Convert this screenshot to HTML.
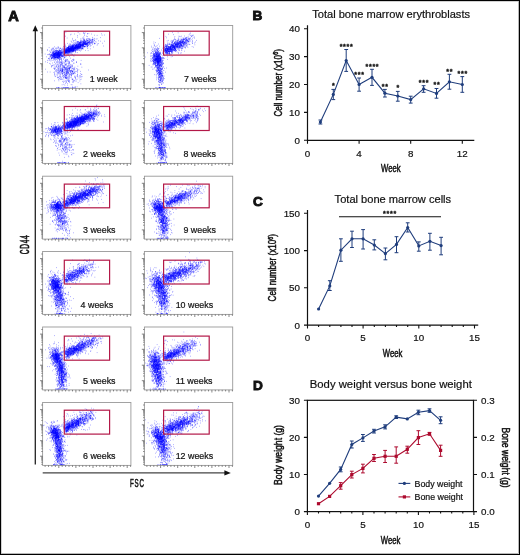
<!DOCTYPE html>
<html><head><meta charset="utf-8"><style>
html,body{margin:0;padding:0;background:#fff;}
svg{display:block;}
text{font-family:"Liberation Sans", sans-serif;fill:#111;stroke:#111;stroke-width:0.2px;}
</style></head><body>
<svg width="520" height="555" viewBox="0 0 520 555" style="will-change:transform">
<rect x="0" y="0" width="520" height="555" fill="#fff"/>
<g transform="scale(0.2)" fill="none" stroke="#0000ff" stroke-width="2.5"><path d="M264 288h3m39-26h3m-37 15h3m6-7h3m0 1h3m-11 17h3m-18-21h3m33 4h3m-8 1h3m-43 0h3m65-34h3m-21 34h3m-38-32h3m27 11h3m-23 16h3m5 9h3m12 2h3m-37 6h3m27-8h3m9-13h3m-1 18h3m-33-12h3m20 12h3m-52-31h3m24 10h3m8 3h3m-32 12h3m13-32h3m34 32h3m12 0h3m-34 3h3m-5-16h3m-29 28h3m-11-22h3m-3 17h3m27-16h3m1-1h3m-27 3h3m-12 3h3m24 9h3m-1 4h3m-11 1h3m19-10h3m-26 1h3m-3-3h3m-17 18h3m13-29h3m17-5h3m-23 11h3m-7-20h3m6 16h3m-5 2h3m-1-12h3m-2 6h3m1 14h3m-28-7h3m16 1h3m-33 16h3m25-24h3m-30-2h3m19 10h3m7 3h3m-22-23h3m10 27h3m-33-6h3m9-3h3m22-10h3m-32 13h3m29 8h3m-38 1h3m6 2h3m-8-13h3m19 19h3m5-5h3m-32-10h3m6-33h3m33 26h3m-30 37h3m-17-31h3m15-15h3m-8 33h3m-15-25h3m-19 16h3m41-5h3m-31-21h3m10 16h3m-19 16h3m33-25h3m-10 13h3m0-8h3m-19 15h3m8 8h3m-2-35h3m1 9h3m-14 10h3m-11-11h3m-8-2h3m-9 7h3m-6 2h3m18-9h3m-11 13h3m-31 11h3m27-6h3m18-4h3m-25 10h3m-34-25h3m28 9h3m13 1h3m-12 5h3m-18-22h3m42 33h3m-8-32h3m-34 19h3m14 3h3m-10 5h3m0-21h3m9-1h3m-12 13h3m-15 5h3m-15 5h3m-7-10h3m9-10h3m15-11h3m-11 38h3m-13-35h3m4 23h3m-7-4h3m6 4h3m-30 7h3m-17 7h3m20-20h3m-14 7h3m38-35h3m-28 28h3m-7-11h3m-22 13h3m30 11h3m-21-11h3m28 6h3m-10-14h3m-29 12h3m15-13h3m-59-15h3m35 15h3m30-1h3m-10 7h3m-14 0h3m-6-1h3m-24 16h3m-3-4h3m21-16h3m26 10h3m-75-21h3m47 11h3m-3 2h3m6 15h3m-37-16h3m1-11h3m10 17h3m-18 21h3m-10-22h3m3 1h3m10-4h3m5 2h3m-7 15h3m0 8h3m-19-15h3m-5-7h3m32 17h3m-26-17h3m-4 0h3m13-8h3m2 0h3m-1 6h3m-18-3h3m-9 9h3m2-5h3m-4 6h3m15-14h3m-21 5h3m4 4h3m-15 0h3m21-4h3m-58 23h3m33-33h3m1-11h3m-29 36h3m50-21h3m-38 25h3m-6-16h3m-21-10h3m37 33h3m-18-19h3m-18-7h3m10-6h3m7 14h3m3-16h3m-17 15h3m-21 12h3m-2-30h3m-29 17h3m24 5h3m24 9h3m-9-7h3m-15-15h3m-3 23h3m25-27h3m-24 6h3m8 5h3m-14-16h3m-12 52h3m30-29h3m-52-3h3m-4-9h3m9-9h3m-5 19h3m1 3h3m-6-13h3m24-2h3m-17 11h3m0-8h3m-39-15h3m15 27h3m28-10h3m-40 12h3m34-24h3m-43-9h3m21 6h3m-19 21h3m18 17h3m-21 7h3m4-26h3m25-26h3m-34 19h3m38 2h3m-44 7h3m-16-1h3m20 10h3m-15-24h3m30-21h3m-15 17h3m2-4h3m-5 41h3m22-33h3m-33-10h3m-3 25h3m-25 8h3m-6-11h3m15-1h3m12 7h3m-2-6h3m-40-8h3m25 10h3m-8 5h3m-26-3h3m25 2h3m-50 4h3m37-16h3m34-6h3m-59 19h3m12-16h3m-32 25h3m16-3h3m16-42h3m-29 28h3m12-11h3m-8 3h3m-1 9h3m5-5h3m4 7h3m9-5h3m-10 2h3m-28-9h3m30-1h3m-2 21h3m-57-37h3m42 42h3m-5-27h3m3 20h3m-18-43h3m-29 31h3m17 12h3m-35-3h3m31 4h3m29-28h3m-24 8h3m-1-2h3m-23 17h3m-11 1h3m-6-6h3m17-5h3m-18 2h3m0 4h3m25-17h3m-48 18h3m2-2h3m10-7h3m4-1h3m0 23h3m-28-20h3m26 7h3m-7 12h3m4-8h3m-28-5h3m21 8h3m-9-28h3m-17 5h3m6 8h3m-8 3h3m29-4h3m-74 36h3m25-7h3m-11-19h3m20-1h3m-11-12h3m4 13h3m13-23h3m-37 39h3m6-25h3m10 11h3m-23-19h3m28 27h3m-5-9h3m-17 19h3m-25-19h3m50-29h3m-20 13h3m-5-6h3m-3 34h3m-9-25h3m11-4h3m-15 18h3m-13-2h3m19-1h3m-16-10h3m-19-15h3m-4 8h3m29-16h3m-4 42h3m18-8h3m-47-8h3m-5 12h3m17-2h3m13-4h3m-16 1h3m-6 5h3m20-14h3m-51-18h3m-13-5h3m14 45h3m2-9h3m3-38h3m13 29h3m-16-10h3m17 0h3m-47-17h3m50 31h3m-50-2h3m32 5h3m-38 9h3m19-1h3m-7 5h3m2-17h3m0-2h3m-20-7h3m1 13h3m1-9h3m-31-7h3m12 26h3m-19-3h3m17-44h3m36 3h3m-25 23h3m-32-8h3m5 29h3m23-17h3m-26 9h3m-21 8h3m7 3h3m-7-19h3m0 10h3m24-9h3m-12 8h3m-29 2h3m14 7h3m-14-8h3m-7-12h3m-6 8h3m48-24h3m-34 23h3m14 11h3m-2-25h3m-26-9h3m15 16h3m-4-5h3m-7 7h3m28-13h3m-33 13h3m-13-11h3m16 27h3m13-24h3m-15 11h3m-27 7h3m-11-9h3m-3 7h3m0-9h3m14-5h3m5 1h3m-53 18h3m31-27h3m-21 7h3m27-4h3m2 2h3m-28 25h3m0-15h3m-12-2h3m20 2h3m-34 16h3m1-22h3m8 19h3m22-44h3m20 13h3m-38 34h3m-24 5h3m16-20h3m-20-4h3m22 11h3m-32-10h3m14 20h3m2-5h3m5-6h3m-16-17h3m23 17h3m-25-11h3m-35 6h3m42-10h3m-22 7h3m-9 8h3m34-2h3m-44 7h3m20 27h3m-24-41h3m34 11h3m-35-16h3m8 4h3m-32-7h3m49 20h3m-47-4h3m30-7h3m0-4h3m1 12h3m4-18h3m-51 19h3m27 20h3m-12-30h3m0-7h3m8-6h3m-16 24h3m-20-6h3m8-12h3m24-5h3m-47 18h3m16-16h3m-14 39h3m27-33h3m-49 9h3m19-3h3m-3-21h3m2 4h3m36 6h3m-16 6h3m-48-6h3m56 24h3m-61-4h3m-26 21h3m6-3h3m34-31h3m13 44h3m-77-28h3m56-46h3m-22-4h3m28 35h3m-27 20h3m26-19h3m-6 29h3m-52-27h3m64 4h3m-33 8h3m4-32h3m14 20h3m-57 11h3m21 8h3m-21 6h3m-6-4h3m21-35h3m3 25h3m22 2h3m-4-18h3m-36 18h3m-22 4h3m96-10h3m-32-15h3m-56 17h3m-24-1h3m9-5h3m12-14h3m18 1h3m-9-13h3m-13 18h3m-17 18h3m7-3h3m-15 4h3m4-16h3m-3 26h3m7-34h3m-58 31h3m34-12h3m-6-20h3m-23 4h3m25 21h3m-27-9h3m7 3h3m15 45h3m-10-42h3m-12-6h3m40 3h3m-29-19h3m1 7h3m-3 11h3m-29-18h3m-6 15h3m39-10h3m-32 10h3m-43-26h3m-3 62h3m51-42h3m-25 15h3m9-30h3m-16-2h3m5 21h3m2-6h3m-27 21h3m23-32h3m21-6h3m-6 24h3m-62 17h3m8 2h3m-6-16h3m24 0h3m21-23h3m-9 38h3m-55 6h3m41-8h3m8-49h3m-27 47h3m50-37h3m-62 31h3m42-9h3m28 9h3m-96-8h3m20-7h3m17-15h3m60-15h3m-119 52h3m50-36h3m-5 28h3m-24-14h3m-13-2h3m9 25h3m2-3h3m-32-27h3m69 1h3m-68 15h3m15 8h3m-13-23h3m4 5h3m11 3h3m-22 17h3m11 1h3m40-33h3m-12 42h3m-40-17h3m22-25h3m-46-6h3m25 14h3m-49-25h3m11 42h3m5 5h3m51 3h3m-30-9h3m-2-38h3m-8 25h3m5 16h3m-11-49h3m10 22h3m-14 27h3m-31-5h3m-6-36h3m51 17h3m3 8h3m-18 39h3m-64-34h3m74-21h3m-30 25h3m-12 3h3m0 3h3m-10 17h3m44-35h3m-8-22h3m-66 36h3m18-4h3m12 14h3m20-6h3m-98-11h3m84 11h3m15 1h3m-55-12h3m7 18h3m26-19h3m-24 4h3m-46 2h3m4 16h3m7 34h3m-21-43h3m28-30h3m-13 18h3m10-8h3m16 12h3m22-12h3m-34 52h3m-59-21h3m80 4h3m-48-36h3m135-43h3m-76 29h3m-11 7h3m131-36h3m-67-7h3m-62 53h3m-4-10h3m45-2h3m-57-4h3m112-39h3m-99 33h3m-7 7h3m5-15h3m-12 5h3m-9 7h3m-7 9h3m57-42h3m44-10h3m-98 36h3m18 0h3m-43 20h3m31-34h3m-32 17h3m75-27h3m-96 33h3m31 6h3m-27 11h3m121-54h3m-135 48h3m27-25h3m71-30h3m-61 37h3m-8 11h3m42-35h3m-25 15h3m24 2h3m-25 10h3m-13-22h3m18 4h3m-93 39h3m27-32h3m37-6h3m-73 33h3m87-42h3m-15 15h3m-34 4h3m-31 1h3m-14 8h3m17-16h3m-10 10h3m0 14h3m22-12h3m-17 7h3m92-29h3m-131 29h3m58-20h3m20-4h3m-31 25h3m-15-7h3m-25 5h3m42-14h3m-69 17h3m144-75h3m-154 87h3m66-36h3m-47 26h3m-13-9h3m45-19h3m17 8h3m-68 21h3m13-1h3m35-29h3m-48 25h3m65-21h3m-29 12h3m18-17h3m18-6h3m-101 36h3m15-8h3m54-22h3m-57 26h3m4-18h3m-40 26h3m52-31h3m5 6h3m-31 9h3m-31 15h3m17-12h3m-2 1h3m19-20h3m103-15h3m-142 29h3m59-32h3m42 4h3m-49 20h3m-82 26h3m51-24h3m12-14h3m-39 40h3m48-53h3m-58 59h3m-19-26h3m30-9h3m50-15h3m-94 36h3m19-2h3m27-24h3m48-16h3m-16-7h3m-62 50h3m-36 1h3m26-16h3m30-7h3m-8 10h3m-30 6h3m36-26h3m-69 35h3m97-38h3m-64 25h3m-40 9h3m66-19h3m-29-6h3m-19 17h3m-15-2h3m20-2h3m2-8h3m21 2h3m57-35h3m-50 35h3m4-24h3m-6 21h3m10-24h3m-16-11h3m-19 22h3m-12 21h3m-31 5h3m-34 14h3m25-18h3m48-14h3m-65 14h3m-3 22h3m69-28h3m-67 15h3m-41 7h3m44-21h3m65-15h3m-101 36h3m13-17h3m3 12h3m-26 9h3m48-22h3m-18 5h3m-23 6h3m8-6h3m-32 10h3m-8-1h3m35 0h3m47-46h3m-47 34h3m90-29h3m-94 47h3m-26-13h3m-8 16h3m36-15h3m9-8h3m36-5h3m-95 4h3m-10 24h3m-17-3h3m110-40h3m-37 8h3m-24 2h3m-35 6h3m-31 29h3m35-20h3m-7-7h3m88-27h3m-87 25h3m-44 20h3m112-38h3m-44 21h3m-3-25h3m-62 41h3m48-14h3m-30-6h3m37-8h3m-13 10h3m-19 12h3m-27-9h3m-22 5h3m83-28h3m-96 39h3m47-16h3m-46 18h3m26-29h3m-18 29h3m82-57h3m-12 23h3m-13 6h3m-28 9h3m-19 5h3m-2 0h3m-40 6h3m48-22h3m22 18h3m15-12h3m-77 25h3m41-21h3m-77 10h3m39 11h3m31-31h3m-80 33h3m2 4h3m22-22h3m-15 21h3m-5-29h3m69 2h3m-23 1h3m20-23h3m-31 28h3m-56 23h3m33-17h3m76-29h3m-105 29h3m8 7h3m28-12h3m9-3h3m24-16h3m-63 3h3m38 4h3m-23-10h3m8 0h3m-54 27h3m-8 5h3m-19 2h3m-6 6h3m39-15h3m6-6h3m79-34h3m-122 50h3m24-8h3m-43 3h3m72-38h3m32 12h3m-93 26h3m39-40h3m-45 48h3m113-44h3m-119 20h3m-14 10h3m48-16h3m-41 10h3m-6 6h3m71-26h3m-31 22h3m-13-29h3m-50 43h3m59-15h3m-81 2h3m17 14h3m44-23h3m-25 5h3m9 7h3m57-17h3m-94 32h3m10 3h3m57-49h3m-39 3h3m-35 28h3m75-26h3m27-1h3m-52 12h3m-81 22h3m0 14h3m19-16h3m-11 2h3m56-28h3m63-20h3m-146 58h3m15-12h3m24-33h3m-57 37h3m69-18h3m-36 22h3m53-24h3m-37 12h3m30-6h3m-86 22h3m57-17h3m-34 8h3m35-21h3m-21-3h3m-12-3h3m-11 21h3m-42 3h3m86-27h3m-84 39h3m18-20h3m88-21h3m-121 38h3m112-56h3m-90 49h3m19-7h3m93-51h3m-29 22h3m-88 19h3m51-11h3m-77 31h3m88-49h3m-77 41h3m26 1h3m-46-1h3m47-26h3m49-26h3m-105 50h3m22-13h3m-11-2h3m82-18h3m-74 30h3m85-49h3m-62 35h3m36-6h3m-117 39h3m50-23h3m14-2h3m-71 16h3m23 2h3m69-17h3m-84 8h3m-15-5h3m21 0h3m-5-2h3m78-22h3m-51 28h3m-64 18h3m102-28h3m-83 18h3m33-18h3m14-27h3m-88 57h3m101-52h3m-30 13h3m-49 21h3m19 8h3m38-22h3m-76 21h3m-19-5h3m55-17h3m37-14h3m-65 35h3m-29 7h3m0-1h3m36-29h3m11 12h3m-62 36h3m22-43h3m41-16h3m-22 18h3m-31 19h3m37-22h3m-20 6h3m12 7h3m38-42h3m-61 15h3m-19 13h3m-12 23h3m8-3h3m-30-1h3m0-10h3m19-4h3m52-11h3m-19 12h3m-61 9h3m71-33h3m-88 35h3m61-24h3m-70 38h3m60-29h3m-32 13h3m54-25h3m-5 2h3m-54 7h3m20-8h3m-59 35h3m94-38h3m-81 37h3m87-46h3m-1-10h3m-112 52h3m40-18h3m-24 15h3m-4-5h3m59-19h3m-18 7h3m19-9h3m-36 14h3m-27-5h3m-27 28h3m22-5h3m27-18h3m-21 13h3m24-20h3m-59 13h3m43-9h3m-20 2h3m-6 0h3m53-4h3m-42-9h3m-37 31h3m-28-4h3m2-12h3m-5 21h3m38-21h3m-19 7h3m-15 6h3m10 1h3m-46 11h3m33-19h3m27-11h3m-58 27h3m0-9h3m27-4h3m68-53h3m-57 41h3m-11 4h3m50-13h3m-70 10h3m-10 10h3m38-10h3m2 20h3m0-26h3m-62 27h3m64-37h3m77-1h3m-93 8h3m-53 20h3m-27 13h3m80-47h3m-21 11h3m-22 13h3m18-13h3m35 3h3m-87 19h3m97-12h3m-76 8h3m-8-7h3m8 3h3m-6 6h3m-18 0h3m-13 7h3m30-18h3m-40 10h3m41-12h3m74-11h3m-109 20h3m19-6h3m30-28h3m-67 35h3m-9 11h3m27-18h3m27 2h3m-21 5h3m-59 10h3m99-38h3m-49 25h3m-70 24h3m-6-4h3m-8-10h3m86-9h3m6-16h3m-74 29h3m-28 4h3m48-3h3m-17-8h3m58-21h3m-30-10h3m33 0h3m15-4h3m-78 34h3m-24 11h3m19-16h3m44-7h3m-31 0h3m-44 16h3m9-4h3m-14-9h3m40-24h3m56 16h3m-123 16h3m53-15h3m0 10h3m54-36h3m-105 57h3m59-53h3m-10 24h3m-18 10h3m-48 29h3m22-15h3m8-23h3m5 11h3m-56 16h3m79-47h3m-63 32h3m10 8h3m3-14h3m51-29h3m-40 19h3m-54 16h3m2-5h3m6 12h3m48-19h3m-69 30h3m24-32h3m16-4h3m-1 13h3m-54 17h3m14-9h3m28-22h3m31-6h3m-53 11h3m52 5h3m-26 1h3m-38-1h3m0 18h3m17-28h3m-28 24h3m-26 6h3m7-9h3m20 6h3m65-57h3m-31 26h3m-94 37h3m91-53h3m-61 28h3m83-20h3m-33 13h3m29-26h3m-42 32h3m-35 11h3m57-20h3m-95 27h3m50-20h3m-9 9h3m-72 18h3m70-33h3m-1-4h3m-27 25h3m-41 20h3m-14-18h3m19 3h3m55-15h3m-6 8h3m-59 11h3m77-42h3m-104 54h3m75-15h3m-75 11h3m64-24h3m-29 19h3m9-32h3m-29 30h3m104-34h3m-66 19h3m-49 11h3m7-9h3m2-3h3m-6-5h3m-17 12h3m-8-3h3m136-47h3m-117 44h3m71-33h3m-52 21h3m-8 7h3m-31 0h3m51-5h3m-39 9h3m46-15h3m-53 11h3m-30 13h3m70-27h3m10-5h3m-4-5h3m-21 8h3m-80 30h3m81-33h3m-89 32h3m71-31h3m32-17h3m-26 33h3m-54 1h3m-15 10h3m-27 3h3m35-6h3m-27 17h3m-26-5h3m-13 10h3m34-16h3m12 2h3m-19-2h3m22-10h3m0-3h3m-23-6h3m17 17h3m-43 20h3m-28-8h3m31-1h3m-7-5h3m44-6h3m-43-1h3m-15 12h3m15 0h3m-8-4h3m-9 0h3m-14 2h3m-12 0h3m54-17h3m-27 0h3m-14 25h3m16-16h3m11-11h3m-3-11h3m-5 22h3m-55 22h3m65-33h3m-16 9h3m-45 16h3m75-38h3m-89 32h3m77-28h3m25 0h3m-122 31h3m32-23h3m99-27h3m-102 40h3m13-9h3m31-11h3m-69 16h3m50-20h3m-4 5h3m-36 16h3m39-12h3m-19 8h3m20-14h3m3-5h3m-19-1h3m-57 27h3m-33 4h3m20-4h3m64-17h3m-6 2h3m27-27h3m-72 47h3m-45-10h3m84-12h3m-87 28h3m69-30h3m-80 35h3m60-31h3m-44 36h3m9-25h3m-13 5h3m11-1h3m-22-10h3m58-10h3m-48 8h3m78-8h3m-111 26h3m2 1h3m11-19h3m80-2h3m-35-20h3m8-2h3m-1 5h3m-2-14h3m14 1h3m-35 22h3m-40 27h3m12-5h3m-36-5h3m2 2h3m20 1h3m-20 10h3m41-34h3m46-15h3m-67 29h3m-53 21h3m23-14h3m-6 18h3m10-22h3m69-15h3m-62 17h3m-37 36h3m-14-12h3m-8-23h3m23 9h3m29-36h3m71 3h3m-68 9h3m13-24h3m-80 43h3m-8 7h3m81-17h3m-81 18h3m8-1h3m-8-7h3m11-5h3m-44 10h3m143-52h3m-122 49h3m10-3h3m7-11h3m-13 9h3m58-27h3m-103 46h3m26-18h3m-35 13h3m112-51h3m-44 19h3m-46 22h3m20-16h3m53-2h3m-57 19h3m-7-4h3m-42 18h3m-4-14h3m64-24h3m-74 31h3m109-40h3m-44 22h3m50-20h3m-68 5h3m53-11h3m-100 48h3m-20-3h3m53-17h3m-35-4h3m27 1h3m-14 2h3m-8-12h3m25 12h3m-32 16h3m5-8h3m-15-4h3m-23 10h3m11-10h3m64-16h3m-44 15h3m-61 29h3m49-31h3m-33 19h3m-18-2h3m62-31h3m29-7h3m-109 36h3m101-44h3m-66 40h3m36-15h3m-65 13h3m33-17h3m-39 21h3m-2-5h3m52-10h3m31-23h3m-33 3h3m-63 30h3m60-15h3m-38 27h3m28-25h3m-7-15h3m52-20h3m-16 17h3m-82 29h3m41-16h3m3 15h3m-33-15h3m10-5h3m66-20h3m-60 24h3m-56 23h3m-13 8h3m109-51h3m-38 24h3m-63 16h3m82-32h3m-80 13h3m-27 17h3m1 2h3m16 1h3m-48 8h3m55-27h3m47-19h3m-27 32h3m-21-21h3m-10 18h3m-44 15h3m24 0h3m-6-4h3m-6-8h3m35-5h3m-77 32h3m82-47h3m-35 2h3m36-13h3m-71 39h3m-17-2h3m55-15h3m-59 30h3m62-32h3m6 14h3m54-44h3m-35 2h3m-40 29h3m39-9h3m-53-2h3m-12 20h3m16 3h3m-61 10h3m44-5h3m39-47h3m-68 46h3m15-27h3m-68 28h3m88-37h3m-83 53h3m33-20h3m15 3h3m27-32h3m-47 11h3m55-1h3m-9-12h3m-65 19h3m29 6h3m-64 25h3m29-26h3m-24 16h3m5 0h3m64-41h3m-40 17h3m-8 12h3m-46 27h3m61-47h3m-17 21h3m-61 21h3m10-8h3m4-6h3m41-23h3m-28 23h3m13-13h3m-33-7h3m59-2h3m-58 13h3m33-9h3m16 12h3m-39-1h3m41-42h3m-30 28h3m4-10h3m1 18h3m6-45h3m-67 63h3m4-7h3m-28 7h3m21-4h3m105-28h3m-122 15h3m-9 13h3m55-20h3m30-12h3m-48 15h3m-61 29h3m64-29h3m0-6h3m-63 13h3m43 2h3m-17 12h3m-26 7h3m83-40h3m-97 43h3m58-48h3m-30 32h3m90-40h3m14-12h3m-131 62h3m74-42h3m-13 2h3m-61 19h3m-25 2h3m72-20h3m-36 33h3m-17 6h3m-6-19h3m14-1h3m57-9h3m-62-2h3m-27 15h3m38-26h3m-62 50h3m6-22h3m67-26h3m-78 33h3m8-11h3m48 11h3m-58 7h3m54-12h3m-57-16h3m20 15h3m15-15h3m-57 14h3m56-14h3m-37 27h3m12-9h3m-27-6h3m91 3h3m-125 22h3m58-41h3m-51 20h3m117-48h3m-107 48h3m-15 1h3m20-10h3m-49 31h3m44-32h3m25-4h3m-56 15h3m6 0h3m-3 11h3m-17-4h3m23-4h3m12-13h3m-34 22h3m22-19h3m11 5h3m-39-7h3m9 16h3m67-33h3m-119 35h3m3-1h3m8-15h3m64-14h3m-63 28h3m41-23h3m-29 24h3m-44-10h3m27 3h3m-16-3h3m54-18h3m-45 29h3m35-23h3m46-4h3m-94 19h3m-3-3h3m48-18h3m-71 19h3m34-11h3m62-19h3m-79 38h3m62-44h3m-81 34h3m14-13h3m121-53h3m-47 34h3m-5 2h3m-68 28h3m-36 8h3m59-6h3m-77-10h3m90-15h3m-43 26h3m-19-8h3m-6 13h3m-33 3h3m18-11h3m-16 12h3m-20-3h3m74-23h3m-6 11h3m-35-12h3m-11 28h3m-12 10h3m84-23h3m-36-19h3m-31 33h3m-24-34h3m2 4h3m-16 26h3m54-42h3m-68 31h3m-12 3h3m15 2h3m-8-3h3m70-36h3m-31 26h3m-67 20h3m86-29h3m-66 29h3m-4 4h3m99-52h3m-122 46h3m87-38h3m-101 33h3m52-2h3m-50 11h3m76-14h3m-73 15h3m-10-7h3m-11 20h3m14-21h3m69-26h3m-64 31h3m50-23h3m-68 12h3m45 1h3m-4-4h3m-12-2h3m79-37h3m-21 15h3m-80 5h3m-5 41h3m-10-50h3m42 1h3m15-8h3m28 10h3m-127 44h3m79-28h3m-59 0h3m3 31h3m77-34h3m-93-7h3m19 22h3m-29-18h3m32 4h3m74-14h3m-105 32h3m-11-14h3m16 1h3m-28 32h3m67-39h3m-37 21h3m-5-34h3m54 10h3m-84 27h3m57-42h3m-50 53h3m5-22h3m30 0h3m-32-9h3m24 3h3m-28 11h3m-36 5h3m67-25h3m-66 27h3m27-17h3m3-20h3m-50 42h3m29-19h3m80-27h3m-60 6h3m-7 36h3m-1-9h3m-8 8h3m-16 12h3m-21-6h3m-33-5h3m7-16h3m-8 32h3m5-14h3m14 1h3m45-10h3m-40-8h3m26-23h3m-74 48h3m4-14h3m104-52h3m5 18h3m-28-1h3m-86 44h3m10-26h3m62-13h3m-93 35h3m29-10h3m24-20h3m-50 36h3m-6-26h3m-13 29h3m46-10h3m-3-16h3m48-19h3m-39 2h3m-55 36h3m21-7h3m6-8h3m59-21h3m-98 39h3m22-14h3m-19-21h3m-12 14h3m5 10h3m7 25h3m29-25h3m-33-4h3m3-5h3m7-7h3m5 11h3m-11-10h3m29-7h3m-60 10h3m-5 7h3m1-9h3m56-23h3m40-11h3m-48 42h3m12-18h3m40-5h3m-80 6h3m67-17h3m-122 36h3m88-32h3m-68 27h3m-33-7h3m50 0h3m-42-1h3m-15 27h3m34-30h3m35-31h3m12-1h3m-14 10h3m-38 48h3m-3-38h3m-44 30h3m7 3h3m19-13h3m-28 11h3m81-22h3m-77 9h3m12 28h3m-5-5h3m-57 6h3m130-34h3m-127 30h3m18-16h3m68-42h3m-6 9h3m-79 49h3m79-35h3m-90 49h3m72-26h3m-51 7h3m21-19h3m46 7h3m-40-14h3m-79 1h3m50 5h3m-58 31h3m83-31h3m-63 22h3m37-12h3m43-73h3m-95 109h3m17-29h3m-31 5h3m94-73h3m-62 68h3m47-49h3m-63 14h3m15 29h3m-14 3h3m-50 10h3m35-26h3m-8 20h3m67-33h3m-70 30h3m36-14h3m-58-3h3m16 18h3m-19-17h3m60-2h3m-88 23h3m70-32h3m-60 50h3m-14-13h3m113-46h3m-59 31h3m-7 21h3m-64-42h3m43 24h3m14-13h3m37 1h3m-98 21h3m123-52h3m-95 46h3m-9-6h3m-23-3h3m20 3h3m-9 26h3m-28-7h3m-20-28h3m39 9h3m-5-10h3m17 18h3m-39-13h3m67-16h3m20 1h3m-91 38h3m61-46h3m15 6h3m-2 32h3m-26-38h3m-42 27h3m-40 4h3m13 2h3m23-1h3m-15-1h3m37-7h3m-23-21h3m20 12h3m-56 15h3m69-73h3m-47 81h3m13-20h3m-60 13h3m17 14h3m-37 6h3m49-62h3m-38 55h3m32 13h3m67-56h3m-81 38h3m-42-18h3m71-32h3m-73 34h3m15 25h3m70-29h3m-57-29h3m-44 64h3m-6-36h3m35-9h3m36 3h3m22-21h3m-26 20h3m31-9h3m-76 42h3m-7-22h3m11-8h3m-15 5h3m-1 41h3m20-24h3m-44 15h3m39-24h3m-36 8h3m58-5h3m-27-14h3m-5-22h3m-7 1h3m51 44h3m-47-40h3m-67 33h3m27-5h3m-28 26h3m20-39h3m0 11h3m1 7h3m34-41h3m8 18h3m-55 34h3m33-25h3m23-13h3m-96 42h3m1-9h3m10-10h3m3-4h3m-15 23h3m24-46h3m-1 6h3m-46 45h3m77-24h3m-34-5h3m21-24h3m-19-5h3m11 28h3m11-12h3m-75 31h3m79-31h3m-32-12h3m4 2h3m-49 29h3m-30 10h3m-95 107h3m33-17h3m54-6h3m11 66h3m15 31h3m-17-92h3m-36 4h3m28 0h3m-10-4h3m-39-10h3m-64-59h3m99 69h3m-37-6h3m34-9h3m-46-3h3m8 22h3m20 1h3m-20-57h3m-1 30h3m9 54h3m-10 15h3m-66-64h3m60 66h3m-4 26h3m16-62h3m-31 30h3m25-44h3m-44 53h3m-10-35h3m77 7h3m-67-1h3m-44-30h3m80 16h3m-15 30h3m-25-2h3m-56-17h3m81-4h3m-129-49h3m158 67h3m-35-25h3m-101-19h3m1-17h3m135 83h3m-98-12h3m-8-42h3m29 20h3m-8-22h3m39-42h3m-37 60h3m-21 17h3m-19-52h3m17 48h3m10-17h3m-60-3h3m124-30h3m-75 51h3m-16-64h3m46 91h3m-42-23h3m9 30h3m-50-59h3m-3 14h3m52-26h3m-41 4h3m49-34h3m-80 16h3m120 50h3m-91 12h3m33 4h3m17 2h3m-41-52h3m32 66h3m-96-122h3m61 33h3m-41 30h3m33-11h3m-56-3h3m74 24h3m29 23h3m-109 19h3m36-20h3m-84-58h3m60 8h3m21 33h3m-30-27h3m-15 61h3m4-41h3m26 8h3m-44-46h3m43 50h3m1 41h3m-2-37h3m32 36h3m-82-31h3m28 17h3m-54-57h3m32 78h3m24-49h3m-3-38h3m40 25h3m-88-28h3m14 28h3m-3 28h3m9-77h3m-4 2h3m25 70h3m-35-35h3m1-38h3m-12 36h3m-22 14h3m10-22h3m-23 75h3m-8-65h3m15-39h3m24 49h3m16-25h3m-37 98h3m-21-108h3m16 18h3m18 58h3m0-36h3m-20-29h3m-20 4h3m14 58h3m-21-18h3m21-64h3m12 4h3m-41 40h3m45 19h3m-87-89h3m18 76h3m52 33h3m-57-89h3m11 55h3m50 3h3m-61-49h3m-28 63h3m28-47h3m8 40h3m-9-35h3m-12-11h3m40 13h3m1 3h3m-25 67h3m-58-20h3m31-23h3m-12-12h3m61 23h3m-11 10h3m-82-21h3m-56-12h3m133 65h3m-92-99h3m-13 16h3m44 12h3m74 43h3m-20-21h3m-48-23h3m23 21h3m12-58h3m18 43h3m-89 9h3m44 54h3m-25-28h3m-12-48h3m-23-37h3m56 83h3m-25-9h3m-25-52h3m-31 31h3m40-23h3m31-27h3m-55 60h3m-3 8h3m17-19h3m-39 8h3m59 68h3m9-127h3m-68 46h3m57-1h3m-73 0h3m37 25h3m-21 3h3m39 2h3m-46-56h3m-42-6h3m33 115h3m0-70h3m72 20h3m-46-6h3m-29-33h3m-11 48h3m-19-59h3m10-3h3m12 33h3m16-13h3m-69-23h3m87 32h3m-21 5h3m-3 26h3m-35-91h3m47 51h3m-43-19h3m-41 45h3m46 26h3m-13-39h3m-8 30h3m7 6h3m31-22h3m-44-59h3m-47 42h3m64-2h3m-23 29h3m7-72h3m-2 55h3m-13-52h3m-24 50h3m0 6h3m12 1h3m1 19h3m-3-49h3m-8 30h3m-30-21h3m62 12h3m-34 23h3m-23-32h3m53 63h3m-38-61h3m-11-1h3m-16 7h3m24 13h3m-17 3h3m14-55h3m-19 70h3m43-19h3m-27 45h3m22-68h3m-39-5h3m-29 6h3m26 34h3m30 1h3m29 15h3m-92-32h3m-30-11h3m36-33h3m34 26h3m-7 18h3m-45-25h3m16-41h3m-34-4h3m29 94h3m-31-82h3m48 50h3m-65 25h3m-39-52h3m6 31h3m79 20h3m-24-26h3m-4-11h3m52 15h3m-22-42h3m-37 41h3m10-13h3m-30 25h3m15 31h3m4-85h3m34 42h3m-23 40h3m-74-28h3m18 27h3m-1-81h3m13 44h3m-1 53h3m31-47h3m-31-37h3m-23 67h3m33-40h3m-3-18h3m-54 52h3m78 7h3m-114-111h3m27 68h3m16 53h3m-14-38h3m18 1h3m-7 3h3m-16-13h3m5 3h3m16-56h3m-23 56h3m46-12h3m-8 17h3m-31 5h3m-17-24h3m-15 6h3m-28-39h3m24 46h3m-46 6h3m57-48h3m-35 49h3m-7 24h3m41-41h3m-7-1h3m-35-23h3m2 27h3m46 5h3m-28-12h3m3 18h3m-13-7h3m6 60h3m37-31h3m-6 46h3m-73-71h3m37 18h3m-53-52h3m63 31h3m-11-4h3m-43 0h3m44 42h3m-25-41h3m-70-14h3m88 54h3m-34-35h3m18 13h3m-61-12h3m4-12h3m-9-16h3m29-26h3m-14 98h3m49-61h3m-88-20h3m65 11h3m5-7h3m8-49h3m-39 86h3m-31-24h3m51 30h3m-31-33h3m24-6h3m-115-63h3m73 67h3m31-12h3m-38 3h3m4 12h3m-6-32h3m0 84h3m-5-90h3m-45 77h3m53 27h3m20-36h3m-70 10h3m-24-39h3m-21-13h3m73 36h3m13-26h3m6-34h3m-47 45h3m62 50h3m-24-38h3m-72 28h3m20-34h3m31-40h3m-12 41h3m-29-2h3m38-23h3m-43 14h3m36 18h3m6-33h3m-71 2h3m89 102h3m-6-123h3m-76 38h3m-3-37h3m24 35h3m5-41h3m40 68h3m-82 23h3m-10-46h3m-16-45h3m55 67h3m-46-77h3m36 65h3m2-22h3m-93-49h3m82 35h3m19 70h3m-75-50h3m-16-54h3m1 23h3m35 41h3m21-6h3m26-3h3m-63 32h3m-14-48h3m16 5h3m-26 34h3m37-36h3m-36-21h3m47 42h3m14 5h3m-49-13h3m13-2h3m-75 3h3m71-2h3m-63 10h3m34-41h3m28 51h3m-26-9h3m-1-32h3m-60 0h3m61 18h3m38 38h3m-60-7h3m21-29h3m-4 50h3m11 30h3m-35-43h3m-3 23h3m10-53h3m-26 37h3m29-33h3m33-4h3m-68-12h3m-22 58h3m50-54h3m-63 41h3m43-70h3m-11 76h3m-24-36h3m-15-46h3m86 23h3m-109 0h3m51 54h3m-80-83h3m50 70h3m73 12h3m-103 2h3m50 14h3m-10-69h3m-66 45h3m48-28h3m19 39h3m-1 15h3m56-18h3m-22-20h3m-55-13h3m-48-98h3m16 70h3m-9-56h3m40 108h3m13-19h3m-117-39h3m123 19h3m-31-25h3m-7 46h3m-72 47h3m73-83h3m-8-47h3m-62-20h3m88 182h3m-104-90h3m45-4h3m-15 4h3m44-41h3m-67 31h3m59 32h3m-11-33h3m-64 27h3m-8-3h3m78-1h3m-73-33h3m107-5h3m2 52h3m-75 54h3m44-83h3m-89-75h3m29 142h3m73-108h3m-6 83h3m-111-31h3m33-29h3m77 58h3m-80-86h3m35 105h3m-2-61h3m-138-68h3m82 61h3m-8 3h3m-64-2h3m19-62h3m80 58h3m-68-15h3m3 20h3m-2-22h3m63-15h3m-39 91h3m73-54h3m-8-17h3m-113 47h3m-11 22h3m72-21h3m36 10h3m-111 11h3m26-116h3m20 92h3m24-2h3m-75-9h3m65 53h3m-35-90h3m-36 68h3m21 4h3m61 25h3m-96-109h3m53 68h3m38-23h3m-64-5h3m40 41h3m-86-40h3m-2-38h3m0-9h3m-1 38h3m-36 5h3m65 47h3m-2-36h3m-48-62h3m47 74h3m-40-102h3m-48 31h3m120 17h3m11 80h3m-96-30h3m66 26h3m25 19h3m-64-4h3m-53-27h3m18-93h3m25 19h3m59 84h3m-40-59h3m-83 6h3m11 28h3m27-15h3m72 24h3m-52-77h3m49 128h3m-46-77h3m-31 37h3m-12-100h3m34 76h3m-12-2h3m-24 55h3m-49-59h3m39 26h3m-61-72h3m4 32h3m186 57h3m-178-31h3m16-42h3m12 107h3m-27-54h3m48-33h3m-49 21h3m56 45h3m-21-64h3m10-69h3m-51 135h3m29-12h3m-57-83h3m-19 60h3m10-32h3m-35-35h3m97 48h3m-46-78h3m2 7h3m15 87h3m2-36h3m60 24h3m-28 37h3m3-83h3m-136 49h3m125-3h3m-57-54h3m-52 80h3m91-67h3m70 34h3m-20-186h3m-62 41h3m54-27h3m-27-8h3m21 42h3m-71-41h3m51 24h3m-18 38h3m-32-1h3m90-62h3m27 50h3m-64 0h3m-15 16h3m-15-8h3m-78-47h3m92-14h3m91 63h3m-85-11h3m-50-41h3m-19-8h3m92 65h3m-32-52h3m-48 26h3m127-34h3m-51 33h3m-7-6h3m-145-39h3m47 41h3m126-35h3m-95-2h3m-17 28h3m56-8h3m-88 11h3m122 8h3m-41-9h3m56 9h3m-138-20h3m-28 6h3m16 32h3m-31-50h3m62 11h3m0 35h3m-8-1h3m4-4h3m-6-24h3m53 27h3m-55 5h3m10-55h3m-98 68h3m45-73h3m21 46h3m27-41h3m-25 64h3m2-25h3m62-3h3m-158 13h3m36 16h3m67-16h3m-94-11h3m101 7h3m23 13h3m-92 7h3m-64-43h3m80-27h3m-58 36h3m144-23h3m-82 44h3m0-2h3m65-30h3m6 28h3m-179 223h3m-54 0h3m63 0h3m-11 0h3m-40 0h3m5 0h3m46 0h3m-32 0h3m-19 0h3m-30 0h3m49 0h3m-18 0h3m-39 0h3m76 0h3m1 0h3m-13 0h3m-73 0h3m27 0h3m-5 0h3m-35 0h3m-8 0h3m48 0h3m-17 0h3m-28 0h3m64 0h3m-58 0h3m21 0h3m-9 0h3m-39 0h3m81 0h3m-42 0h3m-2 0h3m4 0h3m-31 0h3m46 0h3m-51 0h3m11 0h3m21 0h3m-31 0h3m-47 0h3"/><path d="M792 346h3m0-49h3m-8 8h3m-4-12h3m11-6h3m-25-17h3m16 34h3m-25-5h3m-27-21h3m1 16h3m-2 41h3m29-38h3m-4-5h3m-19-13h3m16-2h3m-17 27h3m13 5h3m-17-13h3m9 14h3m-34-33h3m4 8h3m4 16h3m25 13h3m-39-30h3m22 27h3m1-45h3m-15 50h3m-12 5h3m22-39h3m-28 19h3m11 6h3m-9-30h3m-10 7h3m7-2h3m4 20h3m-23 12h3m34-47h3m-45 11h3m30 25h3m-38-22h3m28 4h3m-31 27h3m32-23h3m-42 29h3m14-23h3m0-6h3m-4-13h3m-25-29h3m19 37h3m-18-29h3m12 54h3m12-3h3m-38 0h3m22 10h3m-5 22h3m-17-82h3m6 33h3m-20 24h3m9-25h3m6 1h3m-3 27h3m0-13h3m-1-43h3m-19 66h3m14-53h3m-26 27h3m12 5h3m-20-47h3m20 71h3m-4-23h3m-36 0h3m31 2h3m0-23h3m-16 23h3m-15 1h3m19-66h3m-8 23h3m-12 48h3m-11-42h3m7 33h3m6-17h3m-7 20h3m-1-55h3m-10 43h3m2-3h3m-6 6h3m3-2h3m-14-2h3m6 5h3m7 1h3m-33-18h3m18 40h3m-2-31h3m-6-13h3m-19 31h3m7-48h3m3 54h3m6-33h3m-8 9h3m0-1h3m2 9h3m-4-24h3m-11 5h3m11 15h3m-29-17h3m-3 13h3m17-6h3m-20-2h3m10-10h3m-16-1h3m-3 9h3m20-21h3m6 0h3m-23 87h3m-13-56h3m6 18h3m1-15h3m1 9h3m17-16h3m-47 27h3m38-25h3m-33 7h3m-3-32h3m-1 47h3m11-28h3m-7 5h3m-16 11h3m15-6h3m-19-3h3m19 23h3m-29-41h3m-10-23h3m8 34h3m-16-39h3m25 40h3m-5 31h3m-4 7h3m-34-52h3m26 27h3m-16-32h3m-11 35h3m13 19h3m-19-40h3m28 41h3m-31-22h3m17 48h3m-21-67h3m-6-5h3m36 41h3m-40-3h3m14-9h3m-27-25h3m18 16h3m-12-13h3m26 40h3m-11-18h3m-34-23h3m19-7h3m-18-11h3m4 18h3m11 9h3m-12 12h3m-1 14h3m-18-31h3m16 34h3m-13-69h3m-20 45h3m-1 15h3m9-27h3m13 14h3m-18 15h3m3-31h3m-23 20h3m17 16h3m-4-50h3m2 50h3m0-28h3m-19-26h3m19 36h3m-20 10h3m-14-17h3m3 10h3m15 1h3m-20-6h3m6-1h3m12 13h3m-19 2h3m-17-15h3m-2-40h3m6 11h3m4 18h3m-5 34h3m-11-13h3m5 26h3m-20-25h3m1-2h3m-8-15h3m18 30h3m-21-53h3m8 35h3m-9-9h3m-3-9h3m-23 36h3m38-13h3m-22-3h3m4-17h3m-17-22h3m-1 2h3m-23-22h3m21 21h3m10 34h3m-11 25h3m-12-53h3m34 44h3m-48 23h3m27-23h3m-29 18h3m-6-37h3m-7-9h3m14 13h3m11 13h3m-5-10h3m-28-2h3m20 9h3m-20-33h3m12 33h3m-11-58h3m-8 75h3m19-5h3m-8 22h3m-14-69h3m-7 8h3m-1-10h3m6-11h3m-14-17h3m8 66h3m-34-17h3m11-1h3m2-37h3m1 42h3m9 39h3m-33-35h3m21 10h3m-1-44h3m-53 58h3m49-34h3m-5 4h3m3 4h3m-22-10h3m14 18h3m-5-17h3m-25-3h3m-11-13h3m10-4h3m21 40h3m-21 8h3m6-28h3m-14 1h3m-5-9h3m18 13h3m-23 31h3m3-26h3m-5-17h3m15 31h3m-28-2h3m7-57h3m-8 29h3m17 35h3m-4-19h3m-4-9h3m3 9h3m-23-31h3m-24 3h3m4 22h3m21 1h3m2 32h3m-37-32h3m7 8h3m11 25h3m-6-47h3m-2 7h3m21 3h3m-22 8h3m-36 3h3m5 11h3m12-45h3m-16 0h3m4 26h3m5-36h3m13 68h3m-16-50h3m-11 6h3m-12 27h3m9-8h3m0 5h3m-2-13h3m-25-25h3m-4 26h3m12-14h3m-1-23h3m-5 31h3m-1 27h3m-17-39h3m0 3h3m17-4h3m-5 34h3m-10-61h3m-6 56h3m16-11h3m5-6h3m-28-14h3m6 13h3m5 47h3m-14-36h3m4-15h3m-10 28h3m4-47h3m6 51h3m-27-23h3m16 54h3m-20-3h3m0-36h3m8-6h3m-8-17h3m6 20h3m-14 5h3m-17-44h3m3-4h3m2 44h3m6-26h3m-26 20h3m5-2h3m-8 2h3m21-13h3m-11 20h3m6 16h3m-29 9h3m10-46h3m-29 15h3m17-4h3m3-36h3m-24 2h3m-3 32h3m21 8h3m3 6h3m-15-30h3m15 26h3m-7-16h3m9-10h3m-16 34h3m-5-59h3m-22-10h3m11 91h3m-19-41h3m9 16h3m0-19h3m-23-10h3m18-14h3m11-17h3m-4 44h3m-19-24h3m-10 22h3m-7 9h3m19-11h3m-27 7h3m10 28h3m-10-25h3m16-4h3m-14-7h3m25 30h3m-29 2h3m-5-41h3m-11 23h3m-10-11h3m19-10h3m-26-6h3m6 58h3m7-30h3m-37-52h3m39 62h3m7 14h3m-26-32h3m-23 0h3m12 2h3m26 12h3m-23-29h3m-20 23h3m13-44h3m0 58h3m-1-51h3m-35 22h3m3 16h3m34 7h3m-4-38h3m-30 6h3m6 46h3m-6-46h3m-5-4h3m3 6h3m-12 27h3m-3 1h3m-7 7h3m0-13h3m10-21h3m-1 19h3m-4 7h3m-14-40h3m8 10h3m1 12h3m-3 36h3m-8-41h3m-6 8h3m-23 3h3m2 7h3m19 2h3m-16-34h3m-6-40h3m18 76h3m-30-58h3m35 46h3m-28 6h3m5 6h3m1-40h3m-18 33h3m-7 8h3m5-1h3m-3 13h3m4-51h3m-16 13h3m-14 7h3m28 0h3m-38 29h3m43-12h3m-37-10h3m20 32h3m-16-22h3m-7-38h3m6 52h3m-25-53h3m12-2h3m-5 19h3m-15 0h3m14 5h3m21-1h3m-25-14h3m-2 1h3m6 29h3m-22-5h3m1-12h3m5-14h3m-2 18h3m3-23h3m-15-5h3m-22 54h3m37-14h3m-49-14h3m27 37h3m-7-37h3m4 16h3m4-5h3m-26-4h3m8-2h3m7 30h3m-13-12h3m-32-56h3m30 48h3m-17-59h3m-17 28h3m31 27h3m-31-29h3m-13 53h3m20-39h3m20 17h3m-35-1h3m14 8h3m-21 15h3m-4-61h3m5 29h3m12 3h3m-24 23h3m4-12h3m-6-18h3m-8-23h3m-4-5h3m3 14h3m4 23h3m15-4h3m-10 29h3m-10-23h3m-19 13h3m-10-46h3m27 30h3m-12-15h3m-2-2h3m-7 41h3m-7-27h3m-7-1h3m12 0h3m-12-29h3m-32 0h3m47 68h3m-40-34h3m5-3h3m-5 6h3m4-16h3m-1 3h3m-14-11h3m12 24h3m-6-10h3m4 24h3m-9 13h3m-7-57h3m7 37h3m-18-22h3m11 54h3m7-44h3m-14 19h3m-26-29h3m15 36h3m-23-41h3m32-17h3m-31-21h3m33 46h3m-34-3h3m14 10h3m-13-22h3m-7 20h3m12-3h3m-8-22h3m4 65h3m-15 8h3m-17-40h3m23 2h3m-1 2h3m-14 3h3m6-35h3m3 23h3m-19 36h3m4-45h3m-38 4h3m35-28h3m-41 22h3m-8-55h3m35 62h3m-6 36h3m42-32h3m-54 4h3m0-4h3m12-2h3m-47-28h3m57-38h3m-35 127h3m0-44h3m-20-84h3m47 114h3m-51-58h3m25 40h3m-21-32h3m-19-14h3m36 41h3m24-43h3m-69-57h3m16 95h3m1-22h3m4-1h3m0-8h3m-17 26h3m-5 36h3m12-19h3m-37-17h3m22-11h3m-23-24h3m25 77h3m-27-116h3m-14 32h3m6 26h3m-10 11h3m-1 4h3m11-25h3m-2 75h3m-3-21h3m-20-98h3m-3 30h3m6-15h3m12 87h3m-20-57h3m16-40h3m-26 46h3m-12-32h3m57 34h3m-47 28h3m11-62h3m7 43h3m-28 7h3m18-37h3m-15 41h3m6-38h3m14 40h3m-59-16h3m39-18h3m15 57h3m-20-10h3m-47-35h3m40-100h3m-31 116h3m24-30h3m-14 31h3m0-13h3m-24-6h3m27-8h3m-38 64h3m36-4h3m14-9h3m-44-73h3m-10 26h3m2 17h3m-19-66h3m33 91h3m-43-64h3m19 64h3m18-54h3m-6 32h3m-10-69h3m-15-24h3m-2 57h3m5-22h3m-7 2h3m-14 29h3m-1 25h3m-10 18h3m65-69h3m-48-11h3m5 44h3m-11-31h3m2-6h3m2 24h3m-22 55h3m-18-25h3m24-83h3m-11 134h3m28-113h3m-41 55h3m-28-27h3m20 54h3m24-23h3m2 25h3m-18-29h3m-32-7h3m20 41h3m-18-100h3m-4 21h3m23-10h3m23 37h3m-32-5h3m-6-12h3m-8 53h3m0-7h3m-63-22h3m55-41h3m19 113h3m-47-52h3m15-32h3m-32 29h3m-1 6h3m10-34h3m6 44h3m33-27h3m-56-10h3m26 48h3m-20-48h3m1 56h3m5-39h3m14-16h3m-3 47h3m-3-51h3m-31 36h3m18 22h3m-15-54h3m6-9h3m-2 45h3m16 4h3m-42-98h3m33 83h3m-23 24h3m-4-55h3m-6 51h3m-21-40h3m5-12h3m5 10h3m-10 35h3m15-39h3m-12-4h3m-8 19h3m33 19h3m-32-88h3m-33 108h3m31 5h3m-16-79h3m-5 32h3m13 14h3m0-11h3m4 56h3m-36-51h3m-17-20h3m36-2h3m-7 25h3m-18-33h3m25 0h3m-24 6h3m-7 74h3m-11-33h3m-35-54h3m54 45h3m-27-99h3m-3 87h3m10 18h3m-19-6h3m18 3h3m0 11h3m0 27h3m-6-26h3m20 53h3m-19 34h3m3-21h3m-8-31h3m2-46h3m-9 60h3m-7-20h3m0 0h3m-2 20h3m2-14h3m-10-9h3m1-21h3m2 70h3m-13-56h3m-9-27h3m-6 41h3m4 23h3m2-47h3m7 35h3m-17-47h3m16 85h3m-9-72h3m7 32h3m-31-24h3m-1 12h3m17 24h3m-15-26h3m-4 15h3m-9 39h3m16-12h3m-15-23h3m13 5h3m-19-43h3m-4 5h3m0-1h3m8 45h3m-11-16h3m-24-5h3m27 79h3m-15-71h3m-8 26h3m-3-11h3m6-13h3m-17 15h3m-9-60h3m12 47h3m-2 28h3m3 19h3m-14-56h3m4 48h3m-12-16h3m17-38h3m-28-35h3m11 56h3m-19-27h3m4 54h3m7-24h3m-9-56h3m3 30h3m4 25h3m-8 28h3m-21-114h3m14 90h3m1-55h3m-11 33h3m4-20h3m-7 55h3m-10-18h3m-2 43h3m-6-14h3m9-61h3m7-46h3m-19 60h3m-2-9h3m-9 21h3m-5-26h3m6 2h3m-3 42h3m-11-14h3m8-29h3m12 31h3m-27-37h3m1 27h3m5 28h3m-22-42h3m6-27h3m6 44h3m-12-15h3m-10 66h3m16-59h3m-21-15h3m14-18h3m-23-30h3m11 41h3m-1 27h3m-15-29h3m-15 44h3m34 9h3m-16-5h3m-2-41h3m-20-2h3m11 48h3m1-46h3m-18 2h3m-1 2h3m8 57h3m-19-96h3m9 89h3m-9-6h3m16 19h3m-20-32h3m-1 54h3m8-46h3m-44-46h3m12-18h3m12 43h3m5 12h3m-6-4h3m-3 21h3m-7 4h3m3-109h3m1 73h3m-23 2h3m21 16h3m-35-39h3m20 57h3m5-34h3m-4 39h3m-30-57h3m11 14h3m4-37h3m-21 13h3m5 18h3m6-8h3m3 26h3m1 3h3m-17-12h3m-7 1h3m-15-33h3m-1 20h3m2 6h3m16-17h3m-6 45h3m-13-5h3m0-42h3m-6 11h3m3 11h3m-6 5h3m-8 43h3m-3-52h3m12-13h3m-9 29h3m4 8h3m2 17h3m-30-64h3m7 21h3m-23 15h3m12-2h3m-6-52h3m11 58h3m1 31h3m-18-24h3m6-24h3m-23-25h3m2 1h3m0 29h3m2-23h3m6 0h3m-23-25h3m17 61h3m-7 12h3m-12-27h3m9 19h3m-4-14h3m9 45h3m-29-51h3m-8 3h3m16-37h3m-17 36h3m-11-10h3m-2-3h3m9 59h3m9-23h3m4 7h3m-11-21h3m-16-36h3m-9 30h3m1 29h3m4-57h3m-6 21h3m5 4h3m11 30h3m-15-28h3m-16 22h3m-1-3h3m0-28h3m-1 15h3m-26-43h3m15 22h3m6 31h3m6-5h3m-10-1h3m-12-8h3m7 23h3m-12-5h3m4-17h3m-35-48h3m22 116h3m3-95h3m-5 71h3m-13-52h3m7 43h3m8-63h3m-28 28h3m2-14h3m18 45h3m-7 8h3m-20-33h3m6-108h3m-12 106h3m16-53h3m-10 118h3m-19-90h3m6-74h3m-2 89h3m-11-52h3m-9 79h3m-7-75h3m16 71h3m-12-90h3m16 123h3m-7-54h3m1 34h3m-5-42h3m-7 1h3m8 37h3m-6-34h3m-7 60h3m-20-118h3m9-7h3m11 92h3m-23-54h3m-14-11h3m28 62h3m-13-21h3m6-111h3m-47 119h3m38-33h3m-3-23h3m-14 82h3m4-8h3m-14 37h3m10-87h3m-17-17h3m-1 80h3m-20-5h3m14-73h3m9 18h3m-14 57h3m-4-170h3m-17 76h3m12 70h3m-10-97h3m28 113h3m-7-41h3m-20-66h3m-4 76h3m23-1h3m-23-3h3m-10 30h3m-1-97h3m-18 48h3m10 45h3m-21-9h3m25-4h3m20-31h3m-27-6h3m-20 57h3m10-39h3m3 51h3m1-50h3m-35-19h3m14 17h3m-3 52h3m-2-37h3m42-95h3m83-82h3m-57 53h3m-38-4h3m-20 26h3m91-65h3m-32 5h3m-62 66h3m77-57h3m-45 40h3m40-47h3m-40 16h3m-31 37h3m-4-20h3m37-11h3m-53 13h3m22-5h3m-45-1h3m22 7h3m1 1h3m12 5h3m37-17h3m-20-6h3m-46 23h3m23-14h3m8 20h3m10-39h3m-8 21h3m13-16h3m21-29h3m-77 57h3m50-17h3m19-20h3m-104 31h3m112-34h3m-50 22h3m0-14h3m-61 42h3m-15-21h3m64-29h3m-27 22h3m24-9h3m28-3h3m-60 26h3m-43 0h3m8 14h3m10 0h3m71-42h3m-100 34h3m37-20h3m52-34h3m12-22h3m-34 30h3m-78 30h3m4 15h3m23-13h3m-15 8h3m40-21h3m-2 2h3m-13-8h3m-22 12h3m-28 20h3m44-10h3m6-43h3m-25 19h3m47-14h3m-87 32h3m-29 18h3m60-25h3m-13-4h3m27 5h3m-57 23h3m23-12h3m-24 7h3m92-40h3m-56-21h3m33 30h3m-93 22h3m26 21h3m-43-13h3m71-24h3m-2-23h3m8-1h3m1 15h3m-11 6h3m17 5h3m-39 8h3m-10 8h3m80-28h3m-103 4h3m-3 34h3m10-32h3m-36 29h3m16-14h3m-5 12h3m26-14h3m-48 18h3m-7-9h3m-39 2h3m40 0h3m-31 13h3m35-18h3m21-5h3m-53 38h3m66-40h3m-18-1h3m-23-2h3m8-14h3m-20 40h3m-36 6h3m95-53h3m-1-22h3m-38 33h3m-60 38h3m53-28h3m-15-5h3m-44 27h3m-7-3h3m21-14h3m2 18h3m-1-8h3m20-16h3m-63 20h3m-9 23h3m22-42h3m9 12h3m-48 7h3m19-22h3m85-25h3m-52 5h3m15 12h3m-56 13h3m-32 29h3m28-20h3m34-31h3m-32 27h3m-5-3h3m-9 28h3m58-27h3m-12-4h3m24-11h3m-9 21h3m24-38h3m-39 16h3m-56 40h3m22-22h3m-19-10h3m63-1h3m17-27h3m-50 37h3m4-1h3m-89 18h3m88-39h3m-93 48h3m78-60h3m46-21h3m-33 29h3m-10 2h3m-82 27h3m18-1h3m-7 7h3m-6-10h3m90-47h3m-97 53h3m-16-4h3m-1 1h3m11-1h3m23-32h3m5 13h3m-56 34h3m-1-14h3m-3 24h3m65-41h3m-84 49h3m1-17h3m99-40h3m-9-6h3m-37 4h3m35 2h3m-64 13h3m-37 31h3m31-34h3m11 6h3m-18 3h3m10 12h3m19-29h3m-79 52h3m55-33h3m84-27h3m-98 20h3m-19 23h3m29-15h3m39-22h3m-94 37h3m7 8h3m8-37h3m38 6h3m-95 29h3m11 5h3m32-13h3m-12-1h3m-39 10h3m88-52h3m-104 44h3m14 0h3m102-37h3m-77 12h3m57 21h3m-77 2h3m37-27h3m-7 23h3m35-16h3m-39 8h3m8-19h3m-75 44h3m76-24h3m-22 4h3m-15-27h3m-15 38h3m57-16h3m-77 6h3m10-20h3m7 8h3m-2 9h3m3-6h3m30-16h3m-18-29h3m-56 56h3m10-7h3m7 3h3m-6 15h3m-38-5h3m52-5h3m-10 6h3m33-20h3m-35-4h3m47 0h3m-34-7h3m3-1h3m-27-4h3m-21 16h3m-47 22h3m18 14h3m42-32h3m29-16h3m-103 41h3m42-23h3m-42 13h3m71-29h3m22 10h3m-88 21h3m32 9h3m47-40h3m-67 19h3m-26 29h3m52-41h3m-53 36h3m-19-9h3m18 11h3m36-29h3m-10 1h3m-32 22h3m89-62h3m-102 31h3m12 7h3m-1 19h3m29-8h3m-20-26h3m-6 23h3m-42 19h3m22-33h3m-40 14h3m51 13h3m21-27h3m-33 6h3m44-12h3m-2-28h3m-91 67h3m108-59h3m-60 25h3m-36 32h3m-9-10h3m124-60h3m-91 36h3m72-41h3m-45 29h3m-8 22h3m-67-10h3m78-31h3m-81 45h3m36-5h3m-5-14h3m39-5h3m-74 2h3m-18 20h3m-20 28h3m4-38h3m7 25h3m5 8h3m58-36h3m-78 36h3m42-40h3m-39 21h3m30 2h3m-15-2h3m-36 31h3m-6-13h3m17-12h3m94-48h3m-56 43h3m-27 5h3m2-19h3m21 1h3m-62 12h3m-3 19h3m-7-11h3m12 12h3m-19 8h3m32-23h3m-45-7h3m7 7h3m28-6h3m-47 21h3m24-12h3m52-18h3m-77 16h3m88-53h3m-57 26h3m5 25h3m14-10h3m-19-9h3m6 1h3m-61 42h3m60-48h3m-43 31h3m-18 8h3m39-26h3m-24 17h3m-7 5h3m52-44h3m-60 13h3m51-8h3m-46 4h3m-37 15h3m42 6h3m-36-4h3m0 5h3m86-36h3m-76 22h3m19 8h3m46-6h3m-11-32h3m-86 50h3m18-40h3m-12 24h3m-1 29h3m105-72h3m-136 60h3m51-15h3m-35 6h3m67-12h3m-83 19h3m-18 1h3m44-19h3m-11-23h3m2 33h3m48-22h3m-92 15h3m-12-5h3m56-6h3m25-4h3m-4 17h3m-17-23h3m60-30h3m-52 33h3m-61 44h3m27-41h3m-60 35h3m38-24h3m36 1h3m-54 30h3m-3 7h3m37-23h3m-43 10h3m91-63h3m-49 36h3m-39 26h3m23-18h3m30-37h3m-64 38h3m1-4h3m22 5h3m-63 20h3m19-18h3m-13 17h3m6-7h3m-2-13h3m-7 22h3m-11-8h3m80-42h3m5-15h3m-71 47h3m-15 10h3m-32-17h3m50-9h3m22-8h3m-46 31h3m-24-10h3m103-11h3m-99 17h3m40-29h3m-45 30h3m-21 19h3m0-11h3m-6-6h3m34-7h3m49-24h3m-81 35h3m112-70h3m-66 48h3m-39 58h3m-10-44h3m20-6h3m-47-5h3m-10 27h3m65-29h3m7-14h3m-62 32h3m16-20h3m40 2h3m-45 10h3m17-24h3m25-4h3m-82 46h3m-2-1h3m75-9h3m-83 6h3m56-26h3m-63 18h3m21 5h3m-33-2h3m19 4h3m11-19h3m-29 11h3m27-15h3m94-9h3m-33-29h3m-105 76h3m4-14h3m32-33h3m22 0h3m21-18h3m-51 37h3m-35 24h3m11 3h3m-30-15h3m-6 1h3m68-36h3m-71 41h3m125-72h3m-127 89h3m110-74h3m-70 30h3m-10-30h3m-12 43h3m64-48h3m-9 47h3m-3-22h3m-10-10h3m-32 25h3m-44 35h3m3-20h3m-16 11h3m-14-25h3m69-23h3m-36 11h3m35 1h3m-37-7h3m-3-3h3m40-5h3m-7 5h3m-83 47h3m44-10h3m63-34h3m-89 26h3m-10 5h3m-27-12h3m5 30h3m5-27h3m53-22h3m-80 41h3m8-16h3m33-9h3m0 13h3m-18 12h3m73-27h3m-39 3h3m-80 20h3m50-14h3m-60 10h3m42-39h3m-14 40h3m21-23h3m-37 16h3m31-24h3m-16 42h3m3-24h3m-22 22h3m-22-4h3m113-53h3m-37 15h3m-43 35h3m-44-19h3m46-7h3m-19 4h3m1 11h3m-46 9h3m76-31h3m-74 27h3m73-42h3m5 13h3m-45 28h3m-16-3h3m-1-21h3m36-13h3m-24 30h3m-8-12h3m-27 26h3m35-27h3m21 7h3m-17-25h3m-72 48h3m74-28h3m8-10h3m-50 0h3m43-17h3m-12 10h3m-86 33h3m47-18h3m-25 10h3m11-5h3m-28 12h3m19-15h3m-25 29h3m70-31h3m21-27h3m-55 43h3m-65 28h3m55-46h3m18 17h3m-4-3h3m2-10h3m-22-6h3m42-13h3m-21-3h3m8 12h3m-94 31h3m16-20h3m60-32h3m-87 49h3m23-17h3m18 7h3m-35 18h3m-15-1h3m52-33h3m-57 28h3m91-50h3m-55 22h3m40-4h3m-2-14h3m-48 35h3m-40 0h3m31-20h3m-29 31h3m-7 29h3m-22-21h3m58-40h3m-28 40h3m47-41h3m-49 17h3m-40 9h3m90-22h3m-103 33h3m61-36h3m41-15h3m-17 26h3m4-8h3m-26-13h3m18-23h3m-96 88h3m30-31h3m95-20h3m-70 9h3m-30 14h3m17-16h3m-22 10h3m0 1h3m32-19h3m-5 20h3m-53 2h3m57-31h3m-72 51h3m-24-13h3m107-47h3m-5 5h3m-113 36h3m35 3h3m-11-2h3m-25 21h3m17-16h3m3-21h3m-20 6h3m19-3h3m44-17h3m-60 29h3m60-32h3m-63 39h3m1-23h3m13 0h3m-24 34h3m96-65h3m-67 31h3m-19 17h3m46-49h3m23 9h3m-20 2h3m-9-5h3m-7 14h3m-29 28h3m-11-10h3m-10-3h3m28 7h3m-82 25h3m47-7h3m18-17h3m-52 9h3m-4-8h3m-26 15h3m14 7h3m62-60h3m-50 67h3m26-74h3m-52 61h3m14-1h3m39-44h3m-16-11h3m-31 35h3m18-9h3m10 10h3m27-27h3m2 2h3m-81 32h3m21 8h3m-36-7h3m42-18h3m-38 22h3m1 28h3m-22-60h3m-22 20h3m66-16h3m26-19h3m-15 17h3m-68 42h3m74-38h3m-84 28h3m66-39h3m38-13h3m-50 15h3m-11 38h3m68-41h3m-70 14h3m-26 21h3m10-21h3m-21 15h3m11-5h3m11-23h3m-59 42h3m36-27h3m-43 32h3m21-29h3m12-2h3m-11 18h3m-25 21h3m3-14h3m67-33h3m-61-8h3m28 2h3m-41 33h3m0-5h3m1 1h3m-27 31h3m46-17h3m8-44h3m-83 34h3m36-36h3m58 6h3m4 8h3m-26 24h3m44-66h3m-120 64h3m49-33h3m14 55h3m66-39h3m-122 8h3m-16 20h3m71-57h3m-30 22h3m30 39h3m6-57h3m-94 45h3m59-25h3m-44-8h3m42-30h3m-37 9h3m29 49h3m-71-4h3m-5 5h3m1 26h3m53-67h3m-78 50h3m19-17h3m38 4h3m18-24h3m-80 10h3m48 29h3m44-15h3m-41-3h3m9-19h3m-65 34h3m46-46h3m-35 33h3m-10 30h3m36-33h3m-9-32h3m-45 22h3m53-6h3m19 23h3m-91 23h3m42-30h3m22 6h3m-45-12h3m75-15h3m-106 35h3m28-32h3m2 32h3m-7-35h3m-13 30h3m47-1h3m-89-4h3m88 7h3m-51 23h3m-3-12h3m46-44h3m-71 33h3m25-13h3m51-21h3m-95 27h3m49-2h3m-35 37h3m-9-51h3m92 17h3m-63-30h3m-45 26h3m17-2h3m-13 12h3m45-17h3m8 25h3m-4-22h3m-61 39h3m41-54h3m-15 26h3m-14-41h3m9 6h3m21 62h3m-70-19h3m82-25h3m-78 38h3m18-12h3m-41-23h3m80-9h3m-61 67h3m3-26h3m78-68h3m-82 48h3m-40 8h3m54-15h3m9-7h3m-42 16h3m15-24h3m-23-10h3m-27 55h3m-2-5h3m29-9h3m83-25h3m-63-2h3m-52 51h3m89-70h3m-19 32h3m-2-7h3m-64 0h3m19 25h3m-20-2h3m19-18h3m12-12h3m-63 32h3m74-54h3m-80 29h3m-15 29h3m44-5h3m-48 2h3m47-6h3m-23-36h3m48 41h3m-37-14h3m-40 8h3m100-43h3m-73 39h3m64-37h3m-113 57h3m28-46h3m27 23h3m34-34h3m-97 28h3m25 24h3m13-24h3m19 21h3m-38-27h3m12 32h3m-23-6h3m-37-9h3m46 9h3m20-18h3m-59 33h3m64-62h3m-36-22h3m17 32h3m-60 38h3m34-2h3m4 2h3m12-4h3m64-44h3m-99 35h3m-13-7h3m-15 24h3m-8-16h3m-13 18h3m32-29h3m-31 34h3m76-59h3m-9-2h3m-65 32h3m-18 28h3m52-47h3m21 26h3m-27-37h3m-2 27h3m-8-10h3m-50 6h3m43-1h3m-29 22h3m7 0h3m17-28h3m-5-16h3m-58 35h3m79-37h3m-78 81h3m-10-53h3m69-14h3m-13 51h3m6-72h3m-19 64h3m-27 6h3m96-55h3m-68 23h3m-62-16h3m60 0h3m14-10h3m-81 65h3m7-6h3m98-98h3m-117 35h3m36 13h3m16 45h3m-53-13h3m-2-2h3m24 1h3m25-33h3m-15 18h3m18-34h3m-56 27h3m64-4h3m48-31h3m-115 62h3m-41 5h3m61-12h3m-57 14h3m107-52h3m-86 52h3m6-22h3m-39-7h3m45-19h3m-17 20h3m42 5h3m-62-5h3m89-39h3m-14 39h3m-83 39h3m-12-51h3m2 2h3m47-5h3m1 4h3m-47 8h3m27-65h3m80 51h3m-8 21h3m-96-30h3m-29 10h3m31 7h3m25-9h3m-81-25h3m27-26h3m8 34h3m17-16h3m55-16h3m-33 52h3m-53-3h3m60 16h3m-111 1h3m29-29h3m98 31h3m-94-7h3m38-36h3m-19 6h3m-56 6h3m65-4h3m-69-27h3m39 40h3m-21-38h3m-41 9h3m74 45h3m-31-30h3m-25 23h3m-56 219h3m6 0h3m6 0h3m-46 0h3m-1 0h3m18 0h3m-5 0h3m16 0h3m1 0h3m-30 0h3m6 0h3m12 0h3m-9 0h3m-21 0h3m8 0h3m5 0h3m11 0h3m-19 0h3m-19 0h3m-14 0h3m9 0h3m19 0h3m-14 0h3m-17 0h3m2 0h3m-22 0h3m41 0h3m-32 0h3m25 0h3m0 0h3"/><path d="M273 651h3m29 1h3m-33-26h3m0 30h3m10-13h3m-18 17h3m11-2h3m-23-4h3m-15-2h3m25-5h3m8 23h3m-21-23h3m15 6h3m-25 10h3m44-3h3m-52-24h3m14 15h3m-16-13h3m-3 10h3m-14 14h3m33-36h3m-27 28h3m-12-2h3m31 5h3m-6-9h3m-34 8h3m21-10h3m8 14h3m-20-1h3m-31 0h3m12-45h3m-7 47h3m-15-13h3m26 10h3m4-5h3m-55 12h3m29-17h3m-11 8h3m19-8h3m-23-12h3m-14 24h3m45-22h3m-30 15h3m27 5h3m-23 7h3m-25-5h3m-13-1h3m-4-3h3m16-13h3m8 13h3m18-5h3m-51-2h3m23 8h3m6-21h3m11 15h3m-12-10h3m-10-1h3m-2 0h3m-38 10h3m22-10h3m-26 16h3m59-10h3m-18 36h3m-33-50h3m-4 16h3m0 13h3m15 5h3m-23-13h3m2 9h3m-19-12h3m26 9h3m-4-16h3m-35-3h3m30 11h3m-18-2h3m16-1h3m-2-5h3m-32-7h3m19 8h3m6-3h3m-46 0h3m20 0h3m-21 12h3m27-4h3m-46-3h3m43-11h3m-25 9h3m15-5h3m24 2h3m-37 28h3m-24-20h3m-9-17h3m37 33h3m-43-11h3m-7-4h3m32 4h3m13-14h3m-17 28h3m22-25h3m-14 3h3m-12-3h3m-8 10h3m-5-7h3m-3-2h3m9 1h3m-21-5h3m-29 24h3m-7 7h3m5-29h3m17 3h3m-29 15h3m17-24h3m7 5h3m15 11h3m-41 2h3m-3 3h3m-14-24h3m5 34h3m9-14h3m31-9h3m-85 38h3m54-20h3m-4-29h3m24 35h3m-9-28h3m-20 8h3m-42-5h3m18 28h3m3-19h3m-10 8h3m26 1h3m-28-7h3m-18-22h3m23 38h3m9-24h3m-30-9h3m-9 14h3m1 0h3m13-4h3m2 3h3m-20 9h3m-2 17h3m23-16h3m22-13h3m9 22h3m-12-23h3m-53 36h3m8-30h3m-11-19h3m-4 37h3m-7-18h3m6-3h3m7 0h3m12 0h3m-1 6h3m-34-3h3m-5-14h3m22 16h3m-7 2h3m-26-6h3m8 6h3m-36 9h3m30-34h3m-30 2h3m26 9h3m-57 30h3m45-38h3m-21 35h3m6-22h3m11 10h3m-19-9h3m38-8h3m-14 5h3m-29-1h3m35-10h3m-34 9h3m2 3h3m26-5h3m-3-12h3m-35 17h3m11 0h3m-17 13h3m17-4h3m-27-1h3m23-4h3m-57-7h3m35 2h3m15 12h3m-22-1h3m-35 19h3m33 1h3m-28 1h3m3-31h3m7-2h3m28-2h3m-34 26h3m-24-8h3m49-17h3m-42-3h3m-7 13h3m3-3h3m0 18h3m27 9h3m-73-34h3m20-6h3m31 23h3m-15 0h3m-10-14h3m-34 17h3m47-9h3m-32-12h3m36 15h3m-72-3h3m46 0h3m3 12h3m12-30h3m-27 26h3m-17 2h3m15 7h3m-19-27h3m9 13h3m-46-16h3m36 12h3m3 16h3m-1 6h3m-9-14h3m27-26h3m-1-8h3m-15 27h3m-23-9h3m24 8h3m-27 0h3m-12 1h3m-3 20h3m-1-38h3m28 10h3m-4 12h3m-3 9h3m-23-28h3m-21 1h3m15 5h3m-12-13h3m-13 8h3m33 25h3m-55-18h3m0-7h3m2 10h3m9 5h3m3-12h3m15 6h3m1 11h3m-27 2h3m-7-12h3m12 16h3m15 1h3m-16-10h3m-4-30h3m8 33h3m-15-13h3m-7 16h3m-44-12h3m25-6h3m-17 3h3m6 0h3m10 24h3m10-30h3m4 0h3m-35 14h3m19-20h3m0 6h3m-49 3h3m41 16h3m-14-27h3m-32 21h3m33-2h3m9 10h3m-2-5h3m-27-2h3m17-19h3m10 39h3m-13-11h3m-42-4h3m35-30h3m-27 16h3m-4-8h3m29-7h3m2 4h3m-3-9h3m-83 16h3m76-4h3m-66 13h3m42-28h3m-32 26h3m28 17h3m7-24h3m-6-4h3m-26 4h3m-40 41h3m31-23h3m-2 0h3m7-5h3m13-9h3m-31 28h3m21-30h3m-37-18h3m8 31h3m16 1h3m3-8h3m0 3h3m-30 4h3m19-5h3m-31 26h3m55-17h3m-32-6h3m-14-3h3m-22-4h3m-3-15h3m16-6h3m-26 5h3m21 13h3m-30 4h3m5 15h3m42-17h3m-62-28h3m12 2h3m-14 21h3m47 48h3m-53-44h3m17 14h3m6-7h3m-15-11h3m25 17h3m-20-47h3m-2 19h3m-24-7h3m11 33h3m-14 32h3m-8-44h3m-12-11h3m62-12h3m-15 22h3m-56 7h3m25 4h3m20-22h3m-30 4h3m51 23h3m-79 16h3m30-16h3m-68-17h3m94 22h3m-48 43h3m7-76h3m24 27h3m-36-12h3m-10 12h3m-9-1h3m54-4h3m-3-22h3m-55 23h3m44-22h3m-53 25h3m-49 4h3m37-21h3m-5 11h3m25-12h3m2 13h3m-35 4h3m-3 2h3m5-47h3m-58 46h3m76-23h3m8 0h3m-24 30h3m-42 5h3m28-18h3m-17 27h3m1-4h3m55-26h3m-52 20h3m-12 16h3m24-55h3m-58 6h3m80-10h3m-36 16h3m-6 7h3m4 22h3m-56-24h3m56 27h3m-5-2h3m-15 3h3m-30-19h3m14-18h3m44 29h3m-63-4h3m25-17h3m13 17h3m-60 1h3m14-23h3m21 18h3m21-10h3m-29-2h3m-26 15h3m9-24h3m-47 23h3m55-21h3m-14 25h3m-10-10h3m5-7h3m3 18h3m-40-20h3m80-17h3m-82 46h3m23-40h3m1 41h3m-49 1h3m30-30h3m-24-2h3m-5 49h3m-21-32h3m42-15h3m24-8h3m-9-6h3m149-61h3m6-9h3m-108 81h3m100-81h3m-83 62h3m-8-18h3m36 3h3m5-10h3m40-11h3m-96 30h3m59-23h3m-8-11h3m-3-9h3m-3 30h3m-38 18h3m-34 1h3m24 3h3m47-56h3m28-4h3m-67 24h3m22 2h3m-108 31h3m27-1h3m83-34h3m47-13h3m-78 19h3m53-2h3m-61-11h3m6 13h3m-9 17h3m-54-10h3m39-7h3m-86 41h3m22 0h3m30-20h3m-22-10h3m46-18h3m-69 33h3m-3 13h3m111-44h3m10-24h3m-76 23h3m-25 7h3m15 12h3m-50 27h3m33-34h3m58-36h3m6-3h3m-94 55h3m-41-1h3m21-1h3m-2 6h3m33-35h3m-42 40h3m1-14h3m24 6h3m0-32h3m-35 46h3m103-77h3m-88 58h3m-20 14h3m64-42h3m-16 13h3m11-9h3m-17 4h3m-3 16h3m-31-13h3m-35 34h3m18 0h3m62-38h3m-69 13h3m17 4h3m15-6h3m32-14h3m-29-18h3m-48 21h3m21 25h3m-11-5h3m16-12h3m38-25h3m-27 23h3m-44 25h3m41-27h3m-59 10h3m33-6h3m38 1h3m-26-13h3m-15-3h3m-3 21h3m-40 0h3m8 1h3m-11 21h3m98-50h3m-90 16h3m107-30h3m-161 73h3m47-19h3m25-27h3m-49 22h3m-24 26h3m66-68h3m-40 25h3m-25 12h3m50-7h3m-28 11h3m-45 12h3m84-30h3m-50 5h3m-30 10h3m76-31h3m-104 31h3m61-26h3m28 3h3m-111 45h3m57-33h3m25 6h3m16-14h3m-17 1h3m-10 3h3m-57 35h3m-26 22h3m73-67h3m-79 43h3m13-11h3m136-54h3m-136 45h3m9 4h3m1 16h3m26-32h3m0-10h3m-19 24h3m-53 25h3m31-29h3m25 7h3m29-27h3m-27 23h3m-46 14h3m0-9h3m-18 3h3m-7 13h3m67-49h3m-7-4h3m-28 45h3m-14-26h3m-32 22h3m49-24h3m23-8h3m-47 7h3m12-4h3m10 12h3m-14 1h3m-70 10h3m61-3h3m20-13h3m-110 41h3m74-48h3m45 10h3m-75 41h3m18-41h3m-37 2h3m145-21h3m-116 26h3m76-32h3m-94 41h3m18-24h3m-12 10h3m-36 14h3m53-18h3m-4-7h3m-52 40h3m64-46h3m-60 41h3m-5-25h3m-18 21h3m8-4h3m46-34h3m-5 15h3m-3-6h3m32 4h3m-95 36h3m76-47h3m-46 13h3m79-32h3m-79 48h3m22-22h3m-39 11h3m-29 10h3m53-43h3m-49 53h3m94-63h3m-88 48h3m-14 8h3m48-36h3m38-14h3m-105 54h3m61-17h3m-49 4h3m-4 0h3m29-14h3m-75 30h3m21 2h3m-30-7h3m63-21h3m22-11h3m-74 42h3m102-51h3m-91 28h3m21-9h3m-5-8h3m-47 32h3m100-48h3m-76 20h3m35 0h3m-29 34h3m32-37h3m14-17h3m-116 52h3m32 3h3m-19-6h3m6-10h3m6-14h3m43 5h3m-75 1h3m34 8h3m-65 18h3m40-1h3m-24-3h3m85-46h3m-67 48h3m5-29h3m38 3h3m-49 20h3m-45-10h3m17 3h3m91-45h3m-4 6h3m7 2h3m-37 12h3m8 5h3m-98 32h3m36-29h3m78-50h3m-11 18h3m-85 44h3m-29 11h3m134-49h3m-27 4h3m-32-5h3m-62 38h3m66-29h3m-78 65h3m28-32h3m-53 14h3m43-14h3m1 4h3m-16-16h3m-10 32h3m-25-15h3m-15 22h3m106-39h3m-71 13h3m-13 10h3m44-39h3m-66 53h3m28-17h3m12 4h3m-50 10h3m108-68h3m17-12h3m-48 21h3m-121 57h3m24 7h3m-4-28h3m-14 8h3m80-36h3m32-25h3m-57 33h3m-48 41h3m22-26h3m-35 22h3m58-34h3m-25 19h3m7 2h3m-35 8h3m21-14h3m-41 8h3m95-53h3m-81 54h3m32-13h3m13-4h3m56-34h3m-75 22h3m-28 12h3m29 0h3m12-19h3m-85 34h3m31-22h3m-31 20h3m83-23h3m-32 11h3m-39 27h3m30-26h3m26-15h3m36-8h3m-82 36h3m45-38h3m-55-3h3m-2 27h3m-24 4h3m98-24h3m-133 47h3m16-18h3m-6-6h3m132-42h3m-114 57h3m-53-3h3m52-8h3m-19-3h3m43-11h3m-25 30h3m18-48h3m-5 22h3m-51 35h3m-23-10h3m13-19h3m119-78h3m-146 91h3m81-27h3m-63 14h3m12 18h3m-55-13h3m9 3h3m91-24h3m-97 38h3m107-44h3m-70 28h3m48-37h3m-53 27h3m-12 24h3m78-49h3m-76 43h3m29-23h3m-16 15h3m29-22h3m-45 10h3m-55 16h3m25 10h3m-32-2h3m44-35h3m29 18h3m-26-1h3m94-46h3m-71 15h3m-80 57h3m92-53h3m-68 18h3m-45 28h3m130-70h3m-55 55h3m-9-19h3m8 4h3m-10 13h3m-48 27h3m51-51h3m-41 12h3m45 0h3m-28 10h3m-73 47h3m26-40h3m59-7h3m-80 29h3m73-45h3m-117 22h3m72-4h3m-40 13h3m-7-16h3m28 14h3m51-42h3m-37 13h3m67-24h3m-60 42h3m-53 30h3m-16-3h3m6-9h3m10-8h3m-31-6h3m94-42h3m-61 38h3m42-20h3m-37 9h3m60-2h3m20-14h3m-145 42h3m109-32h3m6-14h3m-40 43h3m-66 13h3m13-10h3m-18 4h3m51-19h3m25-24h3m-79 54h3m18-30h3m-37 0h3m-31 29h3m135-54h3m-98 19h3m52-29h3m49-8h3m-33 31h3m-37 9h3m-30-25h3m-30 49h3m61-41h3m-35 11h3m43-12h3m-85 61h3m26-51h3m36-7h3m-53 2h3m88-12h3m-73 30h3m54-27h3m-36 17h3m38-39h3m-54 37h3m33-18h3m-33 6h3m-3 19h3m-30 11h3m53-44h3m-64 41h3m32-13h3m6-6h3m0 2h3m45-28h3m-72 28h3m-76 24h3m39-15h3m40-11h3m-78 35h3m48-38h3m73-24h3m-15 14h3m-4 10h3m-122 45h3m35-23h3m-16 15h3m-22-16h3m76-18h3m-1-13h3m-50 49h3m23-43h3m-8 23h3m49-9h3m-73 5h3m1-4h3m4 3h3m-27 8h3m37-26h3m61-27h3m-76 51h3m-5-1h3m-33-3h3m-14 4h3m9 7h3m-15 8h3m67-35h3m-90 41h3m-15 22h3m47-29h3m48-28h3m35-33h3m-44 46h3m-35-6h3m97-42h3m-175 53h3m52 8h3m71-64h3m7 8h3m-67 49h3m-47 6h3m82-46h3m-82 53h3m50-20h3m-8-7h3m-63 32h3m62-48h3m-39 29h3m-44 13h3m28-30h3m60-6h3m-104 39h3m20-9h3m58-24h3m-41 14h3m86-29h3m-33-2h3m-46 33h3m-16-7h3m-4 12h3m21-17h3m15 1h3m29 4h3m-75 7h3m7 2h3m-14-12h3m12-2h3m-15 13h3m57-17h3m-76 8h3m-15 16h3m68-17h3m-75 2h3m44 1h3m-11-4h3m-13 26h3m52-47h3m-71 24h3m50 2h3m47-22h3m-118 40h3m-24 23h3m25-34h3m50-20h3m-62 19h3m42-23h3m-36 28h3m-12-2h3m29 6h3m23-38h3m-38 26h3m60-57h3m-97 71h3m-24 3h3m20-11h3m3 4h3m4-8h3m58-38h3m-58 45h3m-26 5h3m-11-3h3m21 10h3m53-42h3m8 5h3m-81 35h3m35-30h3m56-20h3m-35 10h3m-31 5h3m9 0h3m-11 26h3m-39-1h3m26 4h3m4-13h3m-53 0h3m47-10h3m68-22h3m-102 38h3m54-23h3m42-21h3m-62 15h3m-76 51h3m167-64h3m-101 16h3m-43 21h3m113-48h3m-78 41h3m-54 12h3m-28 24h3m51-38h3m-36 12h3m22-25h3m-25 35h3m96-40h3m-121 36h3m19-1h3m57-38h3m-24 10h3m64-3h3m-57 17h3m5-37h3m-69 61h3m93-49h3m-115 65h3m35-31h3m25-14h3m-1-12h3m65-26h3m-129 58h3m88-57h3m-61 53h3m-36 2h3m-5 8h3m138-59h3m-123 28h3m32-2h3m18-15h3m6-2h3m-11-4h3m-43 34h3m21-28h3m-57 35h3m52-26h3m15-9h3m-29 16h3m-51 24h3m96-42h3m12 14h3m-138 33h3m115-52h3m-132 57h3m57-4h3m-11-33h3m30-9h3m-67 51h3m40-25h3m-49 4h3m26 12h3m-52 2h3m102-51h3m37 9h3m-122 52h3m68-35h3m42-29h3m-66 35h3m-44 3h3m75-6h3m-19-35h3m-7 29h3m30-6h3m-27-16h3m26-6h3m8 3h3m-94 56h3m78-44h3m-74 34h3m-29-1h3m19-4h3m59-28h3m-107 56h3m22-40h3m-39 33h3m77-40h3m-37 12h3m-12 28h3m-19-19h3m93-31h3m-43 15h3m23-8h3m-36 0h3m-65 26h3m33 16h3m-23-1h3m128-74h3m0-8h3m-115 62h3m90-45h3m-83 34h3m-49 32h3m113-57h3m-84 33h3m90-39h3m-117 43h3m42-8h3m23-14h3m17-37h3m-121 84h3m69-44h3m-30 16h3m54-17h3m10-14h3m-43 23h3m7-24h3m-48 47h3m24-27h3m25 3h3m-39 6h3m8-4h3m95-34h3m-78 29h3m-54 16h3m-43 23h3m87-24h3m-60 4h3m33-20h3m-40 27h3m-48 2h3m62-14h3m-44 13h3m-15 11h3m52-53h3m-12 38h3m11-14h3m91-55h3m-41 38h3m-20-9h3m-60 18h3m-48 23h3m113-45h3m6-7h3m-71 36h3m-6-3h3m58-18h3m-95 45h3m15-25h3m111-29h3m-51-2h3m-48 38h3m33-14h3m44-33h3m-95 39h3m-6-5h3m58 6h3m-38-23h3m-64 43h3m87-41h3m28 0h3m-36 10h3m10-17h3m23-18h3m-72 63h3m15-33h3m4-10h3m-25 37h3m-8-18h3m75-48h3m-128 78h3m98-57h3m-65 9h3m47-3h3m5 4h3m-69 10h3m-53 38h3m82-24h3m29-33h3m-54 16h3m7-2h3m-16 24h3m27-28h3m-59 36h3m64-37h3m-97 37h3m60-11h3m-47 28h3m31-45h3m59-13h3m-126 57h3m108-52h3m-75 32h3m56-11h3m-53 32h3m-42-6h3m24-15h3m41-10h3m-12-13h3m-28 11h3m23 2h3m3 3h3m-58 16h3m127-56h3m-90 9h3m-51 37h3m9 3h3m29-6h3m-45 0h3m-8 18h3m133-68h3m-27 18h3m-75 24h3m-51 36h3m33-34h3m44 2h3m43-43h3m-85 48h3m67-51h3m-106 54h3m-15 16h3m69-62h3m23 14h3m-51 22h3m96-6h3m-137 22h3m82-19h3m35-39h3m-117 48h3m11 12h3m-28 4h3m-32 24h3m73-64h3m43-25h3m16 22h3m-78 35h3m-13 3h3m-54 11h3m141-52h3m-54 10h3m-27 5h3m-34 19h3m-36-1h3m12 19h3m67-31h3m-18-11h3m37-28h3m36 5h3m-84 45h3m5-42h3m-46 43h3m-11 0h3m6 17h3m30-13h3m0-34h3m-62 36h3m34-31h3m0 19h3m-62 30h3m86-31h3m-57-9h3m32-15h3m-20 30h3m92-44h3m-34 3h3m15 0h3m-69 35h3m-15-1h3m84-18h3m-83 36h3m81-52h3m-137 54h3m62-42h3m14 2h3m23-13h3m-87 11h3m11 24h3m37-13h3m-50 18h3m-26-6h3m33-16h3m-17 27h3m-14 9h3m92-63h3m3-11h3m5 7h3m-36 24h3m-43 39h3m-59 13h3m17-14h3m-10-6h3m-33 19h3m118-68h3m-114 73h3m43-29h3m3-14h3m83-28h3m-71 49h3m-41-9h3m-15 2h3m5 4h3m6-1h3m-2 3h3m68-37h3m-27 21h3m-93 33h3m82-35h3m30 1h3m-55-10h3m-3 2h3m-62 40h3m82-52h3m-20 12h3m-14 38h3m42-58h3m-72 34h3m72-19h3m12-12h3m-84 18h3m47-1h3m-65 39h3m-1-17h3m42-14h3m-38 10h3m-57 17h3m72-35h3m19 6h3m-83 35h3m13-30h3m107-22h3m-28 4h3m-105 49h3m1 2h3m52-54h3m50-10h3m-24 6h3m-38 16h3m-28 18h3m-49 28h3m97-53h3m46 4h3m-96 7h3m-26 50h3m-13-21h3m37-1h3m68-47h3m-129 45h3m104-44h3m-14 1h3m55-11h3m-31 7h3m-94 26h3m-8 39h3m119-68h3m-154 41h3m31-9h3m-17 12h3m2 3h3m138-65h3m-56 18h3m-47 44h3m-9-33h3m47 0h3m-19 3h3m-75 45h3m-14-12h3m8-2h3m41 2h3m-50 3h3m29-18h3m22-13h3m-78 33h3m33-28h3m115-57h3m-33 25h3m-20 14h3m-14 14h3m-30-1h3m-16 6h3m-1 3h3m-43 12h3m53-20h3m-52 35h3m-6-19h3m72-41h3m-44 28h3m-68 36h3m26-24h3m-1 17h3m60-13h3m31-27h3m27-8h3m-26 12h3m-36 6h3m13-15h3m-18 8h3m-83 18h3m71-33h3m-9 10h3m-66 25h3m24-9h3m43-8h3m-79 29h3m51-27h3m4 22h3m-47-7h3m46-19h3m-53 35h3m54-40h3m-77 49h3m29-35h3m-59 48h3m153-81h3m-133 38h3m21 5h3m97-38h3m-132 49h3m9 3h3m88-52h3m-77 46h3m-40 9h3m68-19h3m67-38h3m-108 53h3m2-3h3m-32-1h3m101-46h3m-120 60h3m13 1h3m12-13h3m-47 2h3m17 16h3m22-20h3m49-13h3m-67 5h3m-33 18h3m54-28h3m-1-7h3m56 2h3m-15-13h3m-33 7h3m17-15h3m6 3h3m10 11h3m4 2h3m39-26h3m-128 46h3m17-4h3m24-34h3m-92 47h3m10 6h3m50-19h3m-12-1h3m-3 4h3m-15-3h3m46-20h3m-46 24h3m-6-4h3m-57 24h3m86-39h3m-15 26h3m-69 4h3m125-24h3m-93 7h3m27 5h3m-72 33h3m73-31h3m-54 5h3m48-51h3m-9 24h3m-54 36h3m86-17h3m-78 4h3m23-4h3m-65 29h3m53-11h3m-3-11h3m14 3h3m-18-19h3m-15-4h3m-50 38h3m42-30h3m7 13h3m31-24h3m-60 36h3m114-76h3m-64 34h3m65-30h3m-91 58h3m-27-4h3m90-41h3m-12 23h3m-48-4h3m-14 7h3m63-6h3m-98-1h3m22 26h3m-74 18h3m46-22h3m-37 18h3m89-40h3m-2-4h3m-93 56h3m106-90h3m-70 32h3m43 6h3m-117 36h3m93-34h3m-31 11h3m-10 6h3m-4 8h3m-24-21h3m56-13h3m-25 38h3m-71 9h3m66-33h3m51 12h3m-49-6h3m-27-2h3m23 4h3m-24 10h3m46-43h3m-28 34h3m21-23h3m-67 12h3m24 17h3m-52 22h3m-13 2h3m136-64h3m-139 51h3m91-42h3m-88 35h3m51-5h3m-52 17h3m52-11h3m-46 5h3m-24 0h3m-28 10h3m71-38h3m-54 25h3m19 28h3m40-71h3m3 6h3m-79 32h3m33 9h3m32-23h3m33-22h3m-64 41h3m18-24h3m56-18h3m-95 56h3m10-25h3m57-29h3m-104 54h3m148-65h3m-96 42h3m-58 14h3m62-23h3m-59 22h3m117-43h3m-57 9h3m-54 24h3m-39 9h3m41-15h3m-29 10h3m11 4h3m47-13h3m-74 15h3m55-1h3m26-38h3m-13 22h3m-31 5h3m-19-5h3m18-4h3m6-21h3m26 10h3m-60 40h3m-3-17h3m-21 24h3m-25-8h3m25-16h3m-5 5h3m55-32h3m14 0h3m-27 28h3m44-41h3m-3-8h3m-51 29h3m-36 25h3m9-17h3m71-55h3m-25 22h3m-55 52h3m70-52h3m-103 60h3m30-29h3m-30 5h3m39-9h3m-64 36h3m69-47h3m-71 21h3m21-1h3m-20 5h3m64-11h3m-87 16h3m113-57h3m-120 52h3m47-8h3m-33 8h3m65-30h3m-97 52h3m140-73h3m-16 38h3m-70 21h3m-41-9h3m37 9h3m-28-7h3m45-19h3m-89 25h3m68-17h3m-45 25h3m37-22h3m-29 9h3m-14 11h3m67-35h3m-54-1h3m38-4h3m38-11h3m-34 1h3m-62 57h3m94-60h3m-106 40h3m37-15h3m-97 45h3m90-52h3m-31 10h3m-46 10h3m10 21h3m95-52h3m-18-11h3m-68 56h3m32-26h3m-63 22h3m71-40h3m56 7h3m-88 27h3m-12-1h3m61-29h3m-24 3h3m-20 7h3m-41 36h3m1-25h3m17-11h3m41-1h3m-73 1h3m-6 15h3m31-18h3m-14 12h3m26-28h3m-44 30h3m14-8h3m-42 24h3m113-45h3m-90 45h3m97-58h3m-147 59h3m-30 11h3m121-56h3m-79 62h3m2-8h3m63-33h3m-38 11h3m26-33h3m-44 43h3m23-26h3m-42 9h3m-44 19h3m110-38h3m-28 0h3m-7 28h3m-27 7h3m-68 23h3m37-20h3m92-39h3m-136 30h3m48-18h3m8 11h3m47-28h3m-15-16h3m6 25h3m-24 0h3m-80 31h3m102-28h3m-65 31h3m5-24h3m-33 21h3m-13 8h3m107-57h3m-141 69h3m22-26h3m10-3h3m63-17h3m-64 24h3m35 4h3m-12-23h3m-63 31h3m112-47h3m-105 49h3m29-17h3m-21 19h3m-6-9h3m60-21h3m-1-18h3m8 12h3m-28 5h3m-57-4h3m45 23h3m41-23h3m-61-7h3m23 10h3m-74 49h3m10-31h3m-11 30h3m51-52h3m50 5h3m-108 27h3m-8-50h3m53 22h3m52-32h3m-112 62h3m61-46h3m36 15h3m-38 0h3m-43 13h3m47-26h3m-60 27h3m-52 12h3m49-7h3m65-55h3m-101 53h3m32-26h3m60 14h3m-114 50h3m59-63h3m-23 15h3m-31-5h3m1-3h3m79-2h3m-3 32h3m10-61h3m42 9h3m-19-39h3m-45 83h3m-9 13h3m-51-19h3m-2 5h3m52 5h3m-40-12h3m-86 10h3m36 8h3m-39-13h3m77 3h3m-38 8h3m46-8h3m-46 5h3m28-10h3m3-19h3m43-5h3m-110 36h3m60-35h3m-13 60h3m44-108h3m-72 74h3m4-18h3m-44 22h3m-1 8h3m100-46h3m-32 31h3m-91-9h3m68 5h3m-32 2h3m-16 27h3m27-51h3m-68 10h3m103-12h3m-34 8h3m-36 9h3m11-2h3m31 11h3m-50-2h3m93-14h3m-94 29h3m32-44h3m-55-1h3m81 16h3m-74-2h3m-59 27h3m45 8h3m15 2h3m-15 6h3m54-54h3m4 0h3m-3-18h3m20 10h3m-124 61h3m27 13h3m9-39h3m9-21h3m53 11h3m-65-5h3m-25 4h3m43 1h3m-66 29h3m54-29h3m-55 5h3m43-6h3m-70 15h3m64-41h3m6 35h3m62-13h3m-57 6h3m-75 48h3m13-19h3m23 16h3m2-52h3m-7 10h3m18-9h3m42-6h3m-50 26h3m-14-22h3m-62 18h3m142-85h3m-83 38h3m-32 63h3m-6-31h3m-15 42h3m-18-15h3m70-14h3m4-2h3m-41 16h3m15-3h3m-29-13h3m-12 21h3m-52 6h3m12-16h3m34-5h3m27-3h3m22-32h3m-70 65h3m14-49h3m43-27h3m-17 15h3m-58 58h3m7-26h3m100-35h3m-128 58h3m17-42h3m-4 22h3m2 16h3m33-18h3m-68 16h3m10 3h3m21-16h3m-24 18h3m-45-19h3m1 6h3m149-28h3m-133 35h3m88-64h3m-56 53h3m-25 8h3m70-57h3m-48 42h3m30-21h3m0 16h3m-64 14h3m11-2h3m-20 18h3m100-56h3m11-24h3m-89 32h3m20-6h3m72-35h3m-130 71h3m70-36h3m-105 47h3m123-68h3m-44 58h3m31-42h3m-112 31h3m86-18h3m-61 42h3m94-61h3m-64 35h3m-39-6h3m81-7h3m-20 5h3m-29 20h3m-48 7h3m3 26h3m29-30h3m-3 2h3m23-10h3m-90-1h3m2 27h3m-10 7h3m110-49h3m-110 25h3m33-28h3m-35 21h3m-22-2h3m119-29h3m-84 18h3m44-7h3m18-11h3m-42 13h3m38-30h3m-80 39h3m86-5h3m-70-20h3m76-5h3m-135 41h3m117-54h3m-102 56h3m-6 38h3m11-32h3m120-50h3m-155 68h3m75-29h3m10-18h3m-27 30h3m-5-20h3m10-20h3m-41 27h3m87-42h3m-71 60h3m-27-44h3m-43 33h3m68-21h3m-12 5h3m-77 30h3m98-61h3m-105 64h3m52-20h3m10-34h3m-15 25h3m-41 21h3m88-42h3m21 20h3m-94-11h3m56 3h3m-43 17h3m-51-7h3m48 14h3m-72 0h3m106-30h3m65-52h3m-111 60h3m53-7h3m-74 39h3m82-55h3m-62 29h3m1-8h3m-40 36h3m12-14h3m-35-31h3m-12 69h3m22-53h3m-6-15h3m14 5h3m4 9h3m2-6h3m43-41h3m-37 52h3m28-34h3m-74 45h3m105-18h3m-62-2h3m27-61h3m-105 71h3m40-11h3m45-5h3m-51 33h3m-28-19h3m-13 12h3m39-10h3m-27 17h3m11 1h3m86-38h3m-106 10h3m38 9h3m-72 6h3m15 7h3m1 9h3m78-37h3m-103 34h3m71-48h3m46 8h3m-94 35h3m-17-38h3m103 11h3m26-18h3m-134 10h3m104 8h3m-15-7h3m-37 11h3m-37-13h3m9 0h3m-66 46h3m97-35h3m-2-6h3m-10 25h3m-98 7h3m-15-11h3m106-45h3m-82 65h3m94-41h3m-74 37h3m68-39h3m-69 34h3m54-37h3m-68 37h3m-34 19h3m71-37h3m9-30h3m8-15h3m-83 56h3m26 31h3m38-56h3m-24-13h3m1 0h3m-79 39h3m93-17h3m-38 19h3m-48-20h3m45-13h3m0-1h3m-79 8h3m142-32h3m-145 66h3m32-9h3m-30-6h3m-29 20h3m40-8h3m-15-4h3m34 6h3m48-22h3m5-24h3m-4 4h3m-38 11h3m-64 66h3m66-80h3m-17-5h3m-24 1h3m-12 10h3m33 12h3m46-30h3m-44 18h3m-54-22h3m73 42h3m-78 17h3m61-77h3m32 28h3m-119 32h3m39 39h3m-41-20h3m13-25h3m104-66h3m-86 90h3m-43-17h3m21-9h3m-4 12h3m-56 21h3m34-38h3m27 24h3m13-28h3m16 22h3m-81 12h3m17 3h3m22 3h3m-39 0h3m118-72h3m-26-10h3m-60 50h3m-28-10h3m20 5h3m-39 18h3m93-38h3m-29 31h3m-27 7h3m-69 28h3m9-17h3m34-15h3m-12-16h3m35 26h3m23-44h3m-96 58h3m35-20h3m-34-16h3m23 26h3m-22-11h3m48-4h3m-17 22h3m40-55h3m-90 54h3m49-41h3m-34 29h3m-46 18h3m15-17h3m2 5h3m1 7h3m82-42h3m-68 35h3m5-10h3m-70 19h3m49-40h3m-25 39h3m89-47h3m-34 30h3m-7-19h3m-4 11h3m2-12h3m-54 12h3m27-11h3m22-64h3m23 53h3m-39-3h3m27 13h3m-93 47h3m41-47h3m18-8h3m-6 14h3m-42 19h3m13 4h3m14-41h3m39-4h3m-62 60h3m-41-11h3m118-23h3m-140 121h3m-36-22h3m11 41h3m14-4h3m-24-45h3m58 72h3m-28-19h3m-18 4h3m-39-74h3m29 6h3m-48 19h3m33 6h3m11 25h3m18 5h3m-29 8h3m2-56h3m1 82h3m-15-76h3m-22 5h3m38-3h3m-9 61h3m-69-108h3m61 99h3m-37-42h3m10-15h3m-59-35h3m57 50h3m7-19h3m16 2h3m-71 7h3m47 5h3m-45-14h3m48 19h3m6 30h3m-28 48h3m4-92h3m-2 68h3m13-38h3m11 23h3m-57-68h3m0-13h3m16 26h3m-13 38h3m32-6h3m-80-70h3m41 70h3m43 24h3m-62-39h3m19 36h3m-60-38h3m36 25h3m-16-34h3m-13 19h3m38-62h3m23 79h3m5 31h3m-33-76h3m-24 37h3m-8-23h3m-34 24h3m60-14h3m-6 0h3m-30 7h3m6 4h3m2 15h3m32 34h3m-44-31h3m2-7h3m-8-41h3m-24 10h3m50 1h3m-46 16h3m-16 14h3m25-41h3m-42 37h3m15-17h3m25 2h3m-32 7h3m45 0h3m-4 2h3m-27-23h3m0 46h3m11-26h3m12 30h3m-50-102h3m-27 64h3m14-8h3m61 43h3m-20-29h3m-26 16h3m-27-4h3m16-26h3m-31 16h3m14 3h3m-1-69h3m13 41h3m-30 3h3m5 20h3m12-19h3m-20-18h3m21 4h3m-43-5h3m2 25h3m34 35h3m-37-38h3m18 64h3m-12-98h3m-5 82h3m11-54h3m-8 51h3m-17-57h3m20 41h3m5 31h3m-58-53h3m51 26h3m-13 15h3m-47-62h3m19 41h3m7-16h3m-3-31h3m0 54h3m8-6h3m1-9h3m-38-19h3m-4 22h3m11-9h3m15 6h3m11 14h3m-46-26h3m1-8h3m26 56h3m-2-28h3m-24-52h3m45 57h3m-34 25h3m17-9h3m6-24h3m-33-36h3m9 2h3m9 25h3m-41 22h3m2-40h3m19 23h3m-7-1h3m-13-52h3m6 26h3m6 82h3m-30-91h3m9 31h3m9-44h3m-9 26h3m-33 25h3m8-35h3m3 48h3m25 10h3m-39-7h3m-32-71h3m17 50h3m4-12h3m19 2h3m4 33h3m-36-60h3m22 50h3m-12-38h3m15 29h3m-17-8h3m-1 0h3m-15 31h3m16 8h3m-71-60h3m40 29h3m-9-79h3m10 56h3m3 55h3m-53-56h3m47-4h3m-14-2h3m-11 4h3m18 40h3m32-16h3m-72-32h3m-3-18h3m-14 55h3m55 15h3m-56 7h3m37 19h3m-12-22h3m-4-38h3m36 13h3m-6-70h3m1 110h3m4-87h3m-58 19h3m32-7h3m25 34h3m-96-5h3m-26-55h3m56 144h3m8-111h3m-25-56h3m-23 0h3m24 73h3m-52-51h3m45 27h3m-11-42h3m11 51h3m39 7h3m-85-50h3m80 119h3m-105-74h3m77 18h3m6 67h3m1-50h3m-41 22h3m-70-80h3m-17 2h3m98 33h3m-45 30h3m19 19h3m-18-12h3m14-29h3m-12-10h3m-1-4h3m30-3h3m-52-38h3m-26 48h3m81-6h3m-49 40h3m28-49h3m-9 50h3m-38 18h3m62-32h3m-74 10h3m62-64h3m-59 97h3m44-40h3m174-162h3m-167 33h3m55-15h3m-30-11h3m34-32h3m-43 17h3m87 24h3m2-41h3m-140 64h3m178-30h3m-192-8h3m48 19h3m-14-10h3m-43 11h3m178 15h3m-117-62h3m72 9h3m-9 49h3m-126-33h3m40 16h3m80-47h3m-80 33h3m-22-34h3m5 9h3m-28 0h3m103 57h3m2-24h3m-31-22h3m22-12h3m-72 5h3m-14 38h3m59-14h3m-87 0h3m-33 46h3m19-20h3m-5 6h3m4 12h3m18-35h3m93 9h3m-135-8h3m-31 226h3m-2 0h3m-35 0h3m34 0h3m-41 0h3m35 0h3m-33 0h3m30 0h3m-39 0h3m2 0h3m21 0h3m-26 0h3m1 0h3m13 0h3m-9 0h3m24 0h3m-40 0h3m22 0h3m-44 0h3m3 0h3m18 0h3m-28 0h3m47 0h3m-23 0h3m-2 0h3m-16 0h3m32 0h3m-48 0h3m12 0h3m-1 0h3"/><path d="M791 634h3m-28 16h3m41-3h3m-33 13h3m-9 42h3m26-85h3m0 42h3m-26 1h3m-12-36h3m9 75h3m8-21h3m-31-64h3m9 87h3m29-79h3m-13 44h3m-10 26h3m-5-44h3m0 29h3m-24-49h3m26 6h3m-24 5h3m-26 19h3m20 40h3m6-3h3m-14-66h3m-23-6h3m9 37h3m-8-25h3m20-11h3m-6 26h3m-1 15h3m-4-18h3m-12 1h3m-6-3h3m-7 28h3m19 7h3m3-21h3m-30-18h3m13 19h3m-3-14h3m-1-23h3m9 29h3m-18 8h3m12 11h3m-13 1h3m-16-23h3m-24-6h3m25 22h3m5 20h3m-20-23h3m-15 6h3m17-37h3m-16-7h3m-6 33h3m21-21h3m-6-40h3m-16 66h3m22 13h3m12 19h3m-30-56h3m-22 0h3m1 11h3m16-14h3m-25 51h3m16-20h3m-23-34h3m26 36h3m-31-11h3m-22 9h3m29-47h3m1-22h3m-4 68h3m-15-22h3m-11 15h3m13 2h3m-10-10h3m9 43h3m8-26h3m-48-61h3m24 47h3m-27 19h3m34-11h3m-8-2h3m-22-19h3m-4 16h3m-10 2h3m-1 19h3m0-17h3m30-11h3m-56 19h3m22-21h3m20 30h3m-23-28h3m24 46h3m-45-45h3m13 17h3m-7-12h3m13 26h3m-21-4h3m-4-38h3m25 60h3m-13-8h3m-13-16h3m17-22h3m-42-21h3m30 45h3m-21-27h3m0 19h3m12-61h3m-19 41h3m28 34h3m-28 3h3m8-21h3m-16 17h3m7-42h3m15 59h3m-37-47h3m30-18h3m-20 12h3m-5 25h3m-15 9h3m-12-47h3m14 39h3m10 8h3m1 4h3m-2-26h3m-23 13h3m24-49h3m-24 4h3m-12 81h3m-8-40h3m-15-8h3m10 36h3m13-38h3m-17-2h3m46 15h3m-37 14h3m-26-70h3m15-1h3m-5 66h3m-15 4h3m8-57h3m-17 37h3m26 23h3m-32-4h3m4-15h3m29 27h3m-27-50h3m-11 21h3m24-4h3m-22-16h3m-42 9h3m35 23h3m-28-1h3m42-11h3m-9-48h3m-12 76h3m0-26h3m-26 1h3m45-13h3m-28 30h3m-18-36h3m-7 10h3m-1-11h3m20 40h3m-15 4h3m-3-41h3m10 59h3m-27-66h3m9 11h3m6 8h3m-13-24h3m-11 18h3m-19-18h3m8 6h3m27 15h3m-8 22h3m-50-38h3m21-28h3m-10 20h3m3-11h3m24 25h3m-15 21h3m6 5h3m-31-48h3m14 76h3m10-77h3m-20 30h3m-4 4h3m-7-24h3m-8 40h3m-6-37h3m-13 18h3m40-27h3m-38 11h3m-14 20h3m27-16h3m-16 5h3m10 14h3m10-38h3m-39 27h3m19-37h3m-5 56h3m-2-21h3m2 23h3m0-29h3m9 5h3m-34 2h3m3-8h3m-23-3h3m31 44h3m-30-19h3m17-14h3m28 4h3m-38-2h3m-3 49h3m0-16h3m-27-27h3m9-22h3m20 56h3m0-77h3m-2 36h3m-25 19h3m22 0h3m-26-46h3m-12 31h3m-11-15h3m-2 16h3m18-26h3m-13 30h3m-14-17h3m20 14h3m-5-28h3m-1 8h3m-10-7h3m13 46h3m-54-21h3m38 7h3m-20-30h3m16 30h3m-22-17h3m-29 27h3m26-28h3m-34-35h3m35 62h3m-17-62h3m4 58h3m-15-7h3m32 34h3m-11-59h3m-7 63h3m-14-12h3m13-21h3m-7 28h3m-16-50h3m-8 0h3m4-9h3m34 21h3m-42-19h3m2 70h3m19-25h3m-30 8h3m7-46h3m-9-12h3m14-12h3m-48 16h3m-4 49h3m27-36h3m24 11h3m-11-14h3m-17-26h3m4 65h3m-8-45h3m-18 19h3m17-5h3m-14-9h3m-4 22h3m-12-35h3m27 47h3m-33-13h3m29-17h3m-28 4h3m18-12h3m-10 24h3m-11 26h3m6-10h3m-34-23h3m33-11h3m12 38h3m-10-16h3m-36 11h3m27 1h3m-43-15h3m27 5h3m8-36h3m-10 5h3m-17 21h3m4-31h3m7 4h3m-22 31h3m-14-21h3m21 0h3m2 51h3m-35-62h3m13 37h3m6 2h3m-8 6h3m-21 15h3m3-9h3m4-8h3m20-53h3m-25 15h3m13 31h3m-20-65h3m-16 77h3m14-3h3m14 13h3m-35-41h3m44 26h3m-67-51h3m24 12h3m-9 19h3m11 36h3m-29-42h3m29 14h3m-4 9h3m9-46h3m-1 13h3m-40-25h3m35 95h3m-35-25h3m23-36h3m-18-7h3m28 14h3m-34 45h3m4-74h3m-14 12h3m-24-18h3m13 55h3m-12 3h3m0-34h3m2-10h3m23 31h3m-10 22h3m-21-8h3m13-17h3m-13-4h3m12 28h3m-42-45h3m20 21h3m10 6h3m-34 5h3m21-22h3m-19-4h3m-24 28h3m11-4h3m22-26h3m5 3h3m-18 12h3m-2 8h3m1-10h3m-16 8h3m-3-30h3m3 22h3m17-20h3m1 35h3m-31 27h3m15-53h3m-44 67h3m32-71h3m-12 15h3m-14-7h3m-13 6h3m11 10h3m0 11h3m30-16h3m-15-8h3m-15 32h3m7-21h3m-28 3h3m17-3h3m-2 29h3m-18-33h3m-12-5h3m24-1h3m-4 17h3m23 13h3m-21 5h3m-34-74h3m8 59h3m-16-14h3m23 5h3m-15 9h3m24-62h3m-18 48h3m-36-17h3m58 56h3m-26-51h3m-16-2h3m7-9h3m5 13h3m-22 39h3m3-28h3m-24 20h3m8-24h3m3 26h3m-4-52h3m-11 47h3m10-25h3m2 53h3m-26-58h3m16 28h3m-41-45h3m47 21h3m-22-2h3m-33-11h3m0-6h3m14 13h3m-17-6h3m26-13h3m-2 56h3m14-51h3m-29-12h3m-8 21h3m-4 39h3m15-61h3m-29 53h3m-4-72h3m10 51h3m14-10h3m-17 18h3m13 13h3m-22-8h3m-25-51h3m24 47h3m9-22h3m-18 12h3m-3-13h3m-16 7h3m10 34h3m-20-2h3m45-32h3m-35-21h3m3 12h3m-5 18h3m21-14h3m-37 41h3m7-37h3m8-12h3m-15 35h3m-16-12h3m0-42h3m1 35h3m10 13h3m-35 25h3m27-80h3m-13 51h3m9-13h3m-6 4h3m-27-15h3m19 32h3m-16-5h3m9-34h3m-8 15h3m-7 67h3m13-85h3m8-9h3m-27 32h3m7 31h3m-24-13h3m8-22h3m27 21h3m-27-15h3m22 11h3m-20 27h3m-5-58h3m-10 29h3m6-34h3m-31-4h3m5 13h3m18 40h3m-5 33h3m-15-5h3m14-56h3m7 30h3m-50-7h3m44 23h3m-10-30h3m-3-9h3m-6 15h3m-26 21h3m-18-42h3m8 27h3m-5-35h3m24 59h3m-31-56h3m15 14h3m-8 24h3m12-2h3m-10-28h3m-22 12h3m7-29h3m-18-46h3m8 24h3m15 44h3m-32 17h3m4-66h3m12 34h3m-21 8h3m-16-33h3m16 38h3m26 5h3m-26 14h3m2-14h3m2-14h3m1 41h3m-20-39h3m-6-13h3m12 18h3m-14-7h3m28 19h3m-10-14h3m-26 52h3m-13-18h3m18-34h3m-6 1h3m-10-7h3m4 25h3m-2-10h3m3 13h3m-14-22h3m-11 15h3m13-3h3m-14-27h3m5 71h3m-10-52h3m8 3h3m-24 8h3m20-37h3m-1 58h3m-23-36h3m5 27h3m2 9h3m-2-30h3m-13 28h3m-9-8h3m-35-27h3m58 27h3m-17-29h3m-22 33h3m1-38h3m2 20h3m-17-21h3m1 36h3m12-5h3m-5-15h3m12-28h3m-36-18h3m8 79h3m-6-36h3m15-29h3m12 28h3m-36 5h3m19 7h3m-13-56h3m-28 48h3m23 16h3m5 11h3m-26-14h3m10-13h3m-22 29h3m-25-18h3m29-72h3m30 64h3m-39-42h3m-12 112h3m-20-54h3m11 27h3m10 4h3m-16-67h3m32-4h3m34 47h3m-55-13h3m7-38h3m-9-1h3m20 51h3m-34 38h3m37-59h3m-22-15h3m-42 12h3m21-57h3m7 69h3m-16 17h3m-1-73h3m-15 57h3m-8 9h3m12 4h3m-11-19h3m6-20h3m12 45h3m2-63h3m-44 72h3m5-41h3m48 8h3m-45 15h3m-1-31h3m-16 52h3m-4-76h3m13 50h3m-3-52h3m20 75h3m-48-49h3m17 41h3m-22-78h3m22 95h3m-25-102h3m15-14h3m2 2h3m1 80h3m-12-12h3m-8-19h3m6-19h3m-3 37h3m-30 39h3m67-52h3m-30-41h3m-30 103h3m40-39h3m-62 14h3m-10-48h3m40-14h3m-6 43h3m-21-42h3m28 69h3m-44-42h3m19 67h3m38-37h3m-18-35h3m-46 49h3m41 4h3m-42-97h3m18 88h3m-11-14h3m-7-95h3m-13 60h3m-23 20h3m36 39h3m-15-41h3m-3-19h3m-12-38h3m6 37h3m-15 24h3m22-36h3m15 3h3m-58 52h3m28-13h3m-13 5h3m-8-13h3m-7 33h3m36-84h3m-20-11h3m3 143h3m-15-55h3m0-72h3m-32-21h3m62 127h3m-15-83h3m-9 26h3m-10 101h3m-72-121h3m47-53h3m14 95h3m7-57h3m-39 128h3m20-124h3m-19 14h3m-27 4h3m51 2h3m-6-11h3m-37-7h3m8 29h3m2-51h3m-28-1h3m31 36h3m-2-9h3m17 50h3m-1 8h3m-9 19h3m-32 28h3m-9-117h3m11 18h3m7 41h3m15 0h3m-26 35h3m-20-72h3m-22-12h3m53 57h3m-57-2h3m13-64h3m3 33h3m-6-29h3m40 47h3m-52-8h3m-1-14h3m18-36h3m4-2h3m-26 55h3m-2-71h3m24 8h3m-13 71h3m-8 9h3m20-23h3m-44-34h3m-23-15h3m37 45h3m-16-16h3m10-15h3m9 44h3m-44 5h3m21-106h3m-24 191h3m25-100h3m-7-16h3m21-2h3m-14 53h3m-33-19h3m5-28h3m-12-5h3m-11 36h3m36 44h3m-25-44h3m-44 22h3m55-36h3m-37 25h3m47-18h3m-30 31h3m-22-1h3m33-86h3m-24-1h3m32 40h3m-51-48h3m29 57h3m-34-25h3m-21-13h3m25-29h3m9 14h3m-34 3h3m72 105h3m-46-44h3m11 21h3m11-44h3m-58 13h3m19-19h3m10 33h3m-17-20h3m7-18h3m2-20h3m-29-22h3m-4 5h3m6 78h3m5 49h3m8-27h3m-8 81h3m18-43h3m-16 14h3m-22-82h3m-23 40h3m14-3h3m8 50h3m-13-49h3m1-12h3m8 12h3m-9-30h3m1 20h3m-24 31h3m18 29h3m-13-90h3m9 55h3m4 22h3m-34-49h3m21 28h3m-4 6h3m-3 12h3m15-36h3m-9-12h3m-11 19h3m8 25h3m-37-45h3m30-2h3m-30-8h3m21 2h3m-5 77h3m0-49h3m-4 15h3m-6 57h3m12-34h3m-27 2h3m-17-21h3m4 9h3m-7-7h3m11 24h3m-15 19h3m-2-46h3m-24 4h3m48 7h3m-30 4h3m10 26h3m-4 3h3m9-48h3m-23-1h3m-13-21h3m-4 10h3m3 46h3m32-8h3m-45-111h3m3 89h3m-13-19h3m10 25h3m-11 29h3m3-66h3m-11-18h3m31 47h3m-19-5h3m5 40h3m-17-54h3m-19-12h3m19 13h3m-17-23h3m19 27h3m-16 31h3m1-37h3m-5-49h3m-6 34h3m7 62h3m2 12h3m0-1h3m-29-40h3m-2-34h3m-13 39h3m29 23h3m-11-16h3m-22-38h3m19 45h3m11 4h3m-41-101h3m-17 44h3m41 64h3m-1-12h3m-23-7h3m10 14h3m-1-32h3m-12-4h3m-2 37h3m-21-72h3m-3 20h3m33 99h3m-30-78h3m-6 48h3m-21-1h3m26-9h3m-4-17h3m-25-101h3m16 125h3m2-23h3m5 16h3m-2 5h3m-2-73h3m-10 49h3m-8-33h3m5 58h3m-15-11h3m0-19h3m22-70h3m-29 61h3m-19-20h3m-1-5h3m34-4h3m-43 12h3m12 30h3m7-66h3m-20 49h3m9-5h3m-9-33h3m-5 25h3m23 8h3m-24-15h3m5-40h3m-24 69h3m48-23h3m-34 19h3m-8-65h3m0 99h3m-18-76h3m-2 53h3m11-28h3m-16-35h3m15 30h3m-11 78h3m-16-21h3m29 1h3m-7-31h3m-14 8h3m-26-68h3m19 101h3m19-9h3m-13-49h3m-21 12h3m-26-16h3m37 33h3m-6 10h3m8 33h3m-19-47h3m-23-3h3m20 14h3m15-35h3m-21 8h3m5 10h3m-17 46h3m-7-2h3m9-39h3m-3 29h3m-29-25h3m-1-29h3m5-25h3m25 54h3m-27-10h3m-4-3h3m-6-16h3m23 22h3m1-48h3m-38 61h3m-27-24h3m51-2h3m-24 8h3m-18-84h3m11 84h3m-8-48h3m-6 81h3m22-65h3m-8 64h3m-33-56h3m31-2h3m-26-18h3m26 74h3m-30-20h3m-4-98h3m20 74h3m-33-5h3m31-14h3m-20 52h3m-10-36h3m6 17h3m-2 1h3m-1 7h3m-8-15h3m18 68h3m-25-132h3m-20 11h3m13 12h3m-21 37h3m19 56h3m3-34h3m-12-2h3m17 15h3m-19 5h3m3-59h3m-24 28h3m-16-6h3m21 12h3m3 0h3m-9-8h3m3 22h3m-24-93h3m5 110h3m-8-74h3m-8-16h3m19 102h3m14-30h3m-22-21h3m-7-10h3m2 6h3m11-39h3m-14-10h3m-30 0h3m20 20h3m-23-12h3m13 68h3m-10-40h3m0 39h3m-15-49h3m10-46h3m-2 51h3m-1 28h3m-22-52h3m25-4h3m-24 59h3m1 7h3m-11-42h3m22 22h3m-30 7h3m1 24h3m16-78h3m-19 73h3m7-3h3m10 11h3m-16 9h3m-5-68h3m2 46h3m13-25h3m7 55h3m-16-63h3m-17-23h3m-5 25h3m7-28h3m-1 52h3m-35-44h3m9 25h3m4 30h3m13-45h3m-16 2h3m-1-5h3m-6 33h3m-11-65h3m2 106h3m-11-63h3m10-18h3m8 91h3m-26-67h3m23 38h3m-27 2h3m-21-33h3m24-30h3m-19 27h3m36-22h3m-37 53h3m13-56h3m5 8h3m1 11h3m-13-27h3m10 99h3m-39-96h3m0 12h3m24 44h3m3 35h3m-9-102h3m-17 63h3m-13-32h3m-2 32h3m15 17h3m13-36h3m-20 22h3m-27-54h3m22 19h3m-10 51h3m-22-5h3m15 16h3m-8-18h3m-6-19h3m0 8h3m2-65h3m-30 47h3m28-19h3m-13 78h3m-9-109h3m0 27h3m3 0h3m-15-11h3m8 0h3m0 6h3m3 25h3m-8 24h3m5-19h3m-10-23h3m-1-5h3m-18 5h3m-11 63h3m42 9h3m-34-93h3m-5 12h3m-5-7h3m27 20h3m-36-4h3m6 87h3m10-43h3m-43-51h3m13 104h3m-9-126h3m28 81h3m-9-47h3m-13 26h3m-3-21h3m20 25h3m-19 41h3m-22-91h3m16 0h3m-17 12h3m-6 0h3m0 51h3m7-20h3m1 28h3m-30-89h3m19 72h3m-14-98h3m12 84h3m-3-27h3m14 6h3m-36-32h3m14 101h3m9-63h3m10 83h3m-36-113h3m-14 14h3m32 91h3m-41-70h3m20 18h3m-31-45h3m12 11h3m-5 26h3m10-33h3m-9 37h3m11 30h3m-17-55h3m-11 15h3m-5 30h3m28-7h3m-26-35h3m5 49h3m-13-2h3m-16-85h3m19 36h3m10 34h3m-25-60h3m-19 20h3m14 15h3m-9-11h3m14 18h3m-20 74h3m19-72h3m-17-11h3m-1-24h3m17 77h3m-23-9h3m-13-68h3m13 35h3m-21-50h3m-5 41h3m14 24h3m9-48h3m-28 35h3m18-14h3m4 55h3m-6-8h3m-7-27h3m-13 10h3m20 21h3m-39-89h3m30 66h3m-35-13h3m38-22h3m-22 12h3m-13-16h3m2 13h3m23 39h3m-20-45h3m-18-53h3m-5 63h3m1 30h3m-12-29h3m-21-103h3m5 30h3m25 127h3m-39-49h3m2-10h3m23-43h3m16 72h3m-24 37h3m-21-63h3m57 3h3m-52 36h3m8-12h3m-8-9h3m-11 50h3m6-151h3m-8 49h3m12-5h3m-26-41h3m31 77h3m-14 63h3m-20-115h3m-12 72h3m15 22h3m-36-109h3m34 54h3m-55-19h3m45 99h3m10-72h3m-1 29h3m-39 36h3m10-62h3m13-2h3m-4-15h3m-19-8h3m-31 10h3m32-72h3m-36 22h3m10 41h3m40 78h3m-36-80h3m-23-46h3m20 75h3m4 33h3m9-40h3m-88-63h3m34 32h3m1 60h3m34 22h3m-33-73h3m10-9h3m24 45h3m-16-1h3m6-17h3m9 43h3m-21-17h3m-29-69h3m-2 20h3m11 36h3m-11-86h3m33 103h3m-54-49h3m18 21h3m3-19h3m-4 38h3m21 46h3m-35-35h3m15-78h3m9 55h3m-7-35h3m-20 34h3m-6 1h3m1-16h3m9 74h3m-17-95h3m-7 17h3m16 56h3m-12 40h3m-6-89h3m25 21h3m-21-20h3m19 2h3m-21 31h3m-34-45h3m-51 15h3m59 72h3m9-96h3m-18 45h3m7 33h3m13-41h3m-57-67h3m38 121h3m-10-41h3m25 34h3m-24-130h3m-14 0h3m21 70h3m-15-21h3m18 88h3m-29-70h3m16 46h3m-60-2h3m75-17h3m-33 51h3m-19-107h3m7 85h3m4-72h3m-23-11h3m-11 72h3m20-28h3m-18-4h3m2 36h3m26 16h3m-17-7h3m-37-132h3m-8 71h3m17-11h3m-22 23h3m41 41h3m1-50h3m-26 66h3m-9-67h3m-35-24h3m23 61h3m12 7h3m-4-28h3m0 53h3m151-209h3m-100 52h3m-28-17h3m53 0h3m16-15h3m-28 2h3m-23 30h3m46-14h3m-13-10h3m-98 20h3m76-10h3m-2-6h3m-58 23h3m84-48h3m-61 35h3m2-8h3m-45 43h3m70-32h3m-69-13h3m-1 30h3m63-44h3m24-9h3m-96 37h3m9-4h3m111-30h3m-37-15h3m-33 30h3m83-11h3m-166 22h3m16 4h3m39-14h3m-1 10h3m-1 7h3m-65 22h3m43-33h3m-11 6h3m49-15h3m8-14h3m-21 11h3m-44 2h3m-32 25h3m-4 28h3m69-42h3m2-11h3m-65 39h3m95-62h3m-15-16h3m-61 51h3m-17 5h3m-7-23h3m31 11h3m120-52h3m-172 99h3m102-72h3m-12 21h3m-115 50h3m-4-6h3m89-58h3m-4 15h3m-4-3h3m47-48h3m-82 54h3m-64 7h3m137-67h3m-77 52h3m-25 7h3m-47 23h3m95-40h3m-8 7h3m-60 6h3m-49 30h3m68-14h3m-45 20h3m-23 12h3m17-3h3m67-70h3m-7 13h3m-87 39h3m119-63h3m-101 52h3m4 0h3m-28-12h3m-17 26h3m62-39h3m-35 8h3m-16 4h3m2 39h3m1-30h3m148-61h3m-165 80h3m22-27h3m26-2h3m-14 0h3m15-14h3m-59 30h3m2-2h3m-25 20h3m55-32h3m-5 0h3m-46 36h3m1-1h3m83-52h3m-21-5h3m-21 34h3m-61 15h3m72-37h3m0-17h3m-13 19h3m-10-6h3m-1 19h3m30-34h3m-70 45h3m-35 26h3m28-44h3m25-26h3m81-4h3m-145 49h3m8-9h3m46-31h3m-42 23h3m49-24h3m-64 39h3m16-26h3m-7 5h3m-21 28h3m128-61h3m-101 34h3m85-15h3m-96 32h3m-29 1h3m80-44h3m-39 24h3m7-9h3m10-16h3m-23 46h3m-56 17h3m61-30h3m-46 13h3m-29 8h3m-12-2h3m-4 5h3m78-42h3m-48 21h3m-5 12h3m-13-2h3m61-36h3m-109 43h3m12 6h3m-6-21h3m13 17h3m21-2h3m-1 18h3m87-78h3m-16 13h3m-111 46h3m32-12h3m-32-3h3m53-10h3m-2 5h3m-13 2h3m-25-3h3m89-24h3m-87 27h3m-11 6h3m-44 18h3m32 6h3m-23-9h3m6-3h3m63-22h3m-40 1h3m45-12h3m-100 30h3m10-6h3m19 0h3m21-14h3m-31 4h3m91-31h3m-119 53h3m5-24h3m58-3h3m64-30h3m-84 47h3m-70-2h3m50-4h3m-34 18h3m1-26h3m100-38h3m-56 26h3m47-32h3m-108 76h3m2-1h3m99-53h3m-47-12h3m12 7h3m20 13h3m-16-2h3m-67-8h3m26 37h3m-75 19h3m130-73h3m-126 60h3m21-16h3m27-5h3m76-30h3m-76 39h3m-38 10h3m31-6h3m69-57h3m-98 80h3m16-28h3m-41 9h3m11-7h3m101-34h3m-135 36h3m-11 21h3m94-69h3m-100 80h3m138-64h3m-71 4h3m-25 36h3m-13-13h3m-27 3h3m33 10h3m13-33h3m-28 34h3m46-19h3m-71 6h3m26-21h3m38-9h3m4-18h3m-38 32h3m14-1h3m-93 38h3m28-16h3m67-40h3m-22 17h3m-55 36h3m-30 10h3m59-30h3m-60 3h3m-2 25h3m40-47h3m31 13h3m2-11h3m50-32h3m-48 14h3m45 3h3m-117 29h3m38-12h3m-10 14h3m-83 26h3m54-13h3m-33 2h3m1 9h3m-26 9h3m115-59h3m-54 23h3m34 5h3m-66 0h3m-30 5h3m22 15h3m3-22h3m20-18h3m-19 24h3m32-5h3m-59 25h3m31-21h3m25-11h3m7-23h3m-65 44h3m-22 6h3m-15 2h3m36-9h3m83-71h3m-103 56h3m39-29h3m-22 50h3m23-23h3m-21 1h3m-12 11h3m-20-5h3m10-4h3m40-31h3m92-31h3m-126 50h3m36-1h3m-62 11h3m-17 14h3m-32 9h3m82-34h3m-32 6h3m-36 4h3m41 8h3m-4-5h3m27-5h3m-74 27h3m45-16h3m56-28h3m-27 0h3m-80 51h3m-24-8h3m-19-9h3m32-13h3m73-17h3m-78 38h3m92-58h3m-30 6h3m-100 55h3m60-18h3m41-34h3m-25 5h3m-18 24h3m107-48h3m-122 59h3m-20-17h3m4 22h3m-24 9h3m-18 5h3m48-36h3m-41 21h3m13-24h3m92-18h3m-87 45h3m-34-7h3m51-39h3m-45 54h3m-32-1h3m-10 8h3m55-27h3m-49 5h3m125-47h3m-38 6h3m-72 33h3m56-4h3m-38-14h3m47 1h3m-92 29h3m48-23h3m67-22h3m-49 5h3m-9 1h3m2-5h3m-91 55h3m18-9h3m125-71h3m-59 31h3m-27 26h3m77-62h3m-98 56h3m-22-2h3m10-3h3m-19 9h3m52-18h3m-54 25h3m37-28h3m-66 47h3m128-72h3m-137 56h3m-23 15h3m10-23h3m62-24h3m-42 32h3m90-24h3m-68 36h3m-16-14h3m98-56h3m-117 58h3m77-34h3m-11 6h3m-106 58h3m-8-36h3m88-29h3m-77 41h3m6-18h3m4 15h3m118-72h3m-85 57h3m60-46h3m-75 13h3m5 33h3m-59 16h3m-29 12h3m68-37h3m-23 26h3m32-21h3m-56 23h3m47-16h3m-86 3h3m8 31h3m36-54h3m7 24h3m-23 11h3m-35 20h3m40-16h3m-12-10h3m27-26h3m-23 36h3m63-32h3m-117 47h3m167-101h3m-94 71h3m48-35h3m2 0h3m-69 23h3m-66 28h3m108-40h3m-14 1h3m27-25h3m-89 47h3m54-21h3m-73 32h3m35-25h3m11-16h3m-93 57h3m109-63h3m-91 47h3m3 3h3m7-6h3m27-16h3m-69 25h3m124-35h3m-101 27h3m0 7h3m33-32h3m-61 38h3m51-35h3m-47 32h3m53-39h3m-36 26h3m27-19h3m-28 35h3m31-15h3m-35-3h3m21-3h3m-23-9h3m4-26h3m32 7h3m-93 41h3m-7 10h3m64-35h3m-46 23h3m-11-2h3m15 16h3m-36 7h3m132-63h3m-126 43h3m17-22h3m10 6h3m-1 1h3m-48 26h3m48-22h3m-44 33h3m-16-8h3m12-13h3m6-10h3m37-18h3m34-17h3m-47 21h3m24-6h3m-90 23h3m70-6h3m-54-9h3m77-1h3m18-32h3m-31 16h3m23-3h3m-96 56h3m8-44h3m31-12h3m-6 14h3m-70 42h3m14-13h3m121-73h3m-67 58h3m-68 29h3m-20-6h3m-15-13h3m109-34h3m-98 52h3m8 2h3m25-11h3m-33-13h3m-20 13h3m42-25h3m-5 20h3m-9-2h3m1 1h3m-26 9h3m44-24h3m3-22h3m-55 38h3m8-11h3m4 6h3m50-20h3m55-36h3m-148 51h3m54-2h3m-51 35h3m98-69h3m-87 34h3m53-11h3m24-12h3m-54 28h3m14 9h3m-67 5h3m25-10h3m-21 15h3m50-33h3m-16 19h3m49-48h3m-54 13h3m1 12h3m-48 13h3m4 14h3m-11 24h3m24-18h3m-17-8h3m68-39h3m-49 51h3m-60-10h3m70-29h3m21 2h3m-31-1h3m-53 30h3m103-57h3m-13 20h3m30-3h3m-4-25h3m-121 46h3m29-9h3m32-4h3m-32 27h3m-5-24h3m-71 22h3m-2 7h3m98-27h3m-36 7h3m-21 7h3m-30-13h3m76-14h3m-117 35h3m103-10h3m-98 34h3m153-68h3m-44 20h3m18-25h3m-100 40h3m-15 12h3m66-32h3m-53 7h3m-1-9h3m47-5h3m34-8h3m-33 25h3m-79 27h3m95-29h3m-120 33h3m-1-16h3m41 2h3m-27-2h3m118-33h3m-112 34h3m97-50h3m-114 32h3m86 6h3m-124 42h3m23-37h3m-31 15h3m92-42h3m-65 52h3m95-93h3m-109 63h3m76-25h3m-58 11h3m-17 25h3m-26 11h3m40-23h3m-9 7h3m57-28h3m-83 33h3m106-34h3m-139 37h3m64-40h3m86-4h3m-153 65h3m136-47h3m-156 36h3m12-11h3m5 12h3m105-50h3m-40 29h3m76-42h3m-126 41h3m-14-24h3m15 21h3m31 7h3m-53 1h3m-39 18h3m13-13h3m137-50h3m-69 33h3m-42 1h3m11 4h3m46-50h3m-98 75h3m12-12h3m36-20h3m17-58h3m-86 101h3m29-39h3m53-12h3m26-3h3m-35 26h3m3-24h3m-93 25h3m32 1h3m108-40h3m-138 65h3m78-50h3m-31 18h3m-46 3h3m10 11h3m36-4h3m-24-15h3m2 7h3m-56 13h3m7-17h3m62-21h3m-80 25h3m13 9h3m43-21h3m13 7h3m13-2h3m-108 30h3m97-42h3m-70 12h3m47 10h3m-89 8h3m106-46h3m-102 49h3m42-14h3m8 5h3m22-30h3m-25 32h3m87-55h3m-63 22h3m-102 41h3m88-23h3m-10-3h3m-61 22h3m71-37h3m9 1h3m-86 57h3m54-42h3m-62 29h3m39-22h3m-46 12h3m94-42h3m-49 34h3m79-57h3m-124 56h3m20-4h3m27-7h3m-80-2h3m69-1h3m11 21h3m36-35h3m-146 50h3m64-60h3m4 12h3m-9 14h3m73-27h3m-101 38h3m-23 22h3m25 31h3m94-65h3m-79 17h3m7-26h3m-54 20h3m-19 14h3m90-19h3m-111 32h3m95 0h3m-100-16h3m46-36h3m10 16h3m-44 30h3m75-54h3m-70 52h3m-14 2h3m90-76h3m-16 44h3m-79 10h3m8 24h3m37 2h3m79-58h3m-172 31h3m25-15h3m65 19h3m-42 5h3m-29 0h3m22-27h3m74 24h3m-114-5h3m93-26h3m9 5h3m-118 26h3m33 22h3m45-33h3m-67 29h3m-13 3h3m17-24h3m-3-19h3m16 33h3m-6-2h3m39-27h3m-25 41h3m-67 7h3m28-31h3m64-55h3m-95 64h3m111-48h3m33 18h3m-95 33h3m-58 18h3m85-52h3m-81 13h3m44 15h3m-11 2h3m75-68h3m-89 55h3m-31 24h3m113-69h3m-84 36h3m15 2h3m-52 28h3m134-83h3m-103 57h3m-14-20h3m36-25h3m60 42h3m-100 1h3m11-11h3m6 6h3m-10 12h3m78-6h3m-81 9h3m-11 13h3m-45 0h3m80-45h3m-115 50h3m6 4h3m36-13h3m21-14h3m35-35h3m-79 52h3m-22-8h3m4 26h3m45-47h3m7 7h3m-18-7h3m48-36h3m33 26h3m5 12h3m9-22h3m-102 22h3m-53 39h3m27-5h3m-57-24h3m156-20h3m-152 21h3m-7 8h3m36-15h3m-25 23h3m51-34h3m19 3h3m49 12h3m-136-1h3m98-17h3m-30-15h3m-74 86h3m75-77h3m-60 54h3m7-28h3m66-39h3m-37 59h3m9-51h3m-81 34h3m97-21h3m-73 24h3m-39 23h3m37-55h3m91 8h3m-122 26h3m108-38h3m-51-15h3m-107 62h3m27 9h3m-18-32h3m43-2h3m-25 28h3m8-41h3m-45 32h3m60-35h3m-28 28h3m-8 33h3m123-116h3m-45 64h3m32-38h3m-141 52h3m91-39h3m9 9h3m51-34h3m-128 45h3m-32 16h3m50 23h3m2 5h3m6-25h3m55-47h3m-46 36h3m-18 23h3m-83 24h3m8 12h3m-13-29h3m11-9h3m3 2h3m82-29h3m-29 41h3m-25-14h3m82-77h3m-40 74h3m-41-8h3m8 2h3m59-17h3m-112 43h3m-45-43h3m86 17h3m27-32h3m-84 42h3m78-23h3m-85 44h3m21-58h3m-28 45h3m-20-4h3m-7 27h3m-17-54h3m99-6h3m6 7h3m-66-9h3m-16 31h3m24-4h3m4-48h3m-30 97h3m52-76h3m-80 56h3m69-62h3m-88 44h3m90-27h3m-46-34h3m-59 54h3m55-8h3m64-12h3m-76 51h3m-36-78h3m51 28h3m-7-5h3m35-5h3m-101 36h3m68 4h3m-34-31h3m115-15h3m-69 16h3m-57 16h3m89-28h3m-130 16h3m12 50h3m-5-35h3m6-44h3m-1 50h3m-34-45h3m105-1h3m-70 9h3m-16-7h3m127 15h3m-151 3h3m2 13h3m38-33h3m64-36h3m-17 52h3m-43-16h3m15-18h3m-44-6h3m-42 26h3m75 41h3m47-3h3m-73 3h3m70-39h3m-102 10h3m47-55h3m-49 37h3m104 9h3m-1 29h3m2-20h3m-79 6h3m-82 28h3m93-75h3m39 11h3m-151 251h3m-10 0h3m-4 0h3m15 0h3m-20 0h3m4 0h3m-25 0h3m9 0h3m8 0h3m-10 0h3m0 0h3m7 0h3m-12 0h3m-14 0h3m13 0h3m4 0h3m-19 0h3m-7 0h3m-12 0h3m-1 0h3m-11 0h3m9 0h3m-7 0h3m-24 0h3m18 0h3m-17 0h3m7 0h3m-6 0h3m31 0h3m-42 0h3"/><path d="M285 1040h3m9-10h3m-5-24h3m19 39h3m-57-14h3m25 4h3m0-11h3m-4 7h3m-19 14h3m-28 9h3m-2-13h3m71 2h3m-6-25h3m-65 12h3m23-33h3m-8 43h3m12-7h3m-5-12h3m-15-3h3m14 6h3m-36 32h3m7-18h3m22 13h3m11-18h3m-66-1h3m32-4h3m-9 20h3m5-12h3m16-9h3m-28 26h3m-24-49h3m21 33h3m-27-3h3m42 27h3m-43-38h3m8 14h3m-1-2h3m11-2h3m-3-24h3m2 37h3m-15-7h3m-12 2h3m6 8h3m12-2h3m-23-28h3m-2 12h3m5 15h3m2-18h3m-23 21h3m6-25h3m15 31h3m-58-9h3m51-8h3m-7-11h3m-27 5h3m-1-1h3m10 3h3m-14 0h3m28-4h3m-15-3h3m-47 3h3m55 0h3m-32 8h3m10-16h3m-43 14h3m39-18h3m-20 21h3m4 17h3m-1-32h3m-6 32h3m-27-7h3m6-21h3m44 2h3m-62 9h3m6 9h3m-11-25h3m25 12h3m-10 13h3m-4-20h3m-26 6h3m63-13h3m-29-8h3m-22 6h3m10 7h3m-10 23h3m-10 5h3m30-28h3m-16 2h3m-25 8h3m10-3h3m-8-5h3m-2 10h3m-21-8h3m21 13h3m-23-22h3m36 5h3m-1 27h3m-14-21h3m-22-10h3m-11 10h3m-11 8h3m28-1h3m-15-3h3m-1 15h3m-18-26h3m30 15h3m-54-10h3m33 0h3m-20 19h3m13-15h3m-39-20h3m50 13h3m-58 22h3m27-25h3m3 3h3m10-1h3m-7 13h3m-8-9h3m-9-12h3m27 12h3m-64-13h3m54 27h3m-28-20h3m14 21h3m-28 10h3m46-27h3m-71-16h3m42 25h3m-36 10h3m24-19h3m0-1h3m-18 6h3m-1-2h3m-12 4h3m-7-4h3m0 1h3m5-5h3m1 16h3m-19-7h3m28-16h3m-26-19h3m6 21h3m-4 21h3m-8-19h3m-10 5h3m10-1h3m-4 22h3m-15-27h3m20-10h3m-20 4h3m-10-4h3m13 29h3m-24-26h3m3 23h3m3-7h3m-5-3h3m-14 11h3m39-28h3m-45 24h3m7-9h3m23 1h3m-7-12h3m5 8h3m-15-5h3m-37 12h3m5 9h3m28-5h3m-13-10h3m-14-1h3m-28 20h3m31 3h3m-10-6h3m-1-24h3m-4 9h3m-3 6h3m8 5h3m-12 12h3m-5-27h3m-16 12h3m22 9h3m-35-16h3m33 14h3m1-22h3m-18 17h3m-16-8h3m17-15h3m-23 8h3m7 16h3m4-22h3m-21-14h3m27 27h3m-23 4h3m-5-12h3m-39 46h3m48-26h3m-43-4h3m23-21h3m-10 8h3m-2-5h3m-32 6h3m29 10h3m6-5h3m-16 8h3m-2-15h3m30 27h3m-62-24h3m45-5h3m-33 6h3m6 2h3m22 24h3m-22-21h3m-10-11h3m49 16h3m-23-25h3m-17 43h3m-7-27h3m-25 0h3m8-9h3m11 8h3m-8 12h3m-7 3h3m1-15h3m-20-21h3m12 34h3m27-3h3m-68 3h3m12-16h3m9 28h3m14-21h3m-22 1h3m6 5h3m-9 9h3m30 1h3m-40-23h3m-7-1h3m12-1h3m-16 4h3m6 24h3m-34-11h3m17 4h3m7-31h3m-18 49h3m13-44h3m-9 25h3m16 6h3m31-34h3m-46-6h3m11 26h3m-20-19h3m-1 14h3m-10 1h3m-10 17h3m-6-4h3m17-11h3m-25 12h3m15-6h3m15 0h3m-32 3h3m-10-17h3m14-6h3m5 23h3m-63-5h3m14-12h3m29-1h3m-15 24h3m8-34h3m16 19h3m13-10h3m-43-6h3m2 19h3m-4-4h3m34-9h3m-11-5h3m-51 20h3m3-1h3m-12 5h3m14-17h3m-28 18h3m44-1h3m-2-11h3m-9-9h3m-25-11h3m8 40h3m16-10h3m-18 2h3m-17-7h3m9-2h3m-21 11h3m14-5h3m41 3h3m-81-21h3m38 10h3m-7-9h3m9 22h3m-11-7h3m-17-6h3m3 8h3m0-14h3m-28 13h3m12-10h3m-33-11h3m28 13h3m-4 30h3m-10-35h3m12-12h3m11 30h3m-24-11h3m37-9h3m-58 11h3m20-10h3m31 19h3m-42-4h3m3-16h3m24 37h3m-32-32h3m-25-15h3m21 36h3m7-18h3m-20 6h3m-10-13h3m-2 2h3m15 13h3m-16 20h3m33-22h3m-43 6h3m10-24h3m16 27h3m-18-12h3m-41-1h3m33 2h3m-15-8h3m0-7h3m-16-15h3m13 31h3m1 4h3m-26-16h3m-9 25h3m31-25h3m-1 0h3m4-12h3m-18 25h3m-12 8h3m-13-7h3m31-16h3m-7 0h3m17-1h3m-43 34h3m1 5h3m26-24h3m-49-5h3m-10 10h3m17 3h3m21 8h3m1-35h3m-31 17h3m3-2h3m-28-19h3m57 15h3m-3-16h3m-31 30h3m-17-7h3m19 3h3m-2-4h3m-27-6h3m-16-14h3m3-1h3m55 23h3m-61 34h3m5-35h3m11 4h3m-13 3h3m-4 1h3m11-1h3m-6-1h3m16-13h3m-35 0h3m11 12h3m4 0h3m-14-24h3m-7 48h3m-3-49h3m-36 21h3m40-15h3m-1 31h3m-12-26h3m23 9h3m-65 0h3m36 1h3m-20 2h3m19 4h3m-44-15h3m21 16h3m22-17h3m-16 6h3m-6-4h3m7 15h3m-1-15h3m-10-4h3m-25 13h3m-7 4h3m38-2h3m8-8h3m8-3h3m-31-14h3m-17 35h3m12-17h3m-22-9h3m28 17h3m-13-13h3m-64 10h3m51 5h3m-10-11h3m-37-6h3m6 10h3m11-3h3m7-19h3m-10 22h3m13 5h3m-49-13h3m28 9h3m2 2h3m7 0h3m-19-5h3m-28-42h3m45 43h3m-31 10h3m15-5h3m-26-26h3m9 35h3m-23 3h3m-1-40h3m-2 2h3m23 12h3m14 10h3m-2-6h3m-24 14h3m-7-3h3m-51 12h3m51 2h3m-11-27h3m4 15h3m-19-18h3m18 9h3m20-24h3m-34 45h3m43-25h3m-22-2h3m-1 24h3m-25-20h3m-63-6h3m51-32h3m-6 22h3m27 47h3m-28-50h3m-2 42h3m-53-29h3m41 33h3m11-21h3m-14-14h3m36-2h3m-49 18h3m4-14h3m-5 29h3m4-1h3m-34-65h3m31 50h3m-14 3h3m10 8h3m9-22h3m-23 18h3m23-27h3m-58 5h3m40-3h3m-53 2h3m42 26h3m-14 6h3m-12 12h3m-35-26h3m53-18h3m11-17h3m-52 54h3m17-16h3m-20-4h3m8 62h3m42-66h3m-27 1h3m-21-5h3m-15-14h3m5 48h3m39-27h3m-19 5h3m-1 5h3m-15-48h3m13 22h3m-86 5h3m63 34h3m-40-33h3m29-17h3m14 11h3m-43 14h3m-16-8h3m0 27h3m88 1h3m-98-20h3m41-29h3m30 38h3m-68-46h3m25 4h3m-74 39h3m42 13h3m12-3h3m-19-22h3m24 16h3m32-41h3m-46 8h3m-12 30h3m1-23h3m17-7h3m-25 19h3m22 31h3m-12-17h3m-66 21h3m42-35h3m-34 2h3m7 20h3m-14-51h3m14 40h3m19-55h3m-19 40h3m43 8h3m-50 0h3m-12 13h3m-14-7h3m12-33h3m10 3h3m46 69h3m-51-74h3m10 18h3m-38 6h3m46 4h3m2 10h3m-15-47h3m5 29h3m-11 40h3m9-8h3m-46-17h3m-28 16h3m21-2h3m24-45h3m43 25h3m-39-26h3m15 38h3m-56 30h3m3-38h3m-30-13h3m44 31h3m1-50h3m-5 18h3m-40-15h3m20 42h3m18-18h3m-19 48h3m17-27h3m-32-44h3m2 17h3m18-5h3m-22 50h3m17-44h3m-21-20h3m1 12h3m9 9h3m-24-9h3m-21 15h3m-36-27h3m39 41h3m-11-9h3m24 1h3m16 17h3m-27-14h3m39-30h3m-48 18h3m22 8h3m-21-24h3m0 23h3m-10-1h3m-54 2h3m30-19h3m29-8h3m-62 35h3m49-41h3m-10 31h3m128-76h3m40-7h3m-5-13h3m31-8h3m-124 65h3m101-45h3m-131 65h3m13-17h3m18-17h3m61-32h3m-47 31h3m33-31h3m-6 13h3m-33 23h3m58-31h3m-55 18h3m-61 27h3m56-36h3m6 19h3m-27 6h3m-25-20h3m-18 37h3m52-45h3m-66 25h3m92-23h3m-27 25h3m-81 15h3m87-56h3m-87 37h3m65-24h3m-25 18h3m-52 34h3m54-38h3m2-13h3m-48 36h3m6-35h3m57 13h3m-75 21h3m90-41h3m-140 73h3m60-34h3m75-50h3m-120 54h3m20-6h3m2 6h3m-4-20h3m-14 16h3m-2 19h3m-17-9h3m48-32h3m-10 2h3m12 4h3m-32 3h3m71-11h3m-86 26h3m19-26h3m-38 20h3m9 13h3m125-74h3m-184 78h3m94-41h3m-60 18h3m-18 32h3m90-36h3m-66 12h3m-10-6h3m-24 3h3m44-24h3m11 15h3m45-18h3m-121 71h3m53-50h3m68-21h3m-90 42h3m-29-12h3m100-24h3m-51 8h3m112-41h3m-90 16h3m-95 38h3m41 10h3m-4-15h3m34-5h3m82-30h3m-145 45h3m53-19h3m32-24h3m-19 24h3m-45 15h3m-42 18h3m116-51h3m-123 52h3m122-85h3m-70 48h3m-77 23h3m-21 23h3m50-22h3m-5-31h3m55-17h3m52 18h3m-91 23h3m2-25h3m-76 51h3m61-35h3m27-3h3m-15 17h3m-23-30h3m-64 48h3m25-24h3m7-26h3m51 3h3m-75 40h3m-22-4h3m0-5h3m44-28h3m-19 11h3m-10 33h3m-25-3h3m58-7h3m66-35h3m20-30h3m-15 15h3m-91 24h3m-62 16h3m18 4h3m21-12h3m67-12h3m-55 16h3m-20-2h3m96-26h3m-133 50h3m85-38h3m53-29h3m-70 20h3m-52 14h3m47-6h3m-26 10h3m48-16h3m9-20h3m-95 17h3m98-27h3m-25 25h3m4-6h3m-148 52h3m21 8h3m40-28h3m63-39h3m-95 16h3m97-10h3m37-12h3m-49 12h3m-69 34h3m-58 33h3m40-23h3m-13-18h3m87-26h3m-9 7h3m56-50h3m-115 69h3m-72 32h3m19-31h3m161-27h3m-41 0h3m-85 45h3m-59 26h3m0-25h3m82-40h3m24-3h3m-2-6h3m-37 29h3m-18 11h3m-15-8h3m36-5h3m-104 38h3m66-7h3m1-44h3m78-1h3m-125 34h3m102-53h3m-73 38h3m7 2h3m-42-9h3m86-27h3m61-22h3m-93 27h3m-47 55h3m-30 12h3m97-63h3m-76 38h3m15-17h3m-50 14h3m146-47h3m-175 77h3m64-57h3m28 9h3m10-16h3m-13-6h3m-66 59h3m37-35h3m-26 20h3m29-6h3m-10-14h3m43-61h3m-32 43h3m10 10h3m-84 36h3m-1-42h3m10 32h3m70-32h3m-124 58h3m58-8h3m30-27h3m-58 17h3m-1 21h3m15-17h3m-8-15h3m12-41h3m92-20h3m-37 26h3m-90 42h3m4-7h3m87-57h3m-28 39h3m52-25h3m-165 54h3m92-33h3m23-21h3m-141 55h3m58 1h3m-7-5h3m26-26h3m77-43h3m-35 29h3m10-11h3m-84 41h3m52-24h3m-37 3h3m7 8h3m51-36h3m-79 39h3m64-32h3m-105 37h3m72-55h3m-106 75h3m163-67h3m-151 72h3m100-58h3m-86 44h3m53-40h3m-19 30h3m112-58h3m-146 47h3m19-2h3m64-18h3m-87 34h3m72-50h3m-20 5h3m-7 30h3m-6-20h3m-13 14h3m-65 36h3m68-54h3m27 14h3m-84-3h3m-42 42h3m81-48h3m-60 33h3m59-44h3m-70 40h3m41-17h3m-42 31h3m106-36h3m-23-6h3m-71 24h3m60-37h3m-84 76h3m-59-25h3m15 27h3m57-40h3m-25 16h3m-13 1h3m48-25h3m-82 24h3m75-54h3m-59 49h3m-32 10h3m15 22h3m5-37h3m40-2h3m47-35h3m-49 28h3m-77 41h3m99-45h3m-45 22h3m38-34h3m21 6h3m-22 25h3m-56-4h3m-14-3h3m-24 25h3m12 4h3m19-49h3m6 35h3m-33-4h3m7-18h3m85-44h3m-76 67h3m-41-19h3m22 16h3m85-58h3m-19 4h3m-77 53h3m124-50h3m-92 30h3m-43 7h3m33-17h3m59-37h3m-15 16h3m-93 43h3m73-34h3m-26 9h3m45-18h3m-103 43h3m16-3h3m20-10h3m54-21h3m-148 46h3m15-12h3m77-14h3m-22-17h3m11 6h3m-72 47h3m103-58h3m-93 27h3m61-18h3m-70 31h3m50-20h3m56-45h3m-142 86h3m140-45h3m-112 36h3m-34-22h3m38-4h3m-14 12h3m9 12h3m-27 5h3m70-53h3m-65 37h3m5-4h3m1-6h3m-17 13h3m87-60h3m-59 37h3m82-13h3m-69-3h3m33-4h3m17-18h3m-115 74h3m21-19h3m-11-5h3m23-20h3m20 12h3m-46 21h3m2-38h3m-55 31h3m59-12h3m-47 32h3m79-21h3m-104 29h3m50-50h3m78 5h3m-26-18h3m-1 3h3m-56 21h3m58-34h3m-29 23h3m40-37h3m-14 41h3m-45-12h3m-51 45h3m-18-2h3m-11 13h3m125-63h3m-53 24h3m-98 34h3m180-47h3m-148 41h3m-32 14h3m39-47h3m59-11h3m-65 6h3m-22 24h3m74-33h3m6-6h3m-105 43h3m27-16h3m27 4h3m29-13h3m-104 18h3m139-71h3m-24 24h3m-28 26h3m-72 36h3m48 1h3m-82 6h3m112-58h3m-95 44h3m57-35h3m-52 24h3m33-3h3m16-13h3m-67 8h3m39 3h3m-57 28h3m37-55h3m91-1h3m-54 20h3m-61 29h3m-13-26h3m8 49h3m-22-24h3m14-24h3m-28 30h3m117-63h3m-94 40h3m-19-5h3m-38 43h3m3-31h3m35 22h3m60-37h3m-5-32h3m-3 23h3m-58 10h3m-34 29h3m129-73h3m-145 104h3m31-21h3m109-56h3m-146 43h3m58-40h3m23 7h3m-27 0h3m14-39h3m-103 96h3m13-37h3m129-52h3m-69 36h3m-23 12h3m43-37h3m15 28h3m15-36h3m8 11h3m-108 34h3m62-20h3m-101 40h3m75-30h3m9 18h3m-95 19h3m148-75h3m-119 49h3m-3 20h3m-5-20h3m-40 23h3m167-63h3m-68 18h3m-26 21h3m39-47h3m-98 64h3m-16 28h3m28-58h3m76-6h3m-130 38h3m37-3h3m34 0h3m47-30h3m-33-24h3m7 5h3m-5 1h3m55 3h3m-121 36h3m23-14h3m0-9h3m44-11h3m-124 54h3m41-21h3m90-73h3m32 7h3m-80 29h3m-27 14h3m-25 39h3m-7-2h3m9-26h3m-22 16h3m-12 12h3m65-24h3m-56 5h3m-12-7h3m-16 23h3m7-15h3m90-56h3m-78 35h3m-26 20h3m-30 14h3m19 15h3m75-73h3m-79 46h3m-21 29h3m22-58h3m89 0h3m-94 46h3m146-66h3m-63 5h3m-27 17h3m63-5h3m-160 54h3m145-83h3m-44 30h3m25-21h3m-94 69h3m14-29h3m-41 24h3m81-35h3m17-49h3m-82 66h3m54-42h3m45 12h3m-75 37h3m68-60h3m-84 34h3m-14 7h3m30 16h3m-38-10h3m82-22h3m-87 31h3m-66 13h3m52 0h3m-22 7h3m22-33h3m34-1h3m-84 35h3m85-44h3m-107 36h3m51 4h3m-78-17h3m44 1h3m44-13h3m69-10h3m-104 11h3m2 7h3m30-12h3m-58 18h3m126-53h3m-44 23h3m6 8h3m-107 36h3m-11 4h3m10-1h3m47-45h3m-15 34h3m17-29h3m-44 24h3m95-43h3m-62 28h3m12-17h3m36-20h3m-66 52h3m-67 25h3m61-73h3m45 8h3m46-21h3m-126 64h3m-51 22h3m120-39h3m-64 7h3m23 2h3m46-50h3m-96 41h3m-21 31h3m1-21h3m-37 28h3m17-35h3m-6 4h3m7 40h3m17-40h3m47-24h3m-14 7h3m-62 31h3m2 2h3m30-1h3m17-33h3m-22 33h3m-47 17h3m112-75h3m-111 43h3m37 0h3m-41 15h3m124-47h3m-166 73h3m96-55h3m-78 26h3m8 8h3m15-20h3m36-13h3m53-20h3m35-26h3m-67 33h3m-78 34h3m-30 8h3m48-16h3m-8 8h3m-63 9h3m119-50h3m-65 56h3m50-27h3m-68 12h3m-15 11h3m8-4h3m-13-16h3m-41 20h3m72 2h3m-61 4h3m66-17h3m-95 27h3m107-30h3m-37 13h3m16-37h3m-57 69h3m19-37h3m70-63h3m-57 53h3m-49 7h3m60-20h3m-14 11h3m-19-11h3m53-3h3m-103 14h3m39 13h3m-16 11h3m85-56h3m-127 63h3m84-42h3m54-10h3m-127 24h3m127-56h3m-99 67h3m6-4h3m-8-33h3m-32 24h3m72-20h3m-25-2h3m-56 6h3m25-14h3m11 17h3m9-9h3m-28 10h3m37-18h3m-20 27h3m-14-12h3m-55 50h3m11-41h3m-52 43h3m23-16h3m24-25h3m79-24h3m16-10h3m-106 38h3m94-48h3m-93 35h3m-21 42h3m16-25h3m-60 30h3m27-9h3m-16-11h3m49-38h3m18-1h3m3 3h3m-35 27h3m-64 41h3m132-59h3m20-27h3m-9 2h3m-117 29h3m82-17h3m-106 44h3m120-72h3m-118 69h3m59-65h3m-25 53h3m-42 8h3m141-35h3m-34-7h3m-119 51h3m-1 7h3m-38 1h3m30-19h3m69-48h3m-117 57h3m18 7h3m101-22h3m-27 3h3m19-16h3m-24-10h3m-72 31h3m0 5h3m108-55h3m-128 68h3m9-21h3m57-7h3m-76 48h3m44-46h3m-62 28h3m127-63h3m-56 30h3m-14 11h3m1-9h3m60-31h3m-32 18h3m-72 27h3m110-55h3m-41 8h3m-63 28h3m-26-7h3m-2 36h3m99-76h3m-32 28h3m-30 9h3m5-1h3m-60 26h3m29-16h3m25 11h3m25-25h3m-23 9h3m-91 48h3m144-84h3m-48 28h3m-60 12h3m-9 7h3m57-8h3m-98 27h3m-6 8h3m134-66h3m5 2h3m-121 64h3m36-31h3m-68 28h3m36-14h3m-19-8h3m38-24h3m43 8h3m-68 27h3m52-60h3m-33 31h3m-8 25h3m45-25h3m-6-7h3m6-13h3m-24 32h3m-69 23h3m1-1h3m-24 9h3m67-31h3m0-17h3m43-29h3m-83 47h3m-5-11h3m-47 41h3m96-46h3m12-27h3m-82 61h3m21-16h3m68-39h3m-77 55h3m101-57h3m-73 5h3m-66 56h3m42-12h3m32-42h3m-80 39h3m34-10h3m41-21h3m35-15h3m2-27h3m-99 67h3m29-10h3m-58 30h3m104-59h3m-149 73h3m61-41h3m95-48h3m-6 10h3m-12 5h3m-122 38h3m44 1h3m-41 12h3m31-44h3m-54 23h3m-6 32h3m-4-10h3m154-50h3m-157 55h3m110-44h3m-80 47h3m-38-6h3m27-18h3m-2 32h3m-24-20h3m20-12h3m17-20h3m-6 17h3m26-11h3m10-19h3m9-7h3m-121 52h3m-16 42h3m126-76h3m-41 26h3m-87 29h3m32-13h3m9-6h3m-22-4h3m70-21h3m-4-2h3m-17-4h3m-32 31h3m-12-1h3m35-24h3m39-8h3m-142 44h3m151-49h3m-120 46h3m-16-8h3m98-22h3m-67 27h3m-25-19h3m132-37h3m-142 60h3m59-25h3m-88 33h3m-1 18h3m53-30h3m82-82h3m-155 92h3m76-26h3m-33-8h3m97-32h3m-88 49h3m33-26h3m-67 4h3m-40 40h3m50-20h3m-3-7h3m-1 18h3m-19 11h3m47-54h3m12-10h3m-80 48h3m2 14h3m-22 2h3m56-25h3m-48 12h3m82-54h3m-94 55h3m28-3h3m-8 5h3m-15-6h3m112-56h3m-68 32h3m-74 48h3m109-66h3m-65 28h3m59-43h3m-36 57h3m38-39h3m-21-1h3m11-18h3m-42 3h3m25 8h3m17 4h3m-111 60h3m-16 0h3m33-18h3m-43 14h3m-7 5h3m111-69h3m20 22h3m-126 35h3m18-28h3m28-22h3m-20 28h3m-40 26h3m74-45h3m-3 13h3m21-26h3m-92 39h3m-23 17h3m90-35h3m-14 17h3m15-25h3m-81 40h3m34-32h3m70-13h3m-42-8h3m-89 65h3m52-47h3m38-19h3m-8-8h3m-23 34h3m15-2h3m72-63h3m-100 67h3m-65 31h3m21-17h3m12 2h3m86-44h3m-166 64h3m97-54h3m-59 25h3m-9 15h3m23-5h3m34-12h3m9-10h3m-66 29h3m-9-4h3m-30 15h3m63-27h3m20-26h3m-67 49h3m25-22h3m2-13h3m-43 42h3m67-60h3m-20 14h3m-49 21h3m2 26h3m42-38h3m80-40h3m-62 16h3m-47 55h3m47-46h3m2-28h3m-103 67h3m114-51h3m14-4h3m-64 15h3m56-12h3m-20 7h3m-52 22h3m-41 14h3m59-44h3m-110 91h3m71-68h3m-10 37h3m-17-13h3m-14 8h3m-10 2h3m-37 15h3m75-38h3m-21-25h3m31 11h3m-52 16h3m110-35h3m-28-3h3m-52 26h3m-22 1h3m-27 27h3m-5-5h3m50-33h3m-26 21h3m-41 35h3m11-36h3m7 9h3m15-32h3m-35 51h3m-35 13h3m80-61h3m41-12h3m5-18h3m-80 49h3m5 9h3m3 8h3m30-48h3m-24 17h3m-56 13h3m-21 27h3m-6 11h3m46-19h3m-5-14h3m-9 14h3m17-23h3m23-14h3m-103 62h3m112-81h3m16-22h3m-71 50h3m-63 25h3m85-27h3m15-13h3m-8 11h3m-59 3h3m30 12h3m-76 23h3m170-65h3m-150 62h3m3-21h3m44-27h3m-87 54h3m99-29h3m-9-6h3m27-24h3m52-30h3m-135 64h3m-21 32h3m0-40h3m-15 0h3m80-12h3m-68 21h3m12-24h3m-51 43h3m-6-7h3m88-27h3m-38-1h3m-90 43h3m179-85h3m-101 50h3m-18 15h3m-58 34h3m81-54h3m-84 31h3m0 24h3m41-5h3m31-20h3m49-36h3m50-42h3m-131 64h3m-52 35h3m87-49h3m23-12h3m-12-9h3m-114 52h3m50-12h3m63-45h3m-152 44h3m57 9h3m-22 11h3m33 0h3m7-22h3m70-72h3m-104 88h3m-25 14h3m-28-21h3m147-48h3m-121 49h3m75-48h3m-57 54h3m8 2h3m-1-6h3m30-20h3m-72 30h3m61-55h3m-38 28h3m0-3h3m22-21h3m64-36h3m-109 71h3m-8 8h3m93-39h3m-10-23h3m-15 16h3m-35 13h3m-15 16h3m7-25h3m-23 25h3m-26 20h3m42-39h3m59-24h3m-93 46h3m53-38h3m-19 21h3m-47 17h3m2 21h3m-33-13h3m-27 0h3m73-20h3m-56 27h3m36 11h3m-13-25h3m69-34h3m7-12h3m-97 64h3m42-34h3m-64 40h3m80-56h3m-24 39h3m16-34h3m-5 21h3m-25-5h3m24-28h3m-56 28h3m35-5h3m-78-12h3m81 12h3m26-18h3m-108 58h3m-14-39h3m78-9h3m-51 30h3m43-42h3m-4-4h3m-71 37h3m13 14h3m23-14h3m56-18h3m-73 32h3m23-16h3m-12-20h3m-19 36h3m30-4h3m21-70h3m3 47h3m5-18h3m-72 44h3m-1-18h3m116-49h3m-69 29h3m12-33h3m-46 41h3m-4-17h3m-49 26h3m111-45h3m-22 12h3m-21 21h3m4-25h3m-71 58h3m43-12h3m3-3h3m-49-13h3m96-27h3m-80 18h3m-6-9h3m-19 47h3m-7-14h3m76-41h3m-82 29h3m8 0h3m-42 62h3m-15-16h3m32-2h3m-16-31h3m89-38h3m-121 49h3m66-23h3m-85 38h3m105-55h3m-59 8h3m19 16h3m-3-18h3m-59 12h3m91-14h3m-73 11h3m13 33h3m73-32h3m-120 16h3m3 6h3m98-23h3m-47 7h3m17-49h3m-101 77h3m-1 18h3m56-42h3m-60-11h3m84 1h3m-25 23h3m-72-19h3m126-31h3m-17 17h3m-46-7h3m-8 55h3m-55-46h3m18 32h3m87-19h3m-36-77h3m-91 77h3m116-5h3m-122 5h3m-5 2h3m108-10h3m-120 49h3m83-43h3m-50 58h3m-7-29h3m92-14h3m-52-6h3m8 11h3m28-30h3m-100 40h3m17-17h3m64 7h3m-66-8h3m49-21h3m-23-24h3m12-16h3m3 39h3m-77 41h3m77-63h3m-74 31h3m-19 20h3m38 5h3m-54-15h3m78 9h3m15-25h3m5 0h3m-95 10h3m29-6h3m-16-19h3m-1 41h3m14 34h3m8-53h3m-3 20h3m-28 17h3m13-79h3m-6-3h3m21 56h3m-89-24h3m55 23h3m67-3h3m22-36h3m-121 61h3m-14-10h3m45-26h3m31 3h3m34-21h3m-82 24h3m52 4h3m-80 11h3m-19 40h3m88-52h3m-118 43h3m35-47h3m-21 10h3m-8-4h3m131-4h3m-114 42h3m13-41h3m50 15h3m-37 11h3m6-43h3m-99 40h3m44 0h3m113-29h3m-102-24h3m-25 48h3m77-57h3m-10 24h3m-66 74h3m-17-32h3m13-29h3m-41 26h3m-10-15h3m77-6h3m28-49h3m-71 71h3m38-34h3m9 8h3m-75 36h3m116-47h3m-79-14h3m-39 40h3m22-8h3m-23-1h3m70-38h3m-30 23h3m71-86h3m-94 81h3m32-3h3m3 11h3m-90 23h3m58-8h3m-48 50h3m36-45h3m91-58h3m-28-8h3m-113 87h3m7-53h3m35 7h3m35-3h3m-133 38h3m53-22h3m71-31h3m-88 53h3m61-19h3m-77 26h3m48-51h3m34-1h3m-121 63h3m38-17h3m61-42h3m-10 0h3m68-15h3m-89 60h3m-42-29h3m32 6h3m-47 14h3m31-49h3m-7 41h3m85-59h3m-8 40h3m-73 15h3m-38-2h3m90-1h3m-52 16h3m24 2h3m-61-29h3m-24 13h3m39-21h3m21 7h3m47-75h3m-92 68h3m21-13h3m15 32h3m-37-2h3m44-12h3m-52 35h3m-68 10h3m78-22h3m-1-5h3m10-18h3m-78 2h3m92-13h3m35-17h3m-62 29h3m-106 25h3m122-62h3m-88 41h3m20 7h3m-27 5h3m-20 22h3m138-62h3m-152 47h3m1 14h3m73-61h3m-80 83h3m48-18h3m61-41h3m57-75h3m-179 90h3m94-11h3m-12-39h3m-85 88h3m58-31h3m25-3h3m-56 12h3m-40 20h3m19-5h3m107-76h3m-51 47h3m-6 6h3m90-75h3m-135 46h3m-19 50h3m-2-51h3m-37 45h3m74-40h3m-56 30h3m32-34h3m-34 58h3m43-37h3m-42 20h3m75-46h3m16-4h3m-89 17h3m5 13h3m-42 28h3m-10-23h3m49 24h3m15-16h3m22 8h3m51 6h3m-29-38h3m-87 9h3m-63 0h3m140-57h3m16 27h3m-67 8h3m58-26h3m-38 85h3m-63-5h3m-30-25h3m23 19h3m-5-33h3m102-45h3m-103 51h3m-1 10h3m-14-10h3m-30-3h3m57 11h3m54-40h3m-22 8h3m-124 55h3m38 2h3m106-70h3m-93 39h3m-25 14h3m60-62h3m22 25h3m-27 22h3m-115-14h3m25 51h3m45-48h3m3 32h3m-29-34h3m70-40h3m-107 62h3m62-31h3m-20 60h3m44-33h3m-94 7h3m183-22h3m-27-43h3m-36 16h3m-109 22h3m40 40h3m31-36h3m-9 22h3m-59-9h3m-23 30h3m-22-61h3m-14 76h3m35-64h3m4 29h3m-9 16h3m85-29h3m-66-19h3m-77 54h3m90-31h3m57-26h3m-40 11h3m-100 7h3m77-11h3m17 36h3m-40-14h3m25-15h3m-105 43h3m69-73h3m-63 94h3m156-59h3m-55-14h3m-127 63h3m87-40h3m23-40h3m-102 65h3m59-65h3m-16 54h3m-22-54h3m45 14h3m-121 23h3m107 7h3m76-32h3m-121 32h3m-12 18h3m5-12h3m2 27h3m49-52h3m-49 21h3m-11 0h3m64-7h3m-7-29h3m31-69h3m-133 82h3m100-44h3m-100 90h3m142-60h3m-103 47h3m-10-16h3m-37-34h3m16 44h3m12-38h3m-29 37h3m61-33h3m1 25h3m-41 49h3m22-70h3m17 19h3m-20-36h3m42-34h3m18 35h3m-137 45h3m150-45h3m-110 61h3m4-8h3m11-45h3m-67 39h3m-8 11h3m-1-21h3m47-10h3m-32-21h3m71-49h3m-26 59h3m31 6h3m-29-7h3m78-3h3m-146 34h3m79-66h3m56 26h3m-52-12h3m-4 32h3m-30-7h3m2-10h3m-117 40h3m21-4h3m46-23h3m-36-3h3m116-26h3m-106 15h3m56 1h3m-119 67h3m22-6h3m36-41h3m94-67h3m4 28h3m-77 13h3m26 26h3m-154 119h3m3-54h3m-18 37h3m35-52h3m-40 28h3m-11 34h3m8-6h3m21 2h3m-17-16h3m-19-28h3m65 61h3m-55-14h3m35-22h3m-19-24h3m-17 31h3m-43-16h3m52 48h3m-34-29h3m-8 12h3m-4 4h3m27 18h3m11 44h3m-33-55h3m-23-68h3m42 101h3m-49-73h3m49 80h3m-72-82h3m32 43h3m14-18h3m-30 12h3m39-12h3m-21 34h3m-15 6h3m-5-51h3m11 7h3m-15 24h3m17-7h3m-25-53h3m21 66h3m-4-2h3m-44-14h3m28 15h3m6 19h3m-15-106h3m2 117h3m6-58h3m1 21h3m-41-14h3m20-41h3m-5 72h3m-4-60h3m-31 18h3m64 82h3m-87-89h3m37-14h3m35 45h3m-56-42h3m27 70h3m-35-79h3m23 89h3m-4-24h3m6-13h3m5-17h3m-12-12h3m-29 51h3m30 22h3m-31-61h3m-22 30h3m5-36h3m2 63h3m12-70h3m-3-23h3m7 10h3m-45 60h3m8-45h3m5 23h3m-10-31h3m27 10h3m-2 13h3m-28 16h3m-2-18h3m24-27h3m-9-31h3m-11 89h3m-28-78h3m5 46h3m31 36h3m-32-97h3m36 75h3m-49-14h3m19 44h3m3-27h3m24-11h3m-34 12h3m14 16h3m-29 4h3m-19-61h3m50 70h3m-26-9h3m-9-44h3m-45-9h3m9 72h3m20-62h3m-30 16h3m14-17h3m15 30h3m-26-37h3m3 27h3m-2-28h3m7 32h3m-17-17h3m14 26h3m11 22h3m-10-68h3m-23 55h3m5-29h3m22 90h3m-58-111h3m1-45h3m32 18h3m-22 6h3m2 78h3m-4-52h3m27 74h3m-32-57h3m-8-15h3m-10-5h3m24 28h3m-29 40h3m0-132h3m-30 30h3m8 48h3m47-13h3m-1 37h3m-9 7h3m-20-35h3m-9-1h3m11-49h3m-40 37h3m11 19h3m24 13h3m-29 0h3m31 27h3m-15-58h3m-41 62h3m25-60h3m-2 67h3m10-119h3m-9 139h3m-12-61h3m-43-1h3m28 30h3m-26-98h3m65 83h3m-20-10h3m-24-10h3m18-9h3m11 33h3m-18-24h3m-23-24h3m-9 68h3m16-27h3m-21-51h3m9 30h3m-21 28h3m46 30h3m-30-67h3m-14-32h3m-7 21h3m4 22h3m-14-19h3m16 55h3m20-45h3m-30 12h3m-26-43h3m25 66h3m25-36h3m-21-17h3m-26 35h3m13 0h3m1-66h3m-22 101h3m6-30h3m-2-22h3m4-2h3m-12-12h3m0 45h3m-14 25h3m-10-89h3m16 51h3m-15-49h3m5 6h3m-10 47h3m19-27h3m-60-45h3m37 69h3m-5-102h3m-19 57h3m24 12h3m-5 17h3m-53 14h3m56 14h3m-27-48h3m-10 14h3m36 4h3m-12 0h3m-62-8h3m27 25h3m3-43h3m-6 62h3m-12 19h3m28 8h3m-25-72h3m28-21h3m-23-5h3m-20-38h3m-9 39h3m0 22h3m31 64h3m-19-25h3m21-7h3m-17-63h3m-28 23h3m43 14h3m-44 3h3m36-30h3m11 96h3m-17-7h3m-61-24h3m-1-80h3m26 48h3m-41-42h3m18 30h3m-6-52h3m7 66h3m8 2h3m11 26h3m-16-29h3m-8-22h3m-1 34h3m-7-57h3m21 64h3m-34 22h3m21-86h3m-7 71h3m-29 7h3m3-82h3m6 47h3m-12 36h3m7-72h3m-24 59h3m-14-11h3m5-52h3m24 96h3m9-30h3m-15-50h3m22 86h3m-58-76h3m2 16h3m-35-51h3m86 93h3m-16-56h3m16 76h3m-32-73h3m-42-9h3m28 33h3m8-63h3m-48 28h3m48 14h3m12 87h3m-54-98h3m-7 23h3m57-44h3m-66 56h3m10 15h3m-4-4h3m25 58h3m-37-138h3m41 14h3m-24 67h3m-13-77h3m3 95h3m14-54h3m-29-49h3m-20 84h3m19-74h3m-21 40h3m17-41h3m-2 87h3m15-34h3m-9-25h3m-10 71h3m16-32h3m-13-1h3m-34 15h3m11-23h3m19-62h3m6 63h3m-34 10h3m9 12h3m20 54h3m-24-87h3m-16 1h3m-13 19h3m-36-5h3m41-13h3m-7-31h3m1 22h3m-1-17h3m-19 27h3m21 24h3m-26-82h3m35 45h3m-24 9h3m-14-14h3m-22-49h3m16 125h3m19-45h3m-13 37h3m-20-40h3m-23-91h3m30 73h3m-44 19h3m37-2h3m9 11h3m-8 5h3m-3-16h3m-6-26h3m14-9h3m-49 86h3m62 26h3m-67-118h3m69 45h3m-66-77h3m39 79h3m19 20h3m-31 19h3m-78-61h3m33 40h3m38 23h3m-30-77h3m-48-17h3m83 69h3m-68-39h3m14 11h3m-29-22h3m34 1h3m16 27h3m-8-58h3m31 144h3m-64-101h3m11 3h3m25 20h3m-3 2h3m-57-82h3m29 49h3m20 41h3m-58-60h3m-43 0h3m15-18h3m41 54h3m17-30h3m-64-19h3m63 65h3m-11-10h3m25 65h3m-30-102h3m-22 18h3m8-12h3m-24-76h3m-17 26h3m33-24h3m-39 6h3m33 105h3m10-43h3m34-49h3m-16 129h3m-78-90h3m70 38h3m-30-18h3m42 88h3m-46-171h3m-32 133h3m5-54h3m19 30h3m-41 57h3m15-26h3m-15-6h3m-24-28h3m24-14h3m-16 27h3m-15-37h3m27 66h3m5-49h3m11-8h3m-31 20h3m-22-32h3m-31 49h3m20-99h3m8-40h3m-2 163h3m45-39h3m-42 2h3m1-16h3m15-28h3m-60-62h3m53 148h3m11-114h3m5 79h3m-21-89h3m-55 87h3m5-76h3m28 6h3m38 114h3m-30-80h3m-13 28h3m2 10h3m15 25h3m-10-36h3m-13-32h3m-15 3h3m-17 2h3m8 46h3m-36-114h3m42 86h3m20 73h3m-48-109h3m1 38h3m5-26h3m-36-64h3m0 184h3m230-216h3m-74-47h3m-72 43h3m117-34h3m-3 64h3m-139 12h3m63-80h3m-40 5h3m41-16h3m66 61h3m3-50h3m14 80h3m-6-65h3m-67 5h3m-37 3h3m6 20h3m25 10h3m-68 23h3m75-18h3m-52-34h3m3-11h3m-66 56h3m146-5h3m-41-40h3m-105-8h3m55 29h3m3-49h3m49 66h3m27-48h3m-60-2h3m15 13h3m-97 7h3m79 36h3m-52-39h3m39-5h3m-105 19h3m-21-23h3m172-17h3m-160 75h3m-23-21h3m-36 202h3m-21 0h3m-9 0h3m3 0h3m8 0h3m-15 0h3m52 0h3m-50 0h3m-10 0h3m50 0h3m-12 0h3m-68 0h3m34 0h3m-41 0h3m0 0h3m47 0h3m0 0h3m-48 0h3m-7 0h3m23 0h3m13 0h3m7 0h3m-52 0h3m33 0h3m29 0h3m-28 0h3m22 0h3m-30 0h3m16 0h3m-22 0h3m-12 0h3m11 0h3m-39 0h3m10 0h3m22 0h3"/><path d="M793 1022h3m-18-1h3m6 8h3m-14 23h3m19 1h3m-10-16h3m4 6h3m-2 19h3m-13-18h3m24-27h3m-57 34h3m30-11h3m-2 29h3m3-29h3m-31 4h3m59 9h3m-71-56h3m38 63h3m-7-22h3m-12-4h3m0 21h3m-17-11h3m-2-38h3m29 39h3m-26-15h3m-14 30h3m35-15h3m-60-9h3m53 55h3m6-34h3m-43-9h3m2 0h3m-30-10h3m29 23h3m-18-16h3m0-26h3m2 49h3m2-96h3m-22 52h3m18 14h3m7-17h3m-41 15h3m17-5h3m-6 5h3m-13 6h3m-3 0h3m0 6h3m19-2h3m-31-43h3m34 30h3m-17-1h3m10 22h3m-14 11h3m-19-14h3m5-13h3m17-1h3m-20 3h3m-14 13h3m10 5h3m-6-24h3m-22-8h3m41 22h3m-43-10h3m29 17h3m-19-33h3m-22 17h3m19 25h3m-12-65h3m-7 15h3m6 38h3m-20-2h3m-16-35h3m23 8h3m7 14h3m-40 1h3m30 6h3m9-13h3m-23 5h3m-2 5h3m6-2h3m13 6h3m-7-18h3m-45 16h3m32-12h3m-45 1h3m6-23h3m10 41h3m5-30h3m-21 22h3m35-27h3m-42 14h3m14-1h3m20 29h3m-55-43h3m44-1h3m10 23h3m-44 4h3m17 23h3m-30-46h3m28-9h3m-13 52h3m-3-40h3m8 17h3m-30 26h3m2-32h3m4-13h3m-39 2h3m24-13h3m21 31h3m-14 24h3m-36-15h3m40-3h3m-11-12h3m-13 8h3m4 10h3m-9 10h3m16 17h3m-6-20h3m-39-36h3m34 35h3m-17-18h3m21-23h3m-20 26h3m1 24h3m1-23h3m4-13h3m-18 24h3m-26-26h3m34 10h3m-12-1h3m-8-11h3m1 16h3m-32-27h3m16-3h3m-5 25h3m-32-2h3m22-8h3m19 48h3m-7-26h3m-3-20h3m-10 1h3m-23-7h3m46 31h3m-44 10h3m-5-24h3m13 46h3m-38-62h3m31 29h3m-26-3h3m17-9h3m-3-33h3m-23 58h3m5-23h3m16-12h3m-1 28h3m-33-23h3m-11 24h3m35-34h3m17 16h3m-68-10h3m29 25h3m-11 4h3m-6 8h3m-9-50h3m46 47h3m-27-38h3m4 11h3m-9-7h3m-13-2h3m-7-20h3m18 21h3m15 12h3m-11-23h3m-72-13h3m32 49h3m8-5h3m-14-14h3m21-6h3m-1 19h3m-12-19h3m-8 17h3m9 9h3m-15 26h3m-21-47h3m14 13h3m-8-10h3m31-8h3m-55 7h3m42 7h3m-33-15h3m12-5h3m-29 35h3m19-9h3m-23-7h3m18-20h3m-4 23h3m-22-16h3m21 1h3m-9 0h3m-23 11h3m27 10h3m-12-2h3m3-1h3m6 8h3m-38-15h3m10-4h3m38-9h3m-50 5h3m-8 8h3m16-16h3m3 10h3m-6 9h3m12-5h3m-27 11h3m14-6h3m7-10h3m-15 7h3m-52-26h3m44 1h3m-11 14h3m4 30h3m-63-33h3m46 12h3m16 10h3m4-14h3m-13 27h3m-16-25h3m5 26h3m-21-58h3m14 36h3m-8-27h3m-1 25h3m-6 17h3m-9-24h3m-8-3h3m23 33h3m-15-25h3m-7-11h3m-13-27h3m-18 8h3m36 41h3m-24-7h3m20-24h3m-21 7h3m-13 8h3m-23 14h3m45-31h3m-35 32h3m-15 36h3m28-63h3m23 18h3m-58-11h3m20 20h3m-15-14h3m-10-10h3m21 11h3m2-7h3m8 45h3m-12-28h3m1-29h3m-5 33h3m-27-26h3m10 20h3m-12 11h3m1-5h3m-3-40h3m-3-6h3m10 38h3m-6 33h3m8-28h3m-4-6h3m-10 1h3m-28 0h3m29 7h3m-37-34h3m-8 39h3m3-41h3m-10 12h3m4 28h3m17 7h3m-16-25h3m7 11h3m3 5h3m13 6h3m-14 4h3m-33-18h3m-6-2h3m-23 19h3m27-18h3m-1-11h3m10 13h3m-18-12h3m9 13h3m-1 21h3m-2-23h3m5-20h3m-24 6h3m-2 6h3m10 15h3m-17-5h3m-1-4h3m-33 8h3m14-68h3m12 14h3m-17 39h3m-3-32h3m16 32h3m34 15h3m-63-17h3m17-23h3m18 7h3m-34 19h3m19 8h3m8-23h3m-24 30h3m6 0h3m35 0h3m-61-40h3m0 24h3m-24-24h3m12 30h3m13-14h3m9 28h3m-12-31h3m19 11h3m-49 0h3m0-31h3m3 25h3m2 10h3m-5 20h3m20-28h3m-25 52h3m16-39h3m-18 15h3m7 11h3m-4-8h3m-1-44h3m4 33h3m-50-45h3m36 56h3m-19-43h3m-6 22h3m10-17h3m-10 1h3m-21 5h3m33 1h3m-30 10h3m2-2h3m9 19h3m-4-7h3m6 0h3m-10-23h3m-24 11h3m24 16h3m-12-20h3m26 12h3m-78-45h3m62 44h3m-14-4h3m11-11h3m-1 28h3m-86-36h3m69 16h3m-38-14h3m14-24h3m12 34h3m-30 2h3m22 19h3m-3-45h3m-21 19h3m25 11h3m-46-23h3m-4 19h3m0 14h3m19-6h3m-17 7h3m-2-30h3m10 19h3m16-5h3m-10-6h3m-5-11h3m7 8h3m-24 17h3m-1-3h3m-4 22h3m-26-9h3m9-10h3m6-33h3m-23 60h3m0 1h3m33-31h3m2-29h3m-43 5h3m-24 5h3m27 22h3m8 15h3m-17-1h3m-11-19h3m16-18h3m3 7h3m-20 62h3m-1-52h3m3 38h3m31-40h3m-38-15h3m25 5h3m-26-3h3m-10 8h3m7-10h3m-15 26h3m22 32h3m-26-59h3m-14 24h3m31-45h3m-24 50h3m-3 2h3m-14-19h3m35 2h3m-48 16h3m17-6h3m-5 10h3m-5-36h3m-12 8h3m11 26h3m6-13h3m-18-3h3m25 37h3m-7-24h3m-22-46h3m7 41h3m-9-21h3m-14-16h3m15 40h3m-5-7h3m-11 28h3m-17-47h3m0 16h3m13 5h3m-5-28h3m1 13h3m3 21h3m-33-23h3m16 48h3m-34-91h3m25 66h3m3-10h3m22 25h3m-2-20h3m-35-37h3m17 47h3m-32-21h3m29 5h3m-38-16h3m6 43h3m9-31h3m4 0h3m-1 19h3m-23-17h3m6 20h3m-28-19h3m6-16h3m32 20h3m-44 16h3m20-19h3m20-36h3m-7 46h3m-32 7h3m19-8h3m-19 10h3m21-8h3m-15-12h3m-7 0h3m-21-22h3m19 24h3m-26-1h3m21-25h3m-31 11h3m10 21h3m-3 13h3m28 3h3m-25-11h3m2 15h3m-10-43h3m5 17h3m-9-38h3m-14 32h3m21 14h3m-25 23h3m3-5h3m-6 8h3m-5-14h3m-6-18h3m12 36h3m-32-59h3m44 40h3m-53-16h3m7-25h3m27 21h3m-2-3h3m-19 25h3m-30-33h3m20 13h3m11 15h3m-19-26h3m0-14h3m-4 7h3m12 37h3m1-18h3m-19 5h3m45 19h3m-26 18h3m-24-40h3m4 19h3m-22-2h3m6-50h3m21 30h3m-35-42h3m-17 57h3m49-46h3m-49 1h3m-8 77h3m26-1h3m-34-36h3m-11-7h3m26 23h3m1-67h3m-11 98h3m-24-24h3m23 10h3m-3-45h3m-13-39h3m1 13h3m-29 7h3m13 14h3m10 18h3m25-82h3m0 99h3m-56-24h3m-15 31h3m-1-57h3m28 2h3m-9 22h3m-36-16h3m13 15h3m14-6h3m-29 25h3m10-25h3m-17-47h3m10 23h3m61-34h3m-69 70h3m-2-22h3m33-6h3m-3 49h3m7-38h3m-34 20h3m-22-24h3m31 71h3m-20-34h3m3 17h3m9-53h3m31 48h3m-53-37h3m-10-9h3m16-18h3m9 10h3m-41 2h3m31 25h3m-24-11h3m-14-17h3m60 19h3m-56 15h3m15-26h3m-27-3h3m7 20h3m26 9h3m8 15h3m-62-13h3m-8-36h3m49 47h3m27-46h3m-102 22h3m34 43h3m34-32h3m-74-42h3m60 27h3m-49 5h3m0 8h3m5-34h3m17 47h3m-38-61h3m33 45h3m-56 10h3m56 8h3m-53-48h3m47 18h3m-12 29h3m-4 4h3m1-17h3m30-57h3m-63 51h3m4 28h3m-9-32h3m25-21h3m-23 28h3m19-41h3m-18 1h3m22 38h3m-26 37h3m25-18h3m-27-24h3m-24 28h3m26-47h3m5 54h3m-2-40h3m-6 18h3m-28-13h3m-26-13h3m44 23h3m-43-29h3m2 4h3m33 0h3m-71-6h3m60 1h3m-21 10h3m-12-39h3m-8 18h3m25-1h3m-26 56h3m-13-38h3m22 26h3m7-4h3m-24-64h3m52 77h3m-22 50h3m-39-77h3m-28 57h3m13-19h3m19-92h3m-23 42h3m8 5h3m-16 44h3m57-27h3m-46-9h3m52-41h3m-67 52h3m25 0h3m-27-5h3m-22-10h3m29 23h3m-17-51h3m14-34h3m-17 77h3m9-53h3m-21 51h3m13-19h3m-41 0h3m41 31h3m-5 43h3m-3-48h3m-28-29h3m4 14h3m-9-39h3m34 59h3m-18-61h3m-9 71h3m-18-8h3m34-37h3m13 8h3m-39 36h3m70-2h3m-62 16h3m3-7h3m-2-57h3m-52-11h3m56 96h3m1-7h3m-3 16h3m-25 3h3m-2-9h3m-3-52h3m-16 51h3m16-6h3m-4-17h3m15 45h3m-19-31h3m2-11h3m-7 18h3m-19 24h3m29-6h3m-29-18h3m-15-42h3m33 95h3m-25-47h3m4-25h3m-25 6h3m30-5h3m-7 36h3m-23-7h3m14 8h3m7-17h3m-33-48h3m9 30h3m32 19h3m-15-12h3m-5 27h3m-35 15h3m17-76h3m23 65h3m-33-34h3m-10 32h3m-30-12h3m46-18h3m-4-9h3m-21 35h3m-7-78h3m12 81h3m-33 12h3m14-93h3m18 64h3m-24-45h3m-11 74h3m23-59h3m-20 19h3m16 56h3m-11-52h3m-28-6h3m28-20h3m-27 9h3m2 67h3m22-26h3m-25 11h3m11-11h3m-13-17h3m16 32h3m-20-50h3m-20 27h3m7-37h3m4-25h3m-13 16h3m13-3h3m2 32h3m-26 17h3m31-10h3m-26-40h3m20 43h3m-23-47h3m-12 46h3m11 14h3m9-5h3m-26-22h3m11-38h3m-23 60h3m-5 29h3m8-6h3m-4-34h3m21 4h3m-9 54h3m-5-25h3m1 16h3m-6-2h3m-16-63h3m-21 26h3m12 1h3m-12-22h3m30 34h3m-23 13h3m5-48h3m-11 26h3m11 29h3m-23-68h3m-6 6h3m-19-8h3m29 29h3m-28 34h3m0-44h3m5-10h3m-24 18h3m4-50h3m28 42h3m-5 73h3m-27-41h3m23-34h3m-36 56h3m21-57h3m-1 55h3m-9-50h3m-8 19h3m-3 10h3m-1-30h3m3 30h3m-9-43h3m-8 30h3m-7 15h3m12-43h3m-37-44h3m21 38h3m18 64h3m-36-41h3m22 31h3m-34-64h3m24 9h3m-6 34h3m-17 13h3m5-64h3m-20-4h3m20 71h3m3 19h3m-14-44h3m5 45h3m-32-61h3m23 15h3m15 23h3m-1-28h3m-23 60h3m1-18h3m-4 20h3m14-82h3m-9 15h3m-34-18h3m9 26h3m-11-31h3m22 32h3m-26 5h3m4-8h3m16-27h3m-9 85h3m-22-52h3m-3-17h3m-9-8h3m-12 31h3m16-41h3m22 62h3m-29-19h3m19-18h3m-29 40h3m-13-102h3m27 103h3m-24 6h3m-17-7h3m41 6h3m-59-34h3m32 65h3m-8-85h3m19 4h3m-30 54h3m19-9h3m-28-49h3m33 31h3m4-31h3m-11 6h3m-15 21h3m0-2h3m-4 16h3m-16-15h3m8 33h3m4-84h3m-27 70h3m-7-95h3m27 113h3m-16-59h3m-9-15h3m-2 80h3m-14 36h3m10-124h3m-11 48h3m-22-2h3m35 4h3m-1-3h3m-37 1h3m1-16h3m14 7h3m0-15h3m-16 19h3m-10-20h3m6 20h3m7 33h3m-3-39h3m35 28h3m-66-49h3m45 52h3m-18-24h3m-10-28h3m0 19h3m12 20h3m-46-24h3m27 32h3m-17-76h3m-19 4h3m-4-20h3m11 102h3m-7-63h3m26 54h3m-9-39h3m3 17h3m-21-34h3m-10 36h3m-9 4h3m13 28h3m-22-6h3m1-58h3m9 16h3m-7 26h3m2-35h3m-10-37h3m2 68h3m-23-40h3m12 22h3m25 28h3m-28-22h3m-5 6h3m-15-35h3m29 11h3m-7-5h3m5 11h3m-30 22h3m-21-31h3m37 52h3m-16-49h3m-4 20h3m-10-47h3m23 36h3m1 48h3m-26-14h3m21-26h3m-15 25h3m-29-15h3m0-43h3m2 39h3m1-17h3m-3-49h3m4 64h3m4 38h3m-14-11h3m-4-26h3m3 29h3m8-30h3m-10-22h3m-12 22h3m-21-10h3m14 21h3m-12-15h3m40 40h3m-58-38h3m20 28h3m-17-59h3m14 44h3m-6 3h3m-3 32h3m-15-59h3m12 75h3m-9-145h3m2 57h3m-9 14h3m-8 11h3m-18-39h3m32 50h3m-20 34h3m6-78h3m-16 24h3m-16-23h3m9 1h3m45 28h3m-49 4h3m21 1h3m-3 30h3m-61-70h3m37 9h3m-8 46h3m9 7h3m-19-1h3m13-48h3m-14 47h3m1-38h3m15 38h3m-15-40h3m-6 30h3m-5 17h3m1-19h3m-16-13h3m26-1h3m-28 43h3m15-29h3m-16-40h3m-1 25h3m-14-12h3m-14 30h3m-5-37h3m3 13h3m0 3h3m27-33h3m-23 28h3m16 51h3m-7-15h3m-15-9h3m1 33h3m17 16h3m-44-57h3m2 43h3m19-57h3m-17-7h3m12 45h3m-14 14h3m1-45h3m4 32h3m-17 15h3m27-56h3m-31 0h3m4-4h3m-6 68h3m-8 2h3m-15-64h3m11-8h3m-12-16h3m5 35h3m-6-1h3m8 70h3m-9-81h3m-2 24h3m-11-27h3m-3-42h3m4 22h3m-14 2h3m6 63h3m-9-60h3m-7 28h3m26-10h3m-25-30h3m3 77h3m-2-42h3m0 38h3m2-36h3m-20-37h3m3-12h3m4 24h3m-19 0h3m-13 36h3m14 17h3m2 5h3m-6-19h3m-7-17h3m-13-51h3m-19 39h3m17 12h3m-1-55h3m-7 63h3m10-4h3m-11-58h3m10 97h3m-4-32h3m-2-30h3m-28-68h3m30 83h3m4 30h3m12-56h3m-40 26h3m40 66h3m-28-112h3m-31 48h3m21 25h3m-22-87h3m-16 14h3m12 19h3m16 31h3m-7-54h3m-34 130h3m31-59h3m-42-84h3m-21 127h3m33-59h3m58-6h3m-87 35h3m42-74h3m-11 29h3m-24 18h3m13 59h3m-12-64h3m7 8h3m13-38h3m-23-2h3m19 85h3m-38 19h3m7-51h3m3-20h3m-4 6h3m8-21h3m11 40h3m-14-5h3m-8 14h3m5-27h3m-38-33h3m-18 33h3m34-142h3m0 145h3m-32 29h3m11 11h3m16-64h3m1 39h3m-10 28h3m14-72h3m5 38h3m-41 23h3m-4-63h3m-31-9h3m75 96h3m-61-79h3m17-25h3m2 55h3m-24-89h3m-15 114h3m20-43h3m28-32h3m-35 21h3m-27 58h3m18-25h3m-1 24h3m5-8h3m6-21h3m-57-66h3m2-4h3m2 70h3m23-33h3m0-13h3m-14-15h3m17 94h3m-33-55h3m57-23h3m-31 77h3m-4-189h3m5 129h3m13 61h3m-47-62h3m12-6h3m-6 47h3m48-2h3m-43-87h3m15 18h3m-27 42h3m-8 19h3m14 11h3m-21-62h3m-11-82h3m0 134h3m-9-43h3m48 77h3m-63-61h3m42 15h3m-32-53h3m16 77h3m-54 14h3m-4 23h3m52 15h3m-6-31h3m-14 17h3m-19-63h3m-32-43h3m38 22h3m1 6h3m12 24h3m-22 21h3m24-44h3m-55-20h3m21-24h3m29 29h3m-4 21h3m-46-46h3m48 66h3m-6 56h3m-45-46h3m2-83h3m-34 34h3m7-6h3m18 20h3m5-15h3m18 27h3m-9 49h3m-40-115h3m6 66h3m21-17h3m-57 12h3m26 36h3m7 30h3m-8 11h3m10-51h3m-10 35h3m8-16h3m-24 12h3m5-9h3m-17 27h3m4-11h3m19 26h3m-20-53h3m-1 43h3m-17-45h3m-14 23h3m15-27h3m18 23h3m-26-43h3m14 16h3m-18 43h3m20 17h3m-17-26h3m-8 25h3m-15-23h3m5-37h3m1 62h3m-3-33h3m-37-6h3m34-8h3m-4-4h3m-7 31h3m-11 13h3m22 4h3m-20-71h3m-3 50h3m-9 10h3m25-22h3m-28-26h3m6 38h3m-10-19h3m-8 5h3m-6-21h3m9 27h3m2-37h3m-20 62h3m5-29h3m-6-4h3m26-2h3m-18 14h3m15 1h3m-17-7h3m-33 24h3m26-20h3m-26-21h3m35 5h3m-50 24h3m30 15h3m-13-11h3m8 2h3m-9-28h3m-15-30h3m12-3h3m-17 51h3m-16-59h3m19 14h3m10 35h3m-7 38h3m-18-39h3m-2 7h3m4-4h3m-12-13h3m6 16h3m-23-6h3m-1-47h3m6 73h3m-8-26h3m10 33h3m6-32h3m-34 20h3m37 16h3m-20-70h3m-15 73h3m19-39h3m-22 1h3m0 3h3m-6 0h3m1 0h3m-7 3h3m26 34h3m-26-25h3m13-1h3m-29-5h3m11-49h3m0 52h3m-49 1h3m43 22h3m-40-55h3m49 9h3m-45 5h3m16-45h3m-13 47h3m1-16h3m1-28h3m-23 13h3m35 73h3m-42-93h3m36 65h3m-6 13h3m-31-67h3m18 31h3m-7 37h3m-45-69h3m37 6h3m15 78h3m-21-52h3m-33 28h3m34-33h3m56-153h3m-50 41h3m70-68h3m-40 58h3m51-54h3m-59 30h3m52-24h3m-10 9h3m-33 22h3m-7 10h3m40-16h3m-79 29h3m85-51h3m-59 50h3m63-45h3m-102 32h3m-13 4h3m77-41h3m-91 39h3m40-25h3m-15 15h3m-6-9h3m7 24h3m3-27h3m94-31h3m-66 27h3m-60 33h3m17-3h3m51-41h3m-6-9h3m-14 20h3m62-12h3m-107 58h3m4-15h3m-32 5h3m69-44h3m-20-4h3m10 9h3m-84 42h3m1-4h3m43-30h3m-61 29h3m53-5h3m-5 0h3m-26-6h3m-17 23h3m-3 9h3m78-31h3m-81 12h3m-21-5h3m21 21h3m30-33h3m109-31h3m-67 1h3m-31 1h3m-1 20h3m-60 18h3m43-11h3m-52 28h3m61-46h3m29-3h3m-128 33h3m75-44h3m-18 18h3m-43 41h3m66-30h3m-13-12h3m-32 6h3m43-12h3m-12 25h3m2-17h3m59-32h3m-114 53h3m30-22h3m-51 22h3m48-22h3m-87 25h3m53-4h3m25-42h3m-57 49h3m-18 34h3m74-60h3m-44 11h3m0-10h3m-1 0h3m57-12h3m11 13h3m-68 19h3m-21 0h3m22-15h3m98-34h3m-128 30h3m28 15h3m-62 20h3m-2-4h3m111-50h3m-93 40h3m30-17h3m41-13h3m-36-3h3m-45 19h3m24-6h3m-11 27h3m-28-3h3m54-19h3m-50 13h3m20-12h3m-34-13h3m91-27h3m-31 11h3m-21 5h3m18 8h3m-90 54h3m26-17h3m7 5h3m53-44h3m-110 42h3m47-30h3m16-3h3m-29 21h3m32-31h3m-64 36h3m72-44h3m-35 26h3m-47 13h3m72-37h3m-96 50h3m27-11h3m17-8h3m-34 18h3m33-30h3m58-10h3m-114 34h3m61-1h3m-73-1h3m138-57h3m-23 7h3m-48 13h3m26-11h3m-5 8h3m-2 21h3m-38-5h3m120-47h3m-144 38h3m12 24h3m-61 13h3m7 5h3m141-83h3m-145 76h3m71-27h3m-33 15h3m-59 34h3m-8-13h3m15-9h3m45-33h3m-1 11h3m9-12h3m-11 20h3m5-29h3m-25 26h3m106-65h3m-159 95h3m56-69h3m-22 49h3m-38-4h3m-17 33h3m59-56h3m-33 22h3m6-20h3m-35 29h3m96-52h3m-37 28h3m-33 16h3m1-6h3m-14-1h3m-19 22h3m28-3h3m22-17h3m48-30h3m-92 49h3m49-32h3m-12-4h3m21-20h3m42-16h3m-93 44h3m9-17h3m67-9h3m-84 29h3m-66 24h3m63-22h3m-1-11h3m-51 21h3m-14 0h3m100-33h3m-53 16h3m-64 31h3m58-33h3m-60 30h3m29-26h3m3 10h3m-9-5h3m21-1h3m68-21h3m-12 0h3m-95 38h3m-4-6h3m25-7h3m29-36h3m-38 26h3m-43 26h3m37-25h3m34-20h3m-47 22h3m-23 21h3m-13-1h3m39-27h3m-20 10h3m-29 31h3m31-37h3m129-26h3m-148 31h3m42-24h3m-45 34h3m1-13h3m-46 29h3m44-18h3m76-34h3m-75 12h3m4 17h3m-24 1h3m-2 29h3m39-31h3m-53 1h3m59-4h3m-109 16h3m82-22h3m-70 39h3m100-58h3m-5 12h3m-117 43h3m56-24h3m-51-2h3m8 7h3m104-65h3m16 6h3m-157 73h3m53-36h3m55-30h3m-57 40h3m-54 22h3m18 9h3m-1-8h3m40-10h3m37-46h3m-8 10h3m-54 3h3m-15 20h3m51-27h3m61-20h3m-48 25h3m-55 18h3m-20 3h3m4 14h3m-16 8h3m106-61h3m-124 65h3m44-17h3m10-24h3m-1 22h3m35-46h3m-84 57h3m-11 3h3m37-24h3m7-10h3m-32 29h3m-8-1h3m53-7h3m-81 24h3m-10-16h3m-25 14h3m77-32h3m-23-14h3m-19 34h3m-24-14h3m5 16h3m63-33h3m52-6h3m-87 14h3m-49 40h3m23-21h3m88-43h3m-140 68h3m103-46h3m15-2h3m-105 17h3m93-28h3m-65 34h3m-40 12h3m8-6h3m-1-1h3m43-35h3m-65 23h3m17 35h3m8-39h3m53-9h3m-52 14h3m-15-12h3m-34 34h3m60-25h3m-33-2h3m-13 10h3m94-9h3m-47-16h3m-35 9h3m56-32h3m-38 40h3m22-27h3m-55 28h3m-57 18h3m36-1h3m-9-26h3m-8 5h3m32-8h3m-5 9h3m4-23h3m3 21h3m62-36h3m-68 19h3m12 10h3m-27-4h3m49-18h3m-95 44h3m33-13h3m25-27h3m1-5h3m-95 61h3m69-19h3m-57 6h3m139-64h3m-91 46h3m20-42h3m-65 60h3m-44-2h3m87-28h3m51-6h3m-131 42h3m-3 4h3m83-52h3m-78 27h3m-15 22h3m78-43h3m-1 29h3m-22 3h3m-31-11h3m90-32h3m-6 1h3m-95 18h3m-37 36h3m72-43h3m-47 39h3m11-18h3m92-36h3m-79 40h3m-49 5h3m36-24h3m-21 5h3m-6 5h3m-42 27h3m55-18h3m52-37h3m-68 32h3m94-50h3m-120 67h3m-14-6h3m29-17h3m8 1h3m86-43h3m-2-2h3m-142 69h3m134-62h3m-162 43h3m70-22h3m-27 30h3m-16 1h3m52-28h3m9 12h3m-106 39h3m-4-26h3m1 30h3m56-37h3m-41 17h3m-2 1h3m29-3h3m-1-16h3m41-25h3m0 18h3m-108 35h3m4 7h3m53-49h3m27 1h3m-58 19h3m20-16h3m72-37h3m-111 53h3m-4 11h3m125-53h3m-112 57h3m16-39h3m83 7h3m-98 17h3m-20 29h3m-43 4h3m156-61h3m-64 9h3m-25 0h3m-24 27h3m-44 12h3m27-39h3m-27 43h3m127-50h3m-123 33h3m57-18h3m-25-18h3m33-6h3m-89 48h3m32-5h3m6-8h3m67-58h3m-111 59h3m37 15h3m2-23h3m-12 5h3m26-15h3m-36 22h3m-17-5h3m-5-14h3m-12 19h3m43-22h3m-47 21h3m8 5h3m28-18h3m12-6h3m-89 51h3m0-6h3m12-14h3m23-23h3m41-2h3m-22-18h3m66-4h3m-78 52h3m-30-22h3m81-8h3m-36 15h3m51-73h3m-112 80h3m22-34h3m57-13h3m-64 36h3m81-49h3m-91 38h3m4 2h3m-15-1h3m111-58h3m-80 57h3m17-16h3m-16-1h3m-2 8h3m8 3h3m11 5h3m51-43h3m-125 61h3m-25 1h3m-26 3h3m0 9h3m49-27h3m101-41h3m-118 43h3m-11 18h3m105-50h3m-114 43h3m85-41h3m-60 44h3m-29-4h3m75-30h3m-74 34h3m73-56h3m-67 32h3m17-14h3m-30 45h3m9-30h3m5-5h3m-21 0h3m85 5h3m-88 6h3m47 13h3m49-49h3m-89 15h3m10 21h3m-14 3h3m-36-6h3m26-3h3m-52 30h3m32-11h3m10-3h3m-57 12h3m16-9h3m81-20h3m-70 10h3m58-11h3m-9 19h3m44-70h3m-163 84h3m62-20h3m45-14h3m-19 12h3m-1-22h3m-39 17h3m-55 38h3m29-14h3m-39 5h3m85-27h3m85-21h3m-149 17h3m-28 23h3m60-28h3m-76 47h3m43-34h3m96-48h3m-79 48h3m33-7h3m-66 8h3m34 11h3m-12-6h3m0-17h3m14-22h3m-30 32h3m-2-10h3m94-19h3m-61-15h3m-74 57h3m42-17h3m38-35h3m-109 76h3m34-27h3m-55 6h3m59-11h3m-37 18h3m52-30h3m-12 26h3m0-40h3m27 5h3m-86 30h3m44-19h3m95-31h3m-47 19h3m-96 36h3m58-37h3m-62 25h3m0-1h3m39-16h3m64-39h3m-103 62h3m-11-3h3m106-32h3m-120 29h3m72-24h3m-88 34h3m56-17h3m40-17h3m-83 30h3m69-26h3m-69 8h3m29-5h3m-35 5h3m44-16h3m-25 23h3m-41-1h3m40 9h3m-31-14h3m-9 12h3m-28-1h3m79-13h3m-83 32h3m87-45h3m-112 47h3m27-10h3m33-9h3m-51-8h3m7 12h3m29-17h3m87-28h3m-97 31h3m-64 25h3m130-50h3m-22 15h3m6-8h3m-63 3h3m58-17h3m-105 75h3m42-49h3m-5-11h3m68 26h3m-21 1h3m-112-8h3m14 12h3m163-55h3m-160 38h3m46 7h3m7 7h3m70-39h3m-151 22h3m-3 45h3m-4-22h3m-4 20h3m18-23h3m3-19h3m-26 1h3m22 29h3m8 31h3m-7-44h3m13-17h3m-37 18h3m35-6h3m7-18h3m17 14h3m33-6h3m-72-7h3m14 7h3m-18-3h3m30-43h3m-79 51h3m10 29h3m-11-11h3m-30-8h3m36 14h3m106-110h3m-110 97h3m58-12h3m-121-12h3m15 35h3m28-18h3m-14 36h3m-12-34h3m46-53h3m-40 51h3m37 18h3m-55-12h3m84-23h3m-78 8h3m-9 19h3m67-15h3m23-24h3m-89 64h3m-5-27h3m49-12h3m-8-12h3m-10 25h3m-9-47h3m-6 33h3m-53 31h3m71-56h3m37 23h3m-113 47h3m25-35h3m13-17h3m-42 20h3m52-11h3m-54 28h3m45-48h3m21 8h3m22-41h3m53 24h3m-136 41h3m34-28h3m7 3h3m-33 10h3m47-6h3m7-26h3m-38 33h3m-38 14h3m-33 7h3m92-48h3m-14 33h3m73-70h3m-62 54h3m-113-8h3m105 19h3m52 1h3m-84 22h3m-63 9h3m-19-36h3m23 26h3m30-3h3m-11-32h3m123-47h3m-133 75h3m-34 2h3m35-22h3m6-14h3m-72 37h3m40-33h3m-14-14h3m68 57h3m-32-29h3m-49-14h3m1-24h3m27-16h3m-16 49h3m2-17h3m6 36h3m-33 3h3m132-74h3m-158 46h3m-9 18h3m23 8h3m-15 7h3m-35 5h3m73-16h3m-16 23h3m-43-64h3m97 9h3m-38 38h3m-15 3h3m-63 8h3m50-44h3m-72 57h3m23-2h3m-38-48h3m127-26h3m-91 78h3m32-36h3m-37 13h3m103-55h3m12-14h3m-111 34h3m15-6h3m-46 87h3m97-62h3m-94-21h3m15 0h3m-2 42h3m77-35h3m-83 29h3m-24-10h3m29-25h3m15 24h3m-7-24h3m-83 6h3m78 6h3m-79 16h3m-6 7h3m104-39h3m-86 17h3m-15 23h3m-4-5h3m65-15h3m-46 56h3m64-58h3m35-31h3m-67 59h3m-44 20h3m-23-19h3m156-59h3m-143 87h3m20-45h3m-28 16h3m69-26h3m-11-16h3m44 5h3m-11-39h3m-57 49h3m36-45h3m-81 52h3m-7 9h3m71-17h3m-71 18h3m-40 29h3m80-68h3m35-18h3m-125 64h3m-8-22h3m88-7h3m-28 40h3m-20-33h3m-4 53h3m-34-22h3m52-48h3m17 41h3m-16-15h3m-56 25h3m-30-17h3m-10-3h3m58-36h3m115-38h3m-146 66h3m27-32h3m48-38h3m-44 44h3m14-17h3m-78-23h3m10-6h3m55 0h3m27 85h3m-9-88h3m-7 45h3m-108 18h3m6-45h3m19 35h3m55-22h3m-75-13h3m126-10h3m1 7h3m-91 62h3m-30 15h3m126-90h3m-110 8h3m56 29h3m-33-5h3m-3 2h3m-55 6h3m-36-20h3m144-7h3m-32-11h3m-110 23h3m68 56h3m-118 186h3m-1 0h3m35 0h3m-28 0h3m-23 0h3m10 0h3m-15 0h3m21 0h3m-31 0h3m35 0h3m0 0h3m-10 0h3m-25 0h3m35 0h3m-24 0h3m-10 0h3m20 0h3m-25 0h3m-27 0h3m43 0h3m-25 0h3m2 0h3m21 0h3m-12 0h3m-23 0h3m-4 0h3m-6 0h3m-3 0h3m-16 0h3m-4 0h3"/><path d="M262 1408h3m16 27h3m0 12h3m-25-72h3m24 33h3m-15 8h3m35 19h3m-36-42h3m22 8h3m-33 4h3m-11 37h3m7-23h3m-23-16h3m9 2h3m17-7h3m-11 30h3m-2-25h3m-8 10h3m13 26h3m-1-17h3m-2 13h3m-36-8h3m11-17h3m-24 37h3m9-54h3m-1 59h3m-6 1h3m-5-47h3m14 38h3m-16-23h3m22-27h3m-42 41h3m17-9h3m-15 12h3m10-26h3m-13 24h3m6 41h3m11-58h3m-17 13h3m-21-34h3m31 22h3m-25-34h3m20 50h3m-32 11h3m27-7h3m-27-33h3m-24-12h3m7 49h3m30 28h3m-15-34h3m-29-19h3m44-14h3m-37-4h3m-26 20h3m27 19h3m10 14h3m-1-4h3m-19-44h3m7 16h3m-16 13h3m-8-46h3m25 35h3m-29 15h3m6-6h3m6-6h3m-5-25h3m-12 14h3m-18-13h3m9 10h3m0 24h3m-11-20h3m-3-35h3m16 94h3m8-36h3m-6 0h3m-13-8h3m-5-6h3m7-17h3m1 35h3m-21 8h3m4-37h3m13 12h3m-27-3h3m-16-22h3m18 33h3m-16-27h3m-15 14h3m8-4h3m17 5h3m-18-3h3m-23-12h3m9 9h3m-12-13h3m16-4h3m3 36h3m-29-28h3m7-2h3m21 44h3m-14-54h3m-24 5h3m-6 13h3m16-11h3m8 31h3m6-23h3m1 46h3m-47-51h3m35 3h3m-22 13h3m-6-15h3m8 16h3m-4 61h3m0-60h3m-11 15h3m-19-41h3m-9 12h3m9-3h3m19 34h3m-4-33h3m-13 2h3m-5-1h3m-4 19h3m16 14h3m-6 24h3m-40-48h3m14 24h3m12-34h3m-32 23h3m11 27h3m15-28h3m-17 9h3m-6 29h3m-7-18h3m17-28h3m-21 5h3m-1-14h3m-16 1h3m-5-29h3m16 41h3m-32-18h3m55 11h3m-22 21h3m-19-34h3m12-12h3m-44 23h3m38 17h3m-2-9h3m-13-48h3m-1 51h3m17 14h3m-12-15h3m-5-1h3m-2-23h3m14 25h3m-12 3h3m-36-36h3m10 17h3m-8 21h3m14-18h3m-9 7h3m1-7h3m-22 16h3m9 18h3m-9-27h3m-5 18h3m2-16h3m-17-37h3m15 49h3m-21 3h3m0-26h3m18 20h3m-16-12h3m3 9h3m1 10h3m-14-25h3m10 17h3m-13-4h3m15 7h3m-23-20h3m28-10h3m-46 11h3m10 14h3m-13 0h3m14-29h3m-2 8h3m3 45h3m-13-24h3m-18-25h3m16 36h3m-21-30h3m23 23h3m-8 0h3m-9 20h3m-1-23h3m1 5h3m14 19h3m-15-18h3m4-24h3m-4 6h3m-19-28h3m-8-14h3m1 43h3m-17 1h3m24 30h3m-41-45h3m24 45h3m-36-4h3m53-19h3m-18 28h3m-28-55h3m-3 2h3m23 28h3m-8 29h3m-29-37h3m20 11h3m-18-21h3m-8-13h3m24 45h3m-51 0h3m18-37h3m5 31h3m10-28h3m-9 23h3m-23 4h3m29-4h3m-4 6h3m-26 3h3m1-22h3m4-5h3m12 18h3m0 16h3m-22-22h3m-9-1h3m-6 32h3m6-25h3m-12-16h3m20 12h3m-38 3h3m38 38h3m-26-40h3m18 24h3m-16-45h3m-3 6h3m-12 22h3m-17-38h3m-14-11h3m37 25h3m-20 10h3m12 14h3m-7-26h3m13 32h3m-10-19h3m-21-39h3m-18 55h3m31-11h3m-3-23h3m-33 38h3m13-52h3m-3 31h3m-6-10h3m-22 12h3m20 9h3m27-12h3m-14-14h3m-26 17h3m15 12h3m-22-7h3m-2-7h3m14 34h3m-12-16h3m-2 4h3m-11-75h3m-26 16h3m26 42h3m-7-14h3m-8 30h3m17 7h3m-16-44h3m3 4h3m-33 23h3m10 3h3m13 30h3m-3-28h3m-24-20h3m22 15h3m11 2h3m-15-4h3m-2-20h3m14 26h3m-30-15h3m-13-15h3m-13 36h3m-21 3h3m34-26h3m-22-35h3m25 25h3m-3 38h3m-27-64h3m3 59h3m34-30h3m-37 4h3m25 27h3m-8 0h3m-20 2h3m-16-54h3m22 3h3m-24-1h3m22 48h3m-5-5h3m-7-14h3m14 10h3m-18 21h3m-11-30h3m7-19h3m-23 27h3m4-6h3m-7 9h3m-19-21h3m13-21h3m-14 35h3m-9-2h3m8 14h3m8-17h3m-9 14h3m-26-38h3m17 35h3m13-5h3m0-6h3m-24-19h3m0 5h3m0 39h3m8-41h3m-2 30h3m-15-38h3m13 4h3m-5 24h3m-27-28h3m13 28h3m0-13h3m18 5h3m-44 23h3m6-28h3m-4 1h3m-25 1h3m18-27h3m6 34h3m1-3h3m-4 32h3m17-36h3m-36 11h3m5 0h3m3 31h3m-4-23h3m6 27h3m-14-32h3m-18 10h3m23-2h3m-37-28h3m3 13h3m13-10h3m7 21h3m-32-11h3m35 12h3m-4 6h3m-42-7h3m-14-48h3m20 65h3m-31-65h3m43 19h3m-12 43h3m-8-5h3m-4-6h3m-15-19h3m28 16h3m-18-20h3m-1-28h3m17-21h3m-31 72h3m-15-27h3m11 29h3m8 23h3m-4-19h3m3 13h3m-12-49h3m-29-25h3m2 46h3m-1 13h3m12-17h3m11 25h3m-11-1h3m-27-20h3m33 21h3m-13-50h3m-19 33h3m-24-30h3m40 14h3m-2-14h3m-31 53h3m-6-30h3m-5-8h3m8 5h3m1 10h3m-17-5h3m29-24h3m-29-2h3m8 27h3m-7-6h3m14-32h3m5 45h3m-35-2h3m9 16h3m-27-32h3m29 3h3m-39 2h3m8-21h3m19 16h3m-32-12h3m33 44h3m-23-45h3m-3-4h3m-16-8h3m-2 42h3m43-2h3m-37 20h3m17-32h3m8 15h3m-29-9h3m-14-31h3m11 35h3m-3-40h3m7 41h3m-29-14h3m-1 18h3m-12 9h3m27-39h3m-13 27h3m3 1h3m-7-13h3m4 10h3m-7 0h3m-14 19h3m28-29h3m-34 32h3m-14-38h3m38 44h3m-10-59h3m-22 48h3m10-27h3m23 10h3m-15 2h3m-26-21h3m-1 17h3m-18 0h3m27 37h3m-24-52h3m10 43h3m-2-14h3m-31-37h3m-5 36h3m14-26h3m-12 26h3m15-26h3m-26 31h3m13-12h3m-11-32h3m-13 24h3m20-19h3m-12 5h3m12 18h3m-3-9h3m-26-24h3m18 22h3m-16-6h3m-11 15h3m10-12h3m-44-13h3m31 12h3m13 12h3m-15-33h3m-22-5h3m8 15h3m28-5h3m-15 28h3m-2-4h3m-4-26h3m-26-10h3m-2 28h3m20-12h3m7 30h3m-23-24h3m-19 25h3m-16-49h3m34 36h3m-12 17h3m6-16h3m-17-19h3m22 22h3m-17 6h3m-10 0h3m5-17h3m-10 15h3m-18-2h3m16-28h3m-1 49h3m-3-18h3m-12 1h3m2-9h3m11 32h3m-31-33h3m26-15h3m-21 41h3m10-11h3m-24-27h3m-2-30h3m-14 34h3m30-7h3m-30 17h3m-16-2h3m41 10h3m-14-21h3m-15 6h3m20 6h3m-8 4h3m-24 26h3m22-18h3m-22 6h3m-15-28h3m-8-16h3m16 45h3m16 16h3m-32-45h3m22 11h3m-10-15h3m-9 20h3m17-28h3m-24-1h3m0 19h3m-28 24h3m16 0h3m26 12h3m-47-30h3m3-6h3m6 7h3m11-15h3m-18 38h3m13-16h3m-9 3h3m-4-5h3m-8-11h3m-5 32h3m12-31h3m-20 5h3m-5-6h3m16 21h3m-27-45h3m-8 11h3m24 20h3m-11 17h3m2-18h3m-38-5h3m22-14h3m-32-5h3m15 14h3m0-2h3m-18-20h3m19 9h3m10 9h3m-1 8h3m8-19h3m-34 21h3m-2 2h3m-21 2h3m21-49h3m-3 62h3m-19-3h3m7 1h3m32-20h3m-29 20h3m4-11h3m-11-17h3m2 48h3m1-21h3m-16 7h3m1-5h3m-30-14h3m13 7h3m9 2h3m-4 8h3m-14-12h3m9-14h3m-17-10h3m16 32h3m28-10h3m-42-33h3m-23 38h3m20-8h3m-15 23h3m4-42h3m-31 9h3m27-32h3m-12 50h3m20 7h3m18-22h3m-11 39h3m-40-56h3m-14 22h3m21-1h3m-6-7h3m-21 47h3m-4-53h3m14-27h3m23 31h3m6-16h3m-46 20h3m-9 15h3m29-44h3m-8 58h3m-24-36h3m6 51h3m16-53h3m-47-49h3m32 45h3m-29-3h3m25 23h3m-50 14h3m74-53h3m-38 31h3m-17 62h3m22-79h3m-13 22h3m19 30h3m-37-76h3m-2 35h3m-10 5h3m47 42h3m-19-16h3m-23-32h3m-20-7h3m-16 17h3m60-23h3m-29-35h3m11 106h3m16-51h3m-39-17h3m-32 29h3m13 10h3m18-58h3m9 47h3m-21-25h3m-22 44h3m29-2h3m-17-43h3m-20 35h3m-4-51h3m5 70h3m25-53h3m-46 28h3m1-70h3m20 22h3m-2 34h3m-24-22h3m-27-21h3m37-35h3m16 113h3m-3-25h3m-32-47h3m-9 65h3m35 22h3m-65-23h3m27-5h3m-9-15h3m4-22h3m12 24h3m5-33h3m5 26h3m-20 36h3m-2 2h3m-17-26h3m-39-49h3m40 81h3m27-50h3m-43-39h3m-14 67h3m43-31h3m-8 10h3m-22 41h3m-3-23h3m-13-42h3m48 73h3m-68-44h3m-4-12h3m-1 3h3m26-24h3m-17 63h3m-8-40h3m-25 44h3m40-59h3m-5 72h3m-12-66h3m0-26h3m15 24h3m-11 23h3m-3 14h3m16-2h3m-44-4h3m23 3h3m-14-17h3m3 54h3m-5-21h3m-44-7h3m13-20h3m-1 22h3m-26-23h3m39-46h3m-43 11h3m-7 19h3m20 35h3m-36-8h3m57-4h3m-27 14h3m-5-26h3m-24 37h3m26-37h3m4-16h3m-10 59h3m21-59h3m-8-50h3m-32 32h3m62 86h3m-39-67h3m-30 56h3m11-8h3m-14-57h3m41 45h3m-39-9h3m23 65h3m-54-75h3m24-27h3m-43 57h3m25-66h3m-6 23h3m45-8h3m-8 29h3m0 12h3m-17-33h3m-23 76h3m-13-83h3m-5 60h3m20-47h3m0-49h3m-18 75h3m21 5h3m-35-43h3m-17-2h3m42 12h3m16-2h3m-42-15h3m-6-15h3m-12 62h3m-5-24h3m-7-23h3m-2 13h3m38 23h3m-24-22h3m-13-7h3m-12 74h3m40-51h3m-8-12h3m-4 48h3m1-23h3m-15-25h3m-41-55h3m56 77h3m-53-21h3m-18 7h3m34-29h3m8 65h3m-19-26h3m16-9h3m20 55h3m-71-13h3m-4-42h3m-2 37h3m12-28h3m-13-21h3m28 51h3m-23 38h3m33-65h3m-81-15h3m14-20h3m8-31h3m21 83h3m-12-88h3m-5 39h3m27 75h3m-36-44h3m21-40h3m-30 2h3m-18 34h3m38 52h3m-7-30h3m-20-53h3m38 93h3m-10-19h3m4 35h3m-21 5h3m12-36h3m11 16h3m-26 10h3m-32-31h3m77 28h3m-68-72h3m-9 66h3m16-31h3m0 60h3m-14-42h3m-7 12h3m8 41h3m-7-92h3m0 73h3m11-11h3m10 29h3m-25-22h3m-14-5h3m22-39h3m-23 55h3m-12-77h3m19-1h3m-27 84h3m21-90h3m-18 35h3m15 7h3m-25-28h3m12 73h3m-10 17h3m12 11h3m-25-54h3m-27-41h3m76 3h3m-70 61h3m-5-61h3m26 23h3m-1-8h3m-17 18h3m-17 32h3m11-66h3m-2 28h3m22 12h3m-35 16h3m13-25h3m6 34h3m-10-34h3m1 60h3m-2-105h3m-3 96h3m-16-60h3m8 33h3m-38-31h3m-8-20h3m31 3h3m-1 27h3m-26-8h3m22-24h3m-3 40h3m3 52h3m-25-51h3m16-10h3m-9-44h3m6 6h3m-5 32h3m6 30h3m-26-61h3m-28-2h3m56 81h3m-59-100h3m4 24h3m4 55h3m27-2h3m-41 5h3m-4 13h3m1 0h3m49-3h3m-35-55h3m-20 2h3m-14 8h3m7 18h3m19 5h3m-41-44h3m24 5h3m-5 63h3m1-60h3m23 41h3m-20 2h3m-4-36h3m-4 13h3m2 13h3m-4 17h3m-23 8h3m-7-66h3m9 7h3m-18 10h3m28-39h3m-7 102h3m-26-79h3m-3 15h3m14 83h3m-23-96h3m-4-8h3m17 16h3m1 31h3m-7 11h3m-9-29h3m7-49h3m13 73h3m-26-7h3m9-31h3m-2-11h3m-10-26h3m-5 41h3m-3-8h3m-13 15h3m-3 33h3m4 15h3m-19-11h3m30-24h3m-23-19h3m5 88h3m-12-94h3m-16 32h3m39 55h3m-46-112h3m9 89h3m5-39h3m-43 14h3m19-79h3m44 38h3m-52 30h3m40 55h3m-44-76h3m33 18h3m-49-23h3m21 33h3m3-10h3m-12 4h3m8 24h3m-8-84h3m-12-3h3m15 109h3m-34-58h3m-24-8h3m37 52h3m8 23h3m5-35h3m-1-14h3m-6-8h3m-20-25h3m3-26h3m-6 49h3m-35-29h3m20-7h3m-13 33h3m9 75h3m19-84h3m-22-17h3m3 20h3m3 10h3m-29-16h3m17-29h3m17 74h3m-42-14h3m18-35h3m13 43h3m-34-55h3m18-9h3m-6 19h3m3 24h3m8 20h3m-22-34h3m13 26h3m-34 6h3m17 12h3m7-62h3m0 54h3m-38-99h3m5 58h3m-21 19h3m-5 3h3m38 8h3m-37-78h3m42 59h3m7 25h3m-24-27h3m-7 36h3m-14 0h3m-14-55h3m-18-10h3m8 39h3m4-33h3m-13 37h3m-12 67h3m10-30h3m-11-44h3m-5-9h3m31-11h3m-7-12h3m9 30h3m-13 5h3m3-3h3m-23-58h3m18 108h3m-28-76h3m18 62h3m-37-13h3m28-22h3m-29-22h3m15-11h3m-1 33h3m-8-47h3m-11 54h3m6-38h3m-5 20h3m-7-2h3m10 31h3m5-2h3m2 5h3m-18-6h3m-16-22h3m-23 17h3m16 21h3m9-25h3m1 22h3m-12-104h3m-7 62h3m-9 24h3m25 29h3m-13-52h3m-35 1h3m13 26h3m-3 27h3m-2-47h3m-2 3h3m23 6h3m-27-35h3m-41 15h3m34 23h3m-8-18h3m0-57h3m-7 125h3m2-47h3m-18 12h3m28-25h3m-13-6h3m-36-13h3m49-24h3m-36 78h3m-6-32h3m17 21h3m10-40h3m-28 36h3m-6 13h3m23-6h3m-2-6h3m-10-40h3m2 46h3m-45-6h3m48-49h3m-7 34h3m-78-68h3m29 59h3m12-9h3m15-37h3m-11 59h3m12-34h3m-8 5h3m-14-9h3m-22-2h3m28 17h3m-33 33h3m14-37h3m9 3h3m-29-33h3m26 79h3m-11-47h3m-9 12h3m-16-61h3m34 14h3m-34 12h3m27 44h3m-15-24h3m-24-58h3m-2 72h3m-16-7h3m49 25h3m-33-24h3m4 1h3m14 50h3m-45-91h3m21 41h3m-28 14h3m4 67h3m1-88h3m-4-1h3m14 4h3m-31-13h3m15 9h3m-28-8h3m18 92h3m22-89h3m-40 27h3m12-47h3m-7 89h3m-2-39h3m3 4h3m2-33h3m33 49h3m-70-27h3m21-16h3m13 28h3m-7 19h3m-26-41h3m-6 46h3m41-4h3m1-86h3m-49 72h3m-36-31h3m31 48h3m-3-40h3m24-7h3m-19 9h3m-16 12h3m-5 20h3m25-30h3m-7-2h3m10-11h3m-13 27h3m-8-45h3m-47 21h3m44 36h3m-6-31h3m-18 31h3m7-41h3m-13 40h3m38-8h3m-30-17h3m-15 3h3m-11 1h3m3 1h3m32 1h3m-8 44h3m-11-52h3m5 51h3m-7-64h3m-8 45h3m1-58h3m-4 13h3m-17 7h3m-5-26h3m-15 68h3m27 8h3m-24-1h3m2-88h3m15 52h3m-6 8h3m-54-65h3m14 102h3m26 3h3m-10 11h3m7-69h3m43 15h3m-50-13h3m-24-31h3m9 32h3m-16-12h3m6-12h3m5 43h3m-14-21h3m0 16h3m31 4h3m-57-3h3m38 21h3m-22-6h3m-10-20h3m38-8h3m-17 7h3m-10 20h3m-3-34h3m-11 11h3m-17-11h3m11 10h3m-2-31h3m-27-18h3m-4-15h3m4 68h3m15 4h3m-24-14h3m40 43h3m-33-50h3m-18 7h3m18 77h3m-7-57h3m2 3h3m-6 2h3m8-40h3m-43 21h3m13 30h3m-6 3h3m26-28h3m-31-36h3m-12 19h3m46 31h3m-18-2h3m-36-65h3m14 35h3m17 11h3m-62-40h3m54 89h3m-49-48h3m64-3h3m-63-118h3m30 143h3m-31 28h3m40-3h3m-24-64h3m-6 22h3m-46-49h3m29 76h3m8-63h3m-8-36h3m-10 49h3m49 67h3m-43-45h3m41 49h3m-61-78h3m21-10h3m-44-56h3m18 36h3m-25 42h3m-11 49h3m83-56h3m-43-37h3m17 80h3m-35-34h3m64 58h3m-9 16h3m-100-91h3m58-22h3m-4 10h3m3 69h3m-48-64h3m24 68h3m19 24h3m-53-83h3m0 40h3m1 32h3m69-57h3m-57 10h3m-17-18h3m23-1h3m-29-55h3m-4 66h3m23-15h3m-23 66h3m45-34h3m-7 4h3m-53 53h3m18-75h3m4 16h3m53-7h3m-88 14h3m23 43h3m1-19h3m-14 13h3m-9-13h3m-21-80h3m0 7h3m-25 30h3m53-28h3m-12-33h3m-12 118h3m1-83h3m-19-47h3m23 100h3m-41-18h3m66 64h3m-70-65h3m-9-28h3m5 46h3m11 36h3m-5-44h3m18 4h3m-25-23h3m-5 70h3m3-53h3m-25 4h3m20-7h3m2 38h3m-3-14h3m-7-2h3m-15 2h3m36-23h3m-35-58h3m35 23h3m-45 19h3m54-22h3m-39 43h3m10 0h3m16 5h3m-28-27h3m-7 0h3m-37-113h3m25 78h3m-48-14h3m23 14h3m39 98h3m-72-125h3m65 117h3m-48-17h3m17-12h3m1-32h3m33 66h3m-38-55h3m-14-41h3m3-55h3m-62 84h3m66 55h3m26-60h3m-66-53h3m6 47h3m-4 23h3m39-20h3m-42-37h3m34 76h3m20 21h3m-73-120h3m5-8h3m41 156h3m-22-138h3m-16 71h3m-10-101h3m-1 23h3m-40-61h3m20 114h3m4 82h3m22-49h3m-36-50h3m107-54h3m-7-29h3m-55 43h3m-21-20h3m126-33h3m-117 33h3m65-47h3m37-10h3m-48 47h3m-14-11h3m44-17h3m-94 49h3m-4 6h3m3-18h3m0-2h3m19-8h3m56-36h3m-13 35h3m-78 12h3m44-24h3m10-13h3m56-33h3m-126 92h3m91-91h3m-98 56h3m78-29h3m-57 15h3m-24 32h3m62-33h3m-66 31h3m40-26h3m-55 37h3m-8-28h3m18 17h3m2-6h3m-35 3h3m20 2h3m7 1h3m86-39h3m-47-12h3m32 16h3m24-18h3m-116 40h3m-12-1h3m72-16h3m-34 18h3m-7-33h3m-33 25h3m43-36h3m-40 55h3m38-31h3m-73 35h3m44 0h3m33-33h3m-32-7h3m-41 29h3m-12-16h3m87-39h3m-49 43h3m-46 8h3m32-2h3m-41 6h3m-4-6h3m-12 28h3m69-65h3m-37 22h3m4 9h3m33-18h3m-59 23h3m13-24h3m-4 17h3m45-15h3m-47 42h3m-8-45h3m-44 58h3m89-79h3m-88 66h3m64-34h3m-35 15h3m-31 2h3m36-8h3m-30 25h3m53-10h3m-17-25h3m-25-10h3m13 25h3m27-36h3m-78 44h3m98-16h3m-30-22h3m-70 47h3m67-39h3m-80 25h3m66-31h3m-25 8h3m-61 42h3m0-30h3m21 16h3m4 14h3m55-42h3m-37 7h3m-81 13h3m53-6h3m-9 30h3m15-48h3m-23 46h3m3-20h3m-39 24h3m60-13h3m-64 25h3m12-36h3m-4-6h3m76-7h3m-96 30h3m96-62h3m-20 34h3m-94 30h3m75-38h3m-56 18h3m0 20h3m-17 0h3m-17-7h3m-2 7h3m85-33h3m20-6h3m-38-4h3m-49 19h3m15 1h3m-28-5h3m0 14h3m4 3h3m55-33h3m-16 15h3m11-20h3m-46 33h3m-4 7h3m17-38h3m-12 19h3m76-54h3m-48 60h3m-47 17h3m38-37h3m34-28h3m11-4h3m-44 7h3m-20 27h3m-33 26h3m-7-7h3m-29 17h3m107-71h3m-49 19h3m-48 31h3m-19-1h3m37 15h3m-34-8h3m33-6h3m-7-2h3m12 13h3m-52-19h3m37 4h3m-20 11h3m63-56h3m-54 52h3m12-22h3m-75 46h3m76-56h3m-54 40h3m35-10h3m13-23h3m-19-12h3m-29 41h3m36-46h3m15-5h3m-79 52h3m61-31h3m12-13h3m-42 7h3m-19 9h3m-20 19h3m-27 17h3m74-31h3m-5-5h3m-55 22h3m-1 26h3m28-36h3m-68 42h3m27-25h3m56-42h3m-80 55h3m89-50h3m-66 38h3m-16 3h3m38-29h3m-51 42h3m21-18h3m-46-5h3m39 18h3m26-37h3m43-34h3m-25 10h3m-85 59h3m83-43h3m-80 24h3m59-19h3m-6-7h3m-61 38h3m48-53h3m39 23h3m-61 24h3m17-5h3m-72-17h3m48 22h3m-62 18h3m25-24h3m-12 8h3m-24 7h3m36 6h3m6-8h3m-38 1h3m79-53h3m4-27h3m-79 60h3m24 19h3m29-45h3m-4 6h3m-19 43h3m-77 16h3m28-41h3m-18 21h3m58-23h3m-30-15h3m2 39h3m22-26h3m-89 37h3m5-1h3m31-6h3m41-57h3m-59 41h3m-12 32h3m42-38h3m25-16h3m-19 13h3m-39 19h3m31-31h3m-62 66h3m51-51h3m-40 3h3m7 11h3m78-17h3m-116 41h3m-6 3h3m43-54h3m28-5h3m7 6h3m-11-4h3m-10 4h3m-26 5h3m-42 14h3m53 5h3m-30 6h3m-48 5h3m126-71h3m-47 22h3m14-5h3m-69 24h3m93-11h3m-70 33h3m-7-29h3m-66 43h3m93-35h3m-76 31h3m17-16h3m-16 8h3m46-36h3m4 3h3m-37 19h3m6-7h3m-20 18h3m13-27h3m58-14h3m-104 49h3m135-54h3m-148 42h3m84-13h3m-23-11h3m-75 25h3m95-39h3m-109 60h3m59 1h3m-47-24h3m26-13h3m-6 34h3m26-48h3m19-9h3m-85 38h3m57 0h3m-10-39h3m-2 14h3m-31 3h3m101-24h3m-71 33h3m-60 18h3m123-32h3m-140 47h3m126-75h3m-25 10h3m11-9h3m-81 56h3m5-10h3m-50 7h3m73-22h3m-26 0h3m-50 16h3m12 11h3m-3 8h3m62-52h3m-43 35h3m34 5h3m19-30h3m-59 39h3m-68 5h3m57-24h3m28-2h3m53-34h3m-57 41h3m18-24h3m-84 29h3m-7 22h3m79-51h3m-71 50h3m-42-21h3m41 14h3m3-31h3m11-6h3m-62 42h3m49-17h3m-48 22h3m-12-2h3m31-8h3m20-17h3m-41 16h3m-16 7h3m26 1h3m24-31h3m-43 12h3m23-5h3m-5 3h3m-30-13h3m9 12h3m-24 22h3m23-17h3m100-62h3m-31 53h3m-74 6h3m90-45h3m-64 19h3m-27 17h3m-12 13h3m-1-1h3m-42 4h3m52-16h3m19-3h3m15-9h3m-66 10h3m3 32h3m35-40h3m-20-1h3m-18 31h3m32-22h3m-37 8h3m22-14h3m1-12h3m-5-1h3m48-49h3m2 37h3m-101 48h3m26-15h3m-27-12h3m86-40h3m-75 61h3m34-22h3m-50 3h3m13 13h3m49-21h3m-19-10h3m-81 48h3m16-13h3m-2-2h3m-11-9h3m-18 41h3m-3-4h3m37-52h3m40 6h3m-65 15h3m99-43h3m-108 41h3m84-57h3m-107 74h3m7 3h3m27-25h3m-4 22h3m-19 1h3m33-35h3m8-6h3m-42 52h3m23-40h3m16-19h3m-33 45h3m79-76h3m-80 43h3m52 3h3m-85 34h3m-32-5h3m24-11h3m56-20h3m-79 39h3m72-39h3m-95 43h3m78-34h3m-67 7h3m118-49h3m-89 51h3m-11 4h3m-19 19h3m39-48h3m-27 36h3m81-38h3m-108 20h3m48-8h3m36-16h3m-56 41h3m-47 16h3m43-36h3m-37 46h3m3-37h3m-6 0h3m31-25h3m-13 32h3m-65 21h3m25 2h3m-20-8h3m11-10h3m59-23h3m-9-14h3m-8 23h3m14-30h3m-47 42h3m-19-7h3m23-25h3m14-13h3m-33 10h3m14 39h3m-3-25h3m21 0h3m10 5h3m5-19h3m-45 31h3m53-23h3m-35-8h3m32-50h3m-117 106h3m50-36h3m2 1h3m-55 33h3m-19-3h3m81-30h3m-35 17h3m6-11h3m-7-1h3m37-27h3m-66 31h3m-14 7h3m70-49h3m-94 63h3m19-18h3m15-21h3m26-13h3m11-15h3m-66 34h3m40-7h3m-77 21h3m6 11h3m32-31h3m-33 25h3m69-26h3m-1-8h3m-44 25h3m1-34h3m16 26h3m7 14h3m32-43h3m-93 35h3m87-34h3m-36 14h3m17-27h3m-91 43h3m2 30h3m31-13h3m30-32h3m-46 8h3m-21 12h3m9 22h3m-12-11h3m7-10h3m16 24h3m11-34h3m-40 36h3m11-17h3m5 4h3m27-16h3m-6-21h3m41 2h3m-36 4h3m-69 24h3m-27 22h3m13-2h3m27-15h3m25-44h3m93-7h3m-125 29h3m-26 35h3m126-78h3m-136 74h3m50-39h3m-18 0h3m-19 33h3m28-29h3m16 1h3m-83 18h3m63-37h3m-46 54h3m-28 5h3m12-9h3m70-34h3m-1 11h3m-81 28h3m42-59h3m-5 39h3m-16-16h3m-26 10h3m28 8h3m30-20h3m-56 10h3m21 11h3m42-12h3m-61 2h3m3-2h3m50-22h3m-21 9h3m-22 3h3m-67 50h3m20-2h3m12-24h3m29-39h3m-21 37h3m-39-27h3m9 31h3m-38-5h3m31-24h3m73-50h3m-17 77h3m-58-17h3m50-18h3m-70 47h3m28 4h3m9-24h3m-44 4h3m45 11h3m-33-39h3m-27 30h3m-1-21h3m13 29h3m49-25h3m-98 17h3m98-65h3m-73 88h3m36-35h3m-27-4h3m37-40h3m7 27h3m31-15h3m-87 42h3m-37-9h3m61 40h3m27-80h3m-80 33h3m22-13h3m-57 46h3m47-14h3m46-27h3m-31-2h3m-6 38h3m-5 8h3m-21-46h3m84 27h3m-36-81h3m-34 82h3m40-26h3m-98 20h3m29-11h3m-18 44h3m45-50h3m-35 13h3m19-43h3m76 25h3m-142 48h3m47-33h3m8-1h3m-6 7h3m-83 0h3m73-13h3m-13 59h3m-5-63h3m-46 26h3m24 30h3m-21-20h3m11-13h3m-40-8h3m82 6h3m12-42h3m-59 67h3m36-67h3m-14 22h3m-62 47h3m81-101h3m-31 19h3m-4 19h3m-6-16h3m-68 79h3m10 16h3m68-56h3m26 2h3m0-15h3m-89 2h3m-6 41h3m0-1h3m17-31h3m-33 28h3m63-23h3m-49 34h3m8-3h3m3 13h3m-65-51h3m48 26h3m9 30h3m-7-47h3m-16-2h3m-31 44h3m-1-43h3m117-31h3m-44 24h3m-81 26h3m49-34h3m4 9h3m1 40h3m-60-1h3m53-33h3m34-18h3m-87 87h3m56-69h3m-94 13h3m48-8h3m18-54h3m-11 29h3m-40 23h3m35 32h3m-10-34h3m-32 35h3m5-21h3m-47-7h3m29 39h3m26-54h3m-7 11h3m-56-10h3m68 20h3m-5-22h3m6-10h3m-55 27h3m21 36h3m53-65h3m-64-48h3m40 60h3m-68 5h3m72-42h3m-81 27h3m59-10h3m-87 45h3m72-52h3m-6 23h3m48-31h3m-79 37h3m12 2h3m33-27h3m13 30h3m-46-15h3m-59 45h3m5-14h3m65-31h3m-63 68h3m37-31h3m53-29h3m-57-7h3m68 20h3m-111 1h3m12-41h3m74-8h3m-85 67h3m64-23h3m-84-28h3m-11 60h3m2-37h3m23-4h3m-26 24h3m46-44h3m-20 54h3m-43-34h3m75-13h3m-76 62h3m5-12h3m2-5h3m63-27h3m-95 30h3m104-88h3m-39 50h3m42-12h3m16-6h3m-129 20h3m110-30h3m-79 30h3m-28 16h3m-4-3h3m80 13h3m-28-24h3m-4-22h3m20 8h3m-82-29h3m81 65h3m-49-61h3m77 33h3m-11 11h3m3-57h3m-3 10h3m-39-14h3m12 4h3m-53 44h3m-51 18h3m48 8h3m-84-5h3m43-39h3m41 56h3m62-5h3m-130-11h3m117-65h3m-72 7h3m-35 74h3m-76 178h3m1 0h3m21 0h3m-44 0h3m15 0h3m-13 0h3m23 0h3m-20 0h3m7 0h3m-10 0h3m3 0h3m-9 0h3m-1 0h3m-24 0h3m1 0h3m36 0h3m-22 0h3m-11 0h3m-3 0h3m9 0h3m-16 0h3m-17 0h3m15 0h3m9 0h3m-5 0h3m-26 0h3m25 0h3m-20 0h3m-6 0h3m11 0h3"/><path d="M810 1386h3m-30 6h3m-15 16h3m3-6h3m29 21h3m-11 51h3m32-6h3m-10-51h3m-35-28h3m25 31h3m-39-25h3m-25 64h3m36 33h3m-26-72h3m11-14h3m-26 26h3m17-9h3m7 6h3m-43-36h3m23-4h3m12 29h3m-26-32h3m-12 54h3m29-11h3m10-39h3m-50 34h3m-9-32h3m7 12h3m0-23h3m-2 49h3m7-22h3m6 2h3m-3 12h3m-37 20h3m7 9h3m32-62h3m-23 38h3m-8 15h3m15-44h3m-20 3h3m8 28h3m22 50h3m8-32h3m-82-49h3m40 37h3m-7 35h3m13-38h3m-11-10h3m-1-4h3m-15 9h3m-15-51h3m27 82h3m-19-57h3m26 30h3m-17 32h3m-1-62h3m-21 72h3m-26-56h3m-24-19h3m33 35h3m26-15h3m-27-32h3m-4 1h3m3 38h3m13 68h3m5-64h3m5 52h3m-51-50h3m48 25h3m-34-35h3m-16 19h3m4-44h3m10 42h3m-4 22h3m-9-45h3m-2-6h3m-28 42h3m5-70h3m-5 52h3m-2-44h3m-10 40h3m3 8h3m10-51h3m-1 74h3m-11-57h3m-5-3h3m15 23h3m-9-56h3m-29 23h3m7 38h3m33 47h3m-14-36h3m-19 8h3m-10-19h3m16-32h3m-10 25h3m-7 20h3m13-52h3m-1 47h3m-29-29h3m-1 58h3m9-33h3m-19 8h3m29-65h3m-7 90h3m-21-22h3m-24-14h3m18 13h3m12-27h3m0 38h3m-21-31h3m2-13h3m23 23h3m-9-59h3m-9 41h3m-16 37h3m-7-40h3m9-19h3m18 58h3m-32-50h3m-8 56h3m0-44h3m29-26h3m-53 58h3m22-17h3m-22-20h3m-9 32h3m10-17h3m15 41h3m-35-98h3m52 93h3m-2-50h3m-48-5h3m10 20h3m2-15h3m-36 35h3m49 8h3m-34-26h3m22 18h3m34 2h3m-66-25h3m28 18h3m-26-30h3m-8 25h3m-39-24h3m58-14h3m-35 42h3m8-49h3m-19 19h3m-6 4h3m-37-6h3m49-17h3m13 20h3m-25 48h3m14-8h3m-39-35h3m10 5h3m46 32h3m-60-27h3m16 54h3m-1-33h3m-5-90h3m0 89h3m-45-73h3m46 56h3m-44-36h3m37 25h3m-3 27h3m-33 19h3m21-57h3m-15 13h3m30 20h3m-51-26h3m24 4h3m-27 22h3m3-29h3m-12-6h3m18 32h3m-14 30h3m44-13h3m-34-59h3m-28-54h3m23 82h3m-4-2h3m-20 3h3m11 7h3m15-5h3m6 26h3m-56-51h3m44 32h3m-3-1h3m-14-16h3m-44-21h3m-14 12h3m45 29h3m-13-49h3m-28 40h3m48-37h3m-14 51h3m-26-28h3m43-23h3m-61 52h3m27-34h3m-34 10h3m45-41h3m-19 76h3m-23-26h3m4 15h3m23-41h3m10 56h3m-69-26h3m14-7h3m17 22h3m-6-23h3m13 1h3m-13-9h3m-16-11h3m-22-22h3m35 57h3m-23-10h3m37-5h3m-13 10h3m-40-33h3m37 16h3m-39 36h3m-27-74h3m40 79h3m-26-28h3m38-16h3m-27 25h3m0-26h3m12 23h3m14 14h3m-38-39h3m-10 33h3m0-40h3m11 44h3m-20 5h3m-23-35h3m49-29h3m-48 45h3m21-20h3m-6 36h3m-19-32h3m3 2h3m-19-14h3m3 3h3m19 30h3m-19-36h3m-41-8h3m61-1h3m-8 26h3m-33 24h3m2-28h3m-10-4h3m21 16h3m-4 40h3m-25-45h3m16 10h3m-24-7h3m34 14h3m8-45h3m15 41h3m-51-30h3m-8 6h3m21-26h3m-23 38h3m-23-12h3m22 34h3m-19-18h3m20 5h3m0-2h3m-25-22h3m-3-5h3m24-19h3m-2 26h3m-33 12h3m6-43h3m4 49h3m-4 8h3m-20-11h3m11 24h3m-1-69h3m-5 42h3m36 30h3m-47-60h3m23 31h3m-37-4h3m26 17h3m-1-3h3m-3 8h3m-26 19h3m19-59h3m-25 28h3m32 47h3m-65-49h3m60 38h3m-6-61h3m-26 7h3m-16 1h3m-2-45h3m17 113h3m-21-95h3m1 34h3m3 33h3m-22-12h3m47-12h3m-29-32h3m8 21h3m-31-20h3m20 39h3m22-3h3m-71-40h3m21 43h3m-3-33h3m-9 7h3m4 12h3m-39 12h3m0 3h3m32 15h3m23-67h3m-63-22h3m-6 62h3m47 2h3m9 5h3m-55-7h3m23-19h3m15 23h3m-41-26h3m9 30h3m21 10h3m-19 2h3m3-60h3m2 22h3m-35 3h3m33 8h3m-9 3h3m-6 22h3m-17-50h3m33 31h3m-29 6h3m-7-39h3m7 21h3m-32 5h3m-1-17h3m19 7h3m-14 25h3m-23-1h3m27-15h3m-14 43h3m5-73h3m-13 65h3m28-9h3m-23-25h3m7 53h3m-25-93h3m25 70h3m-18-44h3m-4 1h3m-33-44h3m16 34h3m7 6h3m-13 21h3m-5-27h3m-7-4h3m29-10h3m-28 40h3m9-21h3m-34 3h3m15 18h3m37 52h3m-58-81h3m44-16h3m11 37h3m-63 41h3m20-15h3m-10-7h3m10-12h3m-10-7h3m-5 27h3m52 1h3m-36 14h3m-11-5h3m4 5h3m1 15h3m-12-38h3m-15 25h3m-17-30h3m-1-29h3m10 39h3m-30-42h3m45 38h3m-21 18h3m-2-61h3m-32-13h3m12 74h3m33 6h3m-26-35h3m8 20h3m16 7h3m-4-4h3m-73-16h3m30 13h3m-24-19h3m12-20h3m37 52h3m-46-8h3m13-32h3m-20-15h3m3 34h3m30 16h3m-18-42h3m-6 86h3m14-34h3m-28-43h3m5 15h3m31 9h3m-55-29h3m3 6h3m14 8h3m-53-31h3m53 46h3m-19 22h3m3-48h3m12 28h3m-39-58h3m34 11h3m0 17h3m-19 44h3m-1-27h3m-5 58h3m-12-91h3m-20-1h3m-12 7h3m9 28h3m-29-22h3m41 1h3m13-41h3m-26 76h3m-13-49h3m-7 2h3m15-3h3m2 85h3m-18-106h3m6 68h3m-1-13h3m-9-1h3m-6-24h3m12-2h3m2 74h3m-39-64h3m35 25h3m-15-71h3m-50 60h3m53 38h3m-22-40h3m-22 0h3m10 15h3m-29-19h3m21-19h3m8 32h3m-7-42h3m39 33h3m-14 22h3m-22-56h3m25 42h3m-65-29h3m41 47h3m-19-34h3m12 36h3m-50-61h3m37 26h3m10 40h3m-29-41h3m24-3h3m25 33h3m-70-57h3m8 2h3m-23 40h3m51 50h3m-19-63h3m-1 1h3m-26 11h3m35 32h3m-22-66h3m27 80h3m-60-58h3m22 53h3m-3-106h3m13 79h3m-10-4h3m-11-3h3m2-24h3m-17 25h3m-13-51h3m40 94h3m-55-90h3m11 65h3m30 9h3m-36-26h3m-35 21h3m31-48h3m39 0h3m-37 36h3m-7-52h3m-44-53h3m49 126h3m-16-47h3m21 23h3m-20-11h3m-17-20h3m23 22h3m-30-19h3m-6 38h3m20-15h3m-3-1h3m0 5h3m5 12h3m27-48h3m-10 22h3m-31-13h3m-41-17h3m12 20h3m24 30h3m-2-5h3m-9-22h3m8-6h3m-17 23h3m1-3h3m-20 14h3m-13-23h3m9-35h3m-3 40h3m16-1h3m-22-10h3m-21-61h3m10 39h3m1 19h3m-34 7h3m41 7h3m-29-21h3m11 5h3m-15-40h3m-5 62h3m-19-45h3m21 58h3m5-25h3m-9-63h3m27 60h3m-8 6h3m-26-24h3m-24 16h3m22 38h3m4-30h3m-14-41h3m-21-19h3m-37 19h3m54 22h3m27 1h3m-47 25h3m18-29h3m-26 60h3m-7-75h3m18 29h3m7-1h3m-45-9h3m33 3h3m-9 20h3m5 6h3m6-30h3m-48 7h3m20 3h3m0-8h3m-10 11h3m29-3h3m-22-7h3m11 20h3m-2 0h3m-10-12h3m-32 7h3m26-9h3m-56-8h3m26 33h3m2-23h3m-13 9h3m38-5h3m-32-17h3m42 38h3m-59-5h3m4-49h3m-14-14h3m13 39h3m-26-41h3m56 56h3m-42 1h3m43 3h3m-53-36h3m38-19h3m-7 26h3m-19-8h3m-28-30h3m58 49h3m-52 4h3m-35 11h3m12 26h3m-33-36h3m87 40h3m-20-32h3m-21-1h3m4 5h3m-42 1h3m-24-52h3m57-22h3m-46 11h3m-16-24h3m38 82h3m33-41h3m-64 34h3m12-7h3m25 52h3m-40-44h3m39 17h3m-78-12h3m53-49h3m25 21h3m-22-3h3m41-34h3m-38 57h3m10 64h3m-17-20h3m-44 11h3m-3-105h3m14 16h3m4-36h3m31 43h3m-34 86h3m-41-95h3m7 38h3m58-73h3m-34 19h3m-46 37h3m9 28h3m22-26h3m49-41h3m-70 0h3m42 143h3m-35-89h3m2 63h3m22-48h3m4 42h3m-7-32h3m-57-2h3m59-55h3m-45 28h3m-8 7h3m40 70h3m-31-48h3m-73-52h3m70 63h3m-15-62h3m-36 5h3m14-22h3m-2-18h3m52-13h3m-48 68h3m16-12h3m-37-8h3m-19 4h3m23-12h3m-2 120h3m8-48h3m-71-67h3m48 4h3m82 62h3m-56-34h3m0 36h3m15-31h3m-48-20h3m-19-28h3m-21-26h3m37 107h3m-4 22h3m-6-4h3m-30-82h3m11 22h3m-17 0h3m81 47h3m-60-48h3m25-74h3m-72 131h3m45-38h3m-29-51h3m56 45h3m-38 18h3m11-7h3m-27 13h3m5-46h3m3 19h3m-40 33h3m69-79h3m-85 24h3m46-14h3m7 90h3m-11-71h3m-38-65h3m28 93h3m45-11h3m-31 35h3m-47-72h3m-22 45h3m18 44h3m58-31h3m-84 3h3m29-46h3m-21-2h3m45 35h3m-5 20h3m-37-47h3m16-12h3m-31 33h3m-42-79h3m72 90h3m-32-5h3m-29-85h3m10 77h3m16-29h3m6 81h3m-44-100h3m57 3h3m-18 97h3m31-9h3m-26-86h3m5 13h3m-7-29h3m-19 52h3m9-53h3m-52 5h3m49 7h3m-45 42h3m17 13h3m18-14h3m-54 64h3m35-35h3m-9 2h3m16-34h3m-10 83h3m-8-98h3m-17 57h3m38 3h3m5-43h3m-101 15h3m49 16h3m-22-2h3m10-32h3m-22 37h3m19-92h3m-53 1h3m56 76h3m-26-11h3m63-27h3m-79 65h3m39-26h3m-9 36h3m13 39h3m-51-24h3m42-40h3m17 50h3m-81-108h3m45 35h3m32 1h3m-32 13h3m-32-87h3m80 103h3m-53 1h3m1-25h3m-35-35h3m68-1h3m-105 45h3m54-8h3m45-6h3m-15 55h3m-71-57h3m-14-14h3m36 35h3m-11 1h3m-40-40h3m47 16h3m-22 19h3m18-44h3m-53 51h3m38-41h3m17 24h3m2 27h3m-13 6h3m-24-91h3m19 99h3m-42-139h3m-10 87h3m53-28h3m-40 71h3m9 1h3m10 60h3m-8-45h3m-33-45h3m13 74h3m31-7h3m-22 6h3m8 0h3m-23-8h3m1 10h3m18 23h3m-25-22h3m25-7h3m-30-3h3m18-7h3m-21 31h3m22-23h3m-16-19h3m-40 19h3m4-29h3m19-11h3m41 70h3m-61-112h3m-10 26h3m3-54h3m16 51h3m-31 10h3m28 6h3m-37 6h3m34 51h3m-6 34h3m-6-40h3m-12-32h3m13 52h3m-6-57h3m-6-11h3m-21-42h3m-5 70h3m17-3h3m-1-44h3m-2 41h3m-8-22h3m19 19h3m-50-36h3m13 72h3m14 9h3m-16-84h3m2 46h3m-14-47h3m5 17h3m-16 0h3m3 51h3m13-37h3m3 24h3m-12-21h3m-4 34h3m-20-34h3m-26-24h3m42 78h3m-24-18h3m-3-13h3m-11 18h3m6-11h3m7-19h3m-22 21h3m2-87h3m13 31h3m-8 53h3m-24 24h3m28-37h3m9-1h3m-30-30h3m-4-9h3m13 77h3m-3-49h3m-11 58h3m-16-29h3m4 6h3m7-52h3m11-7h3m-23 61h3m1-22h3m12-21h3m-14 26h3m-20-55h3m-20 39h3m44 45h3m-16 14h3m16-36h3m-11-1h3m-3 20h3m-18-35h3m-2 18h3m-11-26h3m19 16h3m-18-50h3m-42-10h3m39 16h3m6 80h3m7-37h3m-25-34h3m9 57h3m-21 8h3m-8-22h3m13-22h3m-19-27h3m-5 61h3m15-29h3m-2-12h3m8 67h3m-33-138h3m8 48h3m-11 100h3m-18-95h3m20-12h3m7 64h3m-11-50h3m1 75h3m-6-20h3m-31-64h3m7 24h3m32-25h3m-27 73h3m0-47h3m-24 18h3m15-10h3m-10-15h3m9 25h3m-13 8h3m-2-64h3m48 30h3m-40-61h3m-3 84h3m18-32h3m-28 27h3m-3 26h3m-11-45h3m-16 24h3m-15-30h3m10 50h3m29-23h3m-15 8h3m-13-65h3m-3 30h3m26 10h3m-4 3h3m10-2h3m-33 45h3m17-33h3m-18-27h3m-12 25h3m-27 22h3m38-30h3m-29 13h3m18 65h3m6-59h3m-21-41h3m-17 61h3m29-15h3m-29 25h3m11-25h3m-27 1h3m46 21h3m-41-25h3m16 20h3m-7-40h3m4 27h3m-44-28h3m10 38h3m27-17h3m-33-11h3m16 9h3m-8-38h3m-26 29h3m29 59h3m-27-107h3m5-6h3m-14 20h3m10 54h3m-8-68h3m11 57h3m-2 29h3m-8-104h3m-5 96h3m-3-34h3m-26-45h3m-9 45h3m14 32h3m26-35h3m-40-7h3m-10-75h3m12 89h3m21-12h3m-6 38h3m-19-5h3m4-55h3m-8 62h3m-16-60h3m12 13h3m22 22h3m-1 37h3m-33-26h3m-6 35h3m12 6h3m-22-38h3m8-43h3m0 55h3m-17-98h3m-6 71h3m11-6h3m2-44h3m-1 61h3m-13 45h3m-31-83h3m41 41h3m-20 8h3m-2-48h3m10 20h3m-15 15h3m25-57h3m10 33h3m-64 15h3m13 50h3m-7-81h3m1 47h3m14 55h3m-23-35h3m-3-12h3m17-39h3m-16 2h3m-40-25h3m22 26h3m5 67h3m2-85h3m7-36h3m-5 109h3m7-27h3m-14-2h3m-10-6h3m30-19h3m-32 28h3m5 4h3m-19-34h3m7 13h3m-7-14h3m11-14h3m-26 7h3m29 58h3m-44-53h3m2-35h3m-23 44h3m47 7h3m-18-39h3m9 86h3m-33-74h3m10 27h3m-30 13h3m41-39h3m-40 36h3m43-20h3m-36 24h3m-23 12h3m11-34h3m23-76h3m-4 60h3m-28 42h3m24-18h3m20 11h3m-3-16h3m-36 12h3m1-57h3m-6 28h3m-6 22h3m-15-38h3m0-17h3m-5 106h3m38-35h3m-53-99h3m10 104h3m-1-50h3m-3 71h3m4-67h3m-2-18h3m-9 89h3m-3-52h3m-15-27h3m10 5h3m-8 0h3m22 99h3m8-64h3m-47-32h3m-4 28h3m4 34h3m17-41h3m-1-27h3m-64-36h3m49 46h3m-14 49h3m13-1h3m-45-64h3m10 43h3m-2-43h3m37 52h3m-16-37h3m-25 41h3m-5-22h3m-14-5h3m43 25h3m-45-1h3m13-70h3m-10-23h3m-7 134h3m24-86h3m-22 24h3m-2-5h3m-1 6h3m7-12h3m-10 5h3m8 32h3m16-3h3m-24-29h3m-11 34h3m-6-55h3m9 14h3m-3-15h3m6 25h3m-10 6h3m-34-91h3m47 86h3m-36 40h3m-26-45h3m37 60h3m7-12h3m-5-9h3m-15-1h3m-43-109h3m31 70h3m32 0h3m-27-24h3m-27 44h3m25-25h3m-12 40h3m20-1h3m-41-45h3m-4-32h3m4 66h3m-14-67h3m12 81h3m-18-49h3m-7 29h3m24 25h3m-10-25h3m-13 13h3m0-13h3m-2-2h3m-16-56h3m30 111h3m-72-151h3m52 67h3m1 0h3m-8 43h3m-16-50h3m17 58h3m12-12h3m-16-42h3m-30 50h3m22-36h3m0 19h3m-4 0h3m-5-32h3m-4 54h3m-15 15h3m9-73h3m9-1h3m-37 65h3m1-48h3m-5 24h3m4 0h3m0-7h3m6-25h3m0 46h3m-30-70h3m20 28h3m-10-1h3m18 29h3m-32-62h3m-6 62h3m26-19h3m-9 20h3m-2-19h3m-4 3h3m-12-45h3m10 27h3m-38-10h3m32 19h3m-23 42h3m10-12h3m2-45h3m-14 48h3m-21 4h3m7 19h3m12-68h3m-12-30h3m0 44h3m4 16h3m-17 37h3m-29-53h3m34 38h3m-12-41h3m-7 96h3m-21-113h3m2-12h3m50 6h3m-44-39h3m14 95h3m-16-70h3m-5 83h3m12-74h3m-29-9h3m15-25h3m2 144h3m16-92h3m-33-11h3m-33 54h3m45-25h3m-43-14h3m10 39h3m28-24h3m-34-1h3m46 35h3m13-41h3m-74-40h3m5-11h3m37 103h3m-67-67h3m0 50h3m22 34h3m26-2h3m-45-78h3m10 63h3m19-40h3m13 72h3m-55-86h3m4 10h3m3-71h3m-13 142h3m-36-70h3m40-44h3m-10 68h3m28-21h3m-48-9h3m4 24h3m21 22h3m8 25h3m23-171h3m-60 149h3m30-10h3m-36 26h3m42 7h3m-43 10h3m-6-55h3m0-43h3m17 49h3m-60-9h3m63-25h3m-28-20h3m6 87h3m-5-92h3m-59-74h3m78 91h3m-30 2h3m7 5h3m-16-72h3m-33 32h3m45 104h3m-37-52h3m3-32h3m25 43h3m-5-20h3m-45-4h3m35-54h3m-14 123h3m16-51h3m-2-31h3m-56 14h3m38 1h3m-4 23h3m-31-64h3m49 82h3m11 34h3m-21-86h3m-7-6h3m-22 33h3m9-13h3m-14-6h3m-28-75h3m47 86h3m9-35h3m-64 1h3m51-69h3m-16 126h3m-3-39h3m5 51h3m-57-7h3m48 20h3m-54-81h3m53 56h3m-27-76h3m14-20h3m-59-5h3m12 43h3m44-19h3m-69 81h3m1 24h3m13-50h3m24-77h3m1 132h3m0-53h3m-43-118h3m28 150h3m-20-97h3m3 109h3m4-6h3m-9-44h3m14-8h3m10-7h3m3 84h3m-27-21h3m1-28h3m-29-38h3m25 56h3m-4-112h3m17 126h3m-35-62h3m-36 88h3m50-21h3m-17-44h3m-39 26h3m-8-76h3m58 91h3m-33 10h3m11-44h3m4 11h3m101-162h3m41 0h3m-67-4h3m66 0h3m-141 21h3m13 21h3m32-20h3m77-45h3m-87 48h3m-64 17h3m19 1h3m84-53h3m39-11h3m7 30h3m-132 18h3m54-28h3m4 9h3m61-52h3m-52 56h3m33-28h3m-127 55h3m-28 12h3m-1-26h3m71 10h3m-30-18h3m9-4h3m13 23h3m-7 7h3m9-39h3m78-5h3m-143 32h3m104-49h3m-41 42h3m-83 12h3m7-5h3m104-59h3m-22 28h3m-15 12h3m-40-13h3m-52 43h3m82-31h3m-2-5h3m-74 17h3m7 6h3m106-45h3m-29-17h3m-101 70h3m77-25h3m-45 15h3m-18 19h3m15-12h3m-44 3h3m46-60h3m-19 44h3m21-15h3m17-9h3m-73 22h3m54 16h3m-42-29h3m-3 33h3m18-32h3m-64 42h3m74-31h3m-49 10h3m-41 2h3m42-1h3m-58 2h3m58-7h3m-52 20h3m42-35h3m42-10h3m-46 27h3m99-44h3m-103 27h3m-29 46h3m72-40h3m-105 42h3m13-45h3m17 21h3m-32 0h3m28-5h3m87-26h3m31-17h3m-144 52h3m19-32h3m21 18h3m-45 24h3m2-3h3m109-85h3m14 30h3m-137 45h3m-22 12h3m168-59h3m-147 46h3m56-47h3m37 0h3m8 0h3m-108 44h3m79-35h3m5-6h3m-89 80h3m-9-42h3m-12 9h3m37-9h3m-52 11h3m-16-20h3m182-33h3m-111 8h3m78-20h3m-108 45h3m37 12h3m-57-4h3m-14 13h3m16-18h3m-62 21h3m71-42h3m16 14h3m-73 42h3m55-41h3m16-24h3m-85 67h3m122-97h3m-33 56h3m-82 22h3m86-34h3m-90 28h3m37-23h3m-57 13h3m121-40h3m-86 36h3m-38 10h3m-14-2h3m67-25h3m9 11h3m14 7h3m-33-9h3m-70 32h3m104-31h3m10-12h3m-126 41h3m51 2h3m-18-45h3m-37 50h3m22-4h3m39-19h3m-69 35h3m22-20h3m-2 0h3m1-28h3m3 0h3m-44 29h3m-8 1h3m6-5h3m41-2h3m-24 27h3m26-33h3m32-22h3m-57 25h3m49-38h3m-67 38h3m29-1h3m-72 22h3m31-25h3m-9 1h3m134-48h3m-139 66h3m10-13h3m-48 8h3m64-14h3m109-61h3m-61 32h3m-35 5h3m-80 62h3m142-98h3m-133 65h3m-27 12h3m4-13h3m116-78h3m-31 11h3m28 16h3m-33 17h3m-31 5h3m61-8h3m-82 51h3m106-73h3m-140 65h3m41-21h3m66-25h3m-69 13h3m-77 34h3m72-35h3m2 38h3m-61-11h3m74-32h3m-42 15h3m-19 28h3m19-28h3m65-42h3m-49 81h3m-42-46h3m11 48h3m-35-8h3m-32 2h3m49-15h3m-9-18h3m-6 7h3m-22 4h3m12 25h3m21-49h3m-66 57h3m68-59h3m-57 32h3m26 8h3m0 4h3m-6-29h3m121-36h3m-74 29h3m30-18h3m-95 50h3m112-88h3m-55 38h3m-78 33h3m-27-20h3m61 5h3m-63 18h3m57 13h3m-50 19h3m47-22h3m-5-32h3m-69 29h3m37-14h3m-30 4h3m16 12h3m59-23h3m-13-10h3m89-40h3m-145 59h3m81-27h3m-106 24h3m81 8h3m-10-19h3m-80 35h3m-13 4h3m127-67h3m-113 54h3m35-32h3m-49 45h3m82-27h3m49-24h3m-112 43h3m-13 16h3m-40-18h3m23-9h3m86-3h3m-51-1h3m22-6h3m18-40h3m54 14h3m-82-1h3m16-16h3m-102 57h3m6-2h3m6-14h3m59-24h3m-67 68h3m99-69h3m-84 36h3m2-8h3m26 0h3m-25 20h3m46-15h3m-40-31h3m-30 8h3m110-14h3m-164 44h3m147-37h3m2-20h3m-160 62h3m90-18h3m15-12h3m-79 21h3m133-42h3m-98 45h3m40-35h3m-88 38h3m-42 2h3m47-13h3m-43 39h3m120-84h3m-80 45h3m45 1h3m4-16h3m-46-8h3m101-8h3m-80 34h3m-57-5h3m95-35h3m-20 10h3m-117 43h3m112-30h3m-32-14h3m33-16h3m-49 6h3m14 17h3m-23 11h3m-74 19h3m58-1h3m-40 15h3m-1 18h3m-21-26h3m77-21h3m48-24h3m-123 56h3m148-84h3m-166 81h3m29-4h3m-5-2h3m52-29h3m-2 16h3m-43-10h3m97-22h3m-124 42h3m-28 19h3m17-27h3m-19 8h3m144-54h3m-73 31h3m-21 13h3m21-55h3m-94 61h3m74-21h3m-82 39h3m76-48h3m-83 27h3m146-15h3m-140 34h3m147-82h3m-134 82h3m-39 4h3m70-25h3m26-13h3m8-9h3m-49 39h3m-49 34h3m66-55h3m-35 6h3m-17-7h3m3-11h3m128-50h3m-56 45h3m-119 40h3m109-48h3m-59 29h3m5-37h3m35 11h3m-13 2h3m-81 32h3m21-15h3m-8 24h3m72-50h3m-83 12h3m-7 27h3m-46 6h3m45-20h3m77-13h3m-78 24h3m-25 23h3m-8 6h3m25-35h3m46 3h3m-91 17h3m29-9h3m-3-12h3m115-48h3m-17 33h3m-42-14h3m-13 5h3m-15-13h3m-27 41h3m-56 36h3m57-72h3m-29 43h3m-38 18h3m165-94h3m-71 32h3m12 6h3m-52 23h3m14 19h3m-15-19h3m-45 13h3m-20 15h3m49-47h3m28 35h3m-19-23h3m-41 7h3m-2 0h3m94-6h3m-66-27h3m2 53h3m-86 18h3m23-13h3m0-21h3m-2 23h3m-17-26h3m17 0h3m32 4h3m-1-9h3m48-25h3m-65 21h3m-55 28h3m22-17h3m-45 4h3m21 11h3m134-46h3m-43 16h3m-71 0h3m27 24h3m51-31h3m-80 18h3m-20-5h3m-39 19h3m34 1h3m-18 19h3m-10 3h3m3-50h3m77-3h3m-40 19h3m-60 6h3m102-24h3m-13 8h3m-17 9h3m14-23h3m-65 38h3m53-13h3m20-43h3m-108 43h3m23 20h3m31-17h3m-61 17h3m68-49h3m-48 37h3m144-70h3m-91 18h3m-69 39h3m0-4h3m78-54h3m-27 64h3m-8-13h3m-49 24h3m103-71h3m-60 47h3m-43 34h3m65-64h3m-109 75h3m25-19h3m-31-11h3m58-17h3m-49 20h3m89-39h3m-133 45h3m-3 15h3m123-53h3m-51-6h3m-11 32h3m-78 12h3m70-2h3m-25-1h3m1-15h3m-13 6h3m-7 7h3m-23 11h3m47-9h3m-43-7h3m104-53h3m-56 22h3m-11 9h3m-43 32h3m31 7h3m-15 2h3m133-65h3m-185 58h3m65-8h3m3 4h3m-66-1h3m116-34h3m-75 21h3m21-11h3m35 5h3m-44-11h3m1 5h3m-59 25h3m14 12h3m-3-14h3m-34 35h3m41-55h3m-18 34h3m69-54h3m-19 11h3m-36 3h3m39-20h3m-67 24h3m-35 13h3m20 1h3m112-20h3m-99 27h3m112-63h3m-63 36h3m51-32h3m-35 30h3m-124 39h3m51-14h3m14-46h3m-2 46h3m-17-6h3m-52 38h3m68-66h3m-48 40h3m104-53h3m-111 73h3m58-37h3m-83 38h3m106-58h3m-102 38h3m17 10h3m105-88h3m-147 69h3m77-18h3m-95 42h3m-15-7h3m151-75h3m-90 64h3m-53-8h3m11 21h3m0-11h3m-28 9h3m59-38h3m-16 33h3m-21-33h3m59-15h3m-41 32h3m5-3h3m-75 34h3m7-11h3m79-35h3m-6 30h3m-25-3h3m13-22h3m-44 25h3m-18 7h3m32-22h3m-4 7h3m85-35h3m-8-2h3m-79 4h3m-54 44h3m140-56h3m-72 24h3m-19 31h3m-33 12h3m-38 5h3m55-35h3m-1 8h3m-12 6h3m-9-43h3m-48 62h3m13-24h3m28 2h3m39-46h3m-10 27h3m46-36h3m-25 28h3m-93 37h3m43-21h3m-36 32h3m116-68h3m10-5h3m-153 66h3m102-25h3m-116 31h3m1-4h3m117-80h3m-128 32h3m39 36h3m-10 2h3m53-34h3m-90 54h3m119-38h3m-113 28h3m41-6h3m-26-9h3m-26 30h3m6-33h3m20 0h3m-16-13h3m53-5h3m50-26h3m-134 76h3m39-44h3m56-32h3m-1 9h3m-62 30h3m-7-28h3m63-16h3m-120 89h3m17-43h3m36 16h3m-60 15h3m9 5h3m48-24h3m77-52h3m-151 68h3m5-18h3m64-33h3m-23 11h3m62-34h3m-9 17h3m-43 15h3m-40 31h3m61-27h3m20-4h3m-34 3h3m21-20h3m-131 50h3m141-9h3m-56-33h3m-3-15h3m106-13h3m-175 63h3m56-42h3m-1 21h3m-31 1h3m39-17h3m-105 32h3m81-21h3m-17 13h3m72-33h3m-84 24h3m-37 18h3m35-22h3m-22-8h3m-44 43h3m59-28h3m23-20h3m14-1h3m7-32h3m-88 73h3m63-3h3m-68-15h3m-50 6h3m52-8h3m27-11h3m-28 10h3m71 3h3m16-23h3m-25-12h3m-11 3h3m-15 13h3m-85 44h3m88-41h3m6-19h3m-22 40h3m-29-1h3m13-21h3m-37 19h3m-37 23h3m97-71h3m-1 24h3m31 0h3m-128 36h3m41-24h3m-16 7h3m-43 46h3m27-39h3m82-26h3m11-18h3m-160 65h3m32 5h3m45-50h3m8-17h3m55-11h3m-140 74h3m22-20h3m-1 8h3m36-3h3m-5-11h3m42-39h3m-68 46h3m-46 16h3m59-9h3m-48-9h3m-7 35h3m-14-14h3m23-5h3m-2-24h3m4 11h3m117-29h3m-86 1h3m6 12h3m-43 25h3m45-36h3m-70 59h3m-22 0h3m4-30h3m11-27h3m73-31h3m-79 82h3m47-47h3m-64 54h3m8-36h3m39-48h3m-16 53h3m-32-15h3m135-48h3m-81 41h3m9 12h3m-85-1h3m-9 17h3m19-30h3m53-18h3m-73 71h3m-25-6h3m65-34h3m9 3h3m-22-23h3m-6 8h3m16-22h3m35 25h3m-113 34h3m108-72h3m-115 70h3m77-35h3m49-42h3m-91 73h3m-18 8h3m9-26h3m-37 35h3m102-58h3m-2 14h3m45-50h3m-94 60h3m13 17h3m-96 7h3m66-56h3m-17 32h3m23-9h3m9 2h3m58-61h3m-27 29h3m-133 72h3m117-43h3m-115 11h3m53-2h3m48-6h3m-113 27h3m-13 17h3m64-39h3m62-29h3m-100 57h3m28-24h3m-21-6h3m-13 1h3m16 6h3m74-50h3m6 16h3m-86 49h3m-47 10h3m-7-5h3m99-50h3m-107 50h3m10-22h3m-6-1h3m9 10h3m26-17h3m68-35h3m-99 63h3m-32 14h3m57-37h3m29-30h3m-64 5h3m9 37h3m97-33h3m-89 41h3m-47 8h3m95-56h3m-68 13h3m92-48h3m-43 53h3m-54-1h3m24-11h3m-42 38h3m-25-68h3m46-8h3m40 55h3m-35 2h3m-25 5h3m-42-5h3m29-13h3m29 14h3m7 1h3m-106 20h3m115-8h3m-68 20h3m143-80h3m-101 43h3m-23 8h3m-68 19h3m83-69h3m60 39h3m-77-11h3m-70-6h3m25-9h3m43 32h3m-87-17h3m5 83h3m78-62h3m-6 13h3m-75-13h3m76 24h3m-95 6h3m172-86h3m-115 108h3m54-73h3m-32-4h3m-18 60h3m-23-40h3m-30-1h3m-37 42h3m93-118h3m9 105h3m-53-24h3m10-18h3m4 4h3m58-7h3m21-17h3m-141 49h3m-1 27h3m32-83h3m13 37h3m-8-47h3m-25 73h3m19-48h3m33 6h3m-51-25h3m-15 35h3m64-24h3m-111 87h3m124-76h3m-105 69h3m7-8h3m-5-35h3m20-20h3m-26 35h3m38-32h3m47-15h3m-77 44h3m33-12h3m-15-16h3m-46 39h3m-1-21h3m-53 12h3m128-41h3m31 5h3m-85 32h3m56-17h3m-40-16h3m9 1h3m-63 6h3m5-4h3m-25 57h3m33-55h3m49 29h3m-100-38h3m10 65h3m-2-60h3m25 27h3m-65 16h3m23 10h3m37-37h3m23 13h3m34-15h3m-20-28h3m-63 29h3m25 45h3m-35-40h3m-41-10h3m101 21h3m-97 30h3m75-57h3m36 31h3m-78-17h3m-19 6h3m56-49h3m-12 45h3m-30 42h3m15-35h3m0-56h3m-32 19h3m-37 30h3m94-1h3m-121 20h3m105-38h3m-118 50h3m54-30h3m28 31h3m-74-1h3m-13 21h3m35-55h3m-64 14h3m22-8h3m121-8h3m-154 22h3m24 5h3m25-4h3m32-63h3m-20 20h3m-46 66h3m24-7h3m-9-25h3m32-6h3m-2 3h3m69-54h3m-34-14h3m-98 115h3m83-61h3m-31-1h3m-25 11h3m13-3h3m32 5h3m3-47h3m-79 73h3m-7-13h3m90-19h3m-9 8h3m-22-18h3m-53 27h3m93-44h3m-118 34h3m-8-6h3m104 20h3m-21-74h3m-99 68h3m88-78h3m-23 29h3m-69 16h3m36 26h3m58-7h3m-56-4h3m18-40h3m-22 54h3m-35 25h3m27-29h3m-31-2h3m23-31h3m88-22h3m-141 45h3m58-15h3m25 35h3m-12-39h3m-69 25h3m95 0h3m-8-18h3m-136 30h3m16 8h3m118-34h3m-120 55h3m35 3h3m50-21h3m-80-7h3m77 0h3m-38-45h3m-62 72h3m69-73h3m-106 48h3m10-6h3m80-18h3m-72-25h3m96 16h3m-106 48h3m118-66h3m-45 7h3m43-34h3m-114 82h3m29-22h3m-9 32h3m66-53h3m-114 74h3m56-55h3m0 6h3m-5 13h3m-49 8h3m4 32h3m-23-45h3m13-11h3m-36-19h3m73 9h3m38 16h3m-11-24h3m-35 31h3m-57 9h3m39-15h3m-13-3h3m38 6h3m37-46h3m-113 46h3m16-10h3m42-10h3m-6-34h3m-35 51h3m-6-7h3m-17-5h3m-41 14h3m71 33h3m-53-5h3m83-50h3m-39 18h3m-25-3h3m-16-20h3m79-83h3m-101 107h3m42-13h3m20 7h3m-57-3h3m90-32h3m-122 55h3m38-41h3m28 8h3m-21 52h3m-22-21h3m-33-10h3m59 6h3m-29 24h3m-9-66h3m10 25h3m97-71h3m-79 85h3m-21 7h3m-13-30h3m-56 33h3m78-49h3m12 8h3m-57 15h3m22 6h3m-64 5h3m10 20h3m52-69h3m47 5h3m-47 69h3m73-63h3m-104 14h3m18 20h3m-46-15h3m115-1h3m-90 2h3m10 42h3m-35 2h3m36 0h3m24-34h3m-68-24h3m30 11h3m23 32h3m21-29h3m-104-41h3m85 1h3m-4 43h3m-109 12h3m35 17h3m-21-6h3m72 17h3m-73-41h3m2 40h3m61-46h3m-81-4h3m134-22h3m-153 24h3m49-28h3m-17 70h3m69-44h3m-106-33h3m61 12h3m17 54h3m-59-71h3m115 7h3m-119-10h3m-49 266h3m-48 0h3m-4 0h3m15 0h3m29 0h3m-5 0h3m-30 0h3m-1 0h3m-5 0h3m-21 0h3m45 0h3m-28 0h3m-3 0h3m-4 0h3m19 0h3m-7 0h3m6 0h3m-34 0h3m-17 0h3m37 0h3m2 0h3m-16 0h3m9 0h3m-50 0h3m19 0h3m-27 0h3m25 0h3m-29 0h3m24 0h3m-24 0h3"/><path d="M269 1744h3m9 31h3m18-5h3m-32 25h3m-26 22h3m6-79h3m51 27h3m-39 8h3m-15 49h3m-3-32h3m35 1h3m-25 2h3m-21 21h3m21-18h3m5 41h3m-20-60h3m-2 35h3m-1-35h3m0 26h3m-3-17h3m-9-11h3m5 30h3m-5-5h3m-3 12h3m-4-39h3m-17-5h3m-2 26h3m26 13h3m-9 1h3m-21-21h3m14-14h3m-4 8h3m-17 13h3m21 17h3m-31-62h3m12 30h3m-14 51h3m5-28h3m11-11h3m-18 41h3m-22-18h3m22-21h3m-17-32h3m15 60h3m4-32h3m-21 13h3m6-30h3m-6 21h3m10 17h3m8-48h3m-29 29h3m-31 16h3m17 9h3m6-26h3m-18-3h3m1-13h3m13 17h3m-11-44h3m-7 32h3m24 18h3m-30-16h3m-6-4h3m-7-19h3m-4 20h3m8-23h3m-45-17h3m53 39h3m-21 49h3m7-55h3m-14 9h3m-2 4h3m3-9h3m8 19h3m-18-10h3m-33 7h3m19-36h3m-6 45h3m12 35h3m-27-77h3m44 31h3m-38-10h3m12-8h3m17 45h3m-33-28h3m-13-16h3m23-5h3m9 30h3m-22-19h3m-6 10h3m-1 26h3m-9-44h3m12 15h3m-5-1h3m-11 9h3m3 27h3m-14-38h3m2 37h3m-6-27h3m-18-5h3m-9-10h3m14 4h3m-18 10h3m21-23h3m-31 4h3m-6 11h3m22 3h3m12 19h3m-25-43h3m23 14h3m-7 0h3m-16 20h3m-10-30h3m16 36h3m-23 28h3m4-56h3m3 33h3m-11-26h3m-33 7h3m10 2h3m-1-18h3m-3 15h3m-10-38h3m20 22h3m-7 1h3m-4 0h3m0 25h3m3 2h3m10 2h3m-44-25h3m12 13h3m-16 37h3m9-45h3m17 13h3m-5-9h3m-14 19h3m21 12h3m-42-44h3m-7 23h3m9 11h3m1-22h3m10-9h3m-15-2h3m-40-30h3m48 64h3m-2-28h3m-3 23h3m-15-20h3m6-19h3m-16 23h3m9-19h3m-46 24h3m25-10h3m8-3h3m6 0h3m-34 30h3m8-9h3m6-23h3m17 22h3m-34-26h3m9 14h3m-1 20h3m19-27h3m-52 18h3m45-20h3m-21-17h3m-33-16h3m-10 13h3m14 10h3m-9 4h3m27 37h3m-8-9h3m-11-4h3m-14 2h3m15-6h3m-14-50h3m21 73h3m-21-33h3m4-11h3m-22-18h3m2 21h3m-19 17h3m14 20h3m1-30h3m-2-11h3m-19 9h3m16 4h3m6 32h3m-16-27h3m-22-5h3m15 27h3m3-16h3m12 24h3m-23-25h3m11-24h3m-11 34h3m-7-29h3m-6-5h3m9 31h3m-30-43h3m28 53h3m-20-17h3m7 10h3m-24-1h3m25-8h3m-18-2h3m-28 1h3m32-22h3m-11 18h3m-5-32h3m16 31h3m-18 47h3m4-39h3m-2 31h3m-22-33h3m5-49h3m19 79h3m-48-44h3m20 30h3m-14-54h3m-3 28h3m9-15h3m-13 22h3m-11-12h3m47 35h3m-41-16h3m15-1h3m-1 29h3m-37-35h3m15 23h3m17-64h3m-26 31h3m23-8h3m-39 7h3m4 23h3m5-4h3m-6-49h3m-1 16h3m-19 28h3m13-17h3m14 0h3m-17 8h3m8-18h3m-34 22h3m28 5h3m-9-12h3m-15-16h3m29-4h3m-40 24h3m4-6h3m2 25h3m-6-9h3m3-21h3m-20 2h3m-14-8h3m13 6h3m19 29h3m-41-24h3m-1-17h3m39 42h3m-17 9h3m8-12h3m-22-11h3m-19 22h3m22-39h3m-15-18h3m-13 23h3m27 31h3m-21 0h3m7-14h3m-8-22h3m-1 7h3m28 45h3m-27-12h3m-13-44h3m-10 14h3m24 13h3m-12-5h3m-14-32h3m-10 38h3m16-31h3m-6 27h3m-6-13h3m-1 15h3m-28-8h3m20 9h3m-14 10h3m15-12h3m-11 16h3m-27-28h3m6 8h3m1-30h3m6 46h3m-7-43h3m0 0h3m-41-15h3m25 37h3m-10-21h3m-3 24h3m35 27h3m-15-45h3m12 56h3m-32-44h3m-8 22h3m25-1h3m-33-7h3m-4-43h3m9 35h3m17-15h3m-31 26h3m-2 2h3m12-10h3m-6-4h3m-25-15h3m-5-6h3m14 30h3m3 7h3m-27-56h3m21 35h3m-7-7h3m-16-11h3m9 28h3m-1 15h3m-22-27h3m23 9h3m26 29h3m-25-12h3m6-19h3m-46-35h3m-3 24h3m-9-22h3m20 23h3m0 22h3m19 18h3m-29-26h3m-26-12h3m9 14h3m2-6h3m25 11h3m-17-45h3m6 39h3m-28-19h3m-8 25h3m0-10h3m12-1h3m-15 9h3m-12-39h3m11 18h3m-23 1h3m16 22h3m-20-18h3m13 15h3m5-25h3m-3 13h3m14-15h3m-3 38h3m-22 1h3m7-31h3m-22-8h3m3 19h3m-19 9h3m0-4h3m24 14h3m2-2h3m-6-32h3m-9 28h3m-12-5h3m-13 21h3m-3-62h3m9 35h3m-9-20h3m5-4h3m-2 21h3m-8 11h3m-14 5h3m4-12h3m-16 26h3m12-28h3m5 1h3m-5-35h3m-12 54h3m25-32h3m-25 28h3m-2-3h3m7-23h3m-15-1h3m13 3h3m-28 2h3m4-12h3m0 10h3m-4-5h3m-8 27h3m-2-33h3m-21 28h3m29-14h3m-13 6h3m-22-38h3m33 17h3m-16-1h3m-6 27h3m11 13h3m-31-1h3m16-2h3m3-48h3m-11 41h3m-16-56h3m2 65h3m13-33h3m4 41h3m-17-26h3m-5-13h3m-42-15h3m58 10h3m-21 42h3m-8-16h3m-4 4h3m22-5h3m-34-17h3m-6-11h3m4 6h3m-15 9h3m10 17h3m19-37h3m-29 49h3m25-5h3m-33-13h3m6 5h3m-25-19h3m31-4h3m-3 0h3m-9-32h3m-1 39h3m-10 23h3m-3-22h3m0 36h3m-10-7h3m-5-36h3m-1-5h3m-2 21h3m-2-36h3m11 33h3m-25-5h3m39 14h3m-54 17h3m21-35h3m-17-26h3m-19 7h3m-3-3h3m-11 9h3m24 17h3m-11 8h3m14-21h3m-16 3h3m4 11h3m10 30h3m-42-18h3m23-2h3m20-24h3m-5 2h3m-21 24h3m-16 20h3m-21-74h3m9 29h3m22 7h3m4 9h3m-28-4h3m-11-16h3m5 13h3m7 25h3m-12-29h3m14 11h3m-8 8h3m-3-14h3m-24 3h3m20 5h3m-23-45h3m7 26h3m-29 16h3m75 3h3m-49 16h3m-13 1h3m0-59h3m28 48h3m-41 12h3m18 6h3m-15-45h3m-1 21h3m-16-5h3m41 7h3m-53-26h3m23 18h3m3-3h3m-18 14h3m-9-5h3m35 7h3m-33-23h3m-9 0h3m-11 8h3m-5-16h3m8-12h3m3 64h3m-9-30h3m5-18h3m-19-8h3m2 13h3m11 35h3m-30-26h3m27 12h3m-3-5h3m-25-51h3m3 54h3m-3-16h3m9 2h3m-19 9h3m12 33h3m-10-64h3m20 8h3m-36 12h3m5-2h3m5 4h3m-13 12h3m3-9h3m-20-13h3m18 40h3m10 10h3m-15-52h3m-38-6h3m8 4h3m14-8h3m12-8h3m-8 16h3m5 19h3m-1 1h3m-26-16h3m25 46h3m-26-92h3m19 47h3m-20 53h3m18 25h3m-66-69h3m30 1h3m20 43h3m-18-45h3m-38-49h3m38 79h3m-32-30h3m24-27h3m-21 81h3m4-81h3m16 79h3m-1 8h3m-40-65h3m10 21h3m23 31h3m-13-29h3m-28 5h3m4-11h3m33-33h3m-21 51h3m-23-44h3m-11 16h3m30 62h3m-6-44h3m-17 21h3m17-30h3m-19-44h3m16 84h3m-33-82h3m21 57h3m-17 31h3m-21-19h3m-7-50h3m44 93h3m25-75h3m-54 82h3m-15-149h3m-2 63h3m3-10h3m-23 49h3m45 14h3m-5-25h3m-24 11h3m-6-34h3m12-7h3m-32-60h3m7 70h3m20 41h3m-27-84h3m-12 49h3m12 15h3m4-70h3m-20 32h3m-18 16h3m22-27h3m20 39h3m-17 34h3m-35-57h3m20 8h3m16 22h3m9-32h3m-25 18h3m-40-11h3m27 8h3m1-42h3m-8 13h3m-35 11h3m67 24h3m-47-21h3m-34-13h3m9 26h3m37 5h3m-23-17h3m9-38h3m-45 34h3m-2-34h3m41 95h3m-22-29h3m30-20h3m1-25h3m-43-49h3m-8 65h3m-13 5h3m26 35h3m9-4h3m9 1h3m-19-66h3m-21 86h3m8-6h3m-9-51h3m10-16h3m6-22h3m-32 15h3m16 52h3m-13-24h3m7 0h3m-61 11h3m66 15h3m-16 38h3m-18-19h3m27-46h3m-21-30h3m-11 39h3m49 2h3m-38 26h3m-29 11h3m13-48h3m40 51h3m-41-72h3m-44-9h3m19 81h3m8-59h3m2 33h3m0-75h3m-2 89h3m-16 3h3m16-22h3m11 21h3m-49-28h3m43-14h3m12 35h3m-71-11h3m75-29h3m-88 11h3m10 13h3m16-4h3m5 47h3m-26-27h3m1-15h3m4 28h3m-1-36h3m-41-1h3m40-7h3m-26-7h3m21-9h3m-7 24h3m-2-19h3m-4 56h3m-18-48h3m16 30h3m21-32h3m-5 24h3m-42 11h3m4 0h3m17-17h3m-30 12h3m39-3h3m-57-24h3m-15 53h3m-22-84h3m43 22h3m18 29h3m-11-4h3m-14-3h3m20 44h3m-42-90h3m42 52h3m-36-24h3m-12 5h3m27-4h3m6-33h3m-30 68h3m-25-40h3m60-16h3m-38-21h3m-7 90h3m-16 0h3m-10-63h3m23-22h3m42 48h3m-84-64h3m59 87h3m-33-13h3m0-53h3m-20-6h3m24-25h3m6 125h3m-1-35h3m-27-48h3m-12 28h3m46 89h3m-27-11h3m-2-27h3m14 6h3m-8-13h3m-3 49h3m-17-11h3m20 20h3m-28-64h3m1 49h3m5-33h3m-21-3h3m18 81h3m-7-109h3m-22 52h3m9 1h3m17 55h3m-11-54h3m-4 33h3m14-45h3m-12 27h3m-37-61h3m15 5h3m9 41h3m-6 40h3m-11-92h3m10 66h3m-18 17h3m15-28h3m-7-17h3m-9-18h3m0 7h3m0-2h3m-21-16h3m9 27h3m13-31h3m-31 8h3m-5 38h3m12-21h3m7 12h3m-8-29h3m-4 19h3m-19 56h3m8-47h3m0-5h3m-27-31h3m13 14h3m-6-4h3m18 63h3m-22 12h3m18-13h3m-7-74h3m-19 75h3m5-56h3m3-17h3m-39 14h3m41 70h3m-32-54h3m1-11h3m13 67h3m-18-23h3m4-30h3m-2 54h3m7-39h3m-6 3h3m-8-35h3m-6 71h3m-14-67h3m32 80h3m-19-52h3m-11 32h3m-12-40h3m11-14h3m-21-52h3m4 57h3m-6 13h3m10-43h3m-5 50h3m3 21h3m-19-78h3m5 61h3m15 23h3m-26-64h3m-12 24h3m0 1h3m15-19h3m-19-19h3m17 74h3m-18-29h3m13-26h3m6 71h3m-24-42h3m2 23h3m-3-76h3m-9 73h3m4 22h3m-11-70h3m-18 19h3m27 60h3m-21-37h3m19-5h3m-28-4h3m-4 24h3m1-61h3m20 78h3m-19-21h3m6-25h3m-8 13h3m-10-62h3m25 42h3m-31-22h3m0 26h3m-6 25h3m2-29h3m-7 2h3m-8-27h3m-1 6h3m14 85h3m-9-94h3m2 66h3m-16-51h3m-11-9h3m6 17h3m13 45h3m-19-71h3m-9 4h3m-8-7h3m-16-5h3m8 33h3m0-2h3m-4-30h3m1 44h3m5-15h3m-11 10h3m25 41h3m-24-55h3m4-7h3m-20-8h3m13 64h3m-31-15h3m19-18h3m-1 2h3m3 22h3m-10-51h3m-11 26h3m3-1h3m4 28h3m-2-14h3m-23-84h3m47 100h3m-28-97h3m-9 34h3m0 10h3m-17 9h3m-8-22h3m20-13h3m-17 3h3m-18 37h3m-26-78h3m18 66h3m25 57h3m-4-63h3m-9-3h3m-8 33h3m-13 35h3m17-2h3m-17-40h3m-7-35h3m-22 25h3m16 24h3m10 10h3m9-32h3m8-7h3m-27 40h3m-24-27h3m15 15h3m-4 13h3m4-19h3m-3-17h3m-19 38h3m13-37h3m-8 32h3m-3 15h3m23 12h3m-22-62h3m-31 20h3m27 24h3m-20-70h3m10 85h3m-6-6h3m-11-45h3m10 65h3m-10-53h3m4 15h3m-32-8h3m3-13h3m2-46h3m13 62h3m-18 19h3m18-21h3m-22 8h3m-13 25h3m5-54h3m13-17h3m14 52h3m-26 10h3m23 7h3m-41-42h3m-20-11h3m24 31h3m6-11h3m-19-24h3m-11-57h3m-1 43h3m29 5h3m-34 10h3m6 21h3m0-40h3m3-6h3m9 28h3m-6 29h3m-26-50h3m-1 62h3m22 23h3m-32-66h3m35 32h3m-29 20h3m-17-60h3m4-42h3m5 53h3m-23 26h3m5-56h3m18 6h3m-11 0h3m12 29h3m-12 53h3m4-101h3m-6 40h3m-24 1h3m-17-42h3m14 28h3m0 6h3m0-4h3m12-5h3m-3 52h3m-30-52h3m-8-36h3m4 29h3m14 18h3m17 30h3m-33 17h3m19-41h3m-38 39h3m31-12h3m-6 1h3m3-23h3m-16 34h3m-25-108h3m23 78h3m-15 5h3m-5-10h3m19 23h3m-32-8h3m19-14h3m-4 7h3m0-17h3m-17 2h3m8 103h3m-10-45h3m20 42h3m-47-115h3m16 56h3m-6-32h3m-29 6h3m0 20h3m-13-47h3m47 18h3m-12 35h3m-11-40h3m7 13h3m26 25h3m-31-38h3m-19-1h3m-18 26h3m7-37h3m-2 46h3m4-43h3m2 50h3m-44-36h3m12-1h3m22-10h3m-2-10h3m-7 51h3m-2-26h3m14-32h3m-4-4h3m-24 29h3m5 26h3m-28-32h3m35 59h3m-12-46h3m-4 48h3m-18-98h3m25 93h3m-13-71h3m6 49h3m-35-24h3m10 17h3m-6-46h3m21 23h3m-20-1h3m-6 28h3m-5 4h3m10 20h3m-13-41h3m-12-2h3m24 17h3m-18 38h3m1-41h3m-24 10h3m2-47h3m16 60h3m-1-25h3m-17 24h3m-9 10h3m2-90h3m3 79h3m-5 40h3m-16-80h3m26-20h3m-10 35h3m-33-21h3m37 8h3m-20-13h3m-1 26h3m-9-61h3m14 97h3m-12-32h3m-7-17h3m-17 51h3m8-64h3m-3 92h3m-3-109h3m-4 27h3m16 25h3m-33-3h3m3-41h3m-19 40h3m9-7h3m16 37h3m-8-39h3m-2-9h3m2 10h3m-7-5h3m-9 55h3m0-33h3m-17-29h3m-13-32h3m10 71h3m0-72h3m-28-27h3m34 97h3m12-2h3m-33-16h3m-21 13h3m15 31h3m19-78h3m-23 35h3m-6-65h3m19 130h3m-23-122h3m-11 57h3m17-37h3m18 74h3m-21 24h3m-2-103h3m5 75h3m-32-28h3m-10-15h3m8-31h3m-5 4h3m-7 56h3m20-66h3m4 55h3m-37-74h3m28 83h3m-22-31h3m-9-16h3m21 21h3m-14-3h3m7 17h3m1-7h3m-1 13h3m-29-43h3m9 7h3m-2 13h3m-15 16h3m-5-34h3m-8 37h3m14-17h3m-11 4h3m1-17h3m0 15h3m4 3h3m-11-47h3m-5 83h3m-11-61h3m3 2h3m12-20h3m-14 57h3m-6 8h3m5-30h3m-18-32h3m3 21h3m-5 12h3m28 22h3m-32 19h3m-1-71h3m4-33h3m-2 44h3m7 34h3m-30-26h3m11-4h3m-13 92h3m11-37h3m-8-30h3m16 4h3m-33-4h3m6-13h3m12 22h3m-41-48h3m24 27h3m-5-18h3m-22 19h3m35-8h3m-20-20h3m-3 49h3m-13-23h3m30 11h3m-36 5h3m-20-64h3m33 30h3m-24 19h3m5 32h3m-13-49h3m21 43h3m-13-17h3m-18-8h3m14-7h3m-29-7h3m17-10h3m2 1h3m-29 5h3m9 14h3m8-10h3m9-18h3m-23 6h3m2 10h3m12 32h3m-21 18h3m-1-25h3m-1 14h3m0 31h3m-27-46h3m21 48h3m-9-72h3m13 46h3m-2 3h3m-10-29h3m15 65h3m-22 13h3m-35-92h3m16 2h3m14 47h3m-6-2h3m-9-115h3m-15 99h3m9 20h3m-6-17h3m23-57h3m-21 44h3m-14 7h3m4-52h3m-10 31h3m-3-22h3m3 29h3m-5-2h3m-8-5h3m-4-9h3m7 16h3m-30-23h3m18 24h3m-22-52h3m16-27h3m-20 76h3m-11 10h3m52 24h3m-8 19h3m-31-68h3m1-27h3m-3 27h3m-7 26h3m13 44h3m6-25h3m-27-63h3m10 42h3m-3 16h3m14 11h3m-41 7h3m6-57h3m-21-1h3m37 30h3m-24-110h3m-13 80h3m-14 3h3m-8-17h3m-5 24h3m5 7h3m19-44h3m-20 11h3m-3 23h3m10 12h3m1 3h3m-2 1h3m-26-56h3m38 93h3m-36-12h3m3-69h3m8 110h3m5-91h3m-27-43h3m28 62h3m-9 71h3m21-98h3m-85 24h3m63 89h3m-30-108h3m25 26h3m-8-18h3m-26 74h3m-24-166h3m5 178h3m-11-86h3m63 84h3m-3-9h3m-43-127h3m26 141h3m-13-110h3m-21 45h3m-9-104h3m-32-85h3m21 155h3m25 24h3m-21-6h3m-19 13h3m-25-46h3m33 10h3m-6 24h3m-11 52h3m-2-21h3m19-44h3m-27 36h3m22-14h3m8 11h3m-36-82h3m2 24h3m-20-14h3m16 2h3m-8 10h3m16 41h3m-11 51h3m23 42h3m-35-24h3m-6-50h3m24-12h3m-15 6h3m13 40h3m-7-29h3m-8 4h3m-29 60h3m53-51h3m-43 26h3m12-43h3m-91-40h3m35 39h3m54 28h3m-39 12h3m6-36h3m6-54h3m-22 33h3m11-59h3m-14 70h3m30 2h3m-27-104h3m6 149h3m7-15h3m-10-20h3m9-11h3m-45-12h3m-22-55h3m36 102h3m27-18h3m-36 12h3m0-14h3m-22-67h3m-34-53h3m43 82h3m-16-67h3m39 77h3m-42 23h3m-12-4h3m7 30h3m2-63h3m-12-19h3m13 49h3m-3 20h3m-29 0h3m27 13h3m-4-55h3m3 75h3m-23-113h3m29 53h3m-21 41h3m-6-26h3m-17-52h3m24 50h3m-30-24h3m-12-21h3m3 62h3m29 9h3m22-27h3m-43-12h3m8 70h3m10-60h3m-25-19h3m-29-5h3m44 14h3m2-17h3m-80-43h3m42 34h3m-10 40h3m28 24h3m-30-53h3m19 18h3m-35-24h3m21 82h3m25-54h3m-44-46h3m-31-46h3m23 117h3m-10-46h3m0 61h3m-8-61h3m-6-37h3m27 31h3m-22 32h3m-1-68h3m3 64h3m23-5h3m-44 42h3m28-68h3m-15-58h3m-15 59h3m5 48h3m-24-80h3m29 56h3m-16 58h3m0-22h3m-8 35h3m-4-13h3m4-37h3m-29 22h3m28-13h3m-15 26h3m-11-31h3m14 22h3m-10-11h3m-8 13h3m12-5h3m-27-7h3m28 42h3m-21-57h3m-8 29h3m1 25h3m-7-33h3m-6 17h3m9 2h3m-6-13h3m-4 10h3m-10 15h3m8-7h3m3-22h3m-20 20h3m21-6h3m-20-20h3m3 0h3m-16-23h3m5 21h3m-12-15h3m5 21h3m1-11h3m2 16h3m2 16h3m-5-22h3m-4 13h3m-6 1h3m-29 1h3m4 1h3m13 9h3m2-25h3m-23-1h3m0 10h3m-3-5h3m-7 34h3m14-30h3m-14-34h3m6 37h3m8-20h3m-5 27h3m-17 12h3m3-3h3m3-23h3m-7 6h3m-11-21h3m-14 10h3m21 31h3m-9 5h3m-23-24h3m21 10h3m-6-16h3m0 8h3m-10 3h3m-11-14h3m8 1h3m-5 0h3m-13 30h3m-10-14h3m13-22h3m-12-5h3m4-15h3m11 61h3m-11-48h3m-19 19h3m19 14h3m-33-28h3m21-17h3m-23 36h3m22 3h3m-19 10h3m7-9h3m-5-16h3m4 10h3m1-23h3m-10 17h3m-13 8h3m23-36h3m-32 18h3m4 18h3m-20 11h3m-6-8h3m20-35h3m-28 0h3m39 43h3m-36-43h3m-8 20h3m-5-19h3m12-12h3m7 5h3m-12 51h3m16-26h3m-30 6h3m13-15h3m21 29h3m-38-14h3m-17-13h3m8 17h3m0 7h3m18 19h3m-43-45h3m35 14h3m-11-2h3m-3-16h3m-1 4h3m16 11h3m-22 31h3m30-166h3m7-4h3m-29-10h3m61-1h3m-33-13h3m37 10h3m48-42h3m-118 48h3m26-22h3m72-18h3m-52 29h3m-16-9h3m-34 39h3m38-36h3m-22-10h3m14 15h3m19-34h3m-35 31h3m-1 5h3m-17-1h3m-25 10h3m113-57h3m-52 34h3m-71 36h3m-9 0h3m11-31h3m56-22h3m77-6h3m-152 41h3m89-66h3m23 11h3m-120 71h3m54-7h3m-24-32h3m-44 27h3m12 15h3m36-19h3m85-70h3m-44 32h3m-68 36h3m0-9h3m-28 4h3m103-51h3m-77 50h3m-11 15h3m-14-8h3m-2 17h3m32-33h3m52-21h3m-68 27h3m-63 10h3m56-42h3m-10 34h3m-4-20h3m24 11h3m-44 21h3m29-17h3m-42 10h3m37-17h3m10-14h3m-54 33h3m9-14h3m-6 14h3m-27-3h3m78-40h3m-101 57h3m158-75h3m-93 55h3m45-28h3m-18 16h3m-98 42h3m68-42h3m15 1h3m-17-8h3m-78 35h3m70-40h3m6-7h3m-93 54h3m59-39h3m13 13h3m-13-4h3m-61 24h3m-4 7h3m122-83h3m-56 59h3m-63 20h3m-16-5h3m7-28h3m77-27h3m-41 57h3m37-58h3m-19 25h3m14 6h3m23-41h3m-67 47h3m-52 43h3m114-95h3m-128 86h3m81-27h3m90-61h3m-102 34h3m-60 21h3m-12 2h3m86-45h3m-38 35h3m-46 18h3m37-34h3m96-35h3m-90 36h3m-67 31h3m124-44h3m-22-8h3m-122 57h3m41-13h3m-23 20h3m39-26h3m-62 8h3m21-3h3m38-27h3m-70 39h3m42-26h3m-9-2h3m28 33h3m57-67h3m-60 31h3m-1-10h3m5 2h3m-26 9h3m-14 23h3m68-58h3m-112 79h3m-18 18h3m14-22h3m-16-5h3m51-48h3m53 13h3m-125 36h3m35-8h3m43-18h3m-84 47h3m47-32h3m116-60h3m-175 65h3m18 7h3m107-61h3m-104 55h3m-15-4h3m18-12h3m77-34h3m-83 59h3m82-65h3m-90 39h3m16-10h3m-59 23h3m63-13h3m47-42h3m-116 74h3m16-27h3m27 10h3m6-3h3m71-59h3m7 29h3m-70-17h3m-69 84h3m46-30h3m31-43h3m-71 18h3m18 11h3m68-45h3m-59 51h3m3-2h3m-70 10h3m72-9h3m-89 14h3m56-30h3m-14 7h3m10 0h3m41 2h3m-39-23h3m-25 29h3m38-37h3m-31 61h3m37-57h3m-62 28h3m-37 23h3m37-10h3m-8-24h3m128-43h3m-130 36h3m-13 13h3m117-53h3m-115 66h3m18-4h3m-45 24h3m95-70h3m-43 52h3m-40-1h3m78-39h3m-60 31h3m20-24h3m-31 20h3m-25-2h3m141-46h3m-137 68h3m-53-23h3m25 33h3m42-34h3m54-20h3m15-17h3m-143 51h3m96-27h3m-57 25h3m-11-13h3m95-13h3m-39 3h3m-47 39h3m-49-28h3m66-15h3m-43 21h3m-23 31h3m-10-27h3m-21 3h3m9 24h3m13-3h3m23-38h3m54-24h3m-53 34h3m-56 27h3m141-66h3m-89 41h3m-73 14h3m93-34h3m-49 29h3m-51 15h3m52-22h3m-45 13h3m19-7h3m104-46h3m-77 20h3m-63 58h3m92-56h3m40-17h3m-117 46h3m62-29h3m1-9h3m-77 39h3m21 3h3m-19 1h3m15-9h3m-23-12h3m42-4h3m-33-5h3m-29 44h3m127-74h3m-116 60h3m-16-7h3m45-38h3m-5 25h3m-12 13h3m-31-22h3m-24 24h3m145-58h3m-77 21h3m-38 22h3m-23 1h3m69-47h3m-83 55h3m3-13h3m43-6h3m-22 9h3m-37-2h3m66-10h3m3 0h3m-53 34h3m47-80h3m-68 40h3m-3 46h3m-27-27h3m34 3h3m-39 9h3m23-9h3m74-32h3m-23 15h3m-20 1h3m-27 39h3m41-37h3m-63 27h3m83-56h3m-114 69h3m3-13h3m-6-8h3m61-41h3m-17 13h3m12-3h3m-11 39h3m57-38h3m-11-29h3m-67 41h3m29-22h3m-49 39h3m22-22h3m-15 1h3m22 20h3m-5-6h3m1 0h3m48-24h3m-75 25h3m3 7h3m-34 0h3m29-17h3m-68 28h3m90-27h3m-87 35h3m95-66h3m-91 76h3m75-46h3m55-32h3m-114 48h3m-26 0h3m28-37h3m62 0h3m-99 65h3m-11-7h3m42-10h3m25-43h3m-63 49h3m35-35h3m2 10h3m-68 16h3m134-55h3m-52 43h3m-64 14h3m-22 0h3m56-6h3m-61-10h3m18 18h3m0 1h3m93-63h3m-113 50h3m-15 15h3m66-32h3m-59 33h3m17-26h3m36 3h3m-20-3h3m-54 6h3m114-37h3m-91 22h3m-46 39h3m69-21h3m45-30h3m8-30h3m-105 57h3m47-19h3m29-25h3m-27 12h3m-72 52h3m112-62h3m-78 20h3m-8 26h3m19-14h3m1 3h3m-42 0h3m-24 22h3m40-29h3m-56 35h3m28-31h3m32-16h3m74-39h3m-50 26h3m-76 41h3m14 4h3m-34 11h3m4-13h3m54-26h3m-49 36h3m-11-16h3m36-8h3m-17 24h3m26-41h3m-94 37h3m59-15h3m49-28h3m-87 40h3m13 15h3m-18 6h3m-11-10h3m34-13h3m34-15h3m-14-11h3m-60 34h3m96-60h3m-77 50h3m87-55h3m-5 25h3m0-9h3m-76 37h3m-29-2h3m1-3h3m104-52h3m-95 55h3m84-50h3m-140 79h3m151-94h3m-60 26h3m-69 35h3m-25 48h3m7-49h3m79-21h3m-72 51h3m92-71h3m-83 48h3m25-13h3m32-38h3m1 3h3m-111 69h3m26-19h3m-49 2h3m5 15h3m89-41h3m-88 51h3m100-64h3m12 19h3m-76 11h3m-17 10h3m44-22h3m-65 17h3m-15 7h3m16-14h3m97-20h3m-79 28h3m44-24h3m-65 26h3m23-34h3m-24 27h3m-46 22h3m19 2h3m45-23h3m-58 21h3m87-40h3m-21-5h3m66-16h3m-67 28h3m-42 32h3m55-33h3m22-42h3m-11 17h3m-134 45h3m30-18h3m101-47h3m-92 66h3m16-1h3m55-35h3m-27 4h3m22-8h3m-124 67h3m84-66h3m-10 23h3m-56 20h3m27-26h3m69-33h3m0 4h3m-29 12h3m-62 22h3m-35 28h3m57-24h3m94-33h3m-85 14h3m-74 24h3m132-44h3m-110 31h3m-9 23h3m-17 15h3m20-27h3m-4 7h3m21-5h3m-15 4h3m-30-7h3m65-56h3m-59 45h3m-16 13h3m-29 8h3m27-12h3m-51 34h3m36-32h3m-3-15h3m10 21h3m20-14h3m-7-5h3m23 13h3m38-5h3m-61 0h3m-58 34h3m21-6h3m11-36h3m-35 14h3m72-16h3m24-12h3m-132 56h3m71-35h3m90-61h3m-91 82h3m-40 12h3m42-28h3m27-19h3m-61 20h3m-15 6h3m28-11h3m51-34h3m-57 47h3m-37 12h3m106-67h3m-147 61h3m57-2h3m53-71h3m-101 79h3m9-27h3m114-34h3m-153 46h3m107-39h3m-27 20h3m-102 36h3m96-35h3m-75 13h3m152-51h3m-63-4h3m-11 12h3m53 14h3m-50 17h3m-93 12h3m18 2h3m0 12h3m-37-16h3m-13 42h3m115-71h3m-73 26h3m17 15h3m-5-7h3m-54 6h3m89-31h3m-17 31h3m-24-26h3m-64 37h3m124-66h3m-117 70h3m32-38h3m-67 32h3m63-36h3m-58 59h3m62-66h3m1 6h3m-58 47h3m-15-5h3m-23-5h3m128-43h3m-6 3h3m-25 3h3m53-12h3m-71 29h3m-80 14h3m13 17h3m39-50h3m28-2h3m-92 26h3m16 23h3m-26-1h3m15-24h3m-32 25h3m91-47h3m-5 16h3m-59 8h3m-6 10h3m13-10h3m49-9h3m-76 14h3m5 19h3m7-13h3m-32-9h3m93-18h3m18-17h3m-74 37h3m52-17h3m-116 32h3m-11-5h3m75-46h3m9 2h3m-17 14h3m-41 19h3m32-29h3m-4 3h3m8 18h3m-51 14h3m55-22h3m-76 35h3m-6-7h3m55-33h3m-6 17h3m15-36h3m30-19h3m-75 60h3m16 5h3m-5-31h3m-51 28h3m45-17h3m-65 48h3m138-65h3m-94 20h3m6 21h3m79-33h3m-100 33h3m-7-2h3m-30 6h3m-2 6h3m77-40h3m-98 30h3m17-15h3m108-15h3m-126 47h3m128-85h3m-51 37h3m-52 15h3m66-28h3m-49 36h3m49-18h3m-82 30h3m121-36h3m-72-12h3m-62 41h3m8-6h3m16-22h3m-64 42h3m39-17h3m18-32h3m58-9h3m20 11h3m-120 35h3m35-18h3m89-21h3m-122 42h3m2 6h3m-39 11h3m37-34h3m-47 33h3m129-54h3m-50 11h3m-59 24h3m91-61h3m-111 54h3m21-3h3m71-39h3m-90 36h3m13 11h3m-4 12h3m-27-4h3m87-57h3m13 15h3m-82 24h3m119-37h3m-155 49h3m6 6h3m55-42h3m9-12h3m-59 36h3m-28-2h3m21 1h3m-31 13h3m88-35h3m-35 5h3m-60 44h3m37-27h3m72-54h3m-12 26h3m58-32h3m-93 42h3m-42 14h3m-63 24h3m79-26h3m-25 3h3m2 0h3m30-20h3m-53 16h3m-39 45h3m54-39h3m33-42h3m-31 42h3m-26 18h3m89-72h3m-35 24h3m-11-2h3m21 6h3m-101 24h3m43-13h3m-53 29h3m19-7h3m26-20h3m-68 48h3m39-43h3m28-8h3m-47 41h3m43-46h3m6 19h3m34-41h3m-86 41h3m-6 3h3m-43 15h3m51-33h3m13 43h3m-51-8h3m33-22h3m46-16h3m-109 47h3m1 5h3m141-57h3m-96 27h3m-4 2h3m-12 12h3m48-41h3m-10 13h3m-55 23h3m38-15h3m-30 9h3m3 4h3m25-26h3m-54 33h3m-45 7h3m34-8h3m90-56h3m-105 62h3m84-76h3m-30 57h3m-58 9h3m-5-17h3m6 21h3m40-32h3m50 7h3m-140 24h3m73-6h3m-34-11h3m-19 18h3m27-3h3m-17-10h3m7 6h3m-22 1h3m-16 15h3m-1-12h3m-10 4h3m130-52h3m-93 43h3m-32 7h3m22-5h3m-45 5h3m57-24h3m-1-12h3m-5 26h3m-31-20h3m9 31h3m7-22h3m58-21h3m-50 21h3m-5-7h3m-15 15h3m-13-1h3m-43 9h3m102-44h3m-67 35h3m61-40h3m9 6h3m-32 24h3m66-37h3m-128 36h3m-40 31h3m43-15h3m-50 22h3m60-58h3m-28 35h3m-8-2h3m5 15h3m34-63h3m-88 47h3m58-16h3m42-18h3m-42 26h3m10 2h3m-4 16h3m-55 0h3m107-49h3m-81 26h3m70-17h3m-79 21h3m-7 7h3m-31 28h3m-11-3h3m54-73h3m38 24h3m-26-46h3m-85 85h3m40-31h3m-50 28h3m80-14h3m-64 34h3m22-31h3m-42 5h3m66-37h3m61 10h3m-41 14h3m-32-19h3m-47 15h3m20 53h3m61-58h3m-119 57h3m12-24h3m36-6h3m7-4h3m4-38h3m29 20h3m-55 12h3m-44-3h3m-20 5h3m78-38h3m-48 58h3m52-78h3m-19-9h3m40 48h3m-25-1h3m-45 25h3m36-18h3m-32 34h3m-32 4h3m23-35h3m16 12h3m-47 17h3m4-19h3m33 3h3m-82 7h3m-20-16h3m103 11h3m-87 10h3m104-46h3m8 43h3m-80-21h3m39 12h3m-62 18h3m-5 12h3m-5-36h3m12 2h3m-6 16h3m34-50h3m-66 64h3m59-43h3m-81 39h3m56 8h3m-5-34h3m-40 12h3m75-47h3m31-4h3m-96 65h3m2-5h3m-11 1h3m-11-48h3m54 6h3m69 15h3m-65-36h3m-38 34h3m-54 8h3m8-3h3m59-36h3m-65 69h3m80-43h3m-92-2h3m51 45h3m-49-27h3m36-14h3m-8 5h3m-3-5h3m-33 29h3m-16 7h3m40-22h3m71 6h3m-43-55h3m-18-5h3m-13 79h3m43-96h3m16 34h3m-96 63h3m29-57h3m20 24h3m8 20h3m-43 17h3m-27-26h3m4 0h3m-30 32h3m48-35h3m31-27h3m-60 21h3m41-21h3m-25-20h3m-57 45h3m112-10h3m-96 40h3m-32 18h3m72-70h3m33 9h3m-61 9h3m-50 15h3m37-25h3m35-39h3m-53 39h3m27-24h3m-42 45h3m56-13h3m-47 9h3m-28 38h3m79-49h3m-13-24h3m-28 9h3m-30 49h3m72-57h3m-68 26h3m-33-3h3m-4 36h3m14-17h3m-19 2h3m61-54h3m-62 70h3m47-31h3m-79 12h3m58 2h3m10-6h3m54-11h3m-22-18h3m-54 39h3m-8 10h3m10 21h3m-48-42h3m6 19h3m35-11h3m-6-43h3m72-24h3m1-15h3m-142 104h3m65-27h3m-37 7h3m-29 11h3m56-71h3m41 7h3m-101 62h3m15-12h3m67-58h3m-64 54h3m8-32h3m23-4h3m-31 45h3m35-45h3m-27 3h3m-22 31h3m-55-20h3m84-26h3m-67 37h3m-12 4h3m145-31h3m-94 0h3m-39 37h3m-17-2h3m122-65h3m-136 93h3m37-36h3m-15 21h3m44-5h3m41-53h3m-62 26h3m-28 12h3m-11-14h3m-2 39h3m39-71h3m-77 46h3m11 29h3m34-6h3m-18-52h3m67 19h3m-38-2h3m2-23h3m10 25h3m39-30h3m-26 27h3m-38-2h3m-71 54h3m49-47h3m74-46h3m-95 19h3m40 7h3m-25 20h3m32-10h3m-63 10h3m-22 43h3m30-26h3m-45 8h3m123-33h3m-69 28h3m-4 6h3m-81 3h3m77-24h3m41-7h3m-131 33h3m39-39h3m42 5h3m-65 10h3m49 5h3m-57 41h3m18-49h3m-15 28h3m110-63h3m-128 76h3m19-19h3m32-16h3m-60 12h3m74-32h3m-26 23h3m37-30h3m5 6h3m-76 15h3m1-1h3m-58 17h3m82-12h3m6-6h3m-54 55h3m-17-64h3m156-14h3m-138 45h3m55-73h3m-79 71h3m120-68h3m-74 33h3m45-56h3m-93 105h3m55-62h3m-52 51h3m-38-42h3m109 5h3m-119 71h3m51-70h3m-39 33h3m56-25h3m70-37h3m-36 19h3m8 22h3m-34 17h3m-21-33h3m-13 17h3m20-24h3m-88 49h3m42-19h3m14-12h3m-43 8h3m15-51h3m100 73h3m-89-34h3m-45 4h3m71-31h3m29 38h3m-110 2h3m33-4h3m-37-44h3m58 0h3m-30-12h3m33 36h3m-74 48h3m68 2h3m-101-32h3m36 9h3m-47 27h3m10-23h3m72 7h3m33-49h3m-57-21h3m-59 18h3m145 25h3m-124 27h3m-25-55h3m16 5h3m75 64h3m-96-33h3m-32-11h3m19-29h3m-60 249h3m35 0h3m-11 0h3m-6 0h3m3 0h3m-19 0h3m-26 0h3m41 0h3m-34 0h3m-9 0h3m9 0h3m-1 0h3m29 0h3m-56 0h3m43 0h3m-39 0h3m32 0h3m-18 0h3m-31 0h3m40 0h3m6 0h3m-43 0h3m-2 0h3m-11 0h3m0 0h3m-7 0h3m47 0h3m-36 0h3m-6 0h3m7 0h3"/><path d="M791 1781h3m-50 14h3m35 15h3m9 4h3m-6-12h3m-2 24h3m-3 14h3m-44-61h3m22 18h3m0 20h3m6 45h3m-18-58h3m39-13h3m-31 48h3m-19-34h3m17-4h3m-16-26h3m13-6h3m-10 35h3m-6 55h3m-41-70h3m33 1h3m18 19h3m-34-2h3m-18 1h3m17 44h3m13-44h3m-15 17h3m-12-60h3m1 78h3m25-62h3m-42 51h3m-2-4h3m0-2h3m9-12h3m-9 21h3m-5-12h3m7 3h3m-40-11h3m2-20h3m48 13h3m-23 2h3m-2-49h3m-14 81h3m6-11h3m-7-40h3m17-6h3m-5 22h3m2 35h3m-9-46h3m11 52h3m-55-24h3m4-19h3m23 19h3m-37-36h3m13 61h3m-9-20h3m-3-41h3m-9-6h3m8 25h3m15-25h3m-26 29h3m22-15h3m-2 2h3m8 65h3m-61-57h3m3 14h3m8 4h3m36 18h3m-16 14h3m-2-93h3m-36 106h3m-2-30h3m33-10h3m-17 2h3m16 1h3m-31-91h3m11 80h3m-8-55h3m-25 45h3m17 44h3m-5-119h3m5 87h3m-8 25h3m-10-50h3m8 9h3m-3-21h3m-4-1h3m-19 32h3m-1 5h3m9-48h3m-7 17h3m-6 20h3m18 19h3m-9-25h3m-7 2h3m4 31h3m-5-7h3m-30 4h3m11-70h3m5 38h3m-6 8h3m34 13h3m-26 39h3m-5-56h3m-36-42h3m27 75h3m-22-37h3m-22 4h3m66 27h3m-46-56h3m-5-11h3m42 74h3m-26-4h3m-15-31h3m-8 22h3m13 11h3m-14-10h3m-4 39h3m-4-47h3m-24 18h3m17-52h3m-2 16h3m-5 1h3m-8-13h3m18 11h3m-17 35h3m-6-53h3m-12 50h3m-7 1h3m4 15h3m-9-15h3m15-16h3m-28-24h3m8 66h3m3-31h3m-21 19h3m18-53h3m-8-7h3m-20 26h3m44-10h3m-49 6h3m21 12h3m-13-12h3m19 57h3m-37-36h3m9-46h3m-32 50h3m58 8h3m-27-18h3m36-16h3m-50 5h3m2-14h3m-17 32h3m9 28h3m0-42h3m-17 5h3m23-3h3m-15-9h3m-19-12h3m16-10h3m-21 7h3m-1 43h3m-19-68h3m22 57h3m-3-15h3m-3-6h3m21-5h3m-40 8h3m24-31h3m-23 55h3m-18 15h3m-10-30h3m14 21h3m-3-45h3m19 26h3m-34 11h3m29-70h3m0 21h3m-1-18h3m-19 34h3m-17 28h3m-3-69h3m7 58h3m19 24h3m0 1h3m8 4h3m-28-58h3m-25 58h3m13-59h3m32 47h3m0 11h3m-29-10h3m10-2h3m14-34h3m-69-28h3m23-8h3m-13 74h3m21-4h3m-1-42h3m-40 43h3m15-46h3m-6 33h3m-13-15h3m6 20h3m-2 15h3m-22 17h3m32-45h3m14-3h3m-43 20h3m32-29h3m-23 40h3m-20-58h3m5 69h3m19-31h3m-62 6h3m46-2h3m-4 47h3m-8-67h3m-24 33h3m-2-31h3m21 39h3m0 17h3m-36-74h3m16 19h3m-14 14h3m-9-37h3m36 39h3m-7 6h3m7-40h3m-38 80h3m-8-36h3m13-18h3m-11 1h3m-4 3h3m59 35h3m-39-53h3m-23 0h3m-3 12h3m-3 16h3m35-11h3m-19-22h3m-13 38h3m-2-20h3m35-25h3m-54 11h3m-4 8h3m24 11h3m-13-50h3m1 87h3m-9-6h3m-2-19h3m-26-52h3m16 58h3m-5-16h3m-24 44h3m12-37h3m-12-6h3m22 8h3m-21-56h3m33 6h3m-37 25h3m6 2h3m-16 55h3m16-53h3m10 16h3m-43-44h3m4 19h3m25-1h3m-55-40h3m29 67h3m7-7h3m-42-10h3m42 71h3m-2-86h3m6 47h3m-39-44h3m9 5h3m-13 43h3m0-10h3m24-28h3m-22-7h3m9 7h3m-37-26h3m-6 1h3m32 6h3m9 27h3m-3-6h3m-53 48h3m36-9h3m-21-19h3m-14 2h3m2-25h3m-8 9h3m-3 39h3m7-87h3m8 72h3m6 1h3m-40-49h3m-25 27h3m48-19h3m-13 22h3m-6-30h3m-25 26h3m23 12h3m3 9h3m-44-52h3m54 15h3m-16-2h3m-39 1h3m59 20h3m-23 21h3m-15-41h3m9 26h3m-32-31h3m28 24h3m-1-9h3m-2-6h3m-39 39h3m5-63h3m0 7h3m-20 2h3m7-21h3m16 64h3m-14 0h3m16-22h3m-41-30h3m2 43h3m25-3h3m-14-15h3m6-47h3m-19 58h3m14-31h3m-15 27h3m-2-5h3m11 34h3m-5-20h3m-7-13h3m-22-8h3m4 31h3m2-49h3m-2 38h3m0-6h3m-20-28h3m10-26h3m27 48h3m-33-23h3m-2 54h3m-4 8h3m-20-18h3m25 18h3m4-70h3m-29 34h3m26-19h3m-18 30h3m-18-13h3m25-28h3m-9 73h3m-20-61h3m-18 12h3m14 2h3m-6-11h3m3 11h3m21 69h3m-21-92h3m1 32h3m-33-34h3m18-1h3m3 10h3m29 8h3m-67 8h3m-3 2h3m20 17h3m-30-39h3m37 10h3m-5 16h3m-13-28h3m-31-6h3m23 23h3m-6 34h3m-1-14h3m-7-19h3m1-14h3m32 55h3m-43-50h3m21 32h3m26 15h3m-31-25h3m-20-18h3m3 26h3m13 7h3m-35-27h3m22 18h3m-25 22h3m17-28h3m-11-20h3m-20 28h3m-11-68h3m-23 20h3m39 42h3m-32 8h3m17 1h3m13-47h3m-11 65h3m-7-22h3m4 56h3m-1-33h3m-14 3h3m-5-35h3m-15 0h3m24-20h3m-15 6h3m-2 60h3m-1-13h3m1-61h3m-15 48h3m8-37h3m13-1h3m-28 1h3m-7-6h3m2 20h3m1-30h3m16 17h3m-30 42h3m-9-14h3m-5-24h3m39 31h3m-32-19h3m-6 36h3m22-4h3m-27-51h3m24 12h3m-16 37h3m-26-36h3m-5-47h3m28 86h3m-31-44h3m21-3h3m4 35h3m-15-23h3m8-31h3m-45 59h3m34-14h3m-1-39h3m-16-2h3m10 41h3m-15 8h3m-25-55h3m40 30h3m-4 9h3m-13-10h3m-5-8h3m-25 26h3m9-19h3m4 12h3m9 37h3m-6-44h3m-14 42h3m-28-12h3m60-27h3m-27 13h3m-23-23h3m0-18h3m-9-2h3m2 50h3m-24-29h3m27 65h3m-5-74h3m-7 30h3m-4-4h3m-8-17h3m19 3h3m-2-20h3m-30 83h3m-10-78h3m24 33h3m-25 32h3m31-41h3m-33-46h3m17 48h3m-14-10h3m-21-19h3m0 43h3m38-48h3m-42 36h3m11-24h3m-19 44h3m9-40h3m6 15h3m0 33h3m9 18h3m-35-54h3m15 28h3m17-5h3m-22-44h3m-9 37h3m-34-34h3m48 26h3m-25-15h3m-13 32h3m-28-58h3m17 24h3m9-15h3m-19-11h3m33-2h3m-2 44h3m5 20h3m-42-27h3m27 3h3m-19-13h3m-15-22h3m-2 2h3m-3 10h3m-9 41h3m-10-11h3m-1-31h3m5 32h3m15-4h3m-38-36h3m29 14h3m-22 29h3m-10 6h3m18-64h3m24 46h3m-34 20h3m-3-32h3m12 23h3m-10 3h3m24 25h3m-33-12h3m2-80h3m-35 57h3m7-9h3m-11-36h3m29 100h3m-26-76h3m14-14h3m-3 46h3m-2 6h3m-3-19h3m-12 4h3m5-28h3m2 31h3m12-1h3m-34-73h3m-2 65h3m31 17h3m-42-32h3m26-3h3m8 35h3m-27-3h3m18 13h3m-2 35h3m-26-59h3m-35 1h3m32 15h3m-11-56h3m-15 68h3m16-77h3m-12 69h3m-24-9h3m18-50h3m-15 46h3m14-49h3m8 78h3m7-11h3m-16-24h3m-10-2h3m-21 9h3m1-25h3m14 40h3m4-43h3m-21 38h3m-15-27h3m-8-19h3m38 50h3m-33 25h3m26-26h3m-28-51h3m3 32h3m-5 2h3m26 0h3m-27 10h3m20 35h3m-24-41h3m27-20h3m-19 21h3m21-24h3m-25 25h3m-48-32h3m37 15h3m-22 3h3m11 4h3m4-28h3m-6 47h3m-20-50h3m12 28h3m-17 44h3m12-49h3m-24-52h3m-2 43h3m31-24h3m25 78h3m-54-30h3m33-41h3m-49 20h3m-30-46h3m9 16h3m43 51h3m-5 19h3m-13-13h3m-55-84h3m40 134h3m-23-84h3m-3 10h3m17 84h3m52-71h3m-50 7h3m-3-3h3m-5 10h3m-27-64h3m42 92h3m4-10h3m-35 7h3m-6-21h3m13-15h3m-24-57h3m-11 78h3m15-23h3m24-57h3m-42 50h3m1-49h3m26 22h3m-20-23h3m35 119h3m-80-82h3m55 60h3m-50-67h3m34-2h3m-47 54h3m39-33h3m22 42h3m-31-89h3m4 65h3m2-59h3m-65 55h3m72-18h3m-15 16h3m-19 37h3m-18-3h3m12-18h3m-11-35h3m16 53h3m-44-73h3m-13-14h3m55 108h3m-5-129h3m-38 44h3m45 63h3m-55-79h3m2 48h3m17 4h3m-7-6h3m-18-71h3m48 151h3m-50-136h3m6 74h3m-10-48h3m-37 8h3m41 38h3m-30-48h3m36-11h3m-54-7h3m-6-45h3m46 34h3m-9 120h3m-41-121h3m-15 16h3m25 27h3m46-7h3m-19 77h3m-1-26h3m-22-15h3m5-13h3m3-90h3m-14 60h3m-28-18h3m-13 49h3m62-47h3m-59-25h3m20 49h3m11 25h3m-23 1h3m-11 1h3m41-8h3m-23 0h3m-25-33h3m-6 43h3m16-21h3m5-68h3m-6 6h3m0 89h3m-68-22h3m53 28h3m-46-38h3m18-15h3m69 77h3m-23-53h3m-18-19h3m-18 36h3m11 0h3m-18-3h3m-19-27h3m40 80h3m-43-110h3m-1 2h3m-34 10h3m26 0h3m-41 45h3m80 13h3m-71 14h3m49 39h3m-20-114h3m-19-31h3m5 56h3m-37 23h3m64-2h3m-42 17h3m18-65h3m-15-7h3m16 34h3m13-8h3m-36-45h3m10 58h3m-33 48h3m5-82h3m2 46h3m-22-21h3m17-4h3m43 23h3m-49-12h3m28 41h3m25 18h3m-100-38h3m60-7h3m-55 13h3m21-57h3m16 88h3m1-78h3m-28 7h3m27 59h3m-37-91h3m26 59h3m13 14h3m-48-3h3m2-22h3m-13-5h3m-4 54h3m-1-83h3m-26 44h3m46 1h3m16 0h3m-45-41h3m-1 39h3m-6-40h3m16 80h3m-15-63h3m10-74h3m25 119h3m-71-83h3m55 62h3m-35-32h3m15 49h3m8-2h3m-23-7h3m-24-1h3m88 55h3m-81-81h3m-21 6h3m22-52h3m-7 17h3m-30-31h3m47 109h3m17-47h3m-53 13h3m3 36h3m-21-26h3m16-51h3m-25 33h3m38-4h3m-2-4h3m22 38h3m-36 44h3m-27-19h3m45-32h3m-29-35h3m-16 86h3m56-21h3m-72-35h3m40-56h3m-53 90h3m29 73h3m10-56h3m-8 3h3m2-10h3m5 21h3m-2 10h3m-14-76h3m11 72h3m-36-25h3m18-5h3m-2 27h3m-2 6h3m-35-30h3m21-12h3m8 55h3m-16-18h3m-21-1h3m15 38h3m-21-56h3m26 0h3m-10-9h3m-19 5h3m33-38h3m-24 46h3m5 34h3m-37 25h3m6-77h3m6 11h3m11 25h3m-12-26h3m-5 15h3m-2-6h3m-5 56h3m-18-55h3m-5-7h3m33 29h3m-36-65h3m2 39h3m10 46h3m-10-99h3m9 90h3m-10-109h3m-7 77h3m-7 40h3m6 6h3m-8-43h3m2 13h3m2-69h3m8 57h3m-40-63h3m3 31h3m12-13h3m4 39h3m-27-33h3m-4 14h3m5-9h3m-2 59h3m-13-37h3m22 45h3m-41-19h3m19 4h3m7-32h3m-10 0h3m7 26h3m-17-5h3m-2 14h3m-1-10h3m5 4h3m-8-14h3m-6-24h3m7 25h3m-17-47h3m-6 58h3m-9-58h3m14 31h3m-15-20h3m14 52h3m-2-61h3m-7 3h3m-4-4h3m10 51h3m-13-4h3m2 11h3m19-46h3m-8 75h3m-41-43h3m8-28h3m0 29h3m-13-38h3m0 4h3m19 26h3m-24-57h3m-11 78h3m30-6h3m-29-26h3m3 49h3m-31-12h3m30-60h3m-17 4h3m40 38h3m-29-69h3m-37 59h3m18-5h3m9-48h3m-25 48h3m27 0h3m-21 3h3m0 16h3m7 20h3m-15-55h3m14 58h3m-21 17h3m-11-55h3m13 9h3m2 16h3m-8 8h3m16 1h3m-15-38h3m-38-5h3m33-6h3m-17-2h3m3 35h3m-12-11h3m-8 32h3m6-12h3m-26-20h3m14-12h3m6 50h3m-25-41h3m28 34h3m-3-84h3m-4 6h3m-14 45h3m8 46h3m-7-69h3m-8 87h3m-23-92h3m9 48h3m-30-67h3m27 19h3m4 68h3m11-45h3m-30-58h3m-9 21h3m2-10h3m18 27h3m-5 3h3m-4 5h3m-11 21h3m-24-35h3m52 56h3m-39-55h3m3 11h3m-10-7h3m4 44h3m-9-58h3m-19 10h3m24 62h3m-3-55h3m-10-51h3m12 82h3m-30 1h3m-7-11h3m2 17h3m33-50h3m-33-2h3m-9-3h3m23 59h3m-9-15h3m-25-66h3m-8 1h3m35 49h3m-28-11h3m12-2h3m-26 22h3m-1 30h3m5-55h3m9 10h3m2 30h3m-22 22h3m2-84h3m-8 60h3m1-47h3m-9 15h3m0 46h3m-3-20h3m16-14h3m-30 3h3m0-36h3m33 56h3m-26-10h3m26 34h3m-45 13h3m3-18h3m-2-65h3m4 54h3m-5 5h3m-2-25h3m-10 16h3m-18-7h3m20-14h3m-10-2h3m-10 16h3m-3-54h3m26 54h3m-46-86h3m-3 72h3m36 43h3m-30-52h3m-4-11h3m6 62h3m-7-66h3m10 31h3m-28 3h3m-12-6h3m42 7h3m-8 21h3m-5-29h3m-18 7h3m31 10h3m-36 21h3m-11-49h3m-2-42h3m4 13h3m17 81h3m-28-16h3m8-25h3m-14 39h3m-9-29h3m1 7h3m-3-34h3m5 29h3m-5-8h3m26 34h3m-49-79h3m20 51h3m8-32h3m-13 66h3m7-61h3m-18-14h3m30 53h3m-31-18h3m-15 13h3m-22-9h3m-4-11h3m52 55h3m-49-37h3m33-2h3m-3-74h3m-18 89h3m-29-53h3m3-2h3m23 15h3m-15-22h3m-6-18h3m2 89h3m13-24h3m-14-37h3m7 39h3m-3-41h3m-5-10h3m-27 39h3m-11-28h3m-6-33h3m17 50h3m1 10h3m-2 19h3m-13-41h3m5 27h3m-2-15h3m-14-41h3m16 78h3m-3-28h3m-13 33h3m28-19h3m-13 25h3m-13-30h3m-20-11h3m14-35h3m-21 42h3m7-43h3m-15 62h3m-20-4h3m41-33h3m-5 37h3m-12-85h3m6 105h3m-36-101h3m19 81h3m10-18h3m-20-9h3m4-5h3m1 26h3m-34-28h3m29 46h3m-10-39h3m-15 24h3m30-32h3m-39-12h3m19 30h3m-32 4h3m36-12h3m-2-22h3m-29 12h3m-1 2h3m-9-40h3m-9 29h3m-9 54h3m3-86h3m6 24h3m15 1h3m11 19h3m-39-12h3m21 27h3m-13-1h3m-1-1h3m2 44h3m5-54h3m-7-8h3m-6-5h3m8 26h3m-13-57h3m-15 69h3m-1-37h3m-15-24h3m-4 19h3m12 17h3m2-10h3m-10 15h3m-4-49h3m-9 39h3m-7-9h3m32 21h3m-55-31h3m18 37h3m-10-43h3m10 69h3m6-20h3m-38-57h3m28 0h3m-20 6h3m11 23h3m-15 46h3m11-14h3m-7-112h3m-17 66h3m19 7h3m-11 14h3m18-39h3m-23 33h3m-16-6h3m12 11h3m-28-17h3m25 0h3m2-18h3m-7 40h3m-21-18h3m-8 26h3m8 38h3m14-70h3m-26 61h3m-1-62h3m-7 18h3m20-5h3m-11-14h3m-19 29h3m9-36h3m-2 61h3m14 21h3m-21-83h3m2 52h3m-3 11h3m-14-17h3m1-52h3m7 56h3m-9 31h3m-35-23h3m3-1h3m12-34h3m14-45h3m8 19h3m-52 29h3m40 11h3m-49-2h3m18-31h3m17 26h3m-15-26h3m12 12h3m-2 18h3m-21 24h3m17-11h3m-47 4h3m10-84h3m6 89h3m21-10h3m-41-25h3m3-11h3m14 33h3m-26 20h3m2-52h3m25 31h3m13 26h3m-28-78h3m-21-2h3m-6 3h3m4-34h3m10 111h3m-3-24h3m-9-36h3m8 43h3m-29-59h3m19 53h3m7 34h3m-5-120h3m-26 94h3m-27-76h3m38 61h3m-17-42h3m35 46h3m-53-34h3m0-2h3m3-14h3m-14 11h3m23 21h3m-4-9h3m6 82h3m-2-97h3m-3 15h3m-28 1h3m-13-52h3m47 63h3m-64-57h3m21 121h3m-14-39h3m25-1h3m-25-29h3m8 66h3m41-63h3m-65 31h3m4-59h3m31 104h3m-24-92h3m-33 0h3m41 4h3m-33-15h3m12 44h3m-16-100h3m17 50h3m-7-28h3m21 86h3m17 11h3m-44-13h3m21 30h3m-30-76h3m-5-3h3m15 21h3m-59-61h3m11 57h3m54-46h3m-33 50h3m24 17h3m-51-32h3m23 39h3m-45-34h3m32-7h3m-14-6h3m4 47h3m11 27h3m-23-66h3m24-20h3m-27-45h3m21 123h3m-16-82h3m14 77h3m-26-93h3m13 27h3m-15 4h3m-35 38h3m35-33h3m24 59h3m-47-27h3m-10 33h3m30-24h3m-40-16h3m16 25h3m-6-88h3m0 66h3m1 53h3m32-85h3m-25 55h3m-34 19h3m34-12h3m-28 1h3m15-28h3m-27 31h3m26-5h3m-21 1h3m-14-103h3m-3 106h3m131-165h3m-7 2h3m-68 42h3m63-29h3m-15-34h3m-24 41h3m-9 8h3m-3 5h3m61-60h3m-86 57h3m59-23h3m19-12h3m-79 27h3m87-3h3m-15-27h3m-47 30h3m-45 1h3m-1-4h3m32-14h3m-3 21h3m-62 25h3m-3-5h3m22-19h3m-5-18h3m-2 15h3m108-62h3m-141 69h3m22-26h3m102-40h3m-91 68h3m79-50h3m-82 21h3m10 22h3m-46 33h3m104-69h3m-34 9h3m18-2h3m18-39h3m-99 48h3m2 0h3m9 8h3m43-29h3m-69 60h3m-9-27h3m36-24h3m-46 36h3m-23 16h3m52-22h3m31-23h3m28 6h3m-98 23h3m9 8h3m44-47h3m6 32h3m-23-24h3m-52 25h3m13-1h3m19-6h3m-65 21h3m25 2h3m-11-5h3m33-21h3m49-21h3m-126 39h3m35-7h3m41-33h3m15 20h3m-23-4h3m13 6h3m-60 26h3m8-8h3m-9-16h3m-5 33h3m-20-14h3m80-18h3m37-36h3m-92 36h3m-17 4h3m-45 18h3m90-42h3m-55 42h3m101-53h3m-114 52h3m10-5h3m54-33h3m-95 46h3m12-14h3m72-30h3m-23 25h3m3-16h3m-60 30h3m-17-10h3m-12 9h3m78-30h3m33-33h3m-54 16h3m9 6h3m-59 20h3m21 7h3m65-19h3m-73 21h3m79-31h3m-92 30h3m4-5h3m-14 9h3m113-89h3m-151 114h3m40-34h3m2-2h3m-49 14h3m111-51h3m7 13h3m-64-6h3m38 24h3m-107 25h3m29-19h3m18-14h3m25 16h3m-68 22h3m125-71h3m-132 62h3m15 9h3m24-32h3m26-36h3m-66 76h3m18-26h3m0-25h3m32 12h3m-78 27h3m-3-9h3m27-38h3m65 11h3m-60-12h3m-49 57h3m67-35h3m28-16h3m-52 13h3m33-2h3m-67 14h3m-14 29h3m16-17h3m-34 20h3m78-43h3m-83 21h3m0-3h3m69-25h3m-16 11h3m-8-2h3m-29 13h3m-25 4h3m0-4h3m0 11h3m20-17h3m-48 21h3m138-61h3m-35 6h3m-123 57h3m81-24h3m16-32h3m18 8h3m-105 30h3m117-34h3m-8-16h3m-84 52h3m36-28h3m-8 37h3m-60-8h3m-2 4h3m14 7h3m-4-11h3m-42-8h3m26 21h3m18-19h3m49-19h3m-11-13h3m-80 47h3m-6-23h3m20 14h3m83-18h3m-78 26h3m-41-7h3m56-24h3m15-7h3m-61 33h3m4-6h3m-22 5h3m-5 5h3m96-62h3m-122 56h3m74-42h3m-81 60h3m110-56h3m-61 28h3m-29 24h3m-10-18h3m48-7h3m-80 23h3m30-10h3m30-5h3m-30 13h3m-13-3h3m-10 0h3m-23 10h3m19-8h3m-7 4h3m103-56h3m-96 53h3m-5-4h3m59-47h3m-45 30h3m-23 3h3m122-50h3m-137 66h3m69-37h3m-16 31h3m22-51h3m-90 71h3m115-71h3m-113 60h3m-6-3h3m-32-7h3m95-45h3m-60 39h3m-8-5h3m68-21h3m-5-3h3m-65 36h3m5-30h3m132-21h3m-88 37h3m10-6h3m-80 31h3m-18-10h3m3-15h3m35 1h3m0-17h3m-47 27h3m22-19h3m-40 48h3m11-14h3m46-44h3m103-34h3m-153 92h3m3-16h3m19-9h3m38-53h3m-41 58h3m-45 2h3m47-41h3m-5 5h3m11-5h3m69-18h3m-85 38h3m-51 13h3m79-51h3m-46 31h3m-9 8h3m-4-17h3m-53 24h3m112-38h3m-102 51h3m-19 7h3m33-27h3m89-15h3m-80 3h3m-2 19h3m20-3h3m82-58h3m-96 53h3m-35 32h3m37-37h3m-76 9h3m11 23h3m107-72h3m-72 60h3m90-63h3m-32 5h3m-107 62h3m-5-13h3m100-22h3m-8 6h3m-34-9h3m-29 20h3m55-35h3m12-30h3m-113 78h3m69-29h3m-55 30h3m-22-5h3m133-66h3m-152 59h3m41 4h3m50-36h3m-87 37h3m13 8h3m44-39h3m-36 31h3m-29 25h3m-15 0h3m117-54h3m-25-39h3m-29 46h3m-43 54h3m101-72h3m-65 44h3m52-81h3m-70 45h3m-41 24h3m9 6h3m-21-2h3m-15 15h3m61-67h3m-57 40h3m46-9h3m-73 26h3m105-28h3m-102 32h3m10 3h3m28 2h3m24-38h3m55-29h3m-90 35h3m50-17h3m-98 46h3m-19-6h3m-11 6h3m17 24h3m18-20h3m66-62h3m-36 46h3m-5-2h3m37-48h3m-63 76h3m21-47h3m-22 27h3m48-47h3m-25 31h3m34-3h3m10-15h3m-33 3h3m-60 27h3m63-48h3m-75 32h3m66 18h3m-14-29h3m-2-9h3m-80 34h3m-14 9h3m76-44h3m21-17h3m-27 40h3m-35 11h3m90-64h3m-146 78h3m108-30h3m-22-15h3m-10-2h3m-69 38h3m66-21h3m-11-9h3m-8 13h3m-42-8h3m-12 34h3m41-29h3m-33 10h3m4-10h3m-11 16h3m10 18h3m-46-2h3m51-31h3m-25 10h3m-14-23h3m-14 37h3m-12 12h3m36-25h3m19-13h3m-61 38h3m73-69h3m-38 41h3m-2 15h3m-1-10h3m1-5h3m-51 3h3m6 10h3m35-2h3m31-43h3m11 9h3m-23 10h3m-64 24h3m6 2h3m3-3h3m13-23h3m-53 43h3m-11 4h3m8 15h3m87-50h3m-60 8h3m81-47h3m-92 30h3m5 22h3m10-22h3m34-25h3m-67 58h3m27 7h3m29-63h3m0 3h3m-21-6h3m-50 53h3m-38-14h3m36 20h3m-16-32h3m-24 30h3m82-51h3m-64 29h3m48-12h3m-51 23h3m5 5h3m-19 30h3m13-24h3m-47 2h3m7 5h3m124-66h3m-46 51h3m-80-5h3m59-10h3m81-65h3m-96 45h3m-75 25h3m115-43h3m-76 37h3m42-20h3m-77 30h3m46 16h3m-11-11h3m-57 7h3m49-15h3m-12 15h3m-45-9h3m69-12h3m-77 28h3m104-45h3m30-19h3m-113 54h3m9 5h3m-19-22h3m21-2h3m35-16h3m-31 23h3m10-6h3m-61 21h3m90-63h3m-63 28h3m-44 49h3m69-51h3m-70 45h3m-2-16h3m49-19h3m3 13h3m-42 11h3m110-46h3m-120 67h3m31-33h3m-59 35h3m13-7h3m24-19h3m-2-26h3m13-23h3m21 19h3m-71 42h3m-9-30h3m37-5h3m-24 18h3m16-12h3m3 7h3m34 13h3m-67 9h3m17-43h3m-17 33h3m5-1h3m31-17h3m68-14h3m-99 14h3m9-3h3m61-42h3m5-9h3m-105 62h3m61-29h3m-70 35h3m-14 7h3m28-4h3m-26-9h3m22-1h3m-14-9h3m21-2h3m53-35h3m-85 40h3m-18 44h3m12-45h3m47-22h3m-62 25h3m88-32h3m-114 65h3m23-21h3m-22 13h3m78-32h3m-69 10h3m64-20h3m-25 30h3m-58-2h3m-18 13h3m92-57h3m-15 21h3m-30 4h3m-25 30h3m13-33h3m-56 38h3m78-64h3m-73 59h3m65-26h3m-77 23h3m84-56h3m-43 40h3m-64 20h3m145-58h3m-146 59h3m51-27h3m-18-4h3m107-26h3m-125 34h3m79-12h3m-51 19h3m44-28h3m-84 45h3m94-49h3m29-8h3m-56 8h3m-2 10h3m-46 29h3m73-61h3m-98 56h3m16-10h3m-11 20h3m64-51h3m-126 43h3m58-22h3m-36 28h3m2 16h3m59-51h3m-49 31h3m-22 5h3m-24 27h3m53-44h3m86-45h3m-141 74h3m119-44h3m-52-6h3m19-12h3m-92 39h3m22-14h3m18 19h3m-66 14h3m8 3h3m10-16h3m-29 16h3m16-3h3m29-25h3m33-12h3m-6-1h3m-91 40h3m32-6h3m52-73h3m-41 43h3m31-15h3m-96 52h3m93-37h3m35-19h3m-64 27h3m-42 4h3m27-12h3m88-35h3m-58 34h3m51-46h3m-45 45h3m-87 14h3m4-3h3m27 6h3m-13-9h3m-34 26h3m100-51h3m-90 35h3m57 1h3m4-15h3m-57 15h3m78-60h3m-55 51h3m-77 22h3m75-45h3m9-17h3m-93 72h3m96-25h3m-12 0h3m-74 7h3m101-28h3m-70 18h3m-36-3h3m96-12h3m-70 25h3m56-53h3m-71 54h3m-31 2h3m-17-4h3m7-6h3m126-40h3m-137 54h3m42-24h3m72-32h3m-98 41h3m-32 15h3m23-22h3m63 8h3m-28 9h3m-13-50h3m45-8h3m-53 41h3m-38 18h3m63-24h3m7-7h3m32-5h3m-102 21h3m68-29h3m-13-4h3m-31 29h3m38-27h3m-66 31h3m-34 5h3m-24 22h3m22-8h3m84-76h3m27 9h3m-73 49h3m8-35h3m-56 45h3m-11 5h3m-12-1h3m107-16h3m-60 0h3m-38 17h3m6-11h3m-9 34h3m-7-24h3m12-13h3m-10 6h3m-1-4h3m30-11h3m-61 44h3m-5-7h3m18-16h3m106-66h3m-137 83h3m119-50h3m-118 25h3m-16 29h3m68-33h3m12-31h3m-87 55h3m65-42h3m-12-6h3m40 25h3m-46 2h3m19-26h3m-39 17h3m8-1h3m-29 13h3m-32 14h3m11-22h3m81-24h3m-95 45h3m142-53h3m-156 43h3m37-14h3m34-2h3m9-34h3m-82 66h3m83-18h3m-105-2h3m58-1h3m-68-13h3m65-23h3m-57 62h3m69-66h3m-46 41h3m60 0h3m12-51h3m-67 38h3m-11 30h3m-43-28h3m56 34h3m27-21h3m-32-38h3m67-1h3m-76 31h3m16 13h3m-42 13h3m-11-24h3m61-34h3m-80 12h3m95-40h3m-58 62h3m-67 0h3m118-15h3m-17-3h3m-103 6h3m62 6h3m-74 24h3m34 8h3m21-37h3m10 7h3m28-43h3m-62 49h3m-16-5h3m80-10h3m6-21h3m-33 26h3m-69 48h3m120-87h3m-137 53h3m30 5h3m-29 12h3m14 1h3m10-4h3m23-54h3m-64 86h3m58-48h3m-39 16h3m19-55h3m-57 66h3m32-31h3m21 19h3m54-52h3m-85 37h3m65-32h3m-120 54h3m59-68h3m-33 82h3m38-29h3m-30 3h3m-54-13h3m81-32h3m-41 28h3m-15 55h3m-39-47h3m160-48h3m-52 19h3m-55 18h3m16 11h3m32-11h3m-49-1h3m18 27h3m-14-6h3m-45 16h3m67-136h3m-62 140h3m95-97h3m-77 74h3m78-54h3m-65 5h3m-28 52h3m-39-2h3m100-9h3m-79 33h3m-56-43h3m32 35h3m4-8h3m67-6h3m-56-5h3m-30-1h3m-34-11h3m48 2h3m8 17h3m41-18h3m-7-1h3m-73 11h3m-22 12h3m163-35h3m-148 31h3m-3 26h3m86-97h3m-8 14h3m-47 30h3m-47 25h3m7 11h3m-25 0h3m108-50h3m-46 16h3m67-45h3m-54 7h3m-15 45h3m-62 14h3m18 7h3m107-67h3m-29-10h3m-100 74h3m37-43h3m-55 26h3m137-9h3m-161 43h3m5-19h3m66-74h3m-63 52h3m-30 26h3m114-67h3m-41 50h3m20-41h3m-63 94h3m61-42h3m-63-7h3m-3-30h3m1 32h3m55-61h3m-37 48h3m-3-1h3m-63 14h3m82-12h3m-82 30h3m-16 2h3m75-41h3m-14-17h3m-73 45h3m63 0h3m2-29h3m-60 29h3m15 1h3m-12 36h3m94-98h3m-103 34h3m49 22h3m39-39h3m-97 65h3m37-37h3m-45 15h3m-18 3h3m124-59h3m-78 50h3m54-14h3m-57 10h3m47-47h3m-36 27h3m-48 34h3m36 1h3m-58 25h3m-10 6h3m72-51h3m-43-2h3m20 7h3m-50-20h3m25 32h3m-30 22h3m15-22h3m-24-11h3m-13 11h3m147-57h3m-86 10h3m-17 27h3m10-19h3m103-20h3m-88 30h3m-2 7h3m-62 56h3m-20-32h3m121-34h3m-74-35h3m-67 73h3m78-50h3m42 5h3m-13-42h3m-101 92h3m100-53h3m-21-10h3m-18 3h3m-53 77h3m10-58h3m32-53h3m-43 50h3m-21 3h3m-40 12h3m15 22h3m108-31h3m-62 22h3m-19-47h3m2 6h3m32 18h3m43-35h3m-116 42h3m95-16h3m-36 41h3m-67-1h3m44-46h3m25-28h3m18 44h3m-124 16h3m84-14h3m-40 13h3m-16 5h3m30-17h3m-35 12h3m1-5h3m-19 5h3m30 3h3m-3 23h3m-30-64h3m38 44h3m-73-12h3m135-52h3m-114 16h3m31 33h3m-37-9h3m-24-27h3m74 14h3m-27 15h3m-18 28h3m14-70h3m36 48h3m-101-59h3m63 28h3m-43 29h3m16-5h3m24 3h3m56-24h3m-41-18h3m-52-13h3m-15-1h3m62 26h3m-106-7h3m84-3h3m51-8h3m-14 74h3m-127-78h3m32 33h3m-29-28h3m-16 33h3m105-13h3m-112-24h3m-60 242h3m-17 0h3m61 0h3m4 0h3m-22 0h3m2 0h3m-16 0h3m-23 0h3m0 0h3m-3 0h3m0 0h3m-25 0h3m10 0h3m41 0h3m-23 0h3m-18 0h3m-10 0h3m-4 0h3m50 0h3m-5 0h3m-64 0h3m49 0h3m-26 0h3m19 0h3m-21 0h3m12 0h3m1 0h3m-16 0h3m-14 0h3m-21 0h3m17 0h3m-27 0h3m-24 0h3m66 0h3m-24 0h3"/><path d="M265 2152h3m18 56h3m-9-40h3m0 2h3m-27-9h3m-14-24h3m31 35h3m-5 6h3m-2 12h3m-3 3h3m-12-26h3m10 6h3m-22-21h3m-5 8h3m9 18h3m-1-35h3m-7 24h3m-13 4h3m-7 20h3m29-7h3m2 3h3m-25-42h3m16 64h3m-27-15h3m-13-30h3m0 5h3m14 7h3m-10-16h3m-24 19h3m3-63h3m41 60h3m-35 13h3m3-1h3m-23-44h3m30 26h3m-15-19h3m4 19h3m-27-13h3m-6-25h3m-4 29h3m27 9h3m-21-11h3m6 3h3m12 10h3m-30-27h3m22 42h3m-38-24h3m31-15h3m15 9h3m-28 25h3m-6 2h3m-7-12h3m7-10h3m-9-13h3m-3 16h3m-7 12h3m-3-9h3m10 12h3m-20-37h3m1 22h3m-10-1h3m-6-22h3m2 25h3m-23-28h3m20 4h3m-9-10h3m0 18h3m7 17h3m-31 18h3m38-21h3m13-2h3m-50 2h3m10-7h3m21-8h3m-25-4h3m5-8h3m-9 26h3m-18-13h3m25 1h3m-27-4h3m48 32h3m-43-8h3m9-20h3m-6 14h3m-28-14h3m16 46h3m-8-46h3m-8-10h3m5 27h3m-11-37h3m14 49h3m-24-19h3m3 31h3m-15-3h3m-6-25h3m29 40h3m-24-63h3m-32 30h3m24-10h3m-34 2h3m49 22h3m-23-20h3m-13-31h3m31 31h3m-11 21h3m-8 0h3m2-1h3m-27 7h3m1-16h3m-8 9h3m24 12h3m-23-13h3m36 15h3m-35-37h3m8-4h3m22 24h3m-51-29h3m26 24h3m-15 3h3m10-23h3m-18 23h3m-11-17h3m22 1h3m-17-12h3m-32-16h3m46 25h3m-23 0h3m-29-34h3m41 58h3m2-27h3m-65-24h3m60 58h3m-13-31h3m-13 28h3m-8-36h3m-19 5h3m20 2h3m9 47h3m-31-27h3m20-42h3m-39-14h3m14 43h3m-14-39h3m-15 25h3m-5 52h3m38-40h3m-36-3h3m29 43h3m0-4h3m-8-46h3m-27 27h3m10-18h3m-3-5h3m8 4h3m-6-13h3m-23 33h3m-12-58h3m18 27h3m20 15h3m-28 4h3m-12 23h3m7-18h3m-12-9h3m22 11h3m-9 23h3m-14-39h3m7-10h3m-1 36h3m0-9h3m-17 20h3m-7-28h3m21-5h3m-35-1h3m18-2h3m-34 2h3m29-11h3m-25-2h3m12 0h3m-6 32h3m10-9h3m-10-29h3m-26 39h3m-12-23h3m14 7h3m-1 40h3m-1-31h3m27 5h3m-21 10h3m-9-29h3m2 18h3m5 1h3m-8 16h3m-21-47h3m19 23h3m-19-26h3m7-11h3m-4 21h3m-6 17h3m-11 3h3m25-7h3m-48-11h3m18-22h3m-18 35h3m32 10h3m-29-39h3m-7 12h3m22 16h3m-21-19h3m5 56h3m-33-85h3m-22 31h3m46 10h3m13 33h3m-33-38h3m23 37h3m-19-53h3m-8 13h3m-8 25h3m-6 2h3m10-23h3m14-6h3m-20 8h3m-16-7h3m15 4h3m-22-6h3m14 22h3m-6 7h3m9-8h3m11-15h3m-20-9h3m1-8h3m-24 50h3m7-10h3m-16-29h3m-7 36h3m20-42h3m12 26h3m-35 32h3m10-61h3m-32-14h3m-9 35h3m44 13h3m-25 9h3m27 7h3m-17-12h3m26-5h3m-4-3h3m-40-19h3m-13-6h3m-3 28h3m-4 4h3m0-9h3m1-23h3m4 21h3m-14 3h3m-5-21h3m6 17h3m11-6h3m15 27h3m-39-40h3m-2 7h3m-20-16h3m20 9h3m-17 5h3m18 7h3m-6 47h3m15-34h3m-22-13h3m-15-8h3m-14-11h3m5-2h3m20 32h3m-21 2h3m-17-5h3m0-19h3m24 26h3m-19-38h3m-21 5h3m6 4h3m11 33h3m-1-18h3m-8 2h3m6-4h3m3-5h3m-12 19h3m-8-7h3m19-16h3m-12 36h3m-22-50h3m-6-11h3m-12 33h3m4-14h3m-3 7h3m-3 9h3m8-15h3m26 30h3m-16 1h3m-23-17h3m-15 0h3m3-7h3m-8 4h3m18 11h3m3 9h3m-8-28h3m10 28h3m-23-7h3m14 14h3m-10-18h3m-21-40h3m-10 32h3m25 9h3m-1 22h3m-15-8h3m-14-20h3m-1-19h3m8 12h3m3 5h3m-30-2h3m6 4h3m1 40h3m-4-67h3m-16 25h3m32-15h3m-28 16h3m-16-13h3m13-2h3m-10 13h3m-1 4h3m13 7h3m-20-10h3m16 25h3m-30-31h3m34 29h3m-26 6h3m26-41h3m-3 9h3m-26-3h3m1 20h3m-13-46h3m-12 21h3m27 20h3m-41-17h3m27 19h3m19 18h3m-33 13h3m-20-22h3m3-28h3m13 21h3m-3-2h3m-4-17h3m-41 8h3m26 0h3m24-17h3m-10 46h3m-12-43h3m-16 3h3m10 32h3m-30-24h3m34 18h3m-33-25h3m8 14h3m-1-28h3m5 43h3m3-52h3m-3 16h3m-1 35h3m-32 11h3m4-10h3m-33-24h3m45-13h3m15 28h3m-62-10h3m39 30h3m-28-36h3m6-18h3m-19 36h3m15-21h3m24 8h3m-21 26h3m-26-25h3m2 22h3m11-46h3m10 49h3m-2 18h3m-37-61h3m40 11h3m-41 36h3m9-42h3m12 28h3m-7-16h3m-10 5h3m1 10h3m6 4h3m-19-19h3m-5-4h3m23 24h3m-20-2h3m22-7h3m-26 9h3m18 36h3m-14-45h3m-1-25h3m-45 8h3m14 31h3m1-30h3m-7-6h3m4 26h3m-15 8h3m-4-21h3m9 31h3m-8-40h3m-16 8h3m14 24h3m-2 4h3m-16-29h3m-1-11h3m7 15h3m19 2h3m10-7h3m-24 21h3m-11-20h3m-18-8h3m5 6h3m-15-14h3m14 39h3m-37-20h3m43 33h3m-21-21h3m4 12h3m-9-32h3m5-26h3m-13 34h3m1-18h3m-17 24h3m23-40h3m-10 70h3m10-46h3m-37 17h3m25-28h3m-44 14h3m34 8h3m-4 6h3m1 11h3m-3-19h3m-20-8h3m9 17h3m-23-36h3m14 13h3m-17 24h3m-8-19h3m30 53h3m-25-44h3m-14-21h3m-14 46h3m30-14h3m2-22h3m-16 9h3m-1 13h3m-11-34h3m17 58h3m-39-53h3m30 25h3m-11-1h3m-4-13h3m-9 5h3m13 22h3m-30-28h3m27 29h3m16 8h3m-45-46h3m15 38h3m-18-4h3m0-28h3m-1 32h3m-1-40h3m0 11h3m5 29h3m-23-10h3m-6 3h3m21-39h3m-10 2h3m-33-2h3m31 42h3m-11-5h3m19-8h3m-29-36h3m28 34h3m-45-8h3m16 19h3m6-28h3m-39-9h3m19 29h3m12-44h3m-44 31h3m22 19h3m-39-12h3m48 13h3m-36-5h3m22 1h3m-12-26h3m-23 14h3m5 24h3m21-33h3m-44 8h3m45-15h3m-28 20h3m12 34h3m-33-59h3m11 4h3m22-11h3m-49 9h3m54 35h3m-9-13h3m-19-14h3m-15 12h3m5 26h3m15-25h3m-14 6h3m-5 4h3m2-11h3m-2 13h3m-23-37h3m4 56h3m-24-52h3m40 19h3m-36 38h3m15-26h3m2-27h3m-22 24h3m0 3h3m-5-33h3m2 47h3m-24-33h3m23-28h3m-6 40h3m13 13h3m-16-2h3m-6-3h3m14-14h3m-13 23h3m-43-34h3m61 62h3m-55-46h3m1-47h3m-4 49h3m14-23h3m32 37h3m-16-32h3m-61-10h3m-16 15h3m26 18h3m6 29h3m-13 0h3m18-17h3m-28-35h3m4-13h3m33 29h3m5-13h3m-50-12h3m4 57h3m16-23h3m26 0h3m-14 29h3m2-44h3m-41-21h3m-23 51h3m63 19h3m-29-54h3m7 26h3m-23-52h3m19 58h3m-15-9h3m-31-69h3m49 74h3m-54-8h3m30-6h3m-27-13h3m-40 17h3m52-10h3m3 23h3m-76-60h3m45 52h3m34-8h3m-20-44h3m-15 1h3m6 14h3m18 33h3m-25-30h3m-6 28h3m43 39h3m-77-57h3m42 19h3m-38-41h3m-10 18h3m11 10h3m3 4h3m13 34h3m-64-84h3m61 35h3m-10 23h3m-4 9h3m-21-41h3m10 48h3m-41-49h3m20-26h3m37 85h3m-45-50h3m-16 12h3m19 34h3m-5-62h3m-20-20h3m44 95h3m-22-67h3m-5 46h3m17-31h3m-48 54h3m25 10h3m37-32h3m-59-14h3m-36-41h3m35 45h3m5 6h3m-18-77h3m16 0h3m21 91h3m-95-69h3m76 61h3m-32-52h3m36 47h3m-24-52h3m3 33h3m-19 3h3m-20-16h3m21 18h3m-26-6h3m35 41h3m-33-49h3m31 12h3m-25-21h3m-19 29h3m16 6h3m-17-13h3m-12 21h3m-14-41h3m-14-32h3m64 15h3m-19 51h3m-22-17h3m16 4h3m-41-4h3m23-6h3m46 39h3m-28-22h3m35 7h3m-67-32h3m7 59h3m-29-100h3m6 20h3m21 101h3m-27-88h3m11 65h3m-25-80h3m10-20h3m7 80h3m15-11h3m-3 6h3m-78-75h3m45 41h3m5 28h3m-51 23h3m55-14h3m-23-8h3m17 20h3m-19-4h3m13 0h3m-10-58h3m-29 37h3m27-71h3m-37 39h3m18 50h3m7-56h3m48 91h3m-30-39h3m-31-29h3m-16-9h3m-21 28h3m73 50h3m-96-89h3m62 73h3m-23-31h3m-9-69h3m16 34h3m-14 15h3m3-8h3m-29-2h3m23 71h3m6-27h3m-17 36h3m31-20h3m-40 32h3m-38-97h3m25 24h3m13 34h3m-12 12h3m7-57h3m16 33h3m-13-17h3m-37 14h3m26 12h3m8-52h3m-12 50h3m-54-31h3m72 14h3m-49-38h3m0 14h3m-9 42h3m4-54h3m-6 0h3m19 84h3m-4 23h3m-1-41h3m17 32h3m-32 47h3m3-122h3m0 84h3m-2-3h3m-19-18h3m5-4h3m18-19h3m-9 50h3m22 39h3m-34 21h3m3-62h3m3-24h3m-17 17h3m-1-25h3m-6 45h3m-28-86h3m16 69h3m-17-65h3m9 75h3m6-23h3m-6 7h3m-10-88h3m8 106h3m2-59h3m-27-15h3m46 89h3m-50-58h3m32 0h3m-14 73h3m-8-115h3m-18 45h3m6-26h3m21 58h3m-17 57h3m-10-33h3m-5-35h3m-20-44h3m36-20h3m-38 38h3m-3 27h3m11 6h3m1-2h3m2-8h3m-28-56h3m-4 104h3m-1-101h3m38 16h3m-37 27h3m-5-7h3m7 45h3m4-69h3m-6 79h3m-18-81h3m14 5h3m-17 14h3m-4 58h3m11-41h3m9 48h3m-22-19h3m-4-75h3m-3 78h3m-9-11h3m-20-53h3m9 17h3m18-26h3m-24 48h3m13-12h3m-13 10h3m-15-44h3m6 22h3m2 50h3m-10-104h3m-11 73h3m22-1h3m-26-16h3m20-1h3m-13 43h3m-6-28h3m0 6h3m3 27h3m-4-55h3m25-4h3m-44 25h3m10-1h3m-5-43h3m1 128h3m14-21h3m-7 10h3m-33-62h3m9 3h3m20 35h3m-30-91h3m7 32h3m-11 14h3m-13-4h3m11 19h3m12-2h3m18 0h3m-55-35h3m22 17h3m-7-1h3m-5 14h3m-11-36h3m7 67h3m5 0h3m-21-41h3m18-36h3m-27 3h3m-4-8h3m8-23h3m-1 79h3m-10-51h3m10 84h3m-20-34h3m30 57h3m-32-116h3m-10-17h3m13 79h3m-22-53h3m20 61h3m-22 9h3m12-27h3m-5 13h3m11 18h3m-24-26h3m11 54h3m-9-104h3m-7 56h3m-14 4h3m-6-25h3m29 36h3m-9 6h3m-3-35h3m-4-50h3m-13 52h3m-22-24h3m15 36h3m-3-4h3m-11-14h3m-2 41h3m23-36h3m-7 49h3m-16-80h3m-11 45h3m-17-41h3m-9-4h3m19 10h3m6 78h3m-13-27h3m-1-62h3m33 92h3m-27-6h3m0-45h3m-14-33h3m5 63h3m-7 9h3m-10-52h3m-10-3h3m12 7h3m-10 28h3m-9-34h3m9 21h3m-14 21h3m-1-60h3m-4-7h3m5 27h3m0 35h3m7-71h3m-12 35h3m5 36h3m-17-15h3m10-8h3m-15 20h3m-18-59h3m28 25h3m-15 6h3m-28-30h3m14-15h3m-5 50h3m11 16h3m8-20h3m-35 33h3m20 36h3m-2-62h3m-30-14h3m29-11h3m-13-8h3m-22 28h3m37-37h3m-41 25h3m-12-18h3m15 49h3m17-2h3m-38 14h3m14-23h3m-8-20h3m17 7h3m-27-36h3m25 92h3m-21-38h3m-30-79h3m20 75h3m16 1h3m-36-13h3m7-17h3m-2 87h3m8-46h3m-5-15h3m0-37h3m-7-15h3m-11 30h3m6 64h3m5-35h3m-32-32h3m-1-9h3m-3 30h3m15 0h3m-9 4h3m-12-100h3m3 63h3m35 66h3m-63-77h3m24 70h3m-15-24h3m20-31h3m2 47h3m-20-10h3m-4-24h3m-12 35h3m15-51h3m-16 11h3m10 65h3m-7-53h3m13 30h3m-28 17h3m-2-79h3m10 91h3m14-44h3m-39-29h3m17-8h3m-1 4h3m0 22h3m-24-55h3m3 54h3m-8 3h3m-4-19h3m18 3h3m-21 24h3m-10-37h3m16-9h3m-2 41h3m-4 16h3m-11 7h3m-2-33h3m-5-46h3m-7 58h3m-17-23h3m25 75h3m-27-101h3m-8 48h3m29-5h3m-34-82h3m40 148h3m-9-52h3m-14-17h3m23 18h3m-26-34h3m-23 11h3m-6-10h3m8 77h3m7-56h3m-13 9h3m7-24h3m4 94h3m-26-14h3m-24-124h3m18 42h3m12 48h3m-19-35h3m-2-27h3m-7-20h3m6 59h3m-6-24h3m5 53h3m2-57h3m15-41h3m-31 109h3m2-75h3m3 14h3m-22-11h3m-7-10h3m21 34h3m-2 1h3m-7-23h3m-6 29h3m-33 18h3m40-73h3m-34 3h3m39 51h3m-28-32h3m-3 17h3m0 40h3m-21-42h3m8 16h3m3 7h3m-20-40h3m20 47h3m-14-18h3m5-11h3m-6 43h3m-18-23h3m28-29h3m-35 35h3m17-22h3m-20 42h3m13-16h3m-3-52h3m2 91h3m24-34h3m-30-53h3m-2 24h3m-40-40h3m9 16h3m-7 11h3m3-74h3m7 44h3m20 31h3m-7 38h3m-28-82h3m9 66h3m2 55h3m-33-98h3m23 18h3m-7 59h3m-31-14h3m32-14h3m-12 11h3m-21-38h3m25 65h3m1-25h3m-30-104h3m-10 41h3m10 23h3m0 5h3m11 48h3m-17-43h3m-15 33h3m17-28h3m5-44h3m-22 73h3m24 4h3m-21-52h3m-16 27h3m18-8h3m4 30h3m-18-49h3m-6 24h3m-22-47h3m7 26h3m20-20h3m1 85h3m-7-38h3m-28-21h3m1 14h3m-6 7h3m29-78h3m-19 73h3m-22-60h3m15 26h3m9-9h3m-21 14h3m-18-9h3m8 12h3m22-23h3m-28 17h3m10 44h3m-29-63h3m15 114h3m-11-83h3m12-29h3m-8-1h3m-32 25h3m24-37h3m-24 30h3m31 3h3m-12 32h3m0 16h3m-7-63h3m8 8h3m2 50h3m-18-22h3m-45-55h3m11 16h3m46 39h3m-22 11h3m-13 26h3m5-30h3m-4 17h3m-16 28h3m-8-153h3m19 92h3m-6-34h3m-25 2h3m27 51h3m-17-40h3m5 3h3m1 56h3m3 0h3m-30-40h3m25 66h3m-22-81h3m-5 6h3m20 81h3m-7-74h3m8 47h3m-18-20h3m-1-51h3m-11 70h3m22 9h3m-40 19h3m4-83h3m-14-12h3m-5 24h3m-4-45h3m12 7h3m-1 44h3m-9 20h3m-9-16h3m12 21h3m2 8h3m-36-16h3m3-58h3m19-2h3m16 26h3m-22-7h3m-6 62h3m-9 13h3m-14-48h3m22 46h3m-44-61h3m30-101h3m33 175h3m-42-87h3m-20-24h3m8 52h3m3 13h3m-25-15h3m27 12h3m-6 18h3m-27-18h3m11-62h3m-43 58h3m9-87h3m19 91h3m21-127h3m-17 158h3m-25-88h3m27 45h3m-18-72h3m-7 49h3m24 62h3m5-10h3m2-15h3m-51-71h3m32 76h3m-28-76h3m15 37h3m2-1h3m26 38h3m-35-16h3m-13 65h3m-16-146h3m-3 61h3m0-31h3m2 70h3m-16-53h3m-4-62h3m8 116h3m-9 56h3m63 0h3m-25-24h3m5-33h3m-28-67h3m-11 67h3m-15-49h3m11 10h3m-27-29h3m55 64h3m-27 19h3m6-45h3m-23 28h3m-8-40h3m-10-9h3m17 22h3m8 54h3m-1 25h3m-27-48h3m-13-3h3m28-14h3m-6 8h3m-32 41h3m-39-163h3m45 177h3m0-6h3m-27-107h3m19 62h3m-42-59h3m39 83h3m31 37h3m-32-64h3m-1-123h3m-10 80h3m-39 12h3m38 68h3m-27-127h3m18 42h3m1 50h3m-50-19h3m55-2h3m12 63h3m-32 0h3m-35 20h3m8-57h3m27 7h3m27-12h3m-27-68h3m7 132h3m-15-29h3m-70-39h3m23 50h3m30 13h3m-11-82h3m-17-15h3m-8-13h3m-5-1h3m19 28h3m-25-15h3m29 10h3m-12-3h3m-33-77h3m33 38h3m-6 85h3m6 17h3m-20-103h3m0 13h3m4 120h3m-31-173h3m21 87h3m-9 38h3m-6 5h3m-37-99h3m13 33h3m11 38h3m13-8h3m-41-21h3m32-6h3m-19 79h3m-10-127h3m9-38h3m19 185h3m-23-173h3m8 43h3m-33 57h3m27 48h3m-72-91h3m46-29h3m12 133h3m-12-69h3m-20-72h3m7-23h3m-4 71h3m3-5h3m-8 40h3m-11-28h3m22 109h3m-17-48h3m6 27h3m-1 5h3m-22-8h3m7 3h3m0-29h3m-2 30h3m-2 4h3m-22-52h3m7 42h3m0-11h3m-1 10h3m12-15h3m2 21h3m-33-1h3m9-15h3m11 26h3m-1 6h3m-17-43h3m-12 25h3m19-1h3m-10 21h3m-23-44h3m22 34h3m-25-21h3m-16-5h3m25-36h3m-4 37h3m9-2h3m-31 3h3m23-36h3m-33 64h3m-1-15h3m-2-15h3m1 8h3m-1-5h3m4-8h3m4 15h3m-20 12h3m2-16h3m-8 18h3m3-53h3m0 36h3m-9 21h3m-6-38h3m-1 35h3m-1-45h3m12 43h3m-12-15h3m-15-10h3m10 32h3m-10-37h3m-14-14h3m6 50h3m4-31h3m14-6h3m-13 51h3m-33-17h3m9-32h3m7 7h3m10-7h3m-21 7h3m0 25h3m-8-13h3m0-35h3m7 20h3m17 23h3m-45-12h3m7 31h3m8-35h3m-21-5h3m-1 19h3m7 0h3m1-21h3m2-6h3m-30 4h3m-3 6h3m26-10h3m-15 4h3m22 28h3m-24-9h3m-6 21h3m-11-36h3m-5 43h3m40-73h3m-39 57h3m0-70h3m-5 49h3m-14-31h3m18 12h3m-24 18h3m7 17h3m-5-19h3m5-7h3m-7 8h3m39-159h3m28 16h3m-7-16h3m-34 35h3m93-57h3m-43-8h3m3 27h3m-35-8h3m5 14h3m-34 2h3m13 0h3m38-14h3m16-30h3m-45 25h3m16-32h3m-56 74h3m-4-17h3m108-69h3m-102 71h3m68-30h3m32-53h3m-58 66h3m-47-1h3m-23-6h3m91-42h3m-86 70h3m102-63h3m-103 51h3m31-12h3m-33 10h3m-20-5h3m50-23h3m-33 34h3m39-61h3m-56 36h3m28 0h3m49-17h3m-103 60h3m61-62h3m-41 38h3m-23 8h3m46-20h3m-6-15h3m18-9h3m-67 44h3m43-31h3m-52 36h3m29-21h3m-16 2h3m24-13h3m65-31h3m-89 36h3m44-40h3m-84 62h3m26-7h3m-6 6h3m0-34h3m59-3h3m-74 37h3m30-11h3m34-25h3m-61 45h3m95-79h3m-123 89h3m67-55h3m-74 38h3m69-51h3m37-10h3m-117 64h3m116-79h3m-97 53h3m53 4h3m-85 14h3m23 19h3m-19-21h3m105-50h3m-73 26h3m-42 30h3m41-33h3m-11 15h3m-59 22h3m66-24h3m-42 2h3m93-27h3m-96 28h3m1 0h3m-13 19h3m-24-4h3m8-16h3m-10 23h3m83-35h3m-67 27h3m-32 2h3m27-11h3m41-36h3m-17 30h3m-4-29h3m-48 49h3m-6 13h3m25-11h3m-30 5h3m39-18h3m-27-26h3m13 21h3m11-6h3m23-6h3m-73 19h3m6 0h3m53-53h3m11-4h3m-39 33h3m-48 24h3m-11-11h3m40-2h3m-39 5h3m61-44h3m7 8h3m-85 48h3m-13 9h3m5-7h3m4-4h3m127-51h3m-86 36h3m37-16h3m-67 7h3m92-31h3m-93 45h3m4-6h3m28 2h3m-49 11h3m22-43h3m-36 38h3m96-37h3m-65 13h3m-21 33h3m4-4h3m-49-8h3m29-7h3m90-56h3m-59 46h3m59-12h3m-19-7h3m-121 64h3m63-45h3m42-37h3m-52 47h3m-59 50h3m-6-46h3m9 12h3m44-5h3m-33 3h3m71-39h3m-23 9h3m-80 57h3m0-8h3m-10-13h3m3-17h3m41-5h3m27-10h3m-78 36h3m82-37h3m-84 43h3m103-47h3m-84 40h3m89-67h3m-35 18h3m-17 22h3m-51 24h3m67-40h3m-48 20h3m-68 32h3m52-47h3m16-4h3m-16 20h3m-54 35h3m-17-17h3m30-2h3m2-19h3m32-7h3m9-11h3m45 1h3m-83 50h3m32-32h3m-88 11h3m55-14h3m-45 11h3m11 7h3m87-40h3m-118 52h3m-13-2h3m104-60h3m-83 55h3m-10 3h3m35-11h3m10-4h3m-26 13h3m-15-26h3m36 19h3m-63-20h3m5 27h3m-3 5h3m92-40h3m-58 31h3m4-30h3m-36 1h3m22 7h3m32-29h3m-72 49h3m-12 17h3m100-45h3m-99 18h3m-25 24h3m59-38h3m-49 6h3m17 1h3m28-3h3m-57 45h3m50-30h3m57-42h3m-56 15h3m36 6h3m-92 34h3m81-64h3m-112 68h3m13 2h3m51-32h3m-35 39h3m13-31h3m5-16h3m-13 0h3m26 5h3m20-23h3m-90 67h3m48-40h3m-14 17h3m-48 23h3m52-33h3m8-32h3m-58 61h3m11-26h3m60-26h3m-1-4h3m-54 17h3m17 2h3m-71 17h3m56-10h3m49-40h3m-67 17h3m39 1h3m-17-2h3m-44 22h3m-23 18h3m-4-2h3m25-15h3m-21 11h3m4-23h3m24 14h3m12-24h3m-19 20h3m-55 39h3m36-36h3m-16 13h3m-11-8h3m42 0h3m-41 7h3m-17 3h3m27-22h3m9-1h3m-47 29h3m19-15h3m80-29h3m-60 6h3m-26 20h3m39-46h3m34-10h3m-58 68h3m-6-34h3m33-13h3m-87 49h3m1 3h3m34-37h3m-28 28h3m59-34h3m-24 16h3m39-34h3m-49 26h3m-53 34h3m38-3h3m-1-47h3m-50 43h3m50-38h3m17 9h3m-61 14h3m28 7h3m48-46h3m-36 33h3m-8-9h3m-9 11h3m26 7h3m-79 10h3m22-3h3m54-51h3m-69 47h3m-18 23h3m3-20h3m128-62h3m-105 49h3m70-50h3m-113 73h3m-13-11h3m9 25h3m8-37h3m-12 32h3m81-52h3m-80 48h3m63-28h3m-26 17h3m8-34h3m-13 3h3m-32 9h3m-41 47h3m33-24h3m36-17h3m9 0h3m-44 16h3m12-3h3m-43-16h3m82-60h3m-14 43h3m-45 19h3m-64 26h3m3 3h3m45-30h3m-19 39h3m26-47h3m-58 36h3m141-45h3m-118 23h3m7-24h3m18 14h3m1-5h3m-34 9h3m-40 48h3m49-30h3m-48 46h3m40-64h3m-25 27h3m43-15h3m-25-22h3m-18 32h3m35-37h3m-40 40h3m78-68h3m-54 26h3m-66 32h3m28-20h3m52-35h3m-55 58h3m-40 28h3m32-28h3m100-52h3m-123 44h3m17-15h3m21-9h3m6-1h3m-35 31h3m14-22h3m-40 28h3m5-24h3m19 13h3m10 0h3m-56 4h3m-7 25h3m4-13h3m22-29h3m-17 18h3m-7 8h3m65-26h3m-28 7h3m61-22h3m-47-1h3m-27 16h3m19-12h3m-62 32h3m48-12h3m-33 14h3m78-39h3m-14-12h3m-92 38h3m57-20h3m-83 37h3m30-11h3m-43-3h3m29 6h3m-38 11h3m106-48h3m-19 16h3m-84 11h3m68 2h3m34-44h3m-22 31h3m-39 35h3m-3-17h3m18-5h3m-9-17h3m47-25h3m-127 38h3m93-18h3m35 3h3m-121 34h3m-27 12h3m86-42h3m-9 1h3m-45 15h3m28-14h3m-62 43h3m56-45h3m-9 0h3m43-40h3m-79 71h3m-41 4h3m81-37h3m-70 31h3m86-48h3m-77 48h3m-8 2h3m-16 3h3m18-14h3m25 23h3m9-41h3m-50 24h3m-19 26h3m24-39h3m-24 6h3m54-19h3m1 10h3m-54 28h3m36-49h3m12 3h3m27-4h3m-103 28h3m7-1h3m46-5h3m59-57h3m-109 109h3m32-42h3m-9-7h3m-44 21h3m13-5h3m-21 11h3m-3 0h3m10-23h3m-19 1h3m95-31h3m-37 37h3m-69 14h3m47-18h3m-66 3h3m69-7h3m-17-20h3m-8 36h3m62-49h3m-10 10h3m-1-13h3m-71 66h3m-41-4h3m19-3h3m27-33h3m-16 14h3m-14 18h3m-10 17h3m54-58h3m-31 52h3m1-17h3m68-46h3m-51 39h3m-52 0h3m9-26h3m78 7h3m-105 41h3m-15-7h3m60-18h3m-1-14h3m-43 38h3m17-36h3m7-9h3m-1 18h3m-9-7h3m34-16h3m-2 7h3m-92 30h3m61-40h3m-31 21h3m39-8h3m-82 39h3m45-21h3m23 0h3m8-9h3m-72 12h3m115-34h3m-115 38h3m23-16h3m-48 13h3m41-13h3m84-48h3m-143 66h3m10 16h3m83-53h3m-81 44h3m-11 1h3m53-36h3m11 21h3m11-21h3m-80 29h3m43-17h3m-22-13h3m17 2h3m21-10h3m-51 3h3m7 12h3m75-26h3m-109 59h3m-18 10h3m130-99h3m-136 80h3m117-45h3m-102 22h3m20 13h3m7-36h3m62-2h3m-120 51h3m33-7h3m82-75h3m-135 90h3m28-4h3m74-82h3m-2 15h3m-73 35h3m-31 37h3m46-48h3m-33 47h3m27-21h3m3-20h3m-44 20h3m-8 10h3m22-13h3m-19-6h3m65-23h3m-19 19h3m-23-5h3m71-8h3m-50-17h3m-37 36h3m-20-1h3m-32 28h3m-4 6h3m107-71h3m16-15h3m-115 84h3m84-72h3m-5 22h3m-62 36h3m-53 4h3m16-18h3m24 5h3m-40-4h3m13-11h3m14 6h3m-28 28h3m34-21h3m-46 31h3m4-42h3m3 4h3m101-44h3m-124 72h3m40-33h3m20-21h3m-19 20h3m71-37h3m-79 36h3m40-14h3m-42 19h3m-18-3h3m13-7h3m-10 28h3m-40-11h3m4 15h3m31-10h3m-38 9h3m40-27h3m-22 4h3m-9 18h3m-4 24h3m-7-27h3m42-17h3m-27-11h3m55 6h3m-49 33h3m-47-9h3m-12 15h3m4-31h3m43-3h3m17-21h3m-24 12h3m-54 31h3m25 4h3m22-20h3m-37-8h3m-25 29h3m32-24h3m-13 22h3m35-63h3m-32 43h3m-17 23h3m46-59h3m-14 23h3m-7 3h3m9-11h3m-70 34h3m27-18h3m4 19h3m-20 5h3m-10-10h3m13-4h3m-9 28h3m-29-10h3m77-42h3m-9-27h3m-70 62h3m84-15h3m-29-28h3m-13 31h3m35-27h3m3-22h3m-94 27h3m25 45h3m-24-4h3m14-45h3m-9 31h3m-19 11h3m44-20h3m15-36h3m0 51h3m-12-35h3m57-11h3m-103 31h3m-36 13h3m47 9h3m-67-10h3m25 1h3m17 8h3m32-47h3m-18 30h3m72-34h3m-70 32h3m14-8h3m-67 6h3m-13 2h3m30-24h3m33-7h3m-83 45h3m127-80h3m-79 85h3m-44-1h3m5-7h3m118-59h3m-108 65h3m100-74h3m-86 43h3m-66 37h3m26-6h3m79-57h3m-95 72h3m61-51h3m29-27h3m-50 36h3m30-25h3m-60 41h3m-17 9h3m31-23h3m-5 9h3m19-30h3m46-25h3m-118 71h3m-8-3h3m13-11h3m60-37h3m10 30h3m6-21h3m-84 47h3m58-56h3m53 6h3m-50 24h3m-70 27h3m0-18h3m85-34h3m-67 10h3m17-4h3m-7 21h3m11-10h3m-47 17h3m60-57h3m-57 56h3m3 11h3m49-52h3m-78 42h3m0 1h3m-17 3h3m12-8h3m-11 9h3m-2 2h3m33-15h3m-37 23h3m62-44h3m-76 36h3m47-41h3m27-30h3m-9 56h3m-1-10h3m-23 7h3m-43 9h3m83-45h3m-93 31h3m-4 4h3m57-30h3m-14 49h3m-73-7h3m20 10h3m52-14h3m-62 0h3m21-10h3m-40 9h3m25-2h3m20-11h3m-25 22h3m47-36h3m-22 3h3m-47 28h3m8-30h3m-3 8h3m5 26h3m-13-15h3m60-47h3m-52 60h3m-37 5h3m36-7h3m0-16h3m16-8h3m-95 0h3m71 8h3m-67 36h3m86-83h3m-100 68h3m12-10h3m19-6h3m-22 32h3m65 1h3m-40-46h3m20 23h3m47-39h3m-52 15h3m-7 14h3m-78 0h3m65-34h3m-37 94h3m-7-47h3m1 23h3m124-62h3m-139 51h3m37-36h3m-40 25h3m11-6h3m0 35h3m45-80h3m-74 26h3m21 23h3m-2 27h3m-32-7h3m77-91h3m-66 104h3m58-72h3m-92 47h3m102-57h3m21 48h3m-63-27h3m69-2h3m-42-52h3m3 3h3m-60 38h3m-15 36h3m11-4h3m-52-7h3m11 20h3m27 9h3m49-12h3m-63-21h3m37 20h3m64-50h3m-17-14h3m-116 67h3m77-22h3m-88 28h3m10 34h3m-10-32h3m-5-26h3m89-19h3m-68 27h3m68-63h3m14-15h3m-108 81h3m-18 10h3m-20 7h3m34 0h3m-13-27h3m45-9h3m-71 4h3m-4 28h3m8-30h3m-8 57h3m26-1h3m82-79h3m-73 62h3m-54-4h3m41-7h3m-8-20h3m67 2h3m-41-59h3m42 43h3m-60 76h3m57-91h3m-79 5h3m65 13h3m-53 30h3m32-13h3m-63-42h3m-20 51h3m47 3h3m-49-22h3m4 43h3m34-37h3m-12 3h3m32-28h3m8 13h3m8-29h3m-6 34h3m-126 13h3m104-48h3m-28 38h3m-39 13h3m37-33h3m42 46h3m18-59h3m-83 29h3m34-34h3m-51 55h3m17-19h3m-73 33h3m43-6h3m-31-6h3m41-36h3m-41 0h3m21-21h3m-46 85h3m-13-34h3m125-49h3m-115 39h3m41 16h3m-25-26h3m18-6h3m-32 8h3m-26 18h3m53-2h3m-40-1h3m96-41h3m-116 30h3m38 41h3m25-61h3m-46 26h3m33-3h3m-26-11h3m8-31h3m65 22h3m-39-20h3m12 11h3m-52 35h3m22-55h3m-74 91h3m42-41h3m22-5h3m30-10h3m-73 24h3m30-52h3m-43 62h3m-37-6h3m0 12h3m20-59h3m60-11h3m-47 42h3m43 7h3m-72 6h3m26-21h3m-47 54h3m28-16h3m-11-14h3m3 8h3m-24 1h3m-3-1h3m43-54h3m-50 33h3m87 2h3m-40-26h3m-30 19h3m9 22h3m22-70h3m-13 68h3m-3-12h3m12-6h3m-14 23h3m-65 2h3m67-27h3m-52-4h3m-19 16h3m-18 9h3m-6 1h3m24 4h3m87-63h3m-49 42h3m58-24h3m-86 15h3m-19 8h3m81 2h3m-44 1h3m18-21h3m-102 36h3m65-48h3m-14 48h3m-35 13h3m34 8h3m-20-2h3m-7-14h3m20-24h3m-7-14h3m-21 11h3m54 15h3m-81-44h3m89 13h3m-115 43h3m36 12h3m9-10h3m3-30h3m-44 48h3m29-29h3m0-6h3m18 7h3m-37 36h3m4-66h3m-29 45h3m75-26h3m-87 19h3m45-12h3m-48 0h3m28-4h3m96-75h3m-66 71h3m-67 28h3m-8 10h3m-16-9h3m39-5h3m47-50h3m-43 29h3m26-7h3m-70 34h3m128-49h3m-6-3h3m-106 29h3m-33 28h3m43-43h3m-34 25h3m14 2h3m39-24h3m-25 25h3m2 3h3m-49-20h3m31-13h3m61-17h3m-100 56h3m13-51h3m-13 26h3m-12 11h3m81-9h3m-93 34h3m11-31h3m-6 59h3m13-85h3m22 23h3m59 23h3m-69-10h3m-59-36h3m101-6h3m-102-13h3m70-17h3m-29 52h3m17-53h3m19 86h3m-108-14h3m6 2h3m105-64h3m13-5h3m-50 28h3m12 53h3m-60-53h3m-40-31h3m10 4h3m88 83h3m-111-68h3m15 46h3m97 20h3m-9-42h3m-64-46h3m79 29h3m-96 9h3m-5 25h3m-20-52h3m84 47h3m-156 205h3m40 0h3m-14 0h3m-33 0h3m-1 0h3m40 0h3m-19 0h3m-34 0h3m8 0h3m26 0h3m-11 0h3m-36 0h3m33 0h3m8 0h3m-10 0h3m6 0h3m-26 0h3m-33 0h3m38 0h3m-28 0h3m28 0h3m-10 0h3m-7 0h3m8 0h3m-16 0h3m5 0h3m-6 0h3m-43 0h3m-3 0h3m-3 0h3"/><path d="M817 2183h3m14 8h3m-61-45h3m-11 11h3m19 60h3m-15-54h3m8 51h3m12-20h3m-21-10h3m-31-42h3m17 37h3m23 6h3m-37-2h3m44 20h3m-33-35h3m-2-5h3m58 12h3m-56 12h3m-4 13h3m-13-47h3m25 11h3m-40 13h3m-2 12h3m34-7h3m-15 8h3m-18-20h3m-3 6h3m-18-16h3m35 25h3m-12 2h3m2-4h3m-19-27h3m-16 23h3m-17-27h3m31-4h3m33 43h3m-57-13h3m21-10h3m-20 16h3m-1 0h3m-9 1h3m53 29h3m-49-58h3m-13 16h3m5 64h3m6-30h3m-2-49h3m-41 16h3m33 0h3m-10 0h3m27 16h3m-7-18h3m-24 44h3m-13-12h3m2-43h3m-15 41h3m7 3h3m40 3h3m-28-33h3m16 15h3m-12-10h3m-40 12h3m2-2h3m16 0h3m-44-23h3m35-4h3m-7 48h3m-20-26h3m-11-9h3m14 36h3m22 3h3m-24-34h3m48 30h3m-41-6h3m-17 1h3m2 11h3m39 29h3m-50-82h3m-13 43h3m-8-18h3m-20-15h3m41 41h3m-17-13h3m-25-54h3m22 15h3m13 47h3m-13-4h3m2 0h3m-4-17h3m-26-9h3m15 21h3m20-19h3m-47 7h3m6-21h3m45 14h3m-52-5h3m13 26h3m-4-6h3m-24-10h3m27-37h3m9 62h3m-34-40h3m15 12h3m2-11h3m10-30h3m-11 90h3m-57-66h3m14 32h3m-1-24h3m-30-40h3m28 23h3m3 38h3m-25-11h3m9-1h3m17 7h3m-14-26h3m-4 41h3m42-37h3m-22 34h3m9 14h3m-27-60h3m-9-24h3m-20 10h3m-8 7h3m1 52h3m-3-55h3m3 46h3m0 1h3m-8-10h3m23 1h3m13 21h3m-33-9h3m-16-17h3m-2 5h3m12 13h3m-7-62h3m12 67h3m-20-19h3m12 10h3m11 14h3m-48-39h3m8-9h3m-46 20h3m35-2h3m-21-32h3m40 28h3m-5 18h3m-12-6h3m38 3h3m-32 16h3m-41-48h3m7 29h3m47-7h3m-4 23h3m-35 10h3m-71-56h3m75 9h3m-49-3h3m52 58h3m-24-51h3m17-31h3m-24 71h3m-32-35h3m39 9h3m-10-11h3m-24-21h3m-9-6h3m0 39h3m22 8h3m-20-9h3m2 51h3m13-81h3m-25 38h3m-19 9h3m21 18h3m-37-15h3m18-9h3m22 1h3m18-12h3m-38 4h3m6-1h3m-18-38h3m-12-21h3m13 20h3m-3 58h3m39-29h3m-25-16h3m-11 32h3m-30-33h3m10-6h3m1 44h3m17-20h3m-1 33h3m-19-50h3m-12 0h3m12 26h3m-14 1h3m-18 16h3m44 22h3m-50-101h3m23 70h3m10 32h3m-46-61h3m22 8h3m-24 8h3m2-6h3m4-22h3m-19 28h3m-40-66h3m37 73h3m3 4h3m33-19h3m-49 4h3m3 2h3m35-3h3m-11 6h3m-51-18h3m50 62h3m-49-49h3m46 3h3m-39-16h3m14 15h3m-22-1h3m-8-24h3m18 54h3m-7-48h3m-5 0h3m-2 33h3m-6-9h3m-12-16h3m32 28h3m-18-14h3m-38-25h3m11 19h3m39-20h3m-29 39h3m1-29h3m-11-3h3m-11 32h3m22 10h3m-34-42h3m33 23h3m-40-4h3m31 33h3m-75-57h3m27 28h3m5-4h3m30 5h3m-11 13h3m14-22h3m-50-10h3m35 46h3m-14-50h3m-10 23h3m24-21h3m3 17h3m-54-11h3m16-12h3m-22 2h3m-2 15h3m12 14h3m-28-26h3m34 22h3m-21-28h3m8 11h3m-16-4h3m11 9h3m-7 15h3m-10-21h3m13 26h3m-19-35h3m29 43h3m-15-35h3m13 6h3m-67-11h3m18-12h3m45 47h3m-28-11h3m15 4h3m-20-7h3m-34-5h3m19 22h3m-24-49h3m1-3h3m-13 14h3m15 59h3m21-22h3m-35-33h3m-9 3h3m8 10h3m-1-26h3m2-5h3m21 45h3m15-9h3m-40-15h3m-3 21h3m9-37h3m13 62h3m-25-32h3m30 21h3m-58-56h3m19 45h3m12-9h3m-9 5h3m4-10h3m13 15h3m-37-15h3m42 13h3m-45 5h3m15-37h3m-27 5h3m41 78h3m-36-66h3m-27-23h3m1 38h3m12-23h3m-15 26h3m13 24h3m15-50h3m-33 6h3m14 21h3m-10-2h3m-23-60h3m27 28h3m-49 45h3m23-54h3m-9-11h3m11 47h3m-8-9h3m-17-71h3m8 88h3m-16-67h3m28 33h3m-14-11h3m-4 43h3m-27 0h3m2-40h3m18 53h3m-15-29h3m-4 14h3m3 13h3m-3-47h3m-11-12h3m28 42h3m-23-6h3m18 21h3m-34-5h3m-1-24h3m17 50h3m-20-55h3m-13 42h3m-12-46h3m27 8h3m-16 17h3m46-12h3m-27 26h3m-38-27h3m24 28h3m8-30h3m-30 4h3m35 16h3m-14 6h3m-13-15h3m12-20h3m-44 21h3m1-52h3m-39 66h3m53-30h3m-44 10h3m42 36h3m-20-70h3m0 32h3m-59-11h3m55 27h3m-13-37h3m59 78h3m-65-17h3m-20-44h3m38-29h3m-3 40h3m-40-25h3m15 17h3m-7-1h3m10-11h3m-33 14h3m-1-15h3m9-31h3m20 53h3m-55-25h3m55-3h3m-5 82h3m-37-59h3m-2 6h3m-13-37h3m15 38h3m17-6h3m0-19h3m-28 6h3m18 10h3m-10-37h3m-32 27h3m16 22h3m-31-67h3m43 80h3m-19-14h3m-35-30h3m60 17h3m-80-5h3m57 34h3m-34-45h3m7 9h3m-15-2h3m-4 8h3m29 8h3m-1-13h3m-19 2h3m9 11h3m-23-32h3m-17 30h3m44 15h3m-14 33h3m-7-50h3m-2-11h3m1 8h3m-15-33h3m-1 18h3m-13 8h3m-9 58h3m24-19h3m-27-33h3m24 4h3m-44-12h3m39 43h3m-5-96h3m-4 50h3m-21 2h3m25 14h3m-11 25h3m-2-12h3m10 9h3m-49-65h3m23 44h3m4 11h3m-23-30h3m-32-11h3m57 32h3m-62-36h3m19 12h3m18 42h3m-37-66h3m17 24h3m-12 0h3m5-5h3m-1 39h3m-2-25h3m-29-37h3m10 34h3m19-6h3m-25 1h3m3 18h3m19 14h3m-56-52h3m22 40h3m2 4h3m15 35h3m16-29h3m-37-16h3m34 28h3m-26 3h3m5-20h3m-34-51h3m6 53h3m-8-41h3m32 71h3m-31-69h3m-2 4h3m-3 27h3m2-1h3m18 36h3m-19-8h3m-6-30h3m-3 6h3m0 24h3m1-40h3m-3 53h3m-17-13h3m24-21h3m-11-29h3m-17-27h3m-10 49h3m11-23h3m-5 56h3m-8-34h3m13 27h3m8-9h3m-24-6h3m21-2h3m-8 5h3m-20-12h3m10-1h3m-13-27h3m-42 3h3m24 16h3m-11 12h3m-28-26h3m49 26h3m-1-23h3m-44 41h3m-8 11h3m16-5h3m-3-5h3m4-51h3m-37 8h3m23 27h3m-12-28h3m52 45h3m-69-25h3m32 0h3m-20-20h3m18-1h3m-31 43h3m28-17h3m-15 1h3m22-14h3m-24 3h3m-2 14h3m-13-28h3m-21-18h3m15 65h3m-17-62h3m17 74h3m-1-63h3m-44-15h3m18 20h3m39-11h3m-6 47h3m-30-54h3m2 21h3m-14 31h3m24-53h3m-54 21h3m42 69h3m-15-3h3m22-30h3m-57 7h3m63-2h3m-48-87h3m-12 36h3m-3 30h3m5 8h3m-31-25h3m45 22h3m-2-51h3m-30 20h3m36 49h3m3-39h3m-15 20h3m-28 9h3m29-27h3m-49-51h3m-19 48h3m60 20h3m-34-18h3m-13 13h3m19-2h3m-5-19h3m7 29h3m11-20h3m-55-4h3m77 35h3m1 69h3m-65-75h3m-46-69h3m21 7h3m58 55h3m-61 20h3m26 27h3m-51-19h3m33-9h3m5-24h3m14 25h3m-28-89h3m21 74h3m-35-44h3m6 88h3m-18-30h3m7-21h3m10-28h3m4 30h3m-34-42h3m31 92h3m36-54h3m-44 23h3m-7-19h3m10-41h3m-15 57h3m-1 1h3m-24 22h3m-26-74h3m75 72h3m-72 40h3m27-95h3m-22 73h3m-9-29h3m-11-11h3m-10 0h3m13 6h3m4-18h3m-65-93h3m47 93h3m-22-3h3m61 38h3m-18-38h3m-14-25h3m-25-60h3m-14 74h3m74 59h3m-60-68h3m27-17h3m-7-6h3m-71 11h3m28 87h3m36-83h3m21 73h3m-59-71h3m-11 82h3m31-52h3m-7-13h3m16 16h3m-66 16h3m28-22h3m22-52h3m-6 43h3m-33 6h3m40 10h3m-27-10h3m-32-10h3m0 39h3m26-35h3m-34-66h3m23 74h3m43-24h3m-53 28h3m26 18h3m-54-9h3m16-22h3m-36-24h3m26-10h3m3 28h3m1 22h3m15-95h3m-6 81h3m-8-16h3m-22 21h3m-26 26h3m9-69h3m51 48h3m32 7h3m-11 34h3m-74-44h3m-54-19h3m66 28h3m-13 31h3m-19-67h3m14-21h3m-30 99h3m42-47h3m-70-49h3m-5 18h3m66 0h3m-15 3h3m79 0h3m-89 37h3m-28-46h3m-19 2h3m51-22h3m-53 85h3m80-13h3m-78-34h3m11 49h3m-9-67h3m-2 32h3m17-15h3m-62-34h3m85 33h3m-44-1h3m5 10h3m-36 32h3m30-29h3m4 11h3m-26 40h3m-4-98h3m-18 1h3m34 92h3m-22-90h3m30 82h3m-14-1h3m-11-30h3m-16-11h3m33-21h3m35 71h3m-75-23h3m-27-82h3m45 84h3m-24-74h3m34 49h3m-14 4h3m0 13h3m-23-51h3m-1 31h3m48 42h3m-118-7h3m69-54h3m-19 15h3m-3-39h3m22 76h3m-11-1h3m41 47h3m-62-30h3m27-5h3m2 16h3m-23 70h3m11-32h3m-14 34h3m21-42h3m4-3h3m8-40h3m-51-8h3m9-10h3m-11-10h3m-4 44h3m28 53h3m-28-39h3m4 2h3m20-12h3m-35-8h3m-4 7h3m17 8h3m-26-20h3m20 75h3m-10-110h3m-3 64h3m-2-7h3m1-33h3m-1-23h3m-18 47h3m9 20h3m-10-42h3m-2-59h3m-16 65h3m-17-17h3m18 11h3m-5 17h3m-7-6h3m-5-23h3m-9 22h3m15-2h3m-17-25h3m9 20h3m13 10h3m-24-14h3m-2-20h3m-11 63h3m20-57h3m-30-35h3m3 105h3m10-48h3m-3 21h3m-36-81h3m24 9h3m-11 70h3m-3 31h3m11-4h3m2-85h3m-21 56h3m2-5h3m-21-2h3m11 53h3m24-51h3m-25-44h3m1 56h3m1-45h3m-13 38h3m2-57h3m1 55h3m-6 12h3m-11 2h3m7-62h3m-27-44h3m13 90h3m-12-30h3m47 40h3m-61-63h3m10 89h3m6-69h3m9 99h3m-11-90h3m-13 48h3m2-48h3m16 17h3m4 68h3m-49-63h3m14-45h3m7 84h3m-4-75h3m16 17h3m-22 59h3m-5-43h3m-10-9h3m13 19h3m-33-53h3m24 22h3m-8 8h3m10-5h3m1-37h3m-38 24h3m13 33h3m-15-50h3m18 78h3m-4-43h3m-12 0h3m-29 1h3m5-36h3m34 51h3m-38-7h3m10-36h3m-13 61h3m-12-38h3m10-14h3m32-32h3m-14 49h3m22 17h3m-40-66h3m0 66h3m-27-4h3m-4 32h3m24-20h3m-16 2h3m15 23h3m3-32h3m-34-51h3m5 29h3m21-1h3m4-5h3m-17 22h3m-2 13h3m-10-33h3m-36 1h3m34 44h3m-37-19h3m12-50h3m9 38h3m-2 13h3m-5 5h3m-27-36h3m11 34h3m29 37h3m-45-89h3m-9 6h3m9-31h3m3 126h3m-11-99h3m-8 33h3m23 7h3m-40-92h3m58 136h3m-14-5h3m-33-25h3m6 15h3m-5-15h3m19-65h3m-5 77h3m-11-27h3m3-30h3m-15-4h3m4 69h3m-29-86h3m26 75h3m-27-27h3m18-32h3m-35 80h3m20-57h3m-17-9h3m5 5h3m5 40h3m-11-3h3m10-31h3m-15 44h3m-2-22h3m-23-3h3m2 6h3m-12-19h3m25 15h3m2-36h3m-16-16h3m25 76h3m-38-64h3m21 44h3m-5-36h3m-25 30h3m6-23h3m-10-18h3m11-22h3m0 51h3m-2 51h3m-14-71h3m-3 76h3m-15-61h3m24 14h3m-29 0h3m17-46h3m0 109h3m-25-44h3m40-3h3m-27-11h3m-17-50h3m8 95h3m-28-75h3m24 12h3m-1 25h3m-31-31h3m17 68h3m-7-74h3m-2 3h3m20 16h3m-29 62h3m16 0h3m-23-72h3m6 4h3m-6-51h3m3 100h3m-3-37h3m-13-30h3m-3 75h3m-9-73h3m-19 26h3m21-70h3m2 73h3m15 57h3m1 0h3m-32-51h3m8-10h3m-5-11h3m-23 3h3m18 38h3m-1-52h3m-5 74h3m-11-35h3m-28-47h3m17 14h3m8 24h3m12 67h3m-3-75h3m15-19h3m-32 22h3m-26 25h3m9-46h3m17 34h3m-31-24h3m5 29h3m7 6h3m0-15h3m-4 42h3m-8-49h3m6-37h3m-34-5h3m27-18h3m-28 30h3m34-1h3m16 51h3m-54-67h3m4 34h3m15 25h3m-25-44h3m0 31h3m24 35h3m-24-63h3m-2 30h3m-5-48h3m40 104h3m-62-71h3m46 74h3m-26-21h3m-5-121h3m-34 38h3m9 20h3m-9 13h3m23-14h3m-37-6h3m39 27h3m-9 39h3m5-53h3m-33 9h3m27 6h3m-50-68h3m5 57h3m13 47h3m-19-83h3m22 79h3m-26-17h3m14-9h3m29 28h3m-35-118h3m45 104h3m-44-41h3m13 56h3m-22-18h3m-21-30h3m37-6h3m-8 17h3m-22-5h3m-2-12h3m-12 53h3m6-43h3m-39 11h3m4-39h3m33 20h3m-8 80h3m12-54h3m-13-29h3m-32-61h3m11 31h3m10 70h3m-13-73h3m2 46h3m-1 38h3m-7-25h3m-8 6h3m23-6h3m-49-13h3m20 25h3m12-13h3m6 37h3m-15-39h3m-31-70h3m22 68h3m10-22h3m-30-2h3m-18 32h3m24 44h3m14-52h3m-40 14h3m25-10h3m4-18h3m-32-22h3m-10 3h3m46 76h3m-23 10h3m-47-112h3m46 80h3m-9 1h3m-38-75h3m18 89h3m26-4h3m-27-14h3m9-35h3m-10 18h3m-3-9h3m-2-31h3m-14 58h3m-8-2h3m4-40h3m-4-29h3m-15 47h3m-13-94h3m34 139h3m7 11h3m-38-74h3m-4 7h3m-23 32h3m53 0h3m-10 27h3m-22-110h3m-20 10h3m6-12h3m16 51h3m-35 14h3m10-2h3m12-2h3m-8 67h3m-23-110h3m2 67h3m16-7h3m-15-35h3m2 3h3m-1 5h3m0 12h3m-13-1h3m-6 22h3m23-8h3m-14 13h3m-14-21h3m12-9h3m-16 19h3m-35-46h3m31 48h3m-8-46h3m2-11h3m7 31h3m-17 13h3m20 76h3m-14-79h3m5 53h3m0-69h3m-39-41h3m-19 3h3m47 31h3m-29-12h3m17 48h3m-4-19h3m-21-12h3m19-64h3m-7 116h3m-26-51h3m15 62h3m-31-58h3m26-21h3m-5 15h3m20 30h3m-14-13h3m-15-37h3m-45 26h3m45 4h3m15 73h3m-44-98h3m48 43h3m-53 15h3m11-27h3m-7-70h3m12 135h3m22-79h3m1 77h3m-59-22h3m20-97h3m22 101h3m-44-91h3m12 106h3m19-60h3m-39 43h3m13-21h3m13 58h3m30-74h3m-63 16h3m-6 43h3m10-12h3m44-55h3m-47 18h3m-22-43h3m23 15h3m-30-46h3m-1-9h3m14 62h3m41 64h3m-125-112h3m63 6h3m-15 39h3m-16-54h3m45 82h3m-28 9h3m2-44h3m-4 16h3m23 24h3m-43-10h3m11 65h3m4-73h3m-38-2h3m35 41h3m-33-37h3m0-52h3m20 73h3m2-84h3m-29 51h3m17-65h3m10 152h3m-44-95h3m-17 60h3m48-15h3m-15-64h3m-22 6h3m34 73h3m8-43h3m-36-30h3m-23-15h3m58 90h3m-69-35h3m-19-70h3m22 65h3m42 8h3m-63-71h3m15 25h3m21 29h3m19 77h3m-64-181h3m59 124h3m-34 36h3m45-128h3m-58 57h3m22 66h3m10-14h3m-15-64h3m-22-35h3m-15 137h3m0-42h3m-31-118h3m38 64h3m-12-13h3m2 45h3m3-29h3m-22-37h3m11-9h3m-30 3h3m22 54h3m-12-25h3m38-15h3m-33 68h3m-9-6h3m-7 10h3m4-62h3m37 60h3m-80-68h3m42 86h3m26 20h3m-59-87h3m1-9h3m48 80h3m-83-48h3m20 50h3m28-74h3m-44 5h3m36 56h3m-32-102h3m17 142h3m-3-187h3m14 89h3m-26 6h3m12-33h3m5 11h3m0 45h3m-13-27h3m24 27h3m0 23h3m-8 39h3m-47-118h3m44 52h3m-14 32h3m-31-10h3m54 16h3m-65-83h3m51 84h3m-45-38h3m-15 27h3m19 3h3m-17-35h3m5 1h3m42-13h3m-55-16h3m13 0h3m-24-34h3m155-91h3m-72 44h3m0 15h3m-8-26h3m-55 25h3m93-47h3m-27 8h3m-33 49h3m-3-11h3m71-13h3m-82-3h3m-47 40h3m90-58h3m-62 1h3m-51 37h3m22-18h3m87-2h3m-74-14h3m30 31h3m-69-4h3m92-41h3m-10 2h3m-66 32h3m41-30h3m-21 6h3m37 4h3m27 1h3m-83 27h3m42-15h3m-90 28h3m133-61h3m-18 19h3m-78 24h3m-41-18h3m64-10h3m32 8h3m-48 26h3m2-28h3m-17-16h3m58 11h3m2-8h3m1-26h3m-14 38h3m35-38h3m-123 71h3m61-59h3m-89 79h3m113-60h3m-103 46h3m15-18h3m-27 10h3m152-51h3m-184 76h3m129-70h3m10 7h3m19-20h3m14 16h3m-135 28h3m-40 39h3m71-53h3m-79 42h3m69-52h3m-22 29h3m26-35h3m8-5h3m-57 34h3m24-18h3m-59-2h3m56 6h3m-50 46h3m61-43h3m-19 22h3m36-36h3m-103 52h3m29-46h3m66-27h3m3 14h3m-123 51h3m57-9h3m-33 11h3m45-40h3m12-42h3m65 5h3m-117 32h3m4 38h3m16 2h3m-79 1h3m107-29h3m-111 21h3m39-11h3m96-19h3m-55 6h3m-57 25h3m-12 9h3m41-31h3m-65 45h3m103-61h3m-52 27h3m-52 43h3m8-19h3m16 6h3m74-80h3m-41 25h3m89-14h3m-108 23h3m30 1h3m-90 36h3m46-10h3m7-21h3m-66 33h3m116-36h3m-46 33h3m-44 2h3m-43 0h3m49-35h3m19-22h3m-67 58h3m32-24h3m-26 13h3m8 9h3m31-10h3m-16-12h3m-18-4h3m5 3h3m8-5h3m-53-1h3m3 53h3m10-54h3m41 4h3m-40 21h3m-21-1h3m20-2h3m-26-15h3m55-20h3m19 8h3m-1-2h3m-113 34h3m2 29h3m-17-16h3m81-33h3m3 4h3m53-61h3m2 16h3m-52 15h3m-73 18h3m64-20h3m-72 62h3m-1-10h3m22-27h3m-19 31h3m21-18h3m-31-13h3m78 1h3m-42-6h3m2-8h3m-67 41h3m101-51h3m-77 39h3m54-25h3m-65 20h3m-32 15h3m45-21h3m-23 8h3m36-22h3m-38 13h3m-36 9h3m17 15h3m39-30h3m66-37h3m-98 31h3m45 5h3m-99 27h3m80-21h3m-57 20h3m33-15h3m43-32h3m-110 41h3m5 15h3m3-3h3m35-55h3m-15 42h3m37 10h3m36-75h3m-1 34h3m-88 38h3m54-31h3m-32 25h3m37-28h3m-61 33h3m106-56h3m-48 27h3m-4 12h3m-39-6h3m-31 10h3m49-31h3m-55 49h3m-22-9h3m73-13h3m-73 2h3m-40 17h3m22 0h3m143-53h3m-27 41h3m-91-9h3m47-49h3m-47 22h3m29 14h3m-95 37h3m98-26h3m8-9h3m-96 25h3m122-45h3m-112 60h3m23-26h3m85-44h3m-47 36h3m-104 26h3m74-21h3m-76 27h3m80-30h3m-47-9h3m62 5h3m-56 49h3m-6-17h3m-37-16h3m21 12h3m11-13h3m21-10h3m-91 6h3m90 7h3m-30-27h3m-20 54h3m-42-19h3m8 6h3m-18 19h3m0-19h3m96-36h3m-73 5h3m69-19h3m-91 37h3m64-34h3m-73 24h3m60-21h3m-34 12h3m-29 20h3m-24 8h3m68-20h3m-42 25h3m60-9h3m-74 8h3m18-3h3m-14-8h3m93-39h3m-115 32h3m-2 31h3m-8-47h3m9 50h3m40-51h3m11 3h3m35-21h3m-1 31h3m9-35h3m-4-26h3m-141 89h3m-1-39h3m127-35h3m-71 48h3m-50 37h3m84-53h3m-19 5h3m-1 37h3m-47-15h3m86-56h3m-132 76h3m-1-11h3m42-26h3m9 2h3m8 19h3m16-16h3m-73-8h3m26 22h3m-8 0h3m-21-4h3m36-22h3m-50 37h3m35-43h3m5 26h3m8-28h3m56-28h3m-136 66h3m154-81h3m-90 67h3m6-20h3m-67 15h3m77-24h3m-95 54h3m56-24h3m62-23h3m23-29h3m-147 70h3m15-26h3m116-30h3m-93 38h3m74-64h3m-13 20h3m-41 29h3m-12 20h3m-33 7h3m-8-53h3m26 53h3m-33-10h3m126-62h3m-74 26h3m49 2h3m-82 15h3m53-24h3m-66 65h3m-34-3h3m22-21h3m-55 32h3m49-52h3m16-15h3m-19 2h3m41-18h3m-22 24h3m-85 46h3m7-11h3m-24 7h3m18 1h3m99-30h3m55-52h3m-96 50h3m17-19h3m-53 27h3m-2 28h3m-25-9h3m132-75h3m-149 67h3m100-45h3m-62 30h3m62-30h3m-42 0h3m-90 72h3m123-54h3m-39 6h3m-90 21h3m82-26h3m-98 47h3m33-15h3m-6 13h3m23-26h3m-49 21h3m68-19h3m-89 13h3m45-8h3m-32 7h3m70 1h3m-55 8h3m38-45h3m-66 59h3m86-66h3m-77 55h3m36-27h3m-78 23h3m92-24h3m-68 10h3m57-6h3m-69 2h3m107-50h3m-80 14h3m17 18h3m79-32h3m-166 49h3m38 4h3m9 6h3m-29 19h3m124-58h3m15-34h3m-95 40h3m-83 32h3m32-11h3m-16 23h3m67-19h3m-40 18h3m39-14h3m80-44h3m-139 54h3m52-43h3m-16 4h3m-3 8h3m-14 1h3m-36 8h3m24-1h3m-44 25h3m25-18h3m-12-9h3m94-19h3m-102 45h3m37-38h3m15 18h3m52-58h3m-80 29h3m-22 14h3m13 14h3m4-3h3m20-34h3m-15 42h3m-13-30h3m-60 50h3m35-24h3m87-18h3m1 0h3m1-17h3m-66-15h3m-62 64h3m58-39h3m5 17h3m-16-23h3m-10 27h3m47-26h3m-5 1h3m-61 10h3m-50 39h3m49-35h3m60-39h3m-145 63h3m58-21h3m70-35h3m-51 13h3m25 15h3m-83 25h3m28 2h3m90-17h3m-96 8h3m-52 4h3m-16 26h3m159-60h3m-70 23h3m-40-12h3m-3 16h3m-52 32h3m63-37h3m-1 16h3m11-43h3m35 0h3m-29 31h3m-45 22h3m77-60h3m-42 30h3m-72 31h3m23-32h3m57-29h3m-115 46h3m67-8h3m-1-1h3m-68 5h3m-18 27h3m60-36h3m-51 58h3m2-25h3m120-40h3m-81 20h3m-31 10h3m3-7h3m50-13h3m-52 6h3m55-34h3m-21 35h3m61-65h3m-121 98h3m-19-32h3m6 12h3m52-46h3m-54 17h3m-5 7h3m-32 23h3m86-41h3m15 18h3m-41-1h3m7-14h3m6 34h3m48-59h3m-87 52h3m-18 22h3m125-75h3m-104 44h3m-33-10h3m22 12h3m50 0h3m-103 1h3m67-17h3m17-5h3m-38 5h3m-30 23h3m68-25h3m-41-1h3m69-18h3m-28 31h3m-73 8h3m-37 47h3m48-46h3m1-14h3m31-32h3m8 2h3m-110 45h3m63 10h3m-48-9h3m100-55h3m-79 38h3m14 25h3m-28-2h3m44-18h3m22-28h3m-73 27h3m-7 12h3m-22 19h3m44-10h3m-20-27h3m-13 15h3m-1 15h3m7-24h3m-59 28h3m125-36h3m-56 8h3m-12 16h3m-50 6h3m7-18h3m-18 13h3m56-22h3m11 8h3m-5-6h3m14 4h3m30-40h3m-13 20h3m-57 15h3m-47 2h3m49 36h3m80-64h3m-19 2h3m-121 30h3m29 3h3m34-3h3m-33 4h3m7 10h3m35-23h3m4-15h3m-110 64h3m51-10h3m1-26h3m5-2h3m-92 38h3m85-29h3m-41 16h3m-23 1h3m-24 21h3m59-22h3m34-54h3m-14 11h3m-31 29h3m1 21h3m-65-8h3m49-9h3m-10 1h3m-24-5h3m25-26h3m-33 37h3m34-26h3m-47 20h3m20-10h3m39-37h3m72-1h3m-157 62h3m76-28h3m13-2h3m40-45h3m-69 55h3m-17 5h3m-67 25h3m174-100h3m-124 70h3m-12-4h3m-13 22h3m-1-20h3m88-33h3m-21 25h3m-27-8h3m-70 18h3m55-4h3m-6 13h3m49-53h3m-4-6h3m-29 55h3m-95 1h3m1 16h3m99-48h3m-26-6h3m-86 57h3m60-38h3m14 3h3m-65 32h3m-13 27h3m0-32h3m-15 4h3m-1-3h3m6-39h3m13 30h3m-7-8h3m-31 4h3m29-7h3m7 10h3m-3 17h3m-39-8h3m-7-16h3m65-25h3m16 19h3m-39 14h3m92-63h3m-129 63h3m14 1h3m19-17h3m92-60h3m-22 48h3m-113 31h3m56-19h3m-31 25h3m-6-16h3m46-26h3m-7-16h3m-23 16h3m-84 51h3m151-114h3m-132 75h3m-3 29h3m47-23h3m-66 19h3m34-6h3m-31-13h3m55-28h3m-51 39h3m23-24h3m19-2h3m-44 15h3m-23 17h3m65-33h3m-73 34h3m79-21h3m-75 40h3m59-54h3m-95 29h3m11 23h3m43-24h3m31-32h3m7-3h3m19 8h3m-29 9h3m-67-4h3m-5 39h3m36-29h3m29 9h3m-30-12h3m-69 7h3m8-11h3m163-33h3m-126 29h3m50-5h3m-82 10h3m2-3h3m-12 21h3m-21 28h3m2-38h3m158-44h3m-145 51h3m47-10h3m-48 24h3m19-24h3m-72 13h3m13 21h3m14-14h3m115-66h3m-82 33h3m-51 36h3m60-61h3m-52 50h3m46-49h3m-76 61h3m90-30h3m-64 6h3m-30-2h3m9 31h3m-38 7h3m111-37h3m-122 18h3m58-17h3m-15 11h3m-4 12h3m11-19h3m-30 24h3m93-19h3m-87 3h3m54-31h3m-74 37h3m7 3h3m43-36h3m-51 32h3m-16 24h3m-33-32h3m27 21h3m94-69h3m-85 59h3m-14-12h3m45-1h3m-33 6h3m80-32h3m-45 10h3m-53 41h3m-8-22h3m45-26h3m64-23h3m-33 25h3m-84 24h3m91-17h3m-97 29h3m29-12h3m51-39h3m-91 51h3m5-10h3m49-31h3m-76 34h3m38 2h3m-36 3h3m77-55h3m-33 12h3m-24 44h3m41-18h3m-91 30h3m73-35h3m-74 28h3m7 4h3m55-37h3m-75 32h3m30-26h3m-11 3h3m76-14h3m-47 21h3m34 1h3m31-29h3m-9-27h3m-125 98h3m4-1h3m35-48h3m1 17h3m-64 8h3m56-54h3m-7 50h3m81-47h3m-57-5h3m-97 45h3m75-53h3m80 14h3m-96 43h3m42-28h3m-14 1h3m-90 40h3m88-20h3m-22 3h3m-11-38h3m60-1h3m-147 29h3m183-62h3m-173 57h3m118 2h3m-100 17h3m-39 0h3m64-2h3m42-35h3m-5 6h3m-100 26h3m3 4h3m54-29h3m-58 14h3m49-31h3m0 9h3m-1 16h3m-55 8h3m98-43h3m-30 28h3m-84 41h3m65-36h3m2-6h3m-31 14h3m-1-35h3m41 21h3m31-43h3m-124 68h3m6-6h3m47-37h3m-18 50h3m52-37h3m-35-12h3m65-43h3m-146 85h3m2 6h3m37-34h3m-19 35h3m35 7h3m-76 1h3m10-19h3m88-44h3m34-3h3m-63 36h3m-49 13h3m9 2h3m19-15h3m20-25h3m23 23h3m-71-10h3m34 15h3m-40 15h3m9-28h3m15 5h3m-41 38h3m-39-2h3m9-31h3m131-60h3m-109 68h3m45-13h3m-50 29h3m11-21h3m-36 27h3m36-47h3m-18 28h3m25 1h3m-5-14h3m-76 49h3m52-40h3m60-25h3m-60 19h3m-14 7h3m-20 6h3m-18 0h3m-25 2h3m28-7h3m-18 12h3m59-42h3m-43 30h3m50-20h3m-68 20h3m57-24h3m-65 32h3m-13 2h3m-15 15h3m120-52h3m-102 20h3m88-7h3m-116 29h3m86-46h3m6-12h3m-83 56h3m56-36h3m14 12h3m26 4h3m-90 26h3m-36 13h3m-1-55h3m0 47h3m64-43h3m42-12h3m-126 53h3m-13-45h3m123 3h3m-114 21h3m19-16h3m162-12h3m-94 54h3m-39-21h3m1 10h3m-64-9h3m8-3h3m28-4h3m-46 3h3m3-7h3m53 1h3m69-24h3m-71 10h3m99-9h3m-98-1h3m17 30h3m-3-40h3m30 13h3m-146 38h3m14 35h3m61-21h3m-18-15h3m-59 14h3m51-40h3m13-8h3m-57-13h3m33 16h3m-14 25h3m10-35h3m70 37h3m-107 1h3m-3 4h3m71-34h3m-19-27h3m-91 44h3m72 19h3m-56-20h3m43-44h3m63 41h3m-53 11h3m-56-23h3m-3 13h3m67-63h3m-80 66h3m85 27h3m-47-9h3m-51-43h3m143-32h3m-176 58h3m87-13h3m14 15h3m-51 24h3m96-81h3m-112 28h3m12 17h3m46-54h3m-107 70h3m76 9h3m-73 9h3m17-10h3m-35-12h3m71-21h3m-12-25h3m5 21h3m-78-3h3m26 12h3m103-5h3m-113 53h3m26-27h3m-51-5h3m114-21h3m-82 22h3m38-5h3m19-66h3m-15 48h3m-39 44h3m-30 2h3m45 13h3m43-83h3m-79 66h3m89-16h3m-92 19h3m31-1h3m-12-69h3m19 61h3m16-35h3m6 37h3m18-45h3m-117 43h3m76-33h3m-114 10h3m76 31h3m-76-6h3m55 0h3m-30-23h3m132-20h3m-100 62h3m43-73h3m-55 34h3m-80 19h3m24-29h3m-7 33h3m63-32h3m-42 1h3m26-33h3m-40 12h3m47-12h3m28 32h3m-105 26h3m34 5h3m0-36h3m19 35h3m91-80h3m-108 95h3m6-35h3m-36 12h3m39-10h3m-49-9h3m128 10h3m-123 51h3m2-63h3m-57 13h3m148-32h3m-128 6h3m65 24h3m48-46h3m-80 75h3m-60 25h3m49-66h3m-14-8h3m5 8h3m10 42h3m41-44h3m-108 17h3m18 14h3m139-32h3m-165 64h3m74-72h3m-54 11h3m-15 50h3m54-43h3m6-23h3m-109 26h3m70 41h3m-59-30h3m61 23h3m3-47h3m-45 16h3m-16 2h3m1-8h3m136-27h3m-68-1h3m9 1h3m-110 43h3m99 3h3m-41-7h3m75-88h3m-6 34h3m-56 64h3m-64-35h3m32-6h3m83 18h3m-149 36h3m104-51h3m-75 56h3m-16-18h3m87 5h3m-123-12h3m122-34h3m-37-33h3m-45 85h3m4-51h3m-12 30h3m-24 0h3m95-33h3m-108 21h3m18 16h3m48-20h3m-23 41h3m-52 19h3m50-54h3m-59 41h3m96-101h3m-106 78h3m13 30h3m43-85h3m-41 59h3m84-48h3m-27-34h3m-94 67h3m175-65h3m-84-3h3m1 54h3m-79 9h3m115-1h3m-74 24h3m15-19h3m-25 32h3m60-37h3m-72-41h3m44 31h3m-41 27h3m-20 32h3m104-143h3m-86 109h3m63-20h3m-69 42h3m-12-76h3m-17 28h3m-66 25h3m161-58h3m-54 41h3m-84 5h3m-6 5h3m34-17h3m-20 27h3m-41 1h3m159-60h3m-80 2h3m48 28h3m-94-35h3m79 57h3m-101-39h3m134-8h3m-81 47h3m-29-39h3m-1 44h3m91-110h3m-159 63h3m6 36h3m35 11h3m15-4h3m27-30h3m-5-6h3m50 34h3m-92 8h3m25-55h3m-35 71h3m93-51h3m-122 31h3m49-25h3m-98-12h3m42 1h3m-26 59h3m29-58h3m115-48h3m-126 44h3m30 41h3m-8-35h3m61 0h3m-26-2h3m-85 49h3m32-31h3m-66 36h3m48-58h3m-32 58h3m54-29h3m-40-11h3m58-19h3m-42 43h3m-49-50h3m47 40h3m37-48h3m-41 30h3m45 8h3m-70-12h3m-16-10h3m8-37h3m1 76h3m-43 6h3m-3-42h3m28 14h3m16 14h3m-34 36h3m125-113h3m-1 46h3m-119 47h3m-56-66h3m134-13h3m-84 56h3m8-28h3m-3 54h3m-43-51h3m57 39h3m-27-34h3m-57 35h3m5-21h3m104-2h3m27 3h3m-129 9h3m79-24h3m7 10h3m-95 3h3m10-55h3m14 39h3m-26 49h3m51-43h3m-58-34h3m117-4h3m4 48h3m-113-1h3m-13-42h3m25 49h3m64-42h3m-87 45h3m-62 196h3m13 0h3m-20 0h3m1 0h3m3 0h3m-4 0h3m-5 0h3m6 0h3m-34 0h3m-19 0h3m30 0h3m-11 0h3m-22 0h3m36 0h3m-3 0h3m-28 0h3m-6 0h3m14 0h3m-24 0h3m23 0h3m6 0h3m-24 0h3m-4 0h3m12 0h3m-16 0h3m18 0h3m0 0h3m-22 0h3m-20 0h3m18 0h3"/></g>
<rect x="42.6" y="25.5" width="88.3" height="62.9" fill="none" stroke="#999" stroke-width="0.9"/><path d="M40.0 32.6h2.6M41.3 43.4h1.3M41.3 40.7h1.3M41.3 38.7h1.3M41.3 37.2h1.3M41.3 36.0h1.3M41.3 35.0h1.3M41.3 34.1h1.3M41.3 33.3h1.3M40.0 47.8h2.6M41.3 58.6h1.3M41.3 55.9h1.3M41.3 53.9h1.3M41.3 52.4h1.3M41.3 51.2h1.3M41.3 50.2h1.3M41.3 49.3h1.3M41.3 48.5h1.3M40.0 63.7h2.6M41.3 74.5h1.3M41.3 71.8h1.3M41.3 69.8h1.3M41.3 68.3h1.3M41.3 67.1h1.3M41.3 66.1h1.3M41.3 65.2h1.3M41.3 64.4h1.3M40.0 79.2h2.6M41.3 87.3h1.3M41.3 85.3h1.3M41.3 83.8h1.3M41.3 82.6h1.3M41.3 81.6h1.3M41.3 80.7h1.3M41.3 79.9h1.3M41.3 28.0h1.3M45.1 88.4v1.5M48.5 88.4v1.5M51.9 88.4v1.5M55.4 88.4v1.5M58.8 88.4v2.6M62.2 88.4v1.5M65.6 88.4v1.5M69.0 88.4v1.5M72.5 88.4v1.5M75.9 88.4v2.6M79.3 88.4v1.5M82.7 88.4v1.5M86.1 88.4v1.5M89.6 88.4v1.5M93.0 88.4v2.6M96.4 88.4v1.5M99.8 88.4v1.5M103.2 88.4v1.5M106.7 88.4v1.5M110.1 88.4v2.6M113.5 88.4v1.5M116.9 88.4v1.5M120.3 88.4v1.5M123.8 88.4v1.5M127.2 88.4v2.6M130.6 88.4v1.5" stroke="#555" stroke-width="0.7" fill="none"/><rect x="64.3" y="31.2" width="45.3" height="23.9" fill="none" stroke="#b31848" stroke-width="1.2"/><text x="89.7" y="82.0" font-size="8.9">1 week</text><rect x="144.4" y="25.5" width="88.3" height="62.9" fill="none" stroke="#999" stroke-width="0.9"/><path d="M141.8 32.6h2.6M143.1 43.4h1.3M143.1 40.7h1.3M143.1 38.7h1.3M143.1 37.2h1.3M143.1 36.0h1.3M143.1 35.0h1.3M143.1 34.1h1.3M143.1 33.3h1.3M141.8 47.8h2.6M143.1 58.6h1.3M143.1 55.9h1.3M143.1 53.9h1.3M143.1 52.4h1.3M143.1 51.2h1.3M143.1 50.2h1.3M143.1 49.3h1.3M143.1 48.5h1.3M141.8 63.7h2.6M143.1 74.5h1.3M143.1 71.8h1.3M143.1 69.8h1.3M143.1 68.3h1.3M143.1 67.1h1.3M143.1 66.1h1.3M143.1 65.2h1.3M143.1 64.4h1.3M141.8 79.2h2.6M143.1 87.3h1.3M143.1 85.3h1.3M143.1 83.8h1.3M143.1 82.6h1.3M143.1 81.6h1.3M143.1 80.7h1.3M143.1 79.9h1.3M143.1 28.0h1.3M146.9 88.4v1.5M150.4 88.4v1.5M153.8 88.4v1.5M157.2 88.4v1.5M160.6 88.4v2.6M164.0 88.4v1.5M167.5 88.4v1.5M170.9 88.4v1.5M174.3 88.4v1.5M177.7 88.4v2.6M181.1 88.4v1.5M184.6 88.4v1.5M188.0 88.4v1.5M191.4 88.4v1.5M194.8 88.4v2.6M198.2 88.4v1.5M201.7 88.4v1.5M205.1 88.4v1.5M208.5 88.4v1.5M211.9 88.4v2.6M215.3 88.4v1.5M218.8 88.4v1.5M222.2 88.4v1.5M225.6 88.4v1.5M229.0 88.4v2.6M232.4 88.4v1.5" stroke="#555" stroke-width="0.7" fill="none"/><rect x="163.6" y="31.2" width="45.6" height="23.9" fill="none" stroke="#b31848" stroke-width="1.2"/><text x="184.0" y="82.0" font-size="8.9">7 weeks</text><rect x="42.6" y="100.5" width="88.3" height="62.9" fill="none" stroke="#999" stroke-width="0.9"/><path d="M40.0 107.6h2.6M41.3 118.4h1.3M41.3 115.7h1.3M41.3 113.8h1.3M41.3 112.3h1.3M41.3 111.1h1.3M41.3 110.0h1.3M41.3 109.1h1.3M41.3 108.4h1.3M40.0 122.8h2.6M41.3 133.6h1.3M41.3 130.9h1.3M41.3 129.0h1.3M41.3 127.5h1.3M41.3 126.3h1.3M41.3 125.2h1.3M41.3 124.3h1.3M41.3 123.6h1.3M40.0 138.8h2.6M41.3 149.5h1.3M41.3 146.8h1.3M41.3 144.9h1.3M41.3 143.4h1.3M41.3 142.2h1.3M41.3 141.1h1.3M41.3 140.2h1.3M41.3 139.5h1.3M40.0 154.2h2.6M41.3 162.3h1.3M41.3 160.4h1.3M41.3 158.9h1.3M41.3 157.7h1.3M41.3 156.6h1.3M41.3 155.7h1.3M41.3 155.0h1.3M41.3 103.0h1.3M45.1 163.4v1.5M48.5 163.4v1.5M51.9 163.4v1.5M55.4 163.4v1.5M58.8 163.4v2.6M62.2 163.4v1.5M65.6 163.4v1.5M69.0 163.4v1.5M72.5 163.4v1.5M75.9 163.4v2.6M79.3 163.4v1.5M82.7 163.4v1.5M86.1 163.4v1.5M89.6 163.4v1.5M93.0 163.4v2.6M96.4 163.4v1.5M99.8 163.4v1.5M103.2 163.4v1.5M106.7 163.4v1.5M110.1 163.4v2.6M113.5 163.4v1.5M116.9 163.4v1.5M120.3 163.4v1.5M123.8 163.4v1.5M127.2 163.4v2.6M130.6 163.4v1.5" stroke="#555" stroke-width="0.7" fill="none"/><rect x="64.3" y="106.5" width="45.3" height="24.0" fill="none" stroke="#b31848" stroke-width="1.2"/><text x="83.0" y="157.1" font-size="8.9">2 weeks</text><rect x="144.4" y="100.5" width="88.3" height="62.9" fill="none" stroke="#999" stroke-width="0.9"/><path d="M141.8 107.6h2.6M143.1 118.4h1.3M143.1 115.7h1.3M143.1 113.8h1.3M143.1 112.3h1.3M143.1 111.1h1.3M143.1 110.0h1.3M143.1 109.1h1.3M143.1 108.4h1.3M141.8 122.8h2.6M143.1 133.6h1.3M143.1 130.9h1.3M143.1 129.0h1.3M143.1 127.5h1.3M143.1 126.3h1.3M143.1 125.2h1.3M143.1 124.3h1.3M143.1 123.6h1.3M141.8 138.8h2.6M143.1 149.5h1.3M143.1 146.8h1.3M143.1 144.9h1.3M143.1 143.4h1.3M143.1 142.2h1.3M143.1 141.1h1.3M143.1 140.2h1.3M143.1 139.5h1.3M141.8 154.2h2.6M143.1 162.3h1.3M143.1 160.4h1.3M143.1 158.9h1.3M143.1 157.7h1.3M143.1 156.6h1.3M143.1 155.7h1.3M143.1 155.0h1.3M143.1 103.0h1.3M146.9 163.4v1.5M150.4 163.4v1.5M153.8 163.4v1.5M157.2 163.4v1.5M160.6 163.4v2.6M164.0 163.4v1.5M167.5 163.4v1.5M170.9 163.4v1.5M174.3 163.4v1.5M177.7 163.4v2.6M181.1 163.4v1.5M184.6 163.4v1.5M188.0 163.4v1.5M191.4 163.4v1.5M194.8 163.4v2.6M198.2 163.4v1.5M201.7 163.4v1.5M205.1 163.4v1.5M208.5 163.4v1.5M211.9 163.4v2.6M215.3 163.4v1.5M218.8 163.4v1.5M222.2 163.4v1.5M225.6 163.4v1.5M229.0 163.4v2.6M232.4 163.4v1.5" stroke="#555" stroke-width="0.7" fill="none"/><rect x="163.6" y="106.5" width="45.6" height="24.0" fill="none" stroke="#b31848" stroke-width="1.2"/><text x="183.4" y="157.1" font-size="8.9">8 weeks</text><rect x="42.6" y="176.2" width="88.3" height="62.9" fill="none" stroke="#999" stroke-width="0.9"/><path d="M40.0 183.3h2.6M41.3 194.1h1.3M41.3 191.4h1.3M41.3 189.4h1.3M41.3 187.9h1.3M41.3 186.7h1.3M41.3 185.7h1.3M41.3 184.8h1.3M41.3 184.0h1.3M40.0 198.5h2.6M41.3 209.3h1.3M41.3 206.6h1.3M41.3 204.6h1.3M41.3 203.1h1.3M41.3 201.9h1.3M41.3 200.9h1.3M41.3 200.0h1.3M41.3 199.2h1.3M40.0 214.4h2.6M41.3 225.2h1.3M41.3 222.5h1.3M41.3 220.5h1.3M41.3 219.0h1.3M41.3 217.8h1.3M41.3 216.8h1.3M41.3 215.9h1.3M41.3 215.1h1.3M40.0 229.9h2.6M41.3 238.0h1.3M41.3 236.0h1.3M41.3 234.5h1.3M41.3 233.3h1.3M41.3 232.3h1.3M41.3 231.4h1.3M41.3 230.6h1.3M41.3 178.7h1.3M45.1 239.1v1.5M48.5 239.1v1.5M51.9 239.1v1.5M55.4 239.1v1.5M58.8 239.1v2.6M62.2 239.1v1.5M65.6 239.1v1.5M69.0 239.1v1.5M72.5 239.1v1.5M75.9 239.1v2.6M79.3 239.1v1.5M82.7 239.1v1.5M86.1 239.1v1.5M89.6 239.1v1.5M93.0 239.1v2.6M96.4 239.1v1.5M99.8 239.1v1.5M103.2 239.1v1.5M106.7 239.1v1.5M110.1 239.1v2.6M113.5 239.1v1.5M116.9 239.1v1.5M120.3 239.1v1.5M123.8 239.1v1.5M127.2 239.1v2.6M130.6 239.1v1.5" stroke="#555" stroke-width="0.7" fill="none"/><rect x="64.3" y="184.1" width="45.3" height="23.7" fill="none" stroke="#b31848" stroke-width="1.2"/><text x="83.0" y="232.7" font-size="8.9">3 weeks</text><rect x="144.4" y="176.2" width="88.3" height="62.9" fill="none" stroke="#999" stroke-width="0.9"/><path d="M141.8 183.3h2.6M143.1 194.1h1.3M143.1 191.4h1.3M143.1 189.4h1.3M143.1 187.9h1.3M143.1 186.7h1.3M143.1 185.7h1.3M143.1 184.8h1.3M143.1 184.0h1.3M141.8 198.5h2.6M143.1 209.3h1.3M143.1 206.6h1.3M143.1 204.6h1.3M143.1 203.1h1.3M143.1 201.9h1.3M143.1 200.9h1.3M143.1 200.0h1.3M143.1 199.2h1.3M141.8 214.4h2.6M143.1 225.2h1.3M143.1 222.5h1.3M143.1 220.5h1.3M143.1 219.0h1.3M143.1 217.8h1.3M143.1 216.8h1.3M143.1 215.9h1.3M143.1 215.1h1.3M141.8 229.9h2.6M143.1 238.0h1.3M143.1 236.0h1.3M143.1 234.5h1.3M143.1 233.3h1.3M143.1 232.3h1.3M143.1 231.4h1.3M143.1 230.6h1.3M143.1 178.7h1.3M146.9 239.1v1.5M150.4 239.1v1.5M153.8 239.1v1.5M157.2 239.1v1.5M160.6 239.1v2.6M164.0 239.1v1.5M167.5 239.1v1.5M170.9 239.1v1.5M174.3 239.1v1.5M177.7 239.1v2.6M181.1 239.1v1.5M184.6 239.1v1.5M188.0 239.1v1.5M191.4 239.1v1.5M194.8 239.1v2.6M198.2 239.1v1.5M201.7 239.1v1.5M205.1 239.1v1.5M208.5 239.1v1.5M211.9 239.1v2.6M215.3 239.1v1.5M218.8 239.1v1.5M222.2 239.1v1.5M225.6 239.1v1.5M229.0 239.1v2.6M232.4 239.1v1.5" stroke="#555" stroke-width="0.7" fill="none"/><rect x="163.6" y="184.1" width="45.6" height="23.7" fill="none" stroke="#b31848" stroke-width="1.2"/><text x="183.4" y="232.7" font-size="8.9">9 weeks</text><rect x="42.6" y="251.5" width="88.3" height="62.9" fill="none" stroke="#999" stroke-width="0.9"/><path d="M40.0 258.6h2.6M41.3 269.4h1.3M41.3 266.7h1.3M41.3 264.7h1.3M41.3 263.2h1.3M41.3 262.0h1.3M41.3 261.0h1.3M41.3 260.1h1.3M41.3 259.3h1.3M40.0 273.8h2.6M41.3 284.6h1.3M41.3 281.9h1.3M41.3 279.9h1.3M41.3 278.4h1.3M41.3 277.2h1.3M41.3 276.2h1.3M41.3 275.3h1.3M41.3 274.5h1.3M40.0 289.7h2.6M41.3 300.5h1.3M41.3 297.8h1.3M41.3 295.8h1.3M41.3 294.3h1.3M41.3 293.1h1.3M41.3 292.1h1.3M41.3 291.2h1.3M41.3 290.4h1.3M40.0 305.2h2.6M41.3 313.3h1.3M41.3 311.3h1.3M41.3 309.8h1.3M41.3 308.6h1.3M41.3 307.6h1.3M41.3 306.7h1.3M41.3 305.9h1.3M41.3 254.0h1.3M45.1 314.4v1.5M48.5 314.4v1.5M51.9 314.4v1.5M55.4 314.4v1.5M58.8 314.4v2.6M62.2 314.4v1.5M65.6 314.4v1.5M69.0 314.4v1.5M72.5 314.4v1.5M75.9 314.4v2.6M79.3 314.4v1.5M82.7 314.4v1.5M86.1 314.4v1.5M89.6 314.4v1.5M93.0 314.4v2.6M96.4 314.4v1.5M99.8 314.4v1.5M103.2 314.4v1.5M106.7 314.4v1.5M110.1 314.4v2.6M113.5 314.4v1.5M116.9 314.4v1.5M120.3 314.4v1.5M123.8 314.4v1.5M127.2 314.4v2.6M130.6 314.4v1.5" stroke="#555" stroke-width="0.7" fill="none"/><rect x="64.3" y="260.2" width="45.3" height="23.8" fill="none" stroke="#b31848" stroke-width="1.2"/><text x="80.6" y="308.0" font-size="8.9">4 weeks</text><rect x="144.4" y="251.5" width="88.3" height="62.9" fill="none" stroke="#999" stroke-width="0.9"/><path d="M141.8 258.6h2.6M143.1 269.4h1.3M143.1 266.7h1.3M143.1 264.7h1.3M143.1 263.2h1.3M143.1 262.0h1.3M143.1 261.0h1.3M143.1 260.1h1.3M143.1 259.3h1.3M141.8 273.8h2.6M143.1 284.6h1.3M143.1 281.9h1.3M143.1 279.9h1.3M143.1 278.4h1.3M143.1 277.2h1.3M143.1 276.2h1.3M143.1 275.3h1.3M143.1 274.5h1.3M141.8 289.7h2.6M143.1 300.5h1.3M143.1 297.8h1.3M143.1 295.8h1.3M143.1 294.3h1.3M143.1 293.1h1.3M143.1 292.1h1.3M143.1 291.2h1.3M143.1 290.4h1.3M141.8 305.2h2.6M143.1 313.3h1.3M143.1 311.3h1.3M143.1 309.8h1.3M143.1 308.6h1.3M143.1 307.6h1.3M143.1 306.7h1.3M143.1 305.9h1.3M143.1 254.0h1.3M146.9 314.4v1.5M150.4 314.4v1.5M153.8 314.4v1.5M157.2 314.4v1.5M160.6 314.4v2.6M164.0 314.4v1.5M167.5 314.4v1.5M170.9 314.4v1.5M174.3 314.4v1.5M177.7 314.4v2.6M181.1 314.4v1.5M184.6 314.4v1.5M188.0 314.4v1.5M191.4 314.4v1.5M194.8 314.4v2.6M198.2 314.4v1.5M201.7 314.4v1.5M205.1 314.4v1.5M208.5 314.4v1.5M211.9 314.4v2.6M215.3 314.4v1.5M218.8 314.4v1.5M222.2 314.4v1.5M225.6 314.4v1.5M229.0 314.4v2.6M232.4 314.4v1.5" stroke="#555" stroke-width="0.7" fill="none"/><rect x="163.6" y="260.2" width="45.6" height="23.8" fill="none" stroke="#b31848" stroke-width="1.2"/><text x="175.7" y="308.0" font-size="8.9">10 weeks</text><rect x="42.6" y="327.0" width="88.3" height="62.9" fill="none" stroke="#999" stroke-width="0.9"/><path d="M40.0 334.1h2.6M41.3 344.9h1.3M41.3 342.2h1.3M41.3 340.2h1.3M41.3 338.7h1.3M41.3 337.5h1.3M41.3 336.5h1.3M41.3 335.6h1.3M41.3 334.8h1.3M40.0 349.3h2.6M41.3 360.1h1.3M41.3 357.4h1.3M41.3 355.4h1.3M41.3 353.9h1.3M41.3 352.7h1.3M41.3 351.7h1.3M41.3 350.8h1.3M41.3 350.0h1.3M40.0 365.2h2.6M41.3 376.0h1.3M41.3 373.3h1.3M41.3 371.3h1.3M41.3 369.8h1.3M41.3 368.6h1.3M41.3 367.6h1.3M41.3 366.7h1.3M41.3 365.9h1.3M40.0 380.7h2.6M41.3 388.8h1.3M41.3 386.8h1.3M41.3 385.3h1.3M41.3 384.1h1.3M41.3 383.1h1.3M41.3 382.2h1.3M41.3 381.4h1.3M41.3 329.5h1.3M45.1 389.9v1.5M48.5 389.9v1.5M51.9 389.9v1.5M55.4 389.9v1.5M58.8 389.9v2.6M62.2 389.9v1.5M65.6 389.9v1.5M69.0 389.9v1.5M72.5 389.9v1.5M75.9 389.9v2.6M79.3 389.9v1.5M82.7 389.9v1.5M86.1 389.9v1.5M89.6 389.9v1.5M93.0 389.9v2.6M96.4 389.9v1.5M99.8 389.9v1.5M103.2 389.9v1.5M106.7 389.9v1.5M110.1 389.9v2.6M113.5 389.9v1.5M116.9 389.9v1.5M120.3 389.9v1.5M123.8 389.9v1.5M127.2 389.9v2.6M130.6 389.9v1.5" stroke="#555" stroke-width="0.7" fill="none"/><rect x="64.3" y="336.1" width="45.3" height="24.1" fill="none" stroke="#b31848" stroke-width="1.2"/><text x="83.0" y="383.5" font-size="8.9">5 weeks</text><rect x="144.4" y="327.0" width="88.3" height="62.9" fill="none" stroke="#999" stroke-width="0.9"/><path d="M141.8 334.1h2.6M143.1 344.9h1.3M143.1 342.2h1.3M143.1 340.2h1.3M143.1 338.7h1.3M143.1 337.5h1.3M143.1 336.5h1.3M143.1 335.6h1.3M143.1 334.8h1.3M141.8 349.3h2.6M143.1 360.1h1.3M143.1 357.4h1.3M143.1 355.4h1.3M143.1 353.9h1.3M143.1 352.7h1.3M143.1 351.7h1.3M143.1 350.8h1.3M143.1 350.0h1.3M141.8 365.2h2.6M143.1 376.0h1.3M143.1 373.3h1.3M143.1 371.3h1.3M143.1 369.8h1.3M143.1 368.6h1.3M143.1 367.6h1.3M143.1 366.7h1.3M143.1 365.9h1.3M141.8 380.7h2.6M143.1 388.8h1.3M143.1 386.8h1.3M143.1 385.3h1.3M143.1 384.1h1.3M143.1 383.1h1.3M143.1 382.2h1.3M143.1 381.4h1.3M143.1 329.5h1.3M146.9 389.9v1.5M150.4 389.9v1.5M153.8 389.9v1.5M157.2 389.9v1.5M160.6 389.9v2.6M164.0 389.9v1.5M167.5 389.9v1.5M170.9 389.9v1.5M174.3 389.9v1.5M177.7 389.9v2.6M181.1 389.9v1.5M184.6 389.9v1.5M188.0 389.9v1.5M191.4 389.9v1.5M194.8 389.9v2.6M198.2 389.9v1.5M201.7 389.9v1.5M205.1 389.9v1.5M208.5 389.9v1.5M211.9 389.9v2.6M215.3 389.9v1.5M218.8 389.9v1.5M222.2 389.9v1.5M225.6 389.9v1.5M229.0 389.9v2.6M232.4 389.9v1.5" stroke="#555" stroke-width="0.7" fill="none"/><rect x="163.6" y="336.1" width="45.6" height="24.1" fill="none" stroke="#b31848" stroke-width="1.2"/><text x="175.7" y="383.5" font-size="8.9">11 weeks</text><rect x="42.6" y="402.5" width="88.3" height="62.9" fill="none" stroke="#999" stroke-width="0.9"/><path d="M40.0 409.6h2.6M41.3 420.4h1.3M41.3 417.7h1.3M41.3 415.7h1.3M41.3 414.2h1.3M41.3 413.0h1.3M41.3 412.0h1.3M41.3 411.1h1.3M41.3 410.3h1.3M40.0 424.8h2.6M41.3 435.6h1.3M41.3 432.9h1.3M41.3 430.9h1.3M41.3 429.4h1.3M41.3 428.2h1.3M41.3 427.2h1.3M41.3 426.3h1.3M41.3 425.5h1.3M40.0 440.7h2.6M41.3 451.5h1.3M41.3 448.8h1.3M41.3 446.8h1.3M41.3 445.3h1.3M41.3 444.1h1.3M41.3 443.1h1.3M41.3 442.2h1.3M41.3 441.4h1.3M40.0 456.2h2.6M41.3 464.3h1.3M41.3 462.3h1.3M41.3 460.8h1.3M41.3 459.6h1.3M41.3 458.6h1.3M41.3 457.7h1.3M41.3 456.9h1.3M41.3 405.0h1.3M45.1 465.4v1.5M48.5 465.4v1.5M51.9 465.4v1.5M55.4 465.4v1.5M58.8 465.4v2.6M62.2 465.4v1.5M65.6 465.4v1.5M69.0 465.4v1.5M72.5 465.4v1.5M75.9 465.4v2.6M79.3 465.4v1.5M82.7 465.4v1.5M86.1 465.4v1.5M89.6 465.4v1.5M93.0 465.4v2.6M96.4 465.4v1.5M99.8 465.4v1.5M103.2 465.4v1.5M106.7 465.4v1.5M110.1 465.4v2.6M113.5 465.4v1.5M116.9 465.4v1.5M120.3 465.4v1.5M123.8 465.4v1.5M127.2 465.4v2.6M130.6 465.4v1.5" stroke="#555" stroke-width="0.7" fill="none"/><rect x="64.3" y="410.2" width="45.3" height="23.9" fill="none" stroke="#b31848" stroke-width="1.2"/><text x="83.0" y="459.0" font-size="8.9">6 weeks</text><rect x="144.4" y="402.5" width="88.3" height="62.9" fill="none" stroke="#999" stroke-width="0.9"/><path d="M141.8 409.6h2.6M143.1 420.4h1.3M143.1 417.7h1.3M143.1 415.7h1.3M143.1 414.2h1.3M143.1 413.0h1.3M143.1 412.0h1.3M143.1 411.1h1.3M143.1 410.3h1.3M141.8 424.8h2.6M143.1 435.6h1.3M143.1 432.9h1.3M143.1 430.9h1.3M143.1 429.4h1.3M143.1 428.2h1.3M143.1 427.2h1.3M143.1 426.3h1.3M143.1 425.5h1.3M141.8 440.7h2.6M143.1 451.5h1.3M143.1 448.8h1.3M143.1 446.8h1.3M143.1 445.3h1.3M143.1 444.1h1.3M143.1 443.1h1.3M143.1 442.2h1.3M143.1 441.4h1.3M141.8 456.2h2.6M143.1 464.3h1.3M143.1 462.3h1.3M143.1 460.8h1.3M143.1 459.6h1.3M143.1 458.6h1.3M143.1 457.7h1.3M143.1 456.9h1.3M143.1 405.0h1.3M146.9 465.4v1.5M150.4 465.4v1.5M153.8 465.4v1.5M157.2 465.4v1.5M160.6 465.4v2.6M164.0 465.4v1.5M167.5 465.4v1.5M170.9 465.4v1.5M174.3 465.4v1.5M177.7 465.4v2.6M181.1 465.4v1.5M184.6 465.4v1.5M188.0 465.4v1.5M191.4 465.4v1.5M194.8 465.4v2.6M198.2 465.4v1.5M201.7 465.4v1.5M205.1 465.4v1.5M208.5 465.4v1.5M211.9 465.4v2.6M215.3 465.4v1.5M218.8 465.4v1.5M222.2 465.4v1.5M225.6 465.4v1.5M229.0 465.4v2.6M232.4 465.4v1.5" stroke="#555" stroke-width="0.7" fill="none"/><rect x="163.6" y="410.2" width="45.6" height="23.9" fill="none" stroke="#b31848" stroke-width="1.2"/><text x="175.7" y="459.0" font-size="8.9">12 weeks</text>
<path d="M35.3 29V464.6" stroke="#222" stroke-width="1.3"/><path d="M35.3 25.2L32.6 31.2L38 31.2Z" fill="#111"/><path d="M42.7 472.9H225" stroke="#444" stroke-width="1.3"/><path d="M230.8 472.9L224.4 470.2L224.4 475.6Z" fill="#111"/><text transform="translate(29.3,254.3) rotate(-90) scale(0.55,1)" font-size="12.0" text-anchor="start" letter-spacing="1.3" style="stroke-width:0.6px">CD44</text><text transform="translate(130.0,486.5) scale(0.53,1)" font-size="11.6" text-anchor="start" letter-spacing="1.5" style="stroke-width:0.6px">FSC</text><text x="8.2" y="20.7" font-size="14.6" font-weight="bold" style="stroke-width:0.9px">A</text>
<path d="M307.5 25.2V140.3H474.3" stroke="#111" stroke-width="1.2" fill="none"/><text x="300" y="143.8" font-size="9.8" text-anchor="end">0</text><text x="300" y="115.9" font-size="9.8" text-anchor="end">10</text><text x="300" y="88.0" font-size="9.8" text-anchor="end">20</text><text x="300" y="60.1" font-size="9.8" text-anchor="end">30</text><text x="300" y="32.2" font-size="9.8" text-anchor="end">40</text><text x="307.5" y="156.7" font-size="9.8" text-anchor="middle">0</text><text x="359.1" y="156.7" font-size="9.8" text-anchor="middle">4</text><text x="410.7" y="156.7" font-size="9.8" text-anchor="middle">8</text><text x="462.3" y="156.7" font-size="9.8" text-anchor="middle">12</text><path d="M304.0 140.3h3.5M304.0 112.4h3.5M304.0 84.5h3.5M304.0 56.6h3.5M304.0 28.7h3.5M307.5 140.3v3.5M359.1 140.3v3.5M410.7 140.3v3.5M462.3 140.3v3.5" stroke="#111" stroke-width="1.1" fill="none"/><polyline points="320.4,122.1 333.3,94.4 346.2,60.6 359.1,84.5 372.0,77.3 384.9,93.2 397.8,96.0 410.7,99.6 423.6,88.8 436.5,93.4 449.4,81.8 462.3,84.5" fill="none" stroke="#1f3d7c" stroke-width="1.1"/><path d="M320.4 120.0V124.0M318.5 120.0h3.8M318.5 124.0h3.8M333.3 89.4V99.6M331.4 89.4h3.8M331.4 99.6h3.8M346.2 49.5V71.4M344.3 49.5h3.8M344.3 71.4h3.8M359.1 78.0V91.2M357.2 78.0h3.8M357.2 91.2h3.8M372.0 69.3V85.4M370.1 69.3h3.8M370.1 85.4h3.8M384.9 89.4V97.0M383.0 89.4h3.8M383.0 97.0h3.8M397.8 91.4V101.2M395.9 91.4h3.8M395.9 101.2h3.8M410.7 96.2V103.1M408.8 96.2h3.8M408.8 103.1h3.8M423.6 85.7V92.3M421.7 85.7h3.8M421.7 92.3h3.8M436.5 88.5V98.2M434.6 88.5h3.8M434.6 98.2h3.8M449.4 74.3V89.2M447.5 74.3h3.8M447.5 89.2h3.8M462.3 76.6V92.3M460.4 76.6h3.8M460.4 92.3h3.8" stroke="#1f3d7c" stroke-width="1.0" fill="none"/><circle cx="320.4" cy="122.1" r="1.6" fill="#1f3d7c"/><circle cx="333.3" cy="94.4" r="1.6" fill="#1f3d7c"/><circle cx="346.2" cy="60.6" r="1.6" fill="#1f3d7c"/><circle cx="359.1" cy="84.5" r="1.6" fill="#1f3d7c"/><circle cx="372.0" cy="77.3" r="1.6" fill="#1f3d7c"/><circle cx="384.9" cy="93.2" r="1.6" fill="#1f3d7c"/><circle cx="397.8" cy="96.0" r="1.6" fill="#1f3d7c"/><circle cx="410.7" cy="99.6" r="1.6" fill="#1f3d7c"/><circle cx="423.6" cy="88.8" r="1.6" fill="#1f3d7c"/><circle cx="436.5" cy="93.4" r="1.6" fill="#1f3d7c"/><circle cx="449.4" cy="81.8" r="1.6" fill="#1f3d7c"/><circle cx="462.3" cy="84.5" r="1.6" fill="#1f3d7c"/><text x="333.7" y="88.0" font-size="7.0" font-weight="bold" letter-spacing="0.75" text-anchor="middle" style="stroke-width:0.3px">*</text><text x="346.6" y="48.9" font-size="7.0" font-weight="bold" letter-spacing="0.75" text-anchor="middle" style="stroke-width:0.3px">****</text><text x="359.5" y="76.9" font-size="7.0" font-weight="bold" letter-spacing="0.75" text-anchor="middle" style="stroke-width:0.3px">***</text><text x="372.4" y="68.7" font-size="7.0" font-weight="bold" letter-spacing="0.75" text-anchor="middle" style="stroke-width:0.3px">****</text><text x="385.2" y="88.7" font-size="7.0" font-weight="bold" letter-spacing="0.75" text-anchor="middle" style="stroke-width:0.3px">**</text><text x="398.2" y="89.6" font-size="7.0" font-weight="bold" letter-spacing="0.75" text-anchor="middle" style="stroke-width:0.3px">*</text><text x="424.0" y="84.6" font-size="7.0" font-weight="bold" letter-spacing="0.75" text-anchor="middle" style="stroke-width:0.3px">***</text><text x="436.9" y="87.3" font-size="7.0" font-weight="bold" letter-spacing="0.75" text-anchor="middle" style="stroke-width:0.3px">**</text><text x="449.8" y="73.5" font-size="7.0" font-weight="bold" letter-spacing="0.75" text-anchor="middle" style="stroke-width:0.3px">**</text><text x="462.7" y="76.1" font-size="7.0" font-weight="bold" letter-spacing="0.75" text-anchor="middle" style="stroke-width:0.3px">***</text><text transform="translate(381.0,171.6) scale(0.715,1)" font-size="10.8" text-anchor="start" style="stroke-width:0.5px">Week</text><text transform="translate(281.9,116.6) rotate(-90) scale(0.725,1)" font-size="11.2" text-anchor="start" style="stroke-width:0.5px">Cell number (x10<tspan font-size="7.5" dy="-3.5">6</tspan><tspan dy="3.5">)</tspan></text><text x="312.2" y="18.1" font-size="11.1">Total bone marrow erythroblasts</text><text x="252.4" y="20.3" font-size="13.6" font-weight="bold" style="stroke-width:0.9px">B</text>
<path d="M307.5 210V325.05H478.2" stroke="#111" stroke-width="1.2" fill="none"/><text x="300" y="328.6" font-size="9.8" text-anchor="end">0</text><text x="300" y="291.3" font-size="9.8" text-anchor="end">50</text><text x="300" y="254.1" font-size="9.8" text-anchor="end">100</text><text x="300" y="216.8" font-size="9.8" text-anchor="end">150</text><text x="307.5" y="341.1" font-size="9.8" text-anchor="middle">0</text><text x="363.1" y="341.1" font-size="9.8" text-anchor="middle">5</text><text x="418.8" y="341.1" font-size="9.8" text-anchor="middle">10</text><text x="474.5" y="341.1" font-size="9.8" text-anchor="middle">15</text><path d="M304.0 325.1h3.5M304.0 287.8h3.5M304.0 250.6h3.5M304.0 213.3h3.5M307.5 325.05v3.5M318.6 325.05v2M329.8 325.05v2M340.9 325.05v2M352.0 325.05v2M363.1 325.05v3.5M374.3 325.05v2M385.4 325.05v2M396.5 325.05v2M407.7 325.05v2M418.8 325.05v3.5M429.9 325.05v2M441.1 325.05v2M452.2 325.05v2M463.3 325.05v2M474.5 325.05v3.5" stroke="#111" stroke-width="1.1" fill="none"/><polyline points="318.6,309.0 329.8,285.9 340.9,250.2 352.0,238.8 363.1,238.8 374.3,245.0 385.4,253.6 396.5,244.4 407.7,227.5 418.8,245.9 429.9,241.3 441.1,245.6" fill="none" stroke="#1f3d7c" stroke-width="1.1"/><path d="M329.8 280.7V290.5M327.9 280.7h3.8M327.9 290.5h3.8M340.9 238.8V261.3M339.0 238.8h3.8M339.0 261.3h3.8M352.0 231.2V247.5M350.1 231.2h3.8M350.1 247.5h3.8M363.1 229.6V249.0M361.2 229.6h3.8M361.2 249.0h3.8M374.3 239.8V249.9M372.4 239.8h3.8M372.4 249.9h3.8M385.4 248.0V259.8M383.5 248.0h3.8M383.5 259.8h3.8M396.5 236.7V252.7M394.6 236.7h3.8M394.6 252.7h3.8M407.7 222.8V232.0M405.8 222.8h3.8M405.8 232.0h3.8M418.8 241.9V251.2M416.9 241.9h3.8M416.9 251.2h3.8M429.9 233.3V250.2M428.0 233.3h3.8M428.0 250.2h3.8M441.1 237.3V254.8M439.2 237.3h3.8M439.2 254.8h3.8" stroke="#1f3d7c" stroke-width="1.0" fill="none"/><circle cx="318.6" cy="309.0" r="1.6" fill="#1f3d7c"/><circle cx="329.8" cy="285.9" r="1.6" fill="#1f3d7c"/><circle cx="340.9" cy="250.2" r="1.6" fill="#1f3d7c"/><circle cx="352.0" cy="238.8" r="1.6" fill="#1f3d7c"/><circle cx="363.1" cy="238.8" r="1.6" fill="#1f3d7c"/><circle cx="374.3" cy="245.0" r="1.6" fill="#1f3d7c"/><circle cx="385.4" cy="253.6" r="1.6" fill="#1f3d7c"/><circle cx="396.5" cy="244.4" r="1.6" fill="#1f3d7c"/><circle cx="407.7" cy="227.5" r="1.6" fill="#1f3d7c"/><circle cx="418.8" cy="245.9" r="1.6" fill="#1f3d7c"/><circle cx="429.9" cy="241.3" r="1.6" fill="#1f3d7c"/><circle cx="441.1" cy="245.6" r="1.6" fill="#1f3d7c"/><path d="M339 216.7H441" stroke="#111" stroke-width="1.1"/><text x="390.0" y="215.7" font-size="7.0" font-weight="bold" letter-spacing="0.75" text-anchor="middle" style="stroke-width:0.3px">****</text><text transform="translate(382.8,357.0) scale(0.715,1)" font-size="10.8" text-anchor="start" style="stroke-width:0.5px">Week</text><text transform="translate(276.2,301.4) rotate(-90) scale(0.725,1)" font-size="11.2" text-anchor="start" style="stroke-width:0.5px">Cell number (x10<tspan font-size="7.5" dy="-3.5">6</tspan><tspan dy="3.5">)</tspan></text><text x="334.6" y="202.9" font-size="11.1">Total bone marrow cells</text><text x="252.9" y="205.6" font-size="13.6" font-weight="bold" style="stroke-width:0.9px">C</text>
<rect x="307.4" y="400.3" width="166.1" height="111.3" stroke="#111" stroke-width="1.2" fill="none"/><text x="300" y="515.1" font-size="9.8" text-anchor="end">0</text><text x="481.0" y="515.1" font-size="9.8">0.0</text><text x="300" y="478.0" font-size="9.8" text-anchor="end">10</text><text x="481.0" y="478.0" font-size="9.8">0.1</text><text x="300" y="440.9" font-size="9.8" text-anchor="end">20</text><text x="481.0" y="440.9" font-size="9.8">0.2</text><text x="300" y="403.8" font-size="9.8" text-anchor="end">30</text><text x="481.0" y="403.8" font-size="9.8">0.3</text><text x="307.4" y="528.3" font-size="9.8" text-anchor="middle">0</text><text x="362.9" y="528.3" font-size="9.8" text-anchor="middle">5</text><text x="418.4" y="528.3" font-size="9.8" text-anchor="middle">10</text><text x="473.9" y="528.3" font-size="9.8" text-anchor="middle">15</text><path d="M303.9 511.6h3.5M473.5 511.6h3.5M303.9 474.5h3.5M473.5 474.5h3.5M303.9 437.4h3.5M473.5 437.4h3.5M303.9 400.3h3.5M473.5 400.3h3.5M307.4 511.6v3.5M318.5 511.6v2M329.6 511.6v2M340.7 511.6v2M351.8 511.6v2M362.9 511.6v3.5M374.0 511.6v2M385.1 511.6v2M396.2 511.6v2M407.3 511.6v2M418.4 511.6v3.5M429.5 511.6v2M440.6 511.6v2M451.7 511.6v2M462.8 511.6v2M473.9 511.6v3.5" stroke="#111" stroke-width="1.1" fill="none"/><polyline points="318.5,503.7 329.6,496.4 340.7,485.7 351.8,474.6 362.9,468.4 374.0,458.3 385.1,456.3 396.2,456.3 407.3,449.3 418.4,437.6 429.5,433.8 440.6,450.4" fill="none" stroke="#ad0a2e" stroke-width="1.1"/><path d="M340.7 482.6V489.2M338.8 482.6h3.8M338.8 489.2h3.8M351.8 471.2V478.0M349.9 471.2h3.8M349.9 478.0h3.8M362.9 464.2V472.9M361.0 464.2h3.8M361.0 472.9h3.8M374.0 454.5V461.5M372.1 454.5h3.8M372.1 461.5h3.8M385.1 450.4V462.5M383.2 450.4h3.8M383.2 462.5h3.8M396.2 446.9V463.2M394.3 446.9h3.8M394.3 463.2h3.8M407.3 446.2V453.2M405.4 446.2h3.8M405.4 453.2h3.8M418.4 430.7V444.5M416.5 430.7h3.8M416.5 444.5h3.8M429.5 432.4V435.2M427.6 432.4h3.8M427.6 435.2h3.8M440.6 445.2V456.3M438.7 445.2h3.8M438.7 456.3h3.8" stroke="#ad0a2e" stroke-width="1.0" fill="none"/><rect x="316.9" y="502.1" width="3.2" height="3.2" fill="#ad0a2e"/><rect x="328.0" y="494.8" width="3.2" height="3.2" fill="#ad0a2e"/><rect x="339.1" y="484.1" width="3.2" height="3.2" fill="#ad0a2e"/><rect x="350.2" y="473.0" width="3.2" height="3.2" fill="#ad0a2e"/><rect x="361.3" y="466.8" width="3.2" height="3.2" fill="#ad0a2e"/><rect x="372.4" y="456.7" width="3.2" height="3.2" fill="#ad0a2e"/><rect x="383.5" y="454.7" width="3.2" height="3.2" fill="#ad0a2e"/><rect x="394.6" y="454.7" width="3.2" height="3.2" fill="#ad0a2e"/><rect x="405.7" y="447.7" width="3.2" height="3.2" fill="#ad0a2e"/><rect x="416.8" y="436.0" width="3.2" height="3.2" fill="#ad0a2e"/><rect x="427.9" y="432.2" width="3.2" height="3.2" fill="#ad0a2e"/><rect x="439.0" y="448.8" width="3.2" height="3.2" fill="#ad0a2e"/><polyline points="318.5,496.1 329.6,483.3 340.7,469.4 351.8,444.5 362.9,437.9 374.0,431.0 385.1,426.8 396.2,417.2 407.3,418.9 418.4,412.3 429.5,410.6 440.6,420.3" fill="none" stroke="#1f3d7c" stroke-width="1.1"/><path d="M340.7 467.0V471.8M338.8 467.0h3.8M338.8 471.8h3.8M351.8 441.0V448.0M349.9 441.0h3.8M349.9 448.0h3.8M362.9 434.5V441.4M361.0 434.5h3.8M361.0 441.4h3.8M374.0 429.3V433.0M372.1 429.3h3.8M372.1 433.0h3.8M385.1 424.8V428.9M383.2 424.8h3.8M383.2 428.9h3.8M396.2 415.8V418.5M394.3 415.8h3.8M394.3 418.5h3.8M418.4 410.2V414.7M416.5 410.2h3.8M416.5 414.7h3.8M429.5 408.8V412.3M427.6 408.8h3.8M427.6 412.3h3.8M440.6 416.8V423.7M438.7 416.8h3.8M438.7 423.7h3.8" stroke="#1f3d7c" stroke-width="1.0" fill="none"/><circle cx="318.5" cy="496.1" r="1.6" fill="#1f3d7c"/><circle cx="329.6" cy="483.3" r="1.6" fill="#1f3d7c"/><circle cx="340.7" cy="469.4" r="1.6" fill="#1f3d7c"/><circle cx="351.8" cy="444.5" r="1.6" fill="#1f3d7c"/><circle cx="362.9" cy="437.9" r="1.6" fill="#1f3d7c"/><circle cx="374.0" cy="431.0" r="1.6" fill="#1f3d7c"/><circle cx="385.1" cy="426.8" r="1.6" fill="#1f3d7c"/><circle cx="396.2" cy="417.2" r="1.6" fill="#1f3d7c"/><circle cx="407.3" cy="418.9" r="1.6" fill="#1f3d7c"/><circle cx="418.4" cy="412.3" r="1.6" fill="#1f3d7c"/><circle cx="429.5" cy="410.6" r="1.6" fill="#1f3d7c"/><circle cx="440.6" cy="420.3" r="1.6" fill="#1f3d7c"/><path d="M398.5 483.4H410.3" stroke="#1f3d7c" stroke-width="1.1"/><circle cx="404.4" cy="483.4" r="1.6" fill="#1f3d7c"/><path d="M398.5 496.9H410.3" stroke="#ad0a2e" stroke-width="1.1"/><rect x="402.8" y="495.3" width="3.2" height="3.2" fill="#ad0a2e"/><text x="414.6" y="486.6" font-size="8.8">Body weight</text><text x="414.6" y="500.1" font-size="8.8">Bone weight</text><text transform="translate(380.8,543.8) scale(0.715,1)" font-size="10.8" text-anchor="start" style="stroke-width:0.5px">Week</text><text transform="translate(281.9,484.9) rotate(-90) scale(0.77,1)" font-size="11.2" text-anchor="start" style="stroke-width:0.5px">Body weight (g)</text><text transform="translate(502.3,427.4) rotate(90) scale(0.77,1)" font-size="11.2" text-anchor="start" style="stroke-width:0.5px">Bone weight (g)</text><text x="309.8" y="388.0" font-size="11.3">Body weight versus bone weight</text><text x="252.9" y="390.3" font-size="13.6" font-weight="bold" style="stroke-width:0.9px">D</text>
<path d="M1.5 553V1.5H518" stroke="#d2d2d2" stroke-width="1" fill="none"/><path d="M1 553.5H518.5V1" stroke="#b8b8b8" stroke-width="1" fill="none"/><rect x="0.5" y="0.5" width="519" height="554" fill="none" stroke="#000" stroke-width="1"/>
</svg>
</body></html>
